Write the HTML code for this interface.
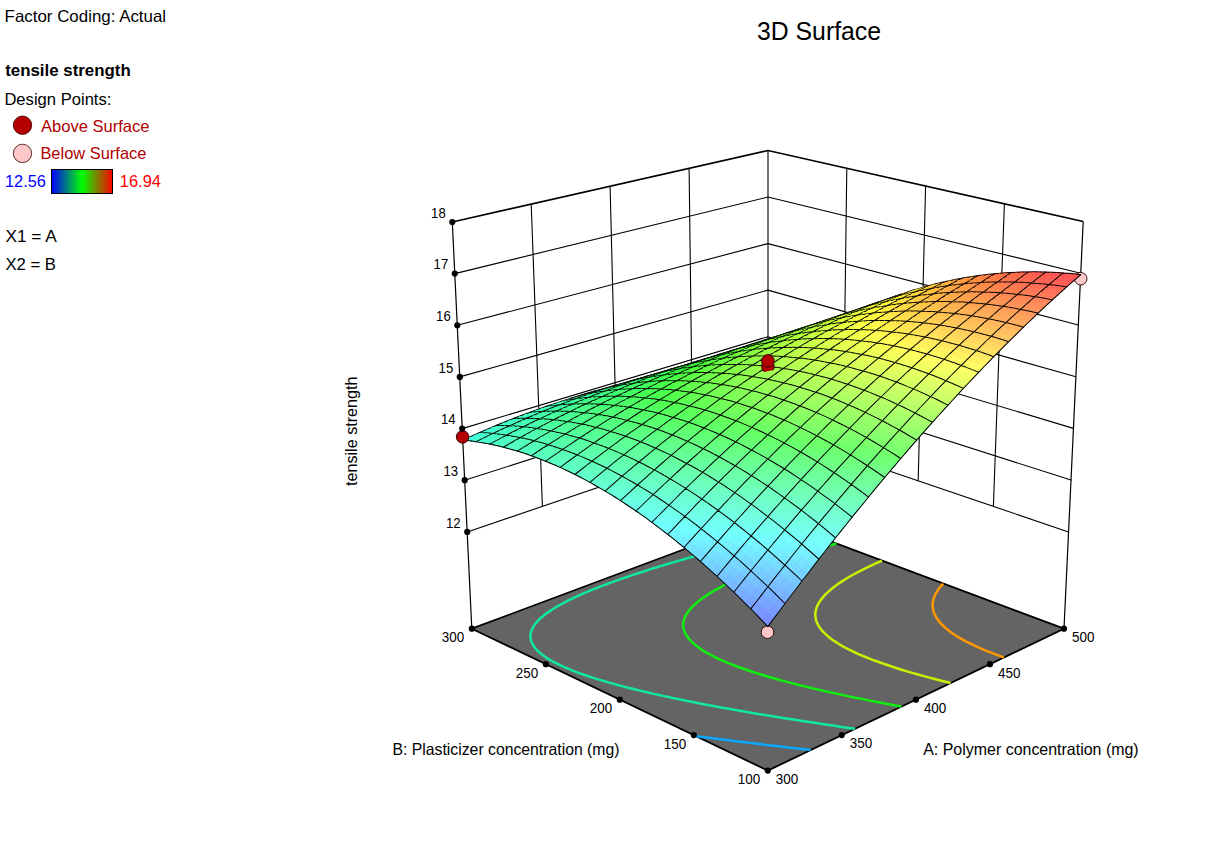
<!DOCTYPE html>
<html><head><meta charset="utf-8"><title>3D Surface</title>
<style>path.m{fill:none;stroke:#000;stroke-width:1.02px}html,body{margin:0;padding:0;background:#fff;overflow:hidden}body{width:1228px;height:864px;position:relative;font-family:"Liberation Sans",sans-serif}</style></head>
<body>
<svg width="1228" height="864" viewBox="0 0 1228 864" style="position:absolute;left:0;top:0">
<g fill="none" stroke="#000" stroke-width="1.1" stroke-linecap="round" stroke-linejoin="round">
<path d="M454.8,273.6 L768,197 L1080.8,273.2 M457.3,325.3 L768,243.6 L1078.3,325 M459.8,376.9 L767.9,290.1 L1075.9,376.7 M462.2,428.6 L767.9,336.7 L1073.4,428.4 M464.7,480.2 L767.9,383.2 L1071,480.1 M467.2,531.9 L767.9,429.8 L1068.5,531.9 M531.2,204.1 L542.4,506.3 M846.8,168.2 L843,455.3 M610.1,186.2 L617.5,480.8 M925.6,186 L918.2,480.8 M689.1,168.4 L692.7,455.3 M1004.4,203.8 L993.4,506.3"/>
</g>
<path d="M452.3,222 L768,150.5 L1083.2,221.5" fill="none" stroke="#000" stroke-width="1.6" stroke-linejoin="miter"/>
<path d="M768,150.5 L768,517.9" fill="none" stroke="#000" stroke-width="1.1"/>
<path d="M471.8,628.7 L767.8,770.6 L1064,628.7 L768,517.9Z" fill="#646464" stroke="#000" stroke-width="1.8" stroke-linejoin="round"/>
<polyline points="696.4,736.3 701.7,736.9 705.9,737.5 711.2,738.1 718.6,739.1 723.1,739.6 727.4,740.1 733.4,740.9 740.4,741.7 744.7,742.2 749.1,742.8 755.4,743.5 762.1,744.3 766.5,744.9 770.9,745.4 777.5,746.1 784.1,746.9 788.5,747.4 792.9,747.9 799.5,748.7 806.2,749.5 810.7,750 810.7,750" fill="none" stroke="#0aa8ff" stroke-width="2.5" stroke-linecap="butt"/>
<polyline points="798.9,529.4 793.5,530.7 788,532 785.3,532.7 779.8,534 775.6,535 771.7,536 766.2,537.4 762.8,538.2 758,539.4 752.6,540.8 749.6,541.6 744.4,542.9 739,544.3 735.7,545.1 730.8,546.4 725.3,547.8 721,549 717.2,550 711.7,551.5 706.3,553 703.6,553.7 698.2,555.2 692.8,556.7 687.9,558.1 684.7,559 679.3,560.6 673.9,562.1 668.5,563.7 665.9,564.5 660.5,566.1 655.2,567.8 649.9,569.4 644.6,571.1 642,572 636.7,573.7 631.5,575.4 626.3,577.2 621.1,578.9 615.9,580.8 610.8,582.6 605.8,584.5 600.7,586.4 595.8,588.3 590.8,590.3 586,592.4 581.2,594.4 576.4,596.6 574.1,597.7 569.5,599.9 565,602.1 560.7,604.5 558.5,605.7 554.3,608.2 551.9,609.7 548.4,612.1 546,613.8 542.9,616.2 541.2,617.7 538.3,620.4 536.6,622.3 535.2,623.9 533.8,625.9 532.4,628.3 531.5,630.6 530.8,632.7 530.5,634.8 530.4,636.7 530.6,638.6 531,640.4 532.1,643.3 533.2,645.3 534.3,646.9 536.7,649.8 538.2,651.3 541.3,654 544.4,656.3 546.7,657.9 550.7,660.3 555,662.7 559.6,664.9 564.3,667.1 569.3,669.2 574.5,671.3 579.9,673.3 582.6,674.3 588.2,676.2 594,678.1 598.1,679.4 602.9,680.8 609,682.6 612.1,683.4 618.4,685.2 623.8,686.6 628,687.7 634.6,689.3 637.9,690.1 644.6,691.7 647.9,692.5 654.8,694.1 658.2,694.8 665.2,696.4 668.7,697.1 675.5,698.6 679.3,699.3 684.9,700.5 690.1,701.5 694.1,702.3 701.1,703.7 704.8,704.4 712.2,705.8 716,706.5 721,707.4 727.3,708.5 731.1,709.2 738.3,710.5 742.5,711.2 746.9,712 754.1,713.2 758,713.9 763.8,714.8 769.8,715.8 773.7,716.4 780.4,717.5 785.7,718.4 789.6,719 796.9,720.1 801.7,720.9 805.7,721.5 813.2,722.6 817.9,723.3 822,723.9 829.3,725 834.3,725.8 838.4,726.4 845.4,727.4 850.9,728.2 855,728.8 855,728.8" fill="none" stroke="#10e89a" stroke-width="2.5" stroke-linecap="butt"/>
<polyline points="836.4,543.4 831.4,545 828.8,545.7 823.9,547.3 818.9,548.8 813.9,550.4 809.2,551.9 806.5,552.8 801.5,554.4 796.6,556.1 791.7,557.7 786.9,559.4 782,561.1 777.2,562.8 774.2,564 770.1,565.5 765.3,567.3 760.6,569.1 756,570.9 751.4,572.8 746.8,574.7 744.5,575.7 740,577.7 735.6,579.7 731.2,581.7 727,583.8 722.7,586 720.7,587.1 716.6,589.3 712.6,591.6 710.5,592.9 706.9,595.2 703.3,597.6 701.5,598.9 698.1,601.5 696.5,602.9 694,605.2 692,607.1 690.7,608.6 688.5,611.2 687.1,613.3 686.1,614.9 685.2,616.6 684.3,618.8 683.7,621 683.3,623.1 683.2,625.2 683.3,627.1 683.7,629 684.3,631.1 685.5,633.8 686.7,635.8 687.8,637.4 690.1,640.2 691.8,641.9 694.4,644.3 696.7,646.1 700.4,648.8 702.3,650.1 706.4,652.6 710.8,655 715.4,657.3 720.2,659.6 725.3,661.8 730.5,663.9 735.8,666 741.3,668 747,670 749.9,671 755.8,672.9 761.8,674.8 767.5,676.5 771,677.5 777.3,679.3 782,680.6 787,681.9 793.6,683.6 796.9,684.5 803.6,686.1 807,687 813.8,688.6 818.4,689.6 824.2,691 829.3,692.1 834.8,693.3 839.8,694.4 845.5,695.6 850,696.6 856.4,697.9 860.1,698.6 867.4,700.1 871.2,700.9 878.6,702.3 882.4,703 888.9,704.3 893.8,705.2 898.2,706 901.4,706.6" fill="none" stroke="#10f010" stroke-width="2.5" stroke-linecap="butt"/>
<polyline points="882,560.6 877.8,562.5 873.6,564.4 869.5,566.3 865.4,568.3 863.4,569.3 859.4,571.3 855.5,573.4 851.6,575.5 849.3,576.8 846.1,578.8 842.5,581.1 840.1,582.6 837.3,584.6 834,587 832.4,588.2 829.4,590.8 827.9,592.1 825.2,594.7 823.9,596.1 822.4,597.9 820.4,600.5 819.4,602 818.4,603.6 817.2,606.1 816.3,608.5 815.8,610.3 815.5,612.1 815.3,614 815.3,616 815.6,618.1 816.1,620.3 816.9,622.6 817.8,624.4 818.7,626.1 820,627.9 822.3,630.9 823.7,632.4 825.8,634.4 828.5,636.8 830.7,638.5 834,640.9 838.1,643.5 840.2,644.8 844.6,647.3 849.2,649.7 854,652 859,654.3 864.2,656.5 869.6,658.7 875.1,660.8 880.8,662.8 886.6,664.8 892.5,666.8 898.5,668.7 901.6,669.7 907.8,671.6 914.1,673.4 917.3,674.3 923.8,676.1 930.4,677.9 933.7,678.8 940.4,680.5 945.6,681.8 950.6,683 950.6,683" fill="none" stroke="#c8f000" stroke-width="2.5" stroke-linecap="butt"/>
<polyline points="943.3,583.6 941.3,585.7 939.7,587.6 938.7,589 936.8,591.8 935.9,593.3 935.1,594.8 934.2,597.1 933.4,599.6 933,601.3 932.7,603.1 932.6,604.9 932.7,606.8 933,608.8 933.4,610.8 934.1,613 935.1,615.2 936.4,617.5 937.5,619.2 938.7,620.8 940.5,623.1 942.9,625.5 944.5,627 947.7,629.7 949.8,631.4 953.3,633.9 955.7,635.5 960,638.1 962.2,639.3 966.8,641.8 971.6,644.2 976.6,646.6 981.8,648.9 985.7,650.6 989.8,652.2 995.4,654.4 998.2,655.4 1003.9,657.5 1003.9,657.5" fill="none" stroke="#ff9800" stroke-width="2.5" stroke-linecap="butt"/>
<path d="M452.3,222 L471.8,628.7 M1083.2,221.5 L1064,628.7" fill="none" stroke="#000" stroke-width="1.2"/>
<circle cx="767.5" cy="632.2" r="6.3" fill="#ffc8c8" stroke="#200" stroke-width="0.9"/>
<circle cx="1080.7" cy="278.7" r="6.3" fill="#ffc8c8" stroke="#200" stroke-width="0.9"/>
<g stroke-linejoin="round" stroke-linecap="round">
<path fill=#41dfff d="M767.9,362.8l4.9,.2l-4.9,4l-5-.3z"/>
<path class=m d="M763.4,366.5l4.5,0M772.4,363.2l-4.5,3.3"/>
<path fill=#40e4ff d="M763.3,362.9l5,.2l-4.9,3.9l-5-.3z"/>
<path class=m d="M758.8,366.6l4.6-.1"/>
<path fill=#40f1ff d="M772.4,359.5l5,.2l-5,3.9l-5-.2z"/>
<path class=m d="M776.9,359.8l-4.5,3.4"/>
<path fill=#40e9ff d="M758.8,363l5,.2l-5,3.8l-5-.2z"/>
<path class=m d="M754.3,366.7l4.5-.1"/>
<path fill=#3ff6ff d="M767.9,359.7l4.9,.1l-4.9,3.9l-5-.2z"/>
<path fill=#3ffffb d="M777,356.3l4.9,.1l-5,3.9l-4.9-.2z"/>
<path class=m d="M781.5,356.6l-4.6,3.2"/>
<path fill=#3feeff d="M754.2,363.2l5,.1l-4.9,3.8l-5-.2z"/>
<path class=m d="M749.7,366.8l4.6-.1M758.8,363.5l-4.5,3.2"/>
<path fill=#3ffbff d="M763.3,359.8l5,.1l-5,3.9l-4.9-.2z"/>
<path fill=#3ffff6 d="M772.4,356.5l5,.1l-5,3.8l-5-.1z"/>
<path fill=#3effe9 d="M781.6,353.1l4.9,.1l-5,3.8l-4.9-.1z"/>
<path class=m d="M777,356.7l4.5-.1M786.1,353.3l-4.6,3.3"/>
<path fill=#3ef3ff d="M749.6,363.4l5,.1l-4.9,3.7l-5-.1z"/>
<path class=m d="M745.1,367l4.6-.2"/>
<path fill=#3efffe d="M758.7,360.1l5,0l-4.9,3.8l-5-.1z"/>
<path class=m d="M763.3,360.3l-4.5,3.2"/>
<path fill=#3efff1 d="M767.9,356.7l5,.1l-5,3.8l-5-.1z"/>
<path fill=#3effe4 d="M777,353.4l5,0l-5,3.8l-5-.1z"/>
<path class=m d="M772.4,356.9l4.6-.2"/>
<path fill=#3ef8ff d="M745,363.6l5,.1l-4.9,3.7l-5-.1z"/>
<path class=m d="M740.5,367.1l4.6-.1"/>
<path fill=#3dffd7 d="M786.2,350l4.9,0l-5,3.8l-5-.1z"/>
<path class=m d="M790.7,350.2l-4.6,3.1"/>
<path fill=#3dfffa d="M754.1,360.3l5.1,.1l-5,3.7l-5-.1z"/>
<path fill=#3dffed d="M763.3,357l5,0l-5,3.7l-5,0z"/>
<path class=m d="M767.9,357.2l-4.6,3.1"/>
<path fill=#3dffe0 d="M772.5,353.7l4.9,0l-5,3.7l-5-.1z"/>
<path class=m d="M767.9,357.2l4.5-.3"/>
<path fill=#3dfcff d="M740.3,363.9l5.1,0l-4.9,3.7l-5.1-.1z"/>
<path class=m d="M735.9,367.4l4.6-.3M745,364.1l-4.5,3"/>
<path fill=#3dffd3 d="M781.6,350.3l5,0l-5,3.7l-5,0z"/>
<path fill=#3dfff5 d="M749.5,360.7l5.1-.1l-5,3.7l-5-.1z"/>
<path fill=#3cffc6 d="M790.8,346.9l5,0l-5.1,3.7l-4.9,0z"/>
<path class=m d="M795.3,347.1l-4.6,3.1"/>
<path fill=#3dffe8 d="M758.7,357.4l5-.1l-5,3.7l-5-.1z"/>
<path fill=#3cffdc d="M767.9,354l5,0l-5,3.6l-5,0z"/>
<path class=m d="M763.3,357.5l4.6-.3M772.5,354.1l-4.6,3.1"/>
<path fill=#3cfffd d="M735.7,364.3l5.1-.1l-4.9,3.6l-5.1,0z"/>
<path class=m d="M731.2,367.7l4.7-.3"/>
<path fill=#3cffcf d="M777.1,350.7l4.9-.1l-5,3.7l-5,0z"/>
<path fill=#3cfff1 d="M744.9,361l5,0l-4.9,3.5l-5.1,0z"/>
<path class=m d="M749.5,361.1l-4.5,3"/>
<path fill=#3cffc2 d="M786.3,347.3l4.9-.1l-5,3.7l-5,0z"/>
<path fill=#3cffe4 d="M754.1,357.7l5-.1l-5,3.6l-5,.1z"/>
<path fill=#3cffb4 d="M795.5,343.9l4.9-.1l-5.1,3.7l-4.9,.1z"/>
<path class=m d="M790.8,347.4l4.5-.3M800,344l-4.7,3.1"/>
<path fill=#3cffd7 d="M763.3,354.4l5-.1l-5,3.6l-5,.1z"/>
<path class=m d="M758.7,357.8l4.6-.3"/>
<path fill=#3cfff9 d="M731,364.6l5.1,0l-4.9,3.5l-5.1,0z"/>
<path class=m d="M726.5,368l4.7-.3"/>
<path fill=#3bffca d="M772.5,351.1l5-.1l-5,3.6l-5.1,0z"/>
<path class=m d="M777.1,351.1l-4.6,3"/>
<path fill=#3bffec d="M740.2,361.4l5.1-.1l-4.9,3.5l-5.1,.1z"/>
<path fill=#3bffbd d="M781.7,347.7l5-.1l-5.1,3.6l-5,.1z"/>
<path fill=#3bffe0 d="M749.4,358.1l5.1-.1l-5,3.6l-5,0z"/>
<path class=m d="M754.1,358.2l-4.6,2.9"/>
<path fill=#3bffb0 d="M790.9,344.4l5-.2l-5.1,3.6l-5,.1z"/>
<path class=m d="M786.3,347.8l4.5-.4"/>
<path fill=#3bffd3 d="M758.6,354.8l5.1-.1l-5,3.6l-5.1,0z"/>
<path class=m d="M754.1,358.2l4.6-.4"/>
<path fill=#3bffa3 d="M800.2,341l4.9-.2l-5.1,3.6l-5,.2z"/>
<path class=m d="M804.7,341l-4.7,3"/>
<path fill=#3bffc6 d="M767.9,351.5l5-.1l-5,3.5l-5.1,.1z"/>
<path fill=#3bfff5 d="M726.3,365l5.2-.1l-4.9,3.5l-5.2,.1z"/>
<path class=m d="M721.9,368.3l4.6-.3M731,365.1l-4.5,2.9"/>
<path fill=#3bffe8 d="M735.5,361.8l5.2-.1l-5,3.5l-5.1,0z"/>
<path fill=#3affb9 d="M777.1,348.2l5-.2l-5,3.6l-5,.1z"/>
<path class=m d="M781.7,348.2l-4.6,2.9"/>
<path fill=#3affdc d="M744.8,358.6l5.1-.2l-5,3.5l-5.1,.1z"/>
<path fill=#3affac d="M786.4,344.9l4.9-.2l-5.1,3.5l-4.9,.1z"/>
<path class=m d="M781.7,348.2l4.6-.4"/>
<path fill=#3affcf d="M754,355.3l5.1-.2l-5,3.5l-5.1,.1z"/>
<path class=m d="M749.4,358.6l4.7-.4M758.6,355.3l-4.5,2.9"/>
<path fill=#3aff9f d="M795.6,341.5l5-.2l-5.2,3.5l-4.9,.2z"/>
<path fill=#3affc2 d="M763.2,352l5.1-.2l-5,3.5l-5.1,.1z"/>
<path fill=#3afff1 d="M721.6,365.5l5.2-.2l-4.9,3.5l-5.2,0z"/>
<path class=m d="M717.2,368.7l4.7-.4"/>
<path fill=#3aff92 d="M804.9,338.1l4.9-.2l-5.1,3.5l-5,.2z"/>
<path class=m d="M809.4,338.1l-4.7,2.9"/>
<path fill=#3affb5 d="M772.5,348.7l5-.2l-5,3.5l-5.1,.1z"/>
<path fill=#3affe4 d="M730.8,362.3l5.2-.2l-4.9,3.4l-5.2,.1z"/>
<path class=m d="M735.6,362.3l-4.6,2.8"/>
<path fill=#3affd8 d="M740.1,359l5.1-.1l-4.9,3.4l-5.2,.1z"/>
<path fill=#39ffa8 d="M781.8,345.4l5-.2l-5.1,3.4l-5,.2z"/>
<path class=m d="M777.1,348.7l4.6-.5M786.3,345.3l-4.6,2.9"/>
<path fill=#39ffcb d="M749.3,355.8l5.1-.2l-4.9,3.4l-5.1,.2z"/>
<path class=m d="M744.8,359l4.6-.4"/>
<path fill=#39ff9b d="M791,342l5-.2l-5.1,3.5l-5,.2z"/>
<path fill=#39ffbe d="M758.6,352.5l5.1-.2l-5,3.4l-5.1,.2z"/>
<path class=m d="M763.2,352.5l-4.6,2.8"/>
<path fill=#39ffed d="M716.9,366l5.2-.2l-4.9,3.3l-5.2,.2z"/>
<path class=m d="M712.4,369.1l4.8-.4"/>
<path fill=#39ff8e d="M800.3,338.7l5-.3l-5.2,3.5l-4.9,.2z"/>
<path fill=#39ffb1 d="M767.9,349.2l5-.2l-5,3.4l-5.1,.2z"/>
<path fill=#39ffe0 d="M726.1,362.8l5.2-.2l-4.9,3.3l-5.2,.2z"/>
<path fill=#39ff81 d="M809.6,335.3l4.9-.3l-5.1,3.5l-5,.2z"/>
<path class=m d="M804.9,338.6l4.5-.5M814.1,335.2l-4.7,2.9"/>
<path fill=#39ffd4 d="M735.4,359.6l5.1-.3l-4.9,3.4l-5.2,.2z"/>
<path class=m d="M740.1,359.5l-4.5,2.8"/>
<path fill=#39ffa4 d="M777.2,345.9l5-.2l-5.1,3.4l-5,.2z"/>
<path class=m d="M772.5,349.1l4.6-.4"/>
<path fill=#39ffc7 d="M744.7,356.3l5.1-.2l-5,3.4l-5.1,.1z"/>
<path class=m d="M740.1,359.5l4.7-.5"/>
<path fill=#38ff97 d="M786.4,342.6l5-.3l-5.1,3.5l-5,.2z"/>
<path class=m d="M791,342.5l-4.7,2.8"/>
<path fill=#38ffba d="M753.9,353.1l5.1-.3l-5,3.4l-5.1,.2z"/>
<path fill=#38ff8a d="M795.7,339.3l5-.3l-5.1,3.4l-5,.2z"/>
<path fill=#39ffe9 d="M712.1,366.5l5.2-.2l-4.8,3.3l-5.2,.1z"/>
<path class=m d="M707.7,369.6l4.7-.5M716.9,366.4l-4.5,2.7"/>
<path fill=#38ffae d="M763.2,349.8l5.1-.3l-5,3.4l-5.1,.2z"/>
<path class=m d="M767.9,349.7l-4.7,2.8"/>
<path fill=#38ffdc d="M721.4,363.3l5.2-.2l-4.9,3.3l-5.2,.2z"/>
<path fill=#38ff7d d="M805.1,335.9l4.9-.3l-5.2,3.4l-4.9,.3z"/>
<path class=m d="M800.3,339.1l4.6-.5"/>
<path fill=#38ffa1 d="M772.5,346.5l5.1-.3l-5.1,3.4l-5.1,.2z"/>
<path class=m d="M767.9,349.7l4.6-.6"/>
<path fill=#38ffd0 d="M730.7,360.1l5.1-.2l-4.9,3.3l-5.2,.2z"/>
<path fill=#38ff70 d="M814.4,332.5l4.9-.3l-5.2,3.4l-4.9,.3z"/>
<path class=m d="M818.9,332.3l-4.8,2.9"/>
<path fill=#38ffc3 d="M740,356.9l5.1-.3l-5,3.3l-5.1,.3z"/>
<path class=m d="M735.4,360l4.7-.5M744.7,356.8l-4.6,2.7"/>
<path fill=#38ff94 d="M781.8,343.2l5.1-.3l-5.2,3.4l-5,.2z"/>
<path fill=#38ffb7 d="M749.2,353.7l5.2-.3l-5,3.3l-5.1,.2z"/>
<path fill=#37ff87 d="M791.1,339.9l5-.3l-5.1,3.3l-5,.3z"/>
<path class=m d="M795.7,339.7l-4.7,2.8"/>
<path fill=#38ffe5 d="M707.3,367.1l5.3-.3l-4.9,3.2l-5.2,.2z"/>
<path class=m d="M702.9,370.1l4.8-.5"/>
<path fill=#37ffaa d="M758.6,350.4l5.1-.3l-5.1,3.3l-5.1,.3z"/>
<path fill=#38ffd9 d="M716.6,363.9l5.3-.3l-4.9,3.3l-5.3,.2z"/>
<path class=m d="M721.4,363.8l-4.5,2.6"/>
<path fill=#37ff79 d="M800.5,336.5l4.9-.3l-5.1,3.4l-5,.3z"/>
<path class=m d="M795.7,339.7l4.6-.6"/>
<path fill=#37ff9d d="M767.9,347.2l5-.4l-5,3.3l-5.1,.3z"/>
<path class=m d="M763.2,350.3l4.7-.6M772.5,347l-4.6,2.7"/>
<path fill=#37ffcc d="M725.9,360.7l5.2-.3l-4.9,3.3l-5.2,.2z"/>
<path fill=#37ff6c d="M809.8,333.2l5-.4l-5.3,3.4l-4.9,.3z"/>
<path fill=#37ff90 d="M777.2,343.9l5-.4l-5.1,3.3l-5,.3z"/>
<path fill=#37ffc0 d="M735.2,357.5l5.2-.3l-5,3.3l-5.1,.2z"/>
<path class=m d="M730.7,360.6l4.7-.6"/>
<path fill=#37ff5f d="M819.2,329.8l4.9-.4l-5.3,3.4l-4.9,.3z"/>
<path class=m d="M823.7,329.6l-4.8,2.7"/>
<path fill=#37ffb3 d="M744.5,354.3l5.2-.3l-5,3.2l-5.1,.3z"/>
<path class=m d="M749.3,354.1l-4.6,2.7"/>
<path fill=#37ff83 d="M786.5,340.6l5-.4l-5.1,3.3l-5,.3z"/>
<path fill=#37ffe1 d="M702.6,367.7l5.2-.3l-4.8,3.1l-5.3,.3z"/>
<path class=m d="M698.1,370.6l4.8-.5"/>
<path fill=#37ffa6 d="M753.9,351.1l5.1-.4l-5,3.3l-5.2,.3z"/>
<path fill=#36ff76 d="M795.9,337.2l5-.4l-5.2,3.4l-5,.3z"/>
<path class=m d="M791.1,340.3l4.6-.6M800.4,337l-4.7,2.7"/>
<path fill=#37ffd5 d="M711.9,364.5l5.2-.3l-4.9,3.2l-5.2,.2z"/>
<path fill=#36ff9a d="M763.2,347.8l5.1-.3l-5.1,3.2l-5.1,.3z"/>
<path class=m d="M758.6,350.9l4.6-.6"/>
<path fill=#37ffc9 d="M721.2,361.4l5.2-.4l-4.9,3.2l-5.2,.3z"/>
<path class=m d="M726,361.2l-4.6,2.6"/>
<path fill=#36ff69 d="M805.2,333.9l5-.4l-5.2,3.3l-5,.3z"/>
<path fill=#36ff8d d="M772.5,344.6l5.1-.4l-5.1,3.2l-5.1,.4z"/>
<path class=m d="M777.2,344.3l-4.7,2.7"/>
<path fill=#36ffbc d="M730.5,358.2l5.2-.4l-5,3.2l-5.2,.3z"/>
<path class=m d="M726,361.2l4.7-.6"/>
<path fill=#36ff5b d="M814.6,330.5l4.9-.4l-5.2,3.3l-5,.4z"/>
<path fill=#36ffb0 d="M739.8,355l5.2-.4l-5,3.2l-5.2,.3z"/>
<path fill=#36ff80 d="M781.9,341.3l5-.4l-5.1,3.2l-5,.4z"/>
<path fill=#36ffde d="M697.7,368.3l5.4-.3l-4.9,3.1l-5.3,.3z"/>
<path class=m d="M693.3,371.2l4.8-.6M702.6,368.1l-4.5,2.5"/>
<path fill=#35ff4e d="M824,327.1l4.9-.4l-5.3,3.3l-4.9,.4z"/>
<path class=m d="M819.1,330.2l4.6-.6M828.5,326.8l-4.8,2.8"/>
<path fill=#36ffa3 d="M749.2,351.8l5.1-.4l-5,3.2l-5.2,.3z"/>
<path class=m d="M753.9,351.5l-4.6,2.6"/>
<path fill=#36ff73 d="M791.3,338l5-.5l-5.2,3.3l-5,.4z"/>
<path class=m d="M786.5,341l4.6-.7"/>
<path fill=#36ffd2 d="M707.1,365.2l5.2-.4l-4.8,3.1l-5.3,.3z"/>
<path fill=#36ff96 d="M758.5,348.6l5.1-.5l-5,3.2l-5.1,.4z"/>
<path class=m d="M753.9,351.5l4.7-.6"/>
<path fill=#35ff65 d="M800.6,334.6l5-.4l-5.2,3.2l-5,.4z"/>
<path class=m d="M805.2,334.3l-4.8,2.7"/>
<path fill=#36ffc5 d="M716.4,362l5.2-.3l-4.9,3.1l-5.2,.3z"/>
<path fill=#35ff89 d="M767.9,345.3l5.1-.4l-5.1,3.2l-5.1,.3z"/>
<path fill=#36ffb9 d="M725.7,358.9l5.3-.4l-5,3.1l-5.2,.4z"/>
<path class=m d="M721.2,361.8l4.8-.6M730.5,358.6l-4.5,2.6"/>
<path fill=#35ff58 d="M810,331.3l5-.5l-5.3,3.3l-4.9,.4z"/>
<path fill=#35ff7c d="M777.2,342l5.1-.4l-5.1,3.2l-5.1,.4z"/>
<path class=m d="M781.9,341.7l-4.7,2.6"/>
<path fill=#35ffac d="M735.1,355.7l5.2-.4l-5,3.1l-5.2,.4z"/>
<path fill=#35ff4b d="M819.4,327.9l4.9-.5l-5.2,3.3l-5,.4z"/>
<path class=m d="M814.5,331l4.6-.8"/>
<path fill=#36ffda d="M692.9,369l5.3-.4l-4.8,3.1l-5.3,.3z"/>
<path class=m d="M688.5,371.8l4.8-.6"/>
<path fill=#35ffa0 d="M744.4,352.5l5.2-.4l-5,3.1l-5.2,.4z"/>
<path fill=#35ff6f d="M786.6,338.7l5.1-.4l-5.2,3.2l-5,.4z"/>
<path class=m d="M781.9,341.7l4.6-.7"/>
<path fill=#35ffce d="M702.3,365.9l5.3-.4l-4.9,3l-5.3,.4z"/>
<path class=m d="M707.1,365.6l-4.5,2.5"/>
<path fill=#34ff3d d="M828.8,324.5l4.9-.5l-5.3,3.3l-4.9,.4z"/>
<path class=m d="M833.3,324.2l-4.8,2.6"/>
<path fill=#35ff93 d="M753.8,349.3l5.1-.4l-5,3.1l-5.1,.4z"/>
<path class=m d="M749.2,352.2l4.7-.7M758.5,349l-4.6,2.5"/>
<path fill=#34ff62 d="M796,335.4l5-.5l-5.2,3.2l-5,.5z"/>
<path fill=#35ffc2 d="M711.6,362.8l5.3-.5l-4.9,3.1l-5.3,.4z"/>
<path fill=#34ff86 d="M763.2,346.1l5.1-.5l-5.1,3.1l-5.1,.4z"/>
<path fill=#35ffb6 d="M721,359.6l5.2-.4l-4.9,3.1l-5.3,.3z"/>
<path class=m d="M716.5,362.5l4.7-.7"/>
<path fill=#34ff55 d="M805.4,332.1l5-.5l-5.2,3.2l-5,.4z"/>
<path class=m d="M810,331.7l-4.8,2.6"/>
<path fill=#34ff79 d="M772.6,342.8l5.1-.5l-5.2,3.2l-5.1,.4z"/>
<path fill=#35ffa9 d="M730.3,356.5l5.2-.5l-4.9,3.1l-5.2,.4z"/>
<path class=m d="M735.1,356.2l-4.6,2.4"/>
<path fill=#34ff48 d="M814.8,328.8l5-.6l-5.3,3.2l-5,.5z"/>
<path class=m d="M810,331.7l4.5-.7"/>
<path fill=#35ffd7 d="M688.1,369.7l5.3-.4l-4.8,3l-5.3,.3z"/>
<path class=m d="M683.7,372.5l4.8-.7"/>
<path fill=#34ff6c d="M782,339.6l5-.6l-5.1,3.2l-5.1,.4z"/>
<path class=m d="M777.2,342.5l4.7-.8M786.6,339.2l-4.7,2.5"/>
<path fill=#34ff9d d="M739.7,353.3l5.2-.5l-5,3.1l-5.2,.4z"/>
<path fill=#34ff3a d="M824.2,325.4l5-.6l-5.4,3.2l-4.9,.5z"/>
<path fill=#35ffcb d="M697.4,366.6l5.4-.4l-4.9,3l-5.3,.4z"/>
<path fill=#34ff90 d="M749.1,350.1l5.1-.5l-5,3.1l-5.2,.4z"/>
<path class=m d="M744.5,353l4.7-.8"/>
<path fill=#34ff5f d="M791.4,336.3l5-.6l-5.2,3.2l-5,.4z"/>
<path fill=#34ffbf d="M706.8,363.5l5.3-.4l-4.9,3l-5.3,.4z"/>
<path class=m d="M711.7,363.2l-4.6,2.4"/>
<path fill=#3aff33 d="M833.7,322l4.9-.6l-5.4,3.2l-4.9,.5z"/>
<path class=m d="M838.1,321.6l-4.8,2.6"/>
<path fill=#34ff83 d="M758.5,346.9l5.1-.5l-5.1,3.1l-5.1,.4z"/>
<path class=m d="M763.2,346.5l-4.7,2.5"/>
<path fill=#33ff52 d="M800.8,333l5-.6l-5.2,3.1l-5,.5z"/>
<path fill=#34ffb2 d="M716.2,360.4l5.2-.5l-4.9,3l-5.3,.5z"/>
<path class=m d="M711.7,363.2l4.8-.7"/>
<path fill=#33ff76 d="M767.9,343.7l5.1-.6l-5.1,3.1l-5.1,.5z"/>
<path fill=#34ffa6 d="M725.5,357.3l5.3-.5l-5,3l-5.2,.4z"/>
<path fill=#33ff45 d="M810.2,329.6l5-.6l-5.3,3.2l-5,.5z"/>
<path class=m d="M805.4,332.6l4.6-.9M814.8,329.2l-4.8,2.5"/>
<path fill=#34ffd4 d="M683.2,370.5l5.4-.5l-4.8,2.9l-5.4,.4z"/>
<path class=m d="M678.8,373.2l4.9-.7M688.2,370.2l-4.5,2.3"/>
<path fill=#33ff69 d="M777.3,340.4l5.1-.5l-5.2,3l-5.1,.5z"/>
<path class=m d="M772.6,343.3l4.6-.8"/>
<path fill=#33ff99 d="M734.9,354.1l5.3-.5l-5,3l-5.3,.5z"/>
<path class=m d="M739.7,353.8l-4.6,2.4"/>
<path fill=#33ff37 d="M819.6,326.3l5-.6l-5.3,3.1l-5,.6z"/>
<path fill=#34ffc8 d="M692.6,367.4l5.3-.5l-4.8,3l-5.4,.4z"/>
<path fill=#33ff8d d="M744.3,350.9l5.2-.5l-5,3l-5.2,.5z"/>
<path class=m d="M739.7,353.8l4.8-.8"/>
<path fill=#33ff5c d="M786.7,337.1l5.1-.5l-5.2,3l-5.1,.6z"/>
<path class=m d="M791.3,336.7l-4.7,2.5"/>
<path fill=#33ffbc d="M701.9,364.3l5.4-.5l-4.9,3l-5.3,.4z"/>
<path fill=#3bff33 d="M829.1,322.9l4.9-.6l-5.3,3.1l-5,.6z"/>
<path fill=#33ff80 d="M753.7,347.8l5.2-.6l-5.1,3l-5.1,.5z"/>
<path fill=#33ff4f d="M796.1,333.8l5.1-.5l-5.3,3l-5,.6z"/>
<path fill=#33ffaf d="M711.3,361.2l5.3-.5l-4.9,3l-5.3,.4z"/>
<path class=m d="M706.9,364l4.8-.8M716.2,360.9l-4.5,2.3"/>
<path fill=#49ff32 d="M838.5,319.5l4.9-.6l-5.4,3.1l-4.8,.6z"/>
<path class=m d="M833.6,322.4l4.5-.8M843,319l-4.9,2.6"/>
<path fill=#33ff73 d="M763.2,344.5l5.1-.5l-5.1,3l-5.1,.5z"/>
<path class=m d="M767.9,344.1l-4.7,2.4"/>
<path fill=#32ff42 d="M805.6,330.5l5-.6l-5.3,3.1l-5,.6z"/>
<path class=m d="M800.7,333.4l4.7-.8"/>
<path fill=#33ffa3 d="M720.7,358.1l5.3-.5l-4.9,2.9l-5.3,.5z"/>
<path fill=#33ffd1 d="M678.3,371.3l5.4-.5l-4.8,2.8l-5.4,.5z"/>
<path class=m d="M673.9,374l4.9-.8"/>
<path fill=#32ff66 d="M772.6,341.3l5.1-.6l-5.1,3l-5.2,.6z"/>
<path class=m d="M767.9,344.1l4.7-.8"/>
<path fill=#33ff97 d="M730.1,355l5.3-.6l-5,3l-5.2,.5z"/>
<path fill=#32ff34 d="M815,327.2l5-.6l-5.3,3l-5,.6z"/>
<path class=m d="M819.6,326.7l-4.8,2.5"/>
<path fill=#33ffc5 d="M687.7,368.2l5.4-.5l-4.8,2.9l-5.4,.5z"/>
<path class=m d="M692.7,367.9l-4.5,2.3"/>
<path fill=#32ff59 d="M782,338.1l5.1-.7l-5.2,3.1l-5.1,.5z"/>
<path fill=#32ff8a d="M739.6,351.8l5.2-.5l-5,2.9l-5.3,.5z"/>
<path class=m d="M735,354.6l4.7-.8M744.4,351.4l-4.7,2.4"/>
<path fill=#3dff32 d="M824.5,323.9l4.9-.7l-5.3,3.1l-4.9,.6z"/>
<path fill=#33ffb9 d="M697.1,365.2l5.4-.6l-4.9,2.9l-5.4,.5z"/>
<path fill=#32ff7d d="M749,348.7l5.2-.6l-5.1,2.9l-5.2,.5z"/>
<path fill=#32ff4c d="M791.5,334.8l5-.7l-5.2,3.1l-5,.5z"/>
<path class=m d="M796.1,334.3l-4.8,2.4"/>
<path fill=#32ffad d="M706.5,362.1l5.3-.6l-4.9,2.9l-5.3,.5z"/>
<path class=m d="M702,364.8l4.9-.8"/>
<path fill=#4aff31 d="M834,320.5l4.9-.7l-5.4,3.1l-4.9,.6z"/>
<path class=m d="M829,323.4l4.6-1"/>
<path fill=#32ff70 d="M758.4,345.5l5.2-.7l-5.1,3l-5.2,.5z"/>
<path fill=#31ff3f d="M800.9,331.5l5.1-.7l-5.3,3.1l-5,.5z"/>
<path class=m d="M796.1,334.3l4.6-.9"/>
<path fill=#32ffa0 d="M715.9,359l5.3-.6l-4.9,2.9l-5.3,.5z"/>
<path class=m d="M720.8,358.6l-4.6,2.3"/>
<path fill=#57ff31 d="M843.4,317.1l4.9-.7l-5.4,3.1l-4.9,.6z"/>
<path class=m d="M847.9,316.6l-4.9,2.4"/>
<path fill=#32ffce d="M673.4,372.1l5.4-.5l-4.7,2.8l-5.5,.5z"/>
<path class=m d="M669,374.7l4.9-.7"/>
<path fill=#32ff64 d="M767.9,342.2l5.1-.6l-5.1,3l-5.2,.5z"/>
<path class=m d="M763.2,345l4.7-.9M772.6,341.8l-4.7,2.3"/>
<path fill=#32ff94 d="M725.3,355.9l5.3-.6l-5,2.9l-5.2,.5z"/>
<path fill=#31ff32 d="M810.4,328.2l5-.7l-5.3,3l-5,.6z"/>
<path fill=#32ffc2 d="M682.8,369.1l5.4-.6l-4.8,2.9l-5.4,.5z"/>
<path fill=#31ff57 d="M777.3,339l5.1-.6l-5.1,2.9l-5.1,.6z"/>
<path fill=#32ff87 d="M734.8,352.8l5.2-.7l-5,2.9l-5.2,.6z"/>
<path class=m d="M730.2,355.4l4.8-.8"/>
<path fill=#3eff31 d="M819.9,324.9l4.9-.7l-5.3,3l-5,.6z"/>
<path class=m d="M824.4,324.3l-4.8,2.4"/>
<path fill=#32ffb6 d="M692.2,366.1l5.4-.6l-4.8,2.8l-5.4,.5z"/>
<path class=m d="M697.2,365.6l-4.5,2.3"/>
<path fill=#31ff4a d="M786.8,335.8l5.1-.7l-5.2,2.9l-5.1,.7z"/>
<path fill=#31ff7b d="M744.2,349.6l5.2-.6l-5,2.8l-5.2,.6z"/>
<path class=m d="M749,349.1l-4.6,2.3"/>
<path fill=#4bff31 d="M829.4,321.5l4.9-.7l-5.4,3l-4.9,.7z"/>
<path class=m d="M824.4,324.3l4.6-.9"/>
<path fill=#32ffaa d="M701.6,363l5.4-.6l-4.9,2.8l-5.3,.6z"/>
<path class=m d="M697.2,365.6l4.8-.8"/>
<path fill=#31ff6e d="M753.7,346.4l5.2-.6l-5.1,2.9l-5.2,.5z"/>
<path fill=#31ff3c d="M796.3,332.5l5-.7l-5.2,2.9l-5.1,.7z"/>
<path class=m d="M791.4,335.2l4.7-.9M800.9,331.9l-4.8,2.4"/>
<path fill=#31ff9d d="M711.1,359.9l5.3-.6l-4.9,2.8l-5.3,.6z"/>
<path fill=#58ff30 d="M838.9,318.1l4.9-.7l-5.4,3l-4.9,.7z"/>
<path fill=#32ffcb d="M668.5,373l5.4-.6l-4.7,2.8l-5.5,.5z"/>
<path class=m d="M664.1,375.6l4.9-.9M673.5,372.6l-4.5,2.1"/>
<path fill=#31ff61 d="M763.1,343.2l5.2-.6l-5.1,2.8l-5.2,.7z"/>
<path class=m d="M758.4,345.9l4.8-.9"/>
<path fill=#32ff30 d="M805.8,329.2l5-.7l-5.3,2.9l-5,.7z"/>
<path fill=#31ff91 d="M720.5,356.8l5.3-.6l-4.9,2.8l-5.3,.6z"/>
<path class=m d="M725.4,356.3l-4.6,2.3"/>
<path fill=#65ff30 d="M848.4,314.7l4.8-.7l-5.4,3l-4.9,.7z"/>
<path class=m d="M852.8,314.1l-4.9,2.5"/>
<path fill=#31ffbf d="M677.9,370l5.4-.6l-4.7,2.8l-5.5,.5z"/>
<path fill=#30ff54 d="M772.6,340l5.1-.7l-5.1,2.9l-5.2,.6z"/>
<path class=m d="M777.3,339.5l-4.7,2.3"/>
<path fill=#31ff85 d="M730,353.7l5.2-.6l-4.9,2.8l-5.3,.6z"/>
<path class=m d="M725.4,356.3l4.8-.9"/>
<path fill=#3fff30 d="M815.3,325.9l4.9-.8l-5.3,3l-5,.7z"/>
<path fill=#31ffb3 d="M687.3,367l5.4-.6l-4.8,2.7l-5.4,.6z"/>
<path fill=#30ff47 d="M782.1,336.8l5.1-.7l-5.2,2.9l-5.1,.6z"/>
<path fill=#30ff78 d="M739.4,350.6l5.3-.7l-5.1,2.8l-5.2,.6z"/>
<path fill=#4bff30 d="M824.8,322.6l4.9-.8l-5.4,2.9l-4.9,.7z"/>
<path class=m d="M819.8,325.3l4.6-1M829.3,321.9l-4.9,2.4"/>
<path fill=#31ffa7 d="M696.7,364l5.5-.7l-4.9,2.8l-5.4,.6z"/>
<path class=m d="M692.3,366.5l4.9-.9M701.7,363.5l-4.5,2.1"/>
<path fill=#30ff6b d="M748.9,347.4l5.2-.7l-5.1,2.9l-5.2,.6z"/>
<path class=m d="M753.7,346.9l-4.7,2.2"/>
<path fill=#30ff3a d="M791.6,333.5l5.1-.7l-5.3,2.9l-5.1,.7z"/>
<path class=m d="M786.8,336.2l4.6-1"/>
<path fill=#30ff9b d="M706.2,360.9l5.4-.7l-4.9,2.8l-5.4,.6z"/>
<path fill=#58ff30 d="M834.3,319.2l4.9-.8l-5.4,3l-4.9,.7z"/>
<path fill=#31ffc9 d="M663.5,374l5.5-.7l-4.7,2.7l-5.5,.6z"/>
<path class=m d="M659.2,376.4l4.9-.8"/>
<path fill=#30ff5e d="M758.4,344.3l5.2-.8l-5.1,2.9l-5.2,.6z"/>
<path class=m d="M753.7,346.9l4.7-1"/>
<path fill=#32ff30 d="M801.1,330.3l5-.8l-5.3,2.9l-5,.7z"/>
<path class=m d="M805.7,329.6l-4.8,2.3"/>
<path fill=#30ff8f d="M715.7,357.8l5.3-.7l-4.9,2.8l-5.4,.6z"/>
<path fill=#66ff2f d="M843.8,315.8l4.9-.8l-5.5,3l-4.9,.7z"/>
<path fill=#30ffbd d="M672.9,371l5.5-.7l-4.7,2.7l-5.5,.6z"/>
<path class=m d="M678,370.5l-4.5,2.1"/>
<path fill=#30ff52 d="M767.9,341.1l5.1-.8l-5.1,2.8l-5.2,.7z"/>
<path fill=#3fff2f d="M810.6,327l5-.8l-5.3,2.9l-5,.7z"/>
<path fill=#30ff82 d="M725.1,354.7l5.4-.7l-5,2.8l-5.3,.6z"/>
<path class=m d="M720.6,357.3l4.8-1M730,354.2l-4.6,2.1"/>
<path fill=#73ff2f d="M853.3,312.5l4.9-.9l-5.5,3l-4.9,.7z"/>
<path class=m d="M848.3,315.2l4.5-1.1M857.8,311.8l-5,2.3"/>
<path fill=#30ffb1 d="M682.4,368l5.5-.7l-4.8,2.7l-5.5,.6z"/>
<path fill=#2fff45 d="M777.4,337.8l5.1-.7l-5.2,2.8l-5.1,.7z"/>
<path class=m d="M782.1,337.2l-4.8,2.3"/>
<path fill=#30ff76 d="M734.6,351.6l5.3-.7l-5,2.7l-5.3,.7z"/>
<path fill=#4cff2f d="M820.1,323.7l5-.8l-5.4,2.8l-4.9,.8z"/>
<path class=m d="M815.2,326.3l4.6-1"/>
<path fill=#30ffa5 d="M691.8,365l5.5-.7l-4.9,2.6l-5.4,.7z"/>
<path class=m d="M687.4,367.4l4.9-.9"/>
<path fill=#2fff37 d="M786.9,334.6l5.1-.8l-5.3,2.9l-5.1,.7z"/>
<path class=m d="M782.1,337.2l4.7-1"/>
<path fill=#2fff69 d="M744.1,348.5l5.3-.8l-5.1,2.8l-5.3,.7z"/>
<path fill=#59ff2f d="M829.7,320.3l4.9-.8l-5.4,2.9l-5,.8z"/>
<path class=m d="M834.2,319.7l-4.9,2.2"/>
<path fill=#30ff98 d="M701.3,361.9l5.4-.7l-4.9,2.7l-5.4,.6z"/>
<path class=m d="M706.3,361.3l-4.6,2.2"/>
<path fill=#30ffc6 d="M658.5,375l5.6-.7l-4.7,2.6l-5.6,.6z"/>
<path class=m d="M654.2,377.4l5-1"/>
<path fill=#2fff5c d="M753.6,345.3l5.2-.7l-5.1,2.7l-5.2,.7z"/>
<path class=m d="M748.9,347.9l4.8-1M758.4,344.7l-4.7,2.2"/>
<path fill=#33ff2f d="M796.4,331.4l5.1-.8l-5.3,2.8l-5.1,.7z"/>
<path fill=#2fff8c d="M710.8,358.9l5.4-.8l-4.9,2.7l-5.4,.7z"/>
<path fill=#66ff2e d="M839.2,317l4.9-.9l-5.4,2.9l-5,.8z"/>
<path fill=#30ffba d="M668,372l5.5-.7l-4.7,2.6l-5.6,.6z"/>
<path fill=#2fff4f d="M763.1,342.1l5.2-.7l-5.1,2.7l-5.2,.7z"/>
<path fill=#40ff2e d="M805.9,328.1l5.1-.8l-5.4,2.8l-5,.8z"/>
<path class=m d="M810.5,327.4l-4.8,2.2"/>
<path fill=#2fff80 d="M720.3,355.8l5.3-.8l-4.9,2.7l-5.4,.7z"/>
<path class=m d="M715.8,358.3l4.8-1"/>
<path fill=#73ff2e d="M848.8,313.6l4.8-.9l-5.5,2.9l-4.8,.8z"/>
<path class=m d="M843.7,316.3l4.6-1.1"/>
<path fill=#2fffae d="M677.4,369l5.6-.7l-4.8,2.6l-5.5,.6z"/>
<path class=m d="M682.5,368.4l-4.5,2.1"/>
<path fill=#2eff42 d="M772.6,339l5.2-.8l-5.2,2.7l-5.2,.8z"/>
<path fill=#4dff2e d="M815.5,324.8l5-.8l-5.4,2.8l-5,.8z"/>
<path class=m d="M810.5,327.4l4.7-1.1"/>
<path fill=#2fff73 d="M729.8,352.7l5.3-.8l-5,2.7l-5.3,.7z"/>
<path class=m d="M734.7,352.1l-4.7,2.1"/>
<path fill=#81ff2e d="M858.3,310.2l4.9-.9l-5.6,2.9l-4.8,.8z"/>
<path class=m d="M862.7,309.5l-4.9,2.3"/>
<path fill=#2fffa2 d="M686.9,366l5.5-.7l-4.8,2.6l-5.5,.6z"/>
<path class=m d="M682.5,368.4l4.9-1"/>
<path fill=#2eff35 d="M782.2,335.7l5.1-.8l-5.3,2.8l-5.1,.7z"/>
<path class=m d="M777.4,338.3l4.7-1.1M786.9,335.1l-4.8,2.1"/>
<path fill=#2eff67 d="M739.3,349.6l5.3-.8l-5.1,2.7l-5.3,.7z"/>
<path fill=#5aff2e d="M825,321.5l5-.9l-5.4,2.8l-5,.9z"/>
<path fill=#2fff96 d="M696.4,363l5.5-.8l-4.9,2.6l-5.4,.7z"/>
<path fill=#2fffc4 d="M653.5,376l5.6-.8l-4.7,2.6l-5.6,.6z"/>
<path class=m d="M649.3,378.3l4.9-.9M658.7,375.4l-4.5,2"/>
<path fill=#34ff2e d="M791.7,332.5l5.1-.8l-5.3,2.7l-5.1,.8z"/>
<path fill=#2eff5a d="M748.8,346.4l5.3-.8l-5.1,2.7l-5.3,.8z"/>
<path class=m d="M744.1,348.9l4.8-1"/>
<path fill=#67ff2e d="M834.6,318.2l4.9-.9l-5.4,2.8l-5,.8z"/>
<path class=m d="M839.1,317.4l-4.9,2.3"/>
<path fill=#2eff8a d="M705.9,359.9l5.4-.7l-4.9,2.6l-5.4,.7z"/>
<path class=m d="M710.9,359.3l-4.6,2"/>
<path fill=#2fffb8 d="M663,373l5.6-.7l-4.7,2.5l-5.6,.7z"/>
<path fill=#2eff4d d="M758.3,343.3l5.2-.8l-5.1,2.7l-5.2,.7z"/>
<path class=m d="M763.1,342.6l-4.7,2.1"/>
<path fill=#40ff2e d="M801.3,329.3l5-.9l-5.3,2.8l-5.1,.8z"/>
<path fill=#2eff7d d="M715.4,356.9l5.4-.8l-4.9,2.6l-5.4,.7z"/>
<path class=m d="M710.9,359.3l4.9-1"/>
<path fill=#74ff2d d="M844.2,314.8l4.8-.9l-5.5,2.8l-4.8,.9z"/>
<path class=m d="M839.1,317.4l4.6-1.1"/>
<path fill=#2effac d="M672.5,370.1l5.5-.8l-4.7,2.5l-5.6,.7z"/>
<path fill=#2eff40 d="M767.9,340.1l5.1-.8l-5.1,2.7l-5.2,.7z"/>
<path fill=#4dff2d d="M810.8,326l5-.9l-5.3,2.8l-5.1,.8z"/>
<path class=m d="M805.9,328.5l4.6-1.1M815.4,325.2l-4.9,2.2"/>
<path fill=#2eff71 d="M724.9,353.8l5.4-.8l-5,2.6l-5.4,.8z"/>
<path fill=#81ff2d d="M853.8,311.5l4.8-1l-5.5,2.8l-4.9,.9z"/>
<path fill=#2effa0 d="M682,367.1l5.5-.8l-4.8,2.5l-5.5,.8z"/>
<path class=m d="M677.6,369.4l4.9-1M687.1,366.4l-4.6,2"/>
<path fill=#2dff33 d="M777.4,336.9l5.2-.9l-5.3,2.7l-5.1,.8z"/>
<path class=m d="M772.6,339.4l4.8-1.1"/>
<path fill=#2eff64 d="M734.4,350.7l5.4-.8l-5.1,2.6l-5.3,.8z"/>
<path class=m d="M739.3,350l-4.6,2.1"/>
<path fill=#5aff2d d="M820.4,322.7l5-.9l-5.5,2.7l-4.9,.9z"/>
<path fill=#2eff94 d="M691.5,364.1l5.5-.8l-4.9,2.5l-5.5,.8z"/>
<path fill=#8eff2d d="M863.3,308.1l4.9-1l-5.6,2.8l-4.9,.9z"/>
<path class=m d="M867.7,307.2l-5,2.3"/>
<path fill=#2effc2 d="M648.5,377.1l5.7-.9l-4.7,2.5l-5.7,.7z"/>
<path class=m d="M644.3,379.3l5-1"/>
<path fill=#34ff2d d="M787,333.7l5.1-.9l-5.3,2.7l-5.1,.8z"/>
<path class=m d="M791.7,333l-4.8,2.1"/>
<path fill=#2dff58 d="M744,347.6l5.3-.9l-5.1,2.7l-5.3,.8z"/>
<path class=m d="M739.3,350l4.8-1.1"/>
<path fill=#67ff2d d="M830,319.4l4.9-1l-5.5,2.8l-4.9,.9z"/>
<path fill=#2eff88 d="M701,361.1l5.5-.9l-4.9,2.6l-5.5,.7z"/>
<path fill=#2effb6 d="M658,374.1l5.6-.8l-4.7,2.5l-5.6,.7z"/>
<path class=m d="M663.2,373.4l-4.5,2"/>
<path fill=#41ff2d d="M796.5,330.5l5.1-.9l-5.3,2.7l-5.1,.8z"/>
<path fill=#2dff4b d="M753.5,344.5l5.3-.9l-5.1,2.6l-5.3,.8z"/>
<path fill=#74ff2c d="M839.6,316.1l4.8-1l-5.5,2.7l-4.9,.9z"/>
<path class=m d="M834.5,318.6l4.6-1.2M844,315.2l-4.9,2.2"/>
<path fill=#2dff7b d="M710.5,358l5.4-.8l-4.9,2.5l-5.4,.8z"/>
<path class=m d="M706,360.4l4.9-1.1M715.5,357.3l-4.6,2"/>
<path fill=#2effaa d="M667.5,371.2l5.6-.9l-4.7,2.5l-5.6,.8z"/>
<path fill=#2dff3e d="M763.1,341.3l5.2-.9l-5.2,2.6l-5.2,.9z"/>
<path class=m d="M767.9,340.6l-4.8,2"/>
<path fill=#4dff2c d="M806.1,327.2l5.1-.9l-5.4,2.7l-5,.8z"/>
<path class=m d="M801.2,329.7l4.7-1.2"/>
<path fill=#2dff6f d="M720,355l5.4-.9l-4.9,2.6l-5.4,.8z"/>
<path fill=#81ff2c d="M849.2,312.7l4.8-1l-5.5,2.8l-4.9,.9z"/>
<path fill=#2dff9e d="M677,368.2l5.6-.8l-4.8,2.4l-5.6,.8z"/>
<path class=m d="M672.7,370.5l4.9-1.1"/>
<path fill=#2cff31 d="M772.7,338.1l5.1-.9l-5.2,2.7l-5.2,.8z"/>
<path class=m d="M767.9,340.6l4.7-1.2"/>
<path fill=#5aff2c d="M815.7,324l5-1l-5.4,2.7l-5,.9z"/>
<path class=m d="M820.3,323.1l-4.9,2.1"/>
<path fill=#2dff62 d="M729.6,351.9l5.4-.9l-5.1,2.6l-5.3,.8z"/>
<path fill=#8eff2c d="M858.8,309.4l4.8-1.1l-5.6,2.8l-4.8,.9z"/>
<path fill=#2dff92 d="M686.5,365.2l5.6-.8l-4.8,2.4l-5.6,.8z"/>
<path class=m d="M691.6,364.5l-4.5,1.9"/>
<path fill=#2dffbf d="M643.5,378.2l5.7-.9l-4.7,2.4l-5.7,.8z"/>
<path class=m d="M639.3,380.3l5-1"/>
<path fill=#34ff2c d="M782.2,334.9l5.2-.9l-5.3,2.6l-5.1,.9z"/>
<path fill=#2cff56 d="M739.1,348.8l5.4-.9l-5.1,2.6l-5.3,.8z"/>
<path class=m d="M734.5,351.1l4.8-1.1M744,348l-4.7,2"/>
<path fill=#67ff2c d="M825.3,320.7l5-1l-5.5,2.7l-4.9,.9z"/>
<path fill=#2dff86 d="M696,362.2l5.6-.8l-4.9,2.4l-5.5,.8z"/>
<path fill=#9cff2b d="M868.4,306l4.8-1.1l-5.7,2.7l-4.8,1z"/>
<path class=m d="M863.2,308.5l4.5-1.3M872.7,305.1l-5,2.1"/>
<path fill=#2dffb4 d="M653,375.3l5.6-.9l-4.6,2.4l-5.7,.8z"/>
<path fill=#41ff2c d="M791.8,331.7l5.1-.9l-5.3,2.6l-5.1,.9z"/>
<path class=m d="M796.5,330.9l-4.8,2.1"/>
<path fill=#2cff49 d="M748.7,345.7l5.3-.9l-5.1,2.5l-5.3,.9z"/>
<path fill=#74ff2b d="M834.9,317.4l4.9-1.1l-5.5,2.7l-4.9,1z"/>
<path class=m d="M829.8,319.8l4.7-1.2"/>
<path fill=#2cff79 d="M705.6,359.2l5.5-.9l-4.9,2.5l-5.5,.8z"/>
<path class=m d="M701.1,361.5l4.9-1.1"/>
<path fill=#2dffa8 d="M662.5,372.4l5.6-1l-4.7,2.4l-5.6,.9z"/>
<path class=m d="M667.7,371.6l-4.5,1.8"/>
<path fill=#2cff3c d="M758.3,342.5l5.2-.9l-5.1,2.6l-5.3,.8z"/>
<path fill=#4dff2c d="M801.4,328.5l5.1-1l-5.4,2.6l-5,1z"/>
<path class=m d="M796.5,330.9l4.7-1.2"/>
<path fill=#2cff6d d="M715.1,356.2l5.5-.9l-4.9,2.4l-5.5,.9z"/>
<path class=m d="M720.2,355.4l-4.7,1.9"/>
<path fill=#81ff2b d="M844.5,314l4.9-1l-5.5,2.7l-4.9,.9z"/>
<path class=m d="M849,313.1l-5,2.1"/>
<path fill=#2cff9c d="M672,369.4l5.6-.9l-4.7,2.4l-5.6,.8z"/>
<path class=m d="M667.7,371.6l5-1.1"/>
<path fill=#2cff2f d="M767.9,339.4l5.2-1l-5.2,2.6l-5.2,.9z"/>
<path class=m d="M763.1,341.7l4.8-1.1M772.6,338.6l-4.7,2"/>
<path fill=#5aff2b d="M811,325.2l5-1l-5.4,2.7l-5,.9z"/>
<path fill=#2cff61 d="M724.7,353.1l5.4-.9l-5,2.5l-5.4,.8z"/>
<path fill=#8eff2b d="M854.2,310.7l4.8-1.1l-5.6,2.7l-4.8,1z"/>
<path fill=#2cff90 d="M681.5,366.4l5.6-.9l-4.7,2.4l-5.6,.9z"/>
<path fill=#2cffbd d="M638.4,379.4l5.8-1l-4.6,2.3l-5.8,.9z"/>
<path class=m d="M634.2,381.4l5.1-1.1M643.7,378.5l-4.4,1.8"/>
<path fill=#34ff2b d="M777.5,336.2l5.1-1l-5.2,2.6l-5.2,.9z"/>
<path fill=#67ff2b d="M820.7,322l4.9-1.1l-5.5,2.7l-4.9,.9z"/>
<path class=m d="M825.2,321.1l-4.9,2"/>
<path fill=#2cff54 d="M734.3,350l5.3-.9l-5,2.5l-5.3,.9z"/>
<path class=m d="M729.7,352.3l4.8-1.2"/>
<path fill=#9cff2b d="M863.8,307.3l4.8-1.1l-5.7,2.7l-4.7,1z"/>
<path class=m d="M858.6,309.8l4.6-1.3"/>
<path fill=#2cff84 d="M691.1,363.5l5.6-1l-4.9,2.4l-5.5,.9z"/>
<path class=m d="M696.2,362.6l-4.6,1.9"/>
<path fill=#2cffb2 d="M647.9,376.5l5.8-1l-4.7,2.3l-5.7,.9z"/>
<path fill=#41ff2b d="M787.1,333l5.1-1l-5.3,2.6l-5.1,.9z"/>
<path fill=#2bff47 d="M743.9,346.9l5.3-.9l-5.1,2.5l-5.3,.9z"/>
<path class=m d="M748.8,346.1l-4.8,1.9"/>
<path fill=#74ff2b d="M830.3,318.7l4.9-1.1l-5.5,2.6l-4.9,1z"/>
<path class=m d="M825.2,321.1l4.6-1.3"/>
<path fill=#2cff78 d="M700.6,360.5l5.6-1l-4.9,2.4l-5.5,.9z"/>
<path class=m d="M696.2,362.6l4.9-1.1"/>
<path fill=#a9ff2a d="M873.5,304l4.7-1.2l-5.7,2.7l-4.7,1z"/>
<path class=m d="M877.8,303l-5.1,2.1"/>
<path fill=#2cffa6 d="M657.4,373.6l5.8-1l-4.7,2.3l-5.7,.9z"/>
<path fill=#4dff2b d="M796.7,329.8l5.1-1l-5.4,2.6l-5.1,.9z"/>
<path class=m d="M791.8,332.2l4.7-1.3M801.3,328.9l-4.8,2"/>
<path fill=#2bff3b d="M753.5,343.8l5.2-1l-5.1,2.5l-5.3,1z"/>
<path fill=#81ff2a d="M839.9,315.4l4.9-1.1l-5.6,2.6l-4.9,1z"/>
<path fill=#2bff6b d="M710.2,357.4l5.5-.9l-4.9,2.4l-5.5,.9z"/>
<path fill=#2cff9a d="M667,370.6l5.7-.9l-4.7,2.2l-5.7,1z"/>
<path class=m d="M662.7,372.7l5-1.1M672.2,369.8l-4.5,1.8"/>
<path fill=#2bff2e d="M763.1,340.7l5.2-1l-5.2,2.5l-5.2,.9z"/>
<path class=m d="M758.3,343l4.8-1.3"/>
<path fill=#5aff2a d="M806.3,326.6l5-1.1l-5.4,2.6l-5,1z"/>
<path fill=#2bff5f d="M719.8,354.4l5.5-1l-5,2.4l-5.4,.9z"/>
<path class=m d="M724.8,353.5l-4.6,1.9"/>
<path fill=#8eff2a d="M849.6,312.1l4.8-1.2l-5.6,2.6l-4.9,1.1z"/>
<path class=m d="M854,311.1l-5,2"/>
<path fill=#2bff8e d="M676.5,367.7l5.7-1l-4.7,2.3l-5.7,.9z"/>
<path fill=#2cffbc d="M633.3,380.6l5.8-1l-4.5,2.1l-5.8,1z"/>
<path class=m d="M629.2,382.5l5-1.1"/>
<path fill=#34ff2a d="M772.7,337.5l5.2-1l-5.3,2.5l-5.2,1z"/>
<path class=m d="M777.4,336.7l-4.8,1.9"/>
<path fill=#67ff2a d="M816,323.3l4.9-1l-5.4,2.5l-5,1z"/>
<path fill=#2bff52 d="M729.4,351.3l5.4-1l-5,2.5l-5.4,.9z"/>
<path class=m d="M724.8,353.5l4.9-1.2"/>
<path fill=#9cff2a d="M859.2,308.7l4.8-1.1l-5.7,2.6l-4.8,1z"/>
<path class=m d="M854,311.1l4.6-1.3"/>
<path fill=#2bff82 d="M686.1,364.7l5.6-1l-4.7,2.3l-5.7,1z"/>
<path fill=#2bffb0 d="M642.8,377.7l5.8-1l-4.6,2.2l-5.7,.9z"/>
<path class=m d="M648.2,376.8l-4.5,1.7"/>
<path fill=#40ff2a d="M782.3,334.4l5.1-1.1l-5.2,2.5l-5.2,1z"/>
<path fill=#2aff46 d="M739,348.2l5.4-1l-5.1,2.5l-5.4,.9z"/>
<path fill=#74ff2a d="M825.6,320.1l4.9-1.1l-5.5,2.5l-4.9,1.1z"/>
<path class=m d="M820.5,322.4l4.7-1.3M830.1,319.1l-4.9,2"/>
<path fill=#2bff76 d="M695.7,361.7l5.6-1l-4.9,2.3l-5.5,1z"/>
<path class=m d="M691.3,363.9l4.9-1.3M700.8,360.9l-4.6,1.7"/>
<path fill=#a9ff29 d="M868.9,305.4l4.7-1.2l-5.7,2.5l-4.7,1.2z"/>
<path fill=#2bffa4 d="M652.4,374.8l5.8-1l-4.7,2.2l-5.7,.9z"/>
<path fill=#4dff2a d="M792,331.2l5-1.1l-5.3,2.5l-5.1,1z"/>
<path class=m d="M787,333.5l4.8-1.3"/>
<path fill=#2aff39 d="M748.6,345.1l5.3-1l-5.1,2.5l-5.3,.9z"/>
<path class=m d="M753.5,344.3l-4.7,1.8"/>
<path fill=#81ff29 d="M835.3,316.8l4.8-1.1l-5.5,2.5l-4.9,1.1z"/>
<path fill=#2aff6a d="M705.2,358.7l5.6-1l-4.8,2.3l-5.6,1z"/>
<path fill=#b7ff29 d="M878.6,302l4.7-1.2l-5.8,2.5l-4.7,1.2z"/>
<path class=m d="M882.8,300.9l-5,2.1"/>
<path fill=#2bff98 d="M661.9,371.9l5.8-1l-4.7,2.2l-5.7,.9z"/>
<path class=m d="M657.7,373.9l5-1.2"/>
<path fill=#5aff29 d="M801.6,328l5-1.1l-5.4,2.5l-5,1z"/>
<path class=m d="M806.2,327l-4.9,1.9"/>
<path fill=#2aff2c d="M758.2,342l5.3-1l-5.2,2.4l-5.2,1z"/>
<path class=m d="M753.5,344.3l4.8-1.3"/>
<path fill=#8eff29 d="M844.9,313.5l4.9-1.2l-5.7,2.5l-4.8,1.1z"/>
<path fill=#2aff5d d="M714.8,355.7l5.6-1l-4.9,2.3l-5.5,1z"/>
<path fill=#2aff8d d="M671.5,369l5.7-1.1l-4.7,2.2l-5.7,1z"/>
<path class=m d="M676.8,368.1l-4.6,1.7"/>
<path fill=#2bffba d="M628.2,381.9l5.9-1.2l-4.6,2.1l-5.8,1z"/>
<path class=m d="M624.1,383.7l5.1-1.2"/>
<path fill=#34ff29 d="M767.9,338.9l5.2-1.1l-5.2,2.5l-5.2,1z"/>
<path fill=#66ff29 d="M811.3,324.7l4.9-1.1l-5.4,2.5l-5,1.1z"/>
<path fill=#2aff51 d="M724.4,352.7l5.5-1.1l-4.9,2.4l-5.5,.9z"/>
<path class=m d="M719.9,354.8l4.9-1.3M729.5,351.8l-4.7,1.7"/>
<path fill=#9bff29 d="M854.6,310.2l4.8-1.2l-5.7,2.5l-4.8,1.1z"/>
<path class=m d="M849.3,312.5l4.7-1.4M859,309.1l-5,2"/>
<path fill=#2aff80 d="M681.1,366.1l5.7-1.1l-4.8,2.2l-5.6,1z"/>
<path fill=#2affae d="M637.7,379l5.9-1.1l-4.6,2.1l-5.8,1z"/>
<path fill=#40ff29 d="M777.5,335.7l5.2-1l-5.3,2.4l-5.2,1z"/>
<path class=m d="M782.3,334.8l-4.9,1.9"/>
<path fill=#73ff29 d="M820.9,321.5l5-1.2l-5.6,2.5l-4.9,1.1z"/>
<path class=m d="M815.8,323.8l4.7-1.4"/>
<path fill=#29ff44 d="M734.1,349.6l5.4-1.1l-5,2.4l-5.4,1z"/>
<path fill=#a9ff29 d="M864.3,306.9l4.7-1.3l-5.7,2.5l-4.7,1.2z"/>
<path fill=#2aff74 d="M690.7,363.1l5.6-1.1l-4.7,2.2l-5.7,1z"/>
<path class=m d="M686.4,365.1l4.9-1.2"/>
<path fill=#2affa3 d="M647.3,376.2l5.8-1.2l-4.5,2.1l-5.9,1z"/>
<path class=m d="M652.7,375.1l-4.5,1.7"/>
<path fill=#4dff29 d="M787.2,332.6l5.1-1.1l-5.4,2.4l-5.1,1z"/>
<path class=m d="M782.3,334.8l4.7-1.3"/>
<path fill=#29ff38 d="M743.7,346.5l5.4-1.1l-5.1,2.4l-5.3,1z"/>
<path fill=#81ff29 d="M830.6,318.3l4.9-1.2l-5.6,2.4l-4.9,1.1z"/>
<path class=m d="M835.1,317.2l-5,1.9"/>
<path fill=#29ff68 d="M700.3,360.1l5.6-1.1l-4.8,2.2l-5.6,1.1z"/>
<path class=m d="M705.5,359.1l-4.7,1.8"/>
<path fill=#b6ff29 d="M874,303.5l4.7-1.3l-5.8,2.5l-4.7,1.2z"/>
<path fill=#2aff97 d="M656.9,373.3l5.8-1.2l-4.6,2.1l-5.8,1.1z"/>
<path class=m d="M652.7,375.1l5-1.2"/>
<path fill=#5aff29 d="M796.9,329.4l5-1.1l-5.4,2.4l-5.1,1.1z"/>
<path fill=#29ff2b d="M753.4,343.4l5.3-1.1l-5.1,2.4l-5.4,1z"/>
<path class=m d="M748.7,345.6l4.8-1.3M758.3,342.5l-4.8,1.8"/>
<path fill=#8eff29 d="M840.3,315l4.8-1.3l-5.6,2.5l-4.9,1.1z"/>
<path fill=#29ff5c d="M709.9,357.1l5.6-1.1l-4.9,2.2l-5.6,1.1z"/>
<path fill=#c4ff2a d="M883.7,300.1l4.7-1.3l-5.9,2.4l-4.7,1.3z"/>
<path class=m d="M878.3,302.3l4.5-1.4M887.9,298.9l-5.1,2"/>
<path fill=#29ff8b d="M666.4,370.4l5.8-1.2l-4.6,2.1l-5.8,1.1z"/>
<path fill=#2affb8 d="M623.1,383.2l5.9-1.2l-4.5,1.9l-5.9,1.1z"/>
<path class=m d="M619,384.9l5.1-1.2M628.6,382.1l-4.5,1.6"/>
<path fill=#34ff29 d="M763,340.3l5.3-1.1l-5.2,2.4l-5.3,1z"/>
<path fill=#67ff29 d="M806.6,326.2l4.9-1.2l-5.5,2.4l-4.9,1.1z"/>
<path class=m d="M811.1,325.2l-4.9,1.8"/>
<path fill=#29ff4f d="M719.5,354.1l5.6-1.2l-4.9,2.3l-5.6,1z"/>
<path class=m d="M715,356.1l4.9-1.3"/>
<path fill=#9bff2a d="M850,311.7l4.8-1.3l-5.7,2.4l-4.8,1.2z"/>
<path class=m d="M844.7,313.9l4.6-1.4"/>
<path fill=#29ff7f d="M676,367.5l5.8-1.2l-4.7,2.1l-5.7,1.1z"/>
<path class=m d="M681.4,366.4l-4.6,1.7"/>
<path fill=#2affad d="M632.6,380.4l5.9-1.3l-4.5,2l-5.9,1.1z"/>
<path fill=#41ff29 d="M772.7,337.2l5.2-1.2l-5.3,2.4l-5.2,1.1z"/>
<path fill=#74ff2a d="M816.3,323l4.9-1.2l-5.6,2.4l-4.9,1.1z"/>
<path class=m d="M811.1,325.2l4.7-1.4"/>
<path fill=#29ff43 d="M729.1,351l5.6-1.1l-5,2.3l-5.5,1z"/>
<path class=m d="M734.2,350l-4.7,1.8"/>
<path fill=#a9ff2a d="M859.7,308.4l4.7-1.3l-5.7,2.3l-4.8,1.3z"/>
<path class=m d="M864,307.2l-5,1.9"/>
<path fill=#29ff73 d="M685.6,364.5l5.8-1.2l-4.7,2.1l-5.7,1.1z"/>
<path class=m d="M681.4,366.4l5-1.3"/>
<path fill=#29ffa1 d="M642.2,377.5l5.9-1.2l-4.5,1.9l-5.9,1.2z"/>
<path fill=#4dff2a d="M782.4,334l5.1-1.1l-5.3,2.3l-5.1,1.1z"/>
<path class=m d="M777.5,336.2l4.8-1.4M787.1,333l-4.8,1.8"/>
<path fill=#81ff2a d="M826,319.8l4.8-1.3l-5.6,2.4l-4.9,1.2z"/>
<path fill=#29ff37 d="M738.8,348l5.5-1.2l-5.1,2.3l-5.4,1.1z"/>
<path fill=#b6ff2a d="M869.4,305.1l4.7-1.4l-5.8,2.4l-4.7,1.2z"/>
<path fill=#29ff67 d="M695.2,361.6l5.8-1.3l-4.8,2.1l-5.7,1.2z"/>
<path fill=#29ff95 d="M651.8,374.7l5.9-1.3l-4.6,2l-5.9,1.1z"/>
<path class=m d="M647.7,376.4l5-1.3M657.2,373.5l-4.5,1.6"/>
<path fill=#5aff2a d="M792.1,330.9l5.1-1.2l-5.5,2.3l-5,1.2z"/>
<path fill=#2aff2b d="M748.4,344.9l5.5-1.2l-5.1,2.3l-5.4,1.1z"/>
<path class=m d="M743.8,347l4.9-1.4"/>
<path fill=#8eff2a d="M835.7,316.5l4.8-1.3l-5.7,2.4l-4.8,1.2z"/>
<path class=m d="M840,315.3l-4.9,1.9"/>
<path fill=#29ff5b d="M704.9,358.6l5.7-1.3l-4.8,2.2l-5.7,1.1z"/>
<path class=m d="M710.1,357.5l-4.6,1.6"/>
<path fill=#c4ff2b d="M879.1,301.7l4.7-1.4l-5.9,2.3l-4.6,1.4z"/>
<path class=m d="M873.7,303.8l4.6-1.5"/>
<path fill=#29ff8a d="M661.4,371.8l5.8-1.3l-4.6,2l-5.8,1.2z"/>
<path fill=#67ff2a d="M801.9,327.7l4.9-1.2l-5.5,2.3l-5,1.2z"/>
<path fill=#29ffb7 d="M617.9,384.6l6-1.3l-4.5,1.8l-5.9,1.2z"/>
<path class=m d="M613.9,386.2l5.1-1.3"/>
<path fill=#35ff2a d="M758.1,341.8l5.4-1.2l-5.2,2.3l-5.3,1.1z"/>
<path class=m d="M763.1,340.7l-4.8,1.8"/>
<path fill=#9cff2b d="M845.4,313.3l4.7-1.4l-5.7,2.3l-4.8,1.3z"/>
<path class=m d="M840,315.3l4.7-1.4"/>
<path fill=#2aff50 d="M714.5,355.6l5.7-1.3l-4.9,2.2l-5.6,1.1z"/>
<path class=m d="M710.1,357.5l4.9-1.4"/>
<path fill=#d1ff2b d="M888.9,298.3l4.6-1.4l-5.9,2.3l-4.7,1.4z"/>
<path class=m d="M893,297l-5.1,1.9"/>
<path fill=#29ff7e d="M671,368.9l5.8-1.3l-4.6,2l-5.8,1.2z"/>
<path fill=#29ffac d="M627.5,381.8l6-1.4l-4.5,1.9l-6,1.2z"/>
<path class=m d="M633,380.6l-4.4,1.5"/>
<path fill=#41ff2a d="M767.9,338.6l5.2-1.1l-5.2,2.3l-5.3,1.1z"/>
<path fill=#74ff2b d="M811.6,324.5l4.9-1.3l-5.6,2.3l-4.9,1.3z"/>
<path class=m d="M806.4,326.6l4.7-1.4M816,323.4l-4.9,1.8"/>
<path fill=#2aff44 d="M724.1,352.5l5.7-1.2l-4.9,2.1l-5.6,1.2z"/>
<path fill=#a9ff2b d="M855.1,310l4.7-1.4l-5.8,2.2l-4.7,1.4z"/>
<path fill=#2aff73 d="M680.6,366l5.8-1.3l-4.6,1.9l-5.8,1.3z"/>
<path class=m d="M676.4,367.7l5-1.3M686,364.8l-4.6,1.6"/>
<path fill=#29ffa0 d="M637.1,379l5.9-1.4l-4.5,1.8l-5.9,1.3z"/>
<path fill=#4eff2b d="M777.6,335.5l5.2-1.2l-5.4,2.3l-5.1,1.2z"/>
<path class=m d="M772.7,337.6l4.8-1.4"/>
<path fill=#81ff2b d="M821.3,321.4l4.8-1.4l-5.6,2.3l-4.9,1.2z"/>
<path fill=#2aff38 d="M733.8,349.5l5.6-1.3l-4.9,2.2l-5.6,1.2z"/>
<path class=m d="M739,348.4l-4.8,1.6"/>
<path fill=#b6ff2b d="M864.8,306.7l4.7-1.5l-5.9,2.3l-4.6,1.3z"/>
<path class=m d="M869.1,305.3l-5.1,1.9"/>
<path fill=#2aff67 d="M690.2,363.1l5.8-1.4l-4.7,2l-5.7,1.2z"/>
<path fill=#2aff95 d="M646.7,376.1l5.9-1.4l-4.5,1.9l-5.9,1.3z"/>
<path class=m d="M642.6,377.7l5.1-1.3"/>
<path fill=#5bff2b d="M787.4,332.4l5-1.2l-5.4,2.2l-5.1,1.2z"/>
<path class=m d="M792,331.3l-4.9,1.7"/>
<path fill=#2bff2c d="M743.5,346.4l5.5-1.2l-5,2.2l-5.5,1.1z"/>
<path class=m d="M739,348.4l4.8-1.4"/>
<path fill=#8fff2b d="M831,318.1l4.8-1.4l-5.7,2.3l-4.8,1.3z"/>
<path fill=#2aff5c d="M699.8,360.1l5.8-1.4l-4.7,2l-5.7,1.3z"/>
<path fill=#c4ff2b d="M874.5,303.4l4.7-1.6l-5.9,2.3l-4.7,1.4z"/>
<path class=m d="M869.1,305.3l4.6-1.5"/>
<path fill=#2aff8a d="M656.3,373.3l5.9-1.4l-4.5,1.8l-5.9,1.3z"/>
<path class=m d="M661.8,372l-4.6,1.5"/>
<path fill=#68ff2b d="M797.2,329.3l4.9-1.3l-5.6,2.2l-5,1.2z"/>
<path fill=#36ff2b d="M753.2,343.3l5.5-1.2l-5.1,2.2l-5.4,1.1z"/>
<path fill=#2affb6 d="M612.8,386l6-1.4l-4.4,1.7l-6.1,1.3z"/>
<path class=m d="M608.8,387.5l5.1-1.3"/>
<path fill=#9cff2b d="M840.8,314.9l4.7-1.5l-5.8,2.2l-4.8,1.4z"/>
<path class=m d="M835.4,316.9l4.6-1.6M845,313.6l-5,1.7"/>
<path fill=#2bff50 d="M709.5,357.2l5.7-1.5l-4.7,2l-5.7,1.3z"/>
<path class=m d="M705.2,358.9l4.9-1.4M714.8,355.9l-4.7,1.6"/>
<path fill=#d1ff2c d="M884.3,300l4.6-1.6l-5.9,2.2l-4.7,1.5z"/>
<path fill=#2aff7e d="M665.9,370.4l5.9-1.4l-4.6,1.8l-5.8,1.3z"/>
<path fill=#2affab d="M622.4,383.2l6-1.4l-4.5,1.7l-6,1.3z"/>
<path fill=#75ff2b d="M806.9,326.2l4.8-1.5l-5.6,2.3l-4.9,1.2z"/>
<path class=m d="M801.6,328.1l4.8-1.5"/>
<path fill=#42ff2b d="M762.9,340.2l5.4-1.2l-5.2,2.2l-5.3,1.1z"/>
<path class=m d="M767.9,339.1l-4.8,1.6"/>
<path fill=#a9ff2c d="M850.5,311.7l4.7-1.6l-5.9,2.2l-4.7,1.4z"/>
<path fill=#2bff44 d="M719.1,354.2l5.8-1.5l-4.8,2l-5.7,1.3z"/>
<path fill=#deff2c d="M894,296.7l4.6-1.7l-6,2.2l-4.6,1.5z"/>
<path class=m d="M898.2,295.2l-5.2,1.8"/>
<path fill=#2bff73 d="M675.5,367.6l5.9-1.5l-4.6,1.8l-5.8,1.3z"/>
<path class=m d="M671.4,369.1l5-1.4"/>
<path fill=#2affa0 d="M632,380.5l6-1.5l-4.5,1.6l-6,1.4z"/>
<path class=m d="M637.5,379.1l-4.5,1.5"/>
<path fill=#4fff2b d="M772.8,337.1l5.2-1.3l-5.4,2.3l-5.2,1.1z"/>
<path class=m d="M767.9,339.1l4.8-1.5"/>
<path fill=#82ff2c d="M816.6,323l4.8-1.5l-5.7,2.2l-4.8,1.3z"/>
<path class=m d="M821,321.7l-5,1.7"/>
<path fill=#2bff39 d="M728.7,351.2l5.8-1.5l-4.8,2l-5.7,1.3z"/>
<path fill=#b6ff2c d="M860.2,308.4l4.7-1.6l-5.9,2.1l-4.7,1.5z"/>
<path fill=#2bff67 d="M685.2,364.7l5.8-1.6l-4.6,1.8l-5.8,1.4z"/>
<path class=m d="M690.6,363.3l-4.6,1.5"/>
<path fill=#2bff95 d="M641.6,377.7l6-1.6l-4.5,1.7l-6,1.4z"/>
<path class=m d="M637.5,379.1l5.1-1.4"/>
<path fill=#5cff2c d="M782.7,334.1l4.9-1.4l-5.5,2.2l-5,1.2z"/>
<path fill=#8fff2c d="M826.4,319.9l4.7-1.6l-5.8,2.1l-4.8,1.4z"/>
<path fill=#2bff2d d="M738.4,348.2l5.7-1.6l-4.8,2.1l-5.7,1.3z"/>
<path class=m d="M734.1,349.8l4.9-1.4M743.7,346.8l-4.7,1.6"/>
<path fill=#c3ff2c d="M869.9,305.1l4.7-1.7l-6,2.1l-4.6,1.6z"/>
<path class=m d="M864.4,306.9l4.7-1.6M874.1,303.6l-5,1.7"/>
<path fill=#2bff5c d="M694.8,361.8l5.9-1.6l-4.7,1.7l-5.8,1.5z"/>
<path fill=#2bff8a d="M651.2,374.9l6-1.6l-4.6,1.6l-5.9,1.5z"/>
<path fill=#68ff2c d="M792.5,331.1l4.8-1.6l-5.6,2.1l-4.9,1.3z"/>
<path class=m d="M796.9,329.6l-4.9,1.7"/>
<path fill=#37ff2c d="M748.1,345.2l5.7-1.6l-4.9,2l-5.6,1.3z"/>
<path fill=#9bff2c d="M836.1,316.7l4.7-1.7l-5.8,2l-4.8,1.6z"/>
<path class=m d="M830.7,318.4l4.7-1.5"/>
<path fill=#2bffb6 d="M607.6,387.5l6.1-1.6l-4.5,1.6l-6,1.4z"/>
<path class=m d="M603.6,388.8l5.2-1.3M613.2,386.1l-4.4,1.4"/>
<path fill=#2bff51 d="M704.5,358.9l5.8-1.7l-4.7,1.8l-5.8,1.4z"/>
<path class=m d="M700.2,360.3l5-1.4"/>
<path fill=#d0ff2d d="M879.7,301.8l4.6-1.8l-6,2.1l-4.6,1.6z"/>
<path fill=#2bff7e d="M660.9,372l5.9-1.6l-4.6,1.6l-5.9,1.5z"/>
<path class=m d="M666.4,370.5l-4.6,1.5"/>
<path fill=#75ff2c d="M802.2,328l4.8-1.7l-5.8,2l-4.8,1.5z"/>
<path class=m d="M796.9,329.6l4.7-1.5"/>
<path fill=#43ff2c d="M757.7,342.2l5.8-1.7l-5,2.1l-5.6,1.2z"/>
<path fill=#2bffab d="M617.2,384.7l6.1-1.5l-4.5,1.5l-6,1.5z"/>
<path fill=#a8ff2d d="M845.8,313.4l4.7-1.7l-5.9,2l-4.7,1.6z"/>
<path class=m d="M850.1,311.8l-5.1,1.8"/>
<path fill=#2cff45 d="M714.1,355.9l5.8-1.7l-4.6,1.7l-5.9,1.6z"/>
<path class=m d="M719.5,354.3l-4.7,1.6"/>
<path fill=#deff2d d="M889.4,298.4l4.6-1.8l-6,2.1l-4.6,1.6z"/>
<path fill=#2bff73 d="M670.5,369.2l5.9-1.7l-4.6,1.6l-5.9,1.6z"/>
<path class=m d="M666.4,370.5l5-1.4"/>
<path fill=#2bffa0 d="M626.9,382l6-1.6l-4.5,1.5l-6,1.5z"/>
<path fill=#4fff2c d="M767.9,339.5l5.2-2.1l-5.2,2.1l-5.3,1.2z"/>
<path class=m d="M763,340.6l4.9-1.5M772.7,337.5l-4.8,1.6"/>
<path fill=#82ff2d d="M811.9,324.9l4.8-1.8l-5.8,1.9l-4.8,1.6z"/>
<path fill=#2cff39 d="M723.8,353l5.8-1.8l-4.7,1.7l-5.8,1.6z"/>
<path fill=#b5ff2d d="M855.6,310.2l4.6-1.8l-5.9,2l-4.7,1.6z"/>
<path fill=#2cff68 d="M680.2,366.3l5.9-1.7l-4.7,1.6l-5.8,1.6z"/>
<path fill=#ebff2d d="M899.2,295l4.6-1.8l-6.1,2.1l-4.5,1.6z"/>
<path class=m d="M893.6,296.8l4.6-1.6M903.3,293.4l-5.1,1.8"/>
<path fill=#2bff95 d="M636.5,379.2l6-1.6l-4.5,1.5l-6,1.5z"/>
<path class=m d="M632.4,380.5l5.1-1.4M642.1,377.7l-4.6,1.4"/>
<path fill=#5cff2d d="M777.9,336.3l4.9-2.1l-5.7,1.9l-4.8,1.5z"/>
<path fill=#8eff2d d="M821.7,321.7l4.7-1.8l-5.9,1.8l-4.7,1.7z"/>
<path class=m d="M825.9,320l-4.9,1.7"/>
<path fill=#2cff2e d="M733.5,350.1l5.8-1.9l-4.8,1.6l-5.8,1.7z"/>
<path class=m d="M729.2,351.3l4.9-1.5"/>
<path fill=#c2ff2d d="M865.3,306.9l4.6-1.8l-5.9,1.9l-4.6,1.7z"/>
<path class=m d="M859.8,308.5l4.6-1.6"/>
<path fill=#2cff5d d="M689.8,363.4l5.9-1.7l-4.6,1.5l-5.9,1.6z"/>
<path class=m d="M695.3,361.8l-4.7,1.5"/>
<path fill=#2cff8a d="M646.2,376.4l5.9-1.7l-4.5,1.5l-6,1.6z"/>
<path fill=#68ff2d d="M787.6,333.1l4.9-2l-5.8,1.7l-4.7,1.7z"/>
<path fill=#9bff2d d="M831.4,318.5l4.7-1.9l-5.9,1.8l-4.7,1.7z"/>
<path class=m d="M825.9,320l4.8-1.6"/>
<path fill=#37ff2d d="M743.3,347.1l5.6-2l-4.7,1.6l-5.8,1.7z"/>
<path class=m d="M748.5,345.2l-4.8,1.6"/>
<path fill=#d0ff2e d="M875.1,303.6l4.6-1.9l-6,1.9l-4.6,1.7z"/>
<path class=m d="M879.2,301.8l-5.1,1.8"/>
<path fill=#2bffb5 d="M602.5,389l6-1.7l-4.4,1.5l-6.1,1.5z"/>
<path class=m d="M598.5,390.2l5.1-1.4"/>
<path fill=#2cff51 d="M699.5,360.6l5.8-1.9l-4.6,1.5l-5.9,1.7z"/>
<path class=m d="M695.3,361.8l4.9-1.5"/>
<path fill=#2cff7f d="M655.8,373.6l6-1.7l-4.6,1.4l-5.9,1.7z"/>
<path fill=#75ff2d d="M797.4,330l4.8-2.1l-5.8,1.6l-4.7,1.9z"/>
<path class=m d="M792.1,331.2l4.8-1.6M801.8,328.1l-4.9,1.5"/>
<path fill=#43ff2d d="M753.1,344.2l5.5-2.2l-4.9,1.4l-5.6,2z"/>
<path fill=#a8ff2e d="M841.1,315.3l4.7-2l-5.9,1.8l-4.7,1.8z"/>
<path fill=#2cffab d="M612.1,386.3l6-1.7l-4.4,1.4l-6.1,1.6z"/>
<path class=m d="M617.7,384.7l-4.5,1.4"/>
<path fill=#2dff46 d="M709.2,357.7l5.8-2l-4.7,1.5l-5.8,1.8z"/>
<path fill=#ddff2e d="M884.8,300.2l4.6-1.9l-6,1.9l-4.6,1.8z"/>
<path fill=#2cff74 d="M665.5,370.8l5.9-1.8l-4.6,1.4l-5.9,1.7z"/>
<path class=m d="M661.3,372l5.1-1.5M671,369.1l-4.6,1.4"/>
<path fill=#82ff2e d="M807.1,326.8l4.8-2.1l-5.8,1.6l-4.7,1.9z"/>
<path fill=#50ff2d d="M762.9,341.2l5.4-2.3l-5.1,1.3l-5.4,2.1z"/>
<path class=m d="M758.2,342.2l4.8-1.6"/>
<path fill=#2cffa0 d="M621.8,383.6l6-1.8l-4.5,1.4l-6,1.6z"/>
<path fill=#b5ff2e d="M850.9,312l4.6-2l-5.9,1.8l-4.6,1.8z"/>
<path class=m d="M855.1,310.2l-5,1.6"/>
<path fill=#2dff3b d="M718.9,354.7l5.8-2l-4.8,1.5l-5.8,1.8z"/>
<path class=m d="M724.2,352.9l-4.7,1.4"/>
<path fill=#eaff2e d="M894.6,296.9l4.6-2l-6.1,1.9l-4.5,1.8z"/>
<path class=m d="M889,298.5l4.6-1.7"/>
<path fill=#2dff69 d="M675.2,368l5.8-1.9l-4.6,1.4l-5.9,1.7z"/>
<path fill=#2cff95 d="M631.4,380.8l6-1.8l-4.5,1.4l-6,1.7z"/>
<path class=m d="M627.3,381.9l5.1-1.4"/>
<path fill=#5cff2e d="M772.8,338.1l5.2-2.3l-5.4,1.3l-5.2,2.1z"/>
<path class=m d="M777.6,336l-4.9,1.5"/>
<path fill=#8eff2e d="M816.8,323.6l4.8-2.1l-5.8,1.6l-4.7,1.9z"/>
<path fill=#2dff2f d="M728.7,351.8l5.7-2.1l-4.9,1.4l-5.7,1.9z"/>
<path class=m d="M724.2,352.9l5-1.6"/>
<path fill=#c2ff2e d="M860.6,308.7l4.7-2l-6,1.8l-4.6,1.8z"/>
<path class=m d="M855.1,310.2l4.7-1.7"/>
<path fill=#2dff5d d="M684.9,365.1l5.8-1.9l-4.7,1.4l-5.8,1.8z"/>
<path fill=#f7ff2f d="M904.4,293.5l4.5-2l-6,1.9l-4.6,1.8z"/>
<path class=m d="M908.5,291.7l-5.2,1.7"/>
<path fill=#2dff8a d="M641.1,378l5.9-1.8l-4.5,1.4l-6,1.7z"/>
<path class=m d="M646.6,376.3l-4.5,1.4"/>
<path fill=#68ff2e d="M782.6,334.9l5.1-2.2l-5.5,1.3l-5.1,2.1z"/>
<path fill=#9bff2e d="M826.6,320.4l4.8-2.1l-5.9,1.6l-4.7,1.9z"/>
<path class=m d="M821.2,321.7l4.7-1.7M830.9,318.4l-5,1.6"/>
<path fill=#38ff2e d="M738.5,348.9l5.5-2.2l-4.9,1.3l-5.6,2z"/>
<path fill=#cfff2f d="M870.4,305.4l4.6-2l-5.9,1.7l-4.7,1.9z"/>
<path fill=#2dff52 d="M694.6,362.2l5.8-1.9l-4.7,1.3l-5.9,1.8z"/>
<path class=m d="M690.3,363.3l5-1.5M699.9,360.4l-4.6,1.4"/>
<path fill=#2cffb5 d="M597.3,390.6l6-1.8l-4.4,1.3l-6.1,1.7z"/>
<path class=m d="M593.3,391.6l5.2-1.4"/>
<path fill=#2dff7f d="M650.8,375.3l5.9-1.9l-4.6,1.3l-5.9,1.8z"/>
<path fill=#75ff2e d="M792.4,331.8l5-2.2l-5.6,1.3l-5,2.1z"/>
<path class=m d="M787.3,332.8l4.8-1.6"/>
<path fill=#a7ff2f d="M836.3,317.1l4.8-2.1l-5.9,1.6l-4.7,2z"/>
<path fill=#44ff2e d="M748.3,345.9l5.4-2.2l-5,1.1l-5.5,2.2z"/>
<path class=m d="M753.3,343.8l-4.8,1.4"/>
<path fill=#2dffab d="M606.9,387.9l6.1-1.8l-4.5,1.2l-6,1.7z"/>
<path fill=#dcff2f d="M880.2,302.1l4.6-2.1l-6,1.8l-4.6,1.9z"/>
<path class=m d="M884.4,300.2l-5.2,1.6"/>
<path fill=#2eff47 d="M704.3,359.4l5.8-2.1l-4.8,1.3l-5.8,1.9z"/>
<path fill=#2dff74 d="M660.5,372.5l5.8-2l-4.6,1.3l-5.9,1.8z"/>
<path class=m d="M656.3,373.5l5-1.5"/>
<path fill=#81ff2f d="M802.2,328.6l4.9-2.2l-5.6,1.3l-4.9,2.1z"/>
<path class=m d="M806.7,326.5l-4.9,1.6"/>
<path fill=#50ff2e d="M758.1,342.8l5.3-2.2l-5.1,1.1l-5.4,2.2z"/>
<path class=m d="M753.3,343.8l4.9-1.6"/>
<path fill=#b4ff2f d="M846.1,313.9l4.8-2.1l-5.9,1.5l-4.7,2z"/>
<path fill=#2dffa0 d="M616.6,385.2l6-1.9l-4.5,1.3l-6,1.7z"/>
<path class=m d="M622.2,383.4l-4.5,1.3"/>
<path fill=#2eff3c d="M714.1,356.5l5.6-2.2l-4.8,1.3l-5.7,2z"/>
<path fill=#e8ff2f d="M890,298.8l4.6-2.1l-6,1.7l-4.7,1.9z"/>
<path class=m d="M884.4,300.2l4.6-1.7"/>
<path fill=#2eff69 d="M670.2,369.6l5.8-1.9l-4.6,1.2l-5.9,1.9z"/>
<path class=m d="M675.6,367.8l-4.6,1.3"/>
<path fill=#2dff95 d="M626.3,382.4l6-1.9l-4.6,1.3l-5.9,1.8z"/>
<path class=m d="M622.2,383.4l5.1-1.5"/>
<path fill=#8eff2f d="M812,325.4l4.9-2.2l-5.7,1.4l-4.9,2.1z"/>
<path fill=#5cff2f d="M767.9,339.8l5.3-2.3l-5.3,1.1l-5.3,2.3z"/>
<path fill=#c1ff2f d="M855.9,310.6l4.7-2.1l-5.9,1.5l-4.7,2z"/>
<path class=m d="M850.4,311.9l4.7-1.7M860.2,308.6l-5.1,1.6"/>
<path fill=#2eff30 d="M723.8,353.5l5.6-2.2l-4.9,1.2l-5.6,2.1z"/>
<path class=m d="M719.3,354.5l4.9-1.6M729,351.5l-4.8,1.4"/>
<path fill=#f5ff2f d="M899.8,295.4l4.6-2.1l-6.1,1.7l-4.6,2z"/>
<path fill=#2eff5e d="M679.9,366.8l5.8-2l-4.7,1.2l-5.8,1.9z"/>
<path fill=#2eff8a d="M636,379.7l5.9-2l-4.5,1.3l-6,1.8z"/>
<path fill=#68ff2f d="M777.7,336.7l5.2-2.3l-5.4,1.1l-5.2,2.3z"/>
<path class=m d="M782.5,334.5l-4.9,1.5"/>
<path fill=#9aff2f d="M821.7,322.2l4.9-2.2l-5.7,1.4l-4.9,2.1z"/>
<path class=m d="M816.5,323.3l4.7-1.6"/>
<path fill=#38ff2f d="M733.6,350.6l5.5-2.3l-4.9,1.2l-5.6,2.1z"/>
<path fill=#ceff30 d="M865.7,307.3l4.7-2.1l-6,1.5l-4.6,2.1z"/>
<path fill=#2eff53 d="M689.6,363.9l5.8-2l-4.8,1.1l-5.8,2z"/>
<path class=m d="M685.3,364.9l5-1.6"/>
<path fill=#2dffb5 d="M592.1,392.2l6-1.9l-4.4,1.2l-6.1,1.7z"/>
<path class=m d="M588.1,393.1l5.2-1.5M597.7,390.4l-4.4,1.2"/>
<path fill=#fffc30 d="M909.6,292l4.6-2.1l-6.1,1.7l-4.6,2z"/>
<path class=m d="M913.7,290l-5.2,1.7"/>
<path fill=#2eff80 d="M645.7,376.9l5.9-2l-4.6,1.2l-5.9,1.9z"/>
<path class=m d="M651.2,375.1l-4.6,1.2"/>
<path fill=#75ff2f d="M787.5,333.6l5.1-2.3l-5.5,1.1l-5.1,2.3z"/>
<path class=m d="M782.5,334.5l4.8-1.7"/>
<path fill=#a7ff30 d="M831.5,319l4.9-2.2l-5.8,1.3l-4.8,2.2z"/>
<path class=m d="M836,316.9l-5.1,1.5"/>
<path fill=#44ff2f d="M743.4,347.6l5.4-2.3l-5,1.1l-5.5,2.2z"/>
<path fill=#daff30 d="M875.5,304l4.7-2.2l-6,1.6l-4.7,2z"/>
<path fill=#2fff48 d="M699.4,361.1l5.7-2.2l-4.8,1.2l-5.8,2z"/>
<path class=m d="M704.6,359.1l-4.7,1.3"/>
<path fill=#2effab d="M601.8,389.5l6-1.9l-4.5,1.1l-6,1.8z"/>
<path fill=#2eff75 d="M655.4,374.1l5.9-2l-4.7,1.2l-5.9,1.9z"/>
<path class=m d="M651.2,375.1l5.1-1.6"/>
<path fill=#81ff30 d="M797.3,330.4l5.1-2.3l-5.6,1.2l-5,2.2z"/>
<path fill=#50ff2f d="M753.2,344.6l5.4-2.3l-5.2,1l-5.4,2.3z"/>
<path class=m d="M748.4,345.4l4.9-1.6M758.1,342.4l-4.8,1.4"/>
<path fill=#b3ff30 d="M841.3,315.8l4.8-2.3l-5.8,1.4l-4.8,2.1z"/>
<path fill=#2effa0 d="M611.5,386.8l6-1.9l-4.6,1.1l-6,1.8z"/>
<path fill=#2fff3d d="M709.1,358.2l5.7-2.2l-4.9,1.1l-5.7,2.1z"/>
<path fill=#e7ff30 d="M885.3,300.7l4.7-2.2l-6,1.5l-4.7,2.1z"/>
<path class=m d="M879.7,302l4.7-1.8M889.5,298.6l-5.1,1.6"/>
<path fill=#2fff6a d="M665.1,371.3l5.9-2l-4.7,1.1l-5.9,2z"/>
<path fill=#8dff30 d="M807.1,327.3l5-2.4l-5.6,1.2l-5,2.3z"/>
<path class=m d="M811.7,325.1l-5,1.4"/>
<path fill=#5cff30 d="M763,341.5l5.3-2.3l-5.3,1.1l-5.3,2.2z"/>
<path fill=#2eff96 d="M621.2,384.1l5.9-2l-4.5,1.1l-6,1.9z"/>
<path class=m d="M617,385l5.2-1.6M626.7,382.2l-4.5,1.2"/>
<path fill=#c0ff30 d="M851.1,312.5l4.8-2.3l-5.8,1.4l-4.8,2.2z"/>
<path class=m d="M845.7,313.7l4.7-1.8"/>
<path fill=#2fff32 d="M718.9,355.2l5.6-2.2l-5,1.1l-5.6,2.1z"/>
<path class=m d="M714.3,356.1l5-1.6"/>
<path fill=#f4ff30 d="M895.1,297.3l4.7-2.2l-6.1,1.5l-4.6,2.2z"/>
<path fill=#2fff5f d="M674.9,368.5l5.8-2.1l-4.8,1.1l-5.8,2z"/>
<path class=m d="M680.2,366.5l-4.6,1.3"/>
<path fill=#2fff8b d="M630.9,381.4l5.9-2.1l-4.6,1.1l-5.9,1.9z"/>
<path fill=#99ff30 d="M816.9,324.1l5-2.4l-5.7,1.3l-4.9,2.2z"/>
<path class=m d="M811.7,325.1l4.8-1.8"/>
<path fill=#68ff30 d="M772.8,338.5l5.2-2.4l-5.3,1.1l-5.3,2.3z"/>
<path fill=#ccff30 d="M860.9,309.2l4.8-2.3l-5.9,1.4l-4.7,2.2z"/>
<path class=m d="M865.3,307.1l-5.1,1.5"/>
<path fill=#38ff30 d="M728.7,352.3l5.5-2.3l-5,1.1l-5.6,2.2z"/>
<path class=m d="M733.8,350.2l-4.8,1.3"/>
<path fill=#fffd31 d="M904.9,293.9l4.7-2.2l-6.1,1.5l-4.6,2.2z"/>
<path fill=#2fff54 d="M684.6,365.7l5.8-2.2l-4.8,1.1l-5.8,2z"/>
<path class=m d="M680.2,366.5l5.1-1.6"/>
<path fill=#2effb5 d="M586.9,393.8l6-2l-4.4,1.1l-6.1,1.9z"/>
<path class=m d="M582.8,394.6l5.3-1.5"/>
<path fill=#2fff80 d="M640.6,378.6l5.9-2.1l-4.6,1.1l-5.9,2z"/>
<path fill=#74ff30 d="M782.6,335.4l5.2-2.4l-5.4,1.1l-5.2,2.3z"/>
<path class=m d="M777.6,336.2l4.9-1.7M787.4,333.1l-4.9,1.4"/>
<path fill=#a6ff30 d="M826.7,320.9l4.9-2.4l-5.7,1.3l-4.9,2.2z"/>
<path fill=#44ff30 d="M738.5,349.3l5.4-2.3l-5.1,1l-5.5,2.3z"/>
<path fill=#d9ff31 d="M870.7,305.9l4.8-2.3l-5.9,1.4l-4.7,2.2z"/>
<path fill=#30ff4a d="M694.4,362.8l5.7-2.2l-4.9,1l-5.7,2.2z"/>
<path fill=#2fffab d="M596.6,391.1l6-1.9l-4.5,1l-6,1.9z"/>
<path class=m d="M602.2,389.3l-4.5,1.1"/>
<path fill=#fff031 d="M914.8,290.5l4.6-2.2l-6.1,1.5l-4.6,2.2z"/>
<path class=m d="M909.1,291.8l4.6-1.8M919,288.4l-5.3,1.6"/>
<path fill=#2fff76 d="M650.3,375.8l5.9-2.1l-4.7,1.1l-5.9,2z"/>
<path class=m d="M646.1,376.7l5.1-1.6M655.8,373.9l-4.6,1.2"/>
<path fill=#80ff30 d="M792.4,332.3l5.1-2.4l-5.4,1.1l-5.2,2.3z"/>
<path fill=#b2ff31 d="M836.5,317.7l4.9-2.4l-5.7,1.3l-4.9,2.2z"/>
<path class=m d="M841,315.5l-5,1.4"/>
<path fill=#50ff30 d="M748.3,346.3l5.4-2.3l-5.2,1l-5.4,2.3z"/>
<path class=m d="M743.5,347.1l4.9-1.7"/>
<path fill=#e6ff31 d="M880.6,302.6l4.7-2.3l-5.9,1.4l-4.7,2.2z"/>
<path class=m d="M875.1,303.8l4.6-1.8"/>
<path fill=#2fffa1 d="M606.3,388.5l6-2.1l-4.6,1.1l-6,1.9z"/>
<path fill=#30ff3f d="M704.1,359.9l5.7-2.2l-4.9,1l-5.7,2.2z"/>
<path class=m d="M709.4,357.8l-4.8,1.3"/>
<path fill=#30ff6b d="M660.1,373.1l5.8-2.2l-4.7,1l-5.9,2.1z"/>
<path fill=#8cff31 d="M802.2,329.1l5.1-2.4l-5.5,1.1l-5.1,2.3z"/>
<path fill=#5cff30 d="M758.1,343.3l5.3-2.4l-5.2,1l-5.4,2.4z"/>
<path class=m d="M763,341.1l-4.9,1.3"/>
<path fill=#bfff31 d="M846.3,314.4l4.9-2.3l-5.8,1.2l-4.8,2.3z"/>
<path class=m d="M841,315.5l4.7-1.8"/>
<path fill=#2fff96 d="M616,385.8l6-2.1l-4.6,1l-6,2z"/>
<path class=m d="M611.9,386.6l5.1-1.6"/>
<path fill=#30ff34 d="M713.9,357l5.6-2.3l-4.9,1l-5.7,2.2z"/>
<path class=m d="M709.4,357.8l4.9-1.7"/>
<path fill=#f2ff31 d="M890.4,299.3l4.7-2.4l-5.9,1.5l-4.7,2.2z"/>
<path class=m d="M894.7,297.1l-5.2,1.5"/>
<path fill=#30ff61 d="M669.8,370.3l5.8-2.2l-4.8,.9l-5.8,2.2z"/>
<path fill=#99ff31 d="M812,326l5.1-2.4l-5.6,1.1l-5,2.3z"/>
<path class=m d="M806.9,326.9l4.8-1.8M816.7,323.7l-5,1.4"/>
<path fill=#68ff31 d="M767.9,340.3l5.3-2.4l-5.3,1l-5.3,2.3z"/>
<path fill=#30ff8c d="M625.8,383.1l5.9-2.1l-4.6,.9l-6,2.1z"/>
<path class=m d="M631.2,381.1l-4.5,1.1"/>
<path fill=#cbff31 d="M856.2,311.2l4.8-2.4l-5.8,1.3l-4.8,2.2z"/>
<path fill=#38ff30 d="M723.7,354.1l5.6-2.4l-5.1,1l-5.5,2.3z"/>
<path fill=#ffff32 d="M900.3,295.9l4.7-2.3l-6,1.4l-4.7,2.2z"/>
<path fill=#30ff56 d="M679.6,367.4l5.7-2.2l-4.8,1l-5.8,2.1z"/>
<path class=m d="M675.2,368.2l5-1.7M684.9,365.3l-4.7,1.2"/>
<path fill=#2fffb6 d="M581.7,395.4l6-2l-4.5,1l-6,1.9z"/>
<path class=m d="M577.6,396.2l5.2-1.6"/>
<path fill=#30ff81 d="M635.5,380.3l5.9-2.1l-4.7,1l-5.9,2z"/>
<path fill=#74ff31 d="M777.7,337.2l5.2-2.4l-5.3,1l-5.3,2.3z"/>
<path class=m d="M772.8,338l4.8-1.8"/>
<path fill=#a5ff31 d="M821.9,322.8l5-2.4l-5.7,1.1l-5,2.3z"/>
<path fill=#44ff31 d="M733.5,351.1l5.5-2.3l-5.1,.9l-5.5,2.3z"/>
<path class=m d="M738.6,348.9l-4.8,1.3"/>
<path fill=#d7ff32 d="M866,307.9l4.8-2.4l-5.8,1.3l-4.8,2.3z"/>
<path class=m d="M870.4,305.6l-5.1,1.5"/>
<path fill=#30ff4b d="M689.4,364.6l5.7-2.3l-4.9,1l-5.7,2.1z"/>
<path fill=#fff232 d="M910.1,292.5l4.7-2.3l-6,1.4l-4.7,2.3z"/>
<path class=m d="M904.5,293.7l4.6-1.9"/>
<path fill=#30ffab d="M591.4,392.8l6-2l-4.5,.9l-6.1,2z"/>
<path fill=#30ff77 d="M645.2,377.6l5.9-2.2l-4.7,.9l-5.9,2.1z"/>
<path class=m d="M640.9,378.3l5.2-1.6"/>
<path fill=#80ff31 d="M787.5,334.1l5.2-2.4l-5.4,1l-5.2,2.4z"/>
<path class=m d="M792.3,331.8l-4.9,1.3"/>
<path fill=#b1ff32 d="M831.7,319.6l5-2.4l-5.7,1.1l-5,2.3z"/>
<path fill=#50ff31 d="M743.3,348.2l5.5-2.4l-5.2,.9l-5.5,2.3z"/>
<path class=m d="M738.6,348.9l4.9-1.8"/>
<path fill=#e4ff32 d="M875.8,304.6l4.8-2.4l-5.8,1.3l-4.8,2.3z"/>
<path class=m d="M870.4,305.6l4.7-1.8"/>
<path fill=#31ff40 d="M699.2,361.7l5.6-2.3l-4.9,.9l-5.7,2.3z"/>
<path fill=#30ffa1 d="M601.1,390.2l6-2.1l-4.6,.9l-6,2z"/>
<path class=m d="M606.7,388.2l-4.5,1.1"/>
<path fill=#ffe632 d="M920,289.2l4.6-2.4l-6,1.4l-4.7,2.3z"/>
<path class=m d="M924.2,286.9l-5.2,1.5"/>
<path fill=#30ff6c d="M655,374.8l5.8-2.2l-4.7,.9l-5.9,2.2z"/>
<path class=m d="M660.4,372.7l-4.6,1.2"/>
<path fill=#8cff32 d="M797.3,331l5.2-2.4l-5.5,1l-5.1,2.4z"/>
<path fill=#bdff32 d="M841.5,316.4l5-2.5l-5.7,1.2l-5,2.3z"/>
<path class=m d="M836.3,317.3l4.7-1.8M846.1,314.1l-5.1,1.4"/>
<path fill=#5bff31 d="M753.1,345.2l5.4-2.5l-5.2,1l-5.4,2.3z"/>
<path fill=#30ff97 d="M610.8,387.5l6-2.1l-4.6,.9l-6,2z"/>
<path class=m d="M606.7,388.2l5.2-1.6"/>
<path fill=#f0ff32 d="M885.7,301.3l4.8-2.4l-5.9,1.2l-4.8,2.4z"/>
<path fill=#31ff35 d="M708.9,358.8l5.6-2.3l-5,.9l-5.6,2.3z"/>
<path class=m d="M704.4,359.5l5-1.7M714.1,356.6l-4.7,1.2"/>
<path fill=#31ff62 d="M664.8,372l5.7-2.2l-4.8,.9l-5.8,2.1z"/>
<path fill=#98ff32 d="M807.2,327.9l5.1-2.5l-5.5,1l-5.2,2.4z"/>
<path class=m d="M802.1,328.7l4.8-1.8"/>
<path fill=#67ff32 d="M763,342.1l5.3-2.4l-5.3,.9l-5.3,2.4z"/>
<path class=m d="M767.9,339.8l-4.9,1.3"/>
<path fill=#caff32 d="M851.4,313.1l4.9-2.4l-5.8,1.1l-4.9,2.4z"/>
<path fill=#30ff8d d="M620.6,384.8l5.9-2.2l-4.6,.9l-6,2.1z"/>
<path fill=#38ff31 d="M718.7,355.9l5.6-2.4l-5.1,.9l-5.5,2.3z"/>
<path fill=#fdff33 d="M895.6,297.9l4.7-2.4l-5.9,1.3l-4.8,2.3z"/>
<path class=m d="M899.9,295.6l-5.2,1.5"/>
<path fill=#31ff57 d="M674.5,369.2l5.8-2.3l-4.9,.9l-5.7,2.2z"/>
<path class=m d="M670.1,369.9l5.1-1.7"/>
<path fill=#30ffb6 d="M576.4,397.2l6.1-2.1l-4.5,.8l-6.1,2z"/>
<path class=m d="M572.3,397.8l5.3-1.6M582,395.2l-4.4,1"/>
<path fill=#a4ff32 d="M817,324.7l5.1-2.5l-5.6,1.1l-5.1,2.4z"/>
<path class=m d="M821.7,322.4l-5,1.3"/>
<path fill=#73ff32 d="M772.8,339.1l5.3-2.5l-5.4,1l-5.3,2.4z"/>
<path class=m d="M767.9,339.8l4.9-1.8"/>
<path fill=#31ff82 d="M630.4,382.1l5.8-2.2l-4.6,.9l-5.9,2.1z"/>
<path class=m d="M635.8,380l-4.6,1.1"/>
<path fill=#d6ff33 d="M861.2,309.9l4.9-2.5l-5.8,1.2l-4.8,2.4z"/>
<path fill=#44ff32 d="M728.6,353l5.5-2.4l-5.1,.8l-5.6,2.4z"/>
<path fill=#fff433 d="M905.4,294.6l4.8-2.5l-6,1.3l-4.7,2.4z"/>
<path class=m d="M899.9,295.6l4.6-1.9"/>
<path fill=#31ff4d d="M684.3,366.4l5.7-2.3l-4.9,.8l-5.7,2.3z"/>
<path class=m d="M689.6,364.2l-4.7,1.1"/>
<path fill=#30ffac d="M586.1,394.5l6.1-2.1l-4.6,.9l-6,2z"/>
<path fill=#31ff78 d="M640.1,379.4l5.9-2.3l-4.8,.9l-5.8,2.1z"/>
<path class=m d="M635.8,380l5.1-1.7"/>
<path fill=#7fff32 d="M782.6,336l5.3-2.5l-5.4,1l-5.3,2.4z"/>
<path fill=#b0ff33 d="M826.9,321.6l5-2.6l-5.6,1.1l-5.1,2.4z"/>
<path fill=#4fff32 d="M738.4,350l5.4-2.4l-5.1,.9l-5.5,2.3z"/>
<path class=m d="M733.6,350.7l5-1.8M743.4,347.7l-4.8,1.2"/>
<path fill=#e2ff33 d="M871.1,306.6l4.9-2.5l-5.9,1.2l-4.8,2.4z"/>
<path class=m d="M865.7,307.6l4.7-2M875.5,304.3l-5.1,1.3"/>
<path fill=#32ff42 d="M694.1,363.5l5.7-2.3l-5,.8l-5.6,2.3z"/>
<path fill=#ffe833 d="M915.3,291.2l4.7-2.5l-6,1.3l-4.7,2.4z"/>
<path fill=#31ffa2 d="M595.9,391.9l6-2.1l-4.6,.8l-6,2.1z"/>
<path fill=#31ff6e d="M649.9,376.6l5.8-2.3l-4.8,.9l-5.8,2.2z"/>
<path fill=#8bff33 d="M792.5,332.9l5.2-2.5l-5.5,1l-5.2,2.4z"/>
<path class=m d="M797.2,330.6l-4.9,1.2"/>
<path fill=#bcff33 d="M836.7,318.4l5-2.6l-5.6,1.1l-5,2.4z"/>
<path class=m d="M831.5,319.2l4.8-1.9"/>
<path fill=#5bff32 d="M748.2,347l5.4-2.4l-5.2,.8l-5.4,2.4z"/>
<path fill=#efff33 d="M881,303.3l4.8-2.5l-5.9,1.2l-4.8,2.4z"/>
<path fill=#32ff37 d="M703.9,360.7l5.6-2.4l-5,.8l-5.6,2.3z"/>
<path class=m d="M699.3,361.3l5.1-1.8"/>
<path fill=#31ff98 d="M605.7,389.3l5.9-2.2l-4.6,.8l-6,2.1z"/>
<path class=m d="M601.4,389.9l5.3-1.7M611.2,387.2l-4.5,1"/>
<path fill=#ffdb34 d="M925.2,287.8l4.7-2.5l-6,1.3l-4.7,2.4z"/>
<path class=m d="M929.5,285.5l-5.3,1.4"/>
<path fill=#32ff63 d="M659.7,373.8l5.8-2.3l-4.9,.8l-5.8,2.3z"/>
<path class=m d="M665,371.7l-4.6,1"/>
<path fill=#96ff33 d="M802.3,329.8l5.2-2.5l-5.5,1l-5.2,2.4z"/>
<path class=m d="M797.2,330.6l4.9-1.9"/>
<path fill=#67ff33 d="M758,344l5.4-2.5l-5.3,.9l-5.3,2.4z"/>
<path fill=#c8ff33 d="M846.6,315.1l5-2.5l-5.8,1.1l-4.9,2.4z"/>
<path class=m d="M851.1,312.8l-5,1.3"/>
<path fill=#31ff8e d="M615.4,386.6l5.9-2.2l-4.6,.8l-6,2.1z"/>
<path fill=#38ff32 d="M713.7,357.8l5.6-2.5l-5,.9l-5.6,2.3z"/>
<path class=m d="M718.9,355.5l-4.8,1.1"/>
<path fill=#fbff34 d="M890.9,300l4.8-2.5l-5.9,1.2l-4.8,2.4z"/>
<path fill=#32ff59 d="M669.5,371.1l5.7-2.4l-4.9,.8l-5.7,2.3z"/>
<path class=m d="M665,371.7l5.1-1.8"/>
<path fill=#31ffb7 d="M571.1,398.9l6.1-2.2l-4.5,.8l-6.1,2.1z"/>
<path class=m d="M567,399.5l5.3-1.7"/>
<path fill=#a2ff33 d="M812.2,326.7l5.1-2.5l-5.5,.9l-5.2,2.5z"/>
<path fill=#72ff33 d="M767.9,341l5.3-2.5l-5.3,.9l-5.4,2.4z"/>
<path class=m d="M763,341.7l4.9-1.9M772.8,338.6l-4.9,1.2"/>
<path fill=#d4ff34 d="M856.5,311.9l4.9-2.5l-5.7,1l-5,2.5z"/>
<path fill=#32ff84 d="M625.2,383.9l5.9-2.3l-4.7,.8l-5.9,2.2z"/>
<path fill=#43ff33 d="M723.6,354.9l5.5-2.5l-5.1,.8l-5.6,2.4z"/>
<path fill=#fff734 d="M900.8,296.7l4.7-2.6l-5.9,1.2l-4.8,2.5z"/>
<path class=m d="M895.3,297.6l4.6-2M905.1,294.3l-5.2,1.3"/>
<path fill=#32ff4e d="M679.3,368.2l5.7-2.3l-4.9,.8l-5.8,2.3z"/>
<path fill=#31ffad d="M580.9,396.3l6-2.2l-4.5,.8l-6.1,2.1z"/>
<path class=m d="M586.5,394.2l-4.5,1"/>
<path fill=#32ff79 d="M635,381.2l5.8-2.3l-4.7,.8l-5.9,2.2z"/>
<path class=m d="M630.6,381.8l5.2-1.8M640.4,379l-4.6,1"/>
<path fill=#aeff34 d="M822,323.5l5.1-2.5l-5.6,.9l-5,2.5z"/>
<path class=m d="M826.7,321.1l-5,1.3"/>
<path fill=#7eff33 d="M777.7,338l5.3-2.6l-5.4,.9l-5.3,2.5z"/>
<path fill=#e0ff34 d="M866.4,308.7l4.9-2.6l-5.8,1.1l-4.9,2.4z"/>
<path class=m d="M861,309.5l4.7-1.9"/>
<path fill=#4fff33 d="M733.4,351.9l5.5-2.5l-5.2,.9l-5.5,2.4z"/>
<path class=m d="M728.7,352.5l4.9-1.8"/>
<path fill=#ffea34 d="M910.7,293.3l4.7-2.5l-6,1.2l-4.7,2.4z"/>
<path fill=#33ff44 d="M689.1,365.4l5.6-2.4l-4.9,.8l-5.7,2.3z"/>
<path class=m d="M694.3,363.1l-4.7,1.1"/>
<path fill=#32ffa3 d="M590.7,393.7l5.9-2.2l-4.6,.7l-6,2.2z"/>
<path fill=#32ff6f d="M644.8,378.5l5.8-2.4l-4.8,.8l-5.8,2.2z"/>
<path fill=#89ff34 d="M787.6,334.9l5.2-2.5l-5.4,.8l-5.2,2.5z"/>
<path fill=#baff34 d="M831.9,320.4l5.1-2.6l-5.7,1l-5,2.5z"/>
<path class=m d="M826.7,321.1l4.8-1.9"/>
<path fill=#5aff33 d="M743.2,349l5.5-2.5l-5.2,.8l-5.5,2.4z"/>
<path class=m d="M748.2,346.6l-4.8,1.1"/>
<path fill=#ecff34 d="M876.2,305.4l4.9-2.6l-5.8,1.1l-4.9,2.5z"/>
<path class=m d="M880.7,303l-5.2,1.3"/>
<path fill=#33ff39 d="M698.9,362.6l5.6-2.5l-5,.8l-5.6,2.4z"/>
<path class=m d="M694.3,363.1l5-1.8"/>
<path fill=#32ff99 d="M600.4,391.1l6-2.3l-4.7,.7l-5.9,2.2z"/>
<path class=m d="M596.2,391.6l5.2-1.7"/>
<path fill=#ffde35 d="M920.6,289.9l4.7-2.5l-6,1.2l-4.7,2.4z"/>
<path fill=#33ff65 d="M654.6,375.7l5.7-2.4l-4.8,.8l-5.8,2.3z"/>
<path fill=#95ff34 d="M797.4,331.8l5.3-2.6l-5.5,.9l-5.2,2.5z"/>
<path class=m d="M792.4,332.5l4.8-1.9M802.2,329.4l-5,1.2"/>
<path fill=#c6ff34 d="M841.8,317.2l5-2.6l-5.7,1l-5,2.5z"/>
<path fill=#66ff34 d="M753.1,346l5.4-2.5l-5.3,.8l-5.4,2.4z"/>
<path fill=#f9ff35 d="M886.1,302.1l4.9-2.6l-5.9,1.1l-4.8,2.5z"/>
<path fill=#38ff33 d="M708.7,359.7l5.6-2.5l-5.1,.8l-5.5,2.4z"/>
<path fill=#32ff8f d="M610.2,388.4l5.9-2.3l-4.6,.7l-6,2.2z"/>
<path class=m d="M615.7,386.2l-4.5,1"/>
<path fill=#ffd135 d="M930.5,286.5l4.7-2.6l-6,1.3l-4.7,2.5z"/>
<path class=m d="M924.9,287.5l4.6-2M934.8,284.1l-5.3,1.4"/>
<path fill=#33ff5b d="M664.4,372.9l5.7-2.4l-4.9,.8l-5.7,2.3z"/>
<path class=m d="M659.9,373.5l5.1-1.8M669.7,370.7l-4.7,1"/>
<path fill=#a1ff34 d="M807.3,328.7l5.2-2.6l-5.5,.9l-5.2,2.5z"/>
<path fill=#32ffb7 d="M565.8,400.7l6.1-2.2l-4.5,.7l-6.1,2.1z"/>
<path class=m d="M561.7,401.2l5.3-1.7"/>
<path fill=#71ff34 d="M762.9,343l5.4-2.6l-5.3,.8l-5.4,2.5z"/>
<path class=m d="M758.1,343.6l4.9-1.9"/>
<path fill=#d2ff35 d="M851.7,314l5-2.6l-5.7,.9l-5,2.6z"/>
<path class=m d="M856.3,311.5l-5.2,1.3"/>
<path fill=#33ff85 d="M620,385.7l5.9-2.3l-4.7,.7l-5.9,2.3z"/>
<path fill=#43ff34 d="M718.6,356.8l5.5-2.5l-5.1,.7l-5.6,2.5z"/>
<path class=m d="M723.7,354.4l-4.8,1.1"/>
<path fill=#fff935 d="M896.1,298.8l4.8-2.6l-5.9,1.1l-4.8,2.5z"/>
<path class=m d="M890.6,299.6l4.7-2"/>
<path fill=#33ff50 d="M674.2,370.2l5.7-2.5l-4.9,.7l-5.7,2.4z"/>
<path fill=#32ffae d="M575.6,398.1l6-2.2l-4.5,.6l-6.1,2.2z"/>
<path fill=#adff35 d="M817.2,325.6l5.1-2.6l-5.5,.9l-5.2,2.5z"/>
<path fill=#7dff34 d="M772.8,340l5.3-2.6l-5.3,.8l-5.4,2.5z"/>
<path class=m d="M777.7,337.5l-4.9,1.1"/>
<path fill=#33ff7b d="M629.8,383.1l5.9-2.4l-4.8,.7l-5.9,2.3z"/>
<path class=m d="M625.5,383.5l5.1-1.7"/>
<path fill=#deff35 d="M861.6,310.7l5-2.6l-5.8,1l-5,2.6z"/>
<path class=m d="M856.3,311.5l4.7-2"/>
<path fill=#4eff34 d="M728.4,353.9l5.5-2.5l-5.2,.7l-5.5,2.5z"/>
<path class=m d="M723.7,354.4l5-1.9"/>
<path fill=#ffed35 d="M906,295.4l4.8-2.6l-6,1.1l-4.8,2.6z"/>
<path class=m d="M910.4,293l-5.3,1.3"/>
<path fill=#34ff46 d="M684,367.3l5.7-2.4l-5,.7l-5.7,2.4z"/>
<path fill=#33ffa4 d="M585.4,395.5l6-2.3l-4.6,.7l-6,2.2z"/>
<path class=m d="M591,393.4l-4.5,.8"/>
<path fill=#33ff71 d="M639.6,380.3l5.8-2.3l-4.8,.6l-5.8,2.3z"/>
<path class=m d="M645,378.1l-4.6,.9"/>
<path fill=#88ff35 d="M782.7,336.9l5.3-2.6l-5.5,.8l-5.2,2.6z"/>
<path fill=#b9ff35 d="M827.1,322.4l5.1-2.6l-5.6,.9l-5.1,2.6z"/>
<path class=m d="M821.9,323.1l4.8-2M831.8,320l-5.1,1.1"/>
<path fill=#5aff34 d="M738.3,350.9l5.4-2.5l-5.2,.7l-5.5,2.5z"/>
<path fill=#eaff35 d="M871.5,307.5l4.9-2.6l-5.8,.9l-4.9,2.6z"/>
<path fill=#34ff3c d="M693.8,364.5l5.7-2.5l-5,.7l-5.7,2.4z"/>
<path class=m d="M689.3,365l5-1.9M699,362.1l-4.7,1"/>
<path fill=#ffe036 d="M915.9,292.1l4.8-2.7l-6,1.1l-4.8,2.6z"/>
<path fill=#33ff9a d="M595.2,392.9l6-2.3l-4.7,.6l-6,2.3z"/>
<path class=m d="M591,393.4l5.2-1.8"/>
<path fill=#34ff67 d="M649.4,377.6l5.8-2.4l-4.8,.7l-5.8,2.3z"/>
<path fill=#94ff35 d="M792.6,333.9l5.2-2.7l-5.5,.8l-5.2,2.6z"/>
<path class=m d="M787.5,334.5l4.9-2"/>
<path fill=#c4ff35 d="M837,319.3l5.1-2.7l-5.7,.9l-5.1,2.6z"/>
<path fill=#65ff35 d="M748.1,348l5.4-2.6l-5.2,.7l-5.4,2.6z"/>
<path class=m d="M753.1,345.5l-4.9,1.1"/>
<path fill=#f6ff36 d="M881.4,304.2l4.9-2.6l-5.8,1l-4.9,2.5z"/>
<path class=m d="M885.9,301.7l-5.2,1.3"/>
<path fill=#37ff34 d="M703.7,361.7l5.6-2.6l-5.1,.7l-5.6,2.5z"/>
<path fill=#33ff90 d="M605,390.3l5.9-2.4l-4.7,.7l-5.9,2.2z"/>
<path fill=#ffd436 d="M925.8,288.7l4.8-2.6l-6,1.1l-4.8,2.5z"/>
<path class=m d="M920.3,289.6l4.6-2.1"/>
<path fill=#34ff5d d="M659.3,374.9l5.7-2.5l-4.9,.7l-5.8,2.3z"/>
<path class=m d="M654.8,375.3l5.1-1.8"/>
<path fill=#9fff35 d="M802.4,330.8l5.3-2.7l-5.5,.8l-5.3,2.6z"/>
<path class=m d="M807.2,328.3l-5,1.1"/>
<path fill=#d0ff36 d="M846.9,316.1l5-2.7l-5.7,.9l-5,2.6z"/>
<path fill=#70ff35 d="M758,345l5.4-2.6l-5.3,.7l-5.4,2.6z"/>
<path class=m d="M753.1,345.5l5-1.9"/>
<path fill=#33ffb8 d="M560.5,402.5l6.1-2.2l-4.6,.5l-6,2.2z"/>
<path class=m d="M556.4,402.9l5.3-1.7M566.2,400.4l-4.5,.8"/>
<path fill=#fffc36 d="M891.3,300.9l4.9-2.6l-5.8,1l-4.9,2.6z"/>
<path class=m d="M885.9,301.7l4.7-2.1"/>
<path fill=#42ff35 d="M713.5,358.8l5.6-2.6l-5.1,.7l-5.6,2.5z"/>
<path fill=#34ff87 d="M614.8,387.6l5.9-2.3l-4.7,.6l-5.9,2.3z"/>
<path class=m d="M620.3,385.4l-4.6,.8"/>
<path fill=#ffc836 d="M935.8,285.3l4.7-2.7l-6,1.2l-4.7,2.5z"/>
<path class=m d="M940.1,282.8l-5.3,1.3"/>
<path fill=#34ff53 d="M669.1,372.1l5.7-2.5l-4.9,.6l-5.8,2.5z"/>
<path class=m d="M674.4,369.7l-4.7,1"/>
<path fill=#33ffaf d="M570.3,400l6.1-2.3l-4.6,.6l-6.1,2.2z"/>
<path fill=#abff36 d="M812.3,327.7l5.2-2.7l-5.5,.8l-5.2,2.6z"/>
<path fill=#7cff35 d="M767.9,342l5.3-2.6l-5.3,.7l-5.4,2.6z"/>
<path fill=#dcff36 d="M856.8,312.9l5-2.7l-5.7,.9l-5,2.6z"/>
<path class=m d="M851.5,313.6l4.8-2.1M861.4,310.3l-5.1,1.2"/>
<path fill=#34ff7d d="M624.6,385l5.9-2.4l-4.8,.6l-5.9,2.3z"/>
<path class=m d="M620.3,385.4l5.2-1.9"/>
<path fill=#4dff35 d="M723.4,355.9l5.5-2.6l-5.1,.7l-5.6,2.5z"/>
<path class=m d="M718.7,356.4l5-2M728.5,353.4l-4.8,1"/>
<path fill=#ffef36 d="M901.3,297.6l4.8-2.7l-5.9,1l-4.8,2.6z"/>
<path fill=#35ff48 d="M678.9,369.3l5.7-2.5l-5,.6l-5.7,2.5z"/>
<path fill=#34ffa5 d="M580.1,397.4l6-2.3l-4.6,.5l-6,2.3z"/>
<path fill=#b7ff36 d="M822.2,324.6l5.2-2.7l-5.6,.8l-5.1,2.6z"/>
<path class=m d="M817.1,325.2l4.8-2.1"/>
<path fill=#87ff36 d="M777.8,339l5.3-2.7l-5.4,.8l-5.3,2.6z"/>
<path class=m d="M782.6,336.5l-4.9,1"/>
<path fill=#34ff73 d="M634.4,382.3l5.9-2.5l-4.9,.6l-5.8,2.4z"/>
<path fill=#e8ff36 d="M866.7,309.7l5-2.7l-5.8,.9l-4.9,2.6z"/>
<path fill=#59ff35 d="M733.3,353l5.5-2.6l-5.3,.6l-5.4,2.6z"/>
<path fill=#ffe336 d="M911.2,294.3l4.9-2.7l-6,1l-4.8,2.6z"/>
<path class=m d="M915.6,291.7l-5.2,1.3"/>
<path fill=#35ff3e d="M688.8,366.5l5.6-2.5l-5,.6l-5.7,2.4z"/>
<path class=m d="M684.2,366.9l5.1-1.9"/>
<path fill=#34ff9c d="M589.9,394.8l6-2.4l-4.7,.6l-5.9,2.3z"/>
<path class=m d="M585.7,395.2l5.3-1.8M595.5,392.6l-4.5,.8"/>
<path fill=#35ff69 d="M644.3,379.6l5.8-2.5l-4.9,.6l-5.8,2.4z"/>
<path class=m d="M649.6,377.2l-4.6,.9"/>
<path fill=#92ff36 d="M787.7,336l5.2-2.7l-5.4,.7l-5.3,2.6z"/>
<path class=m d="M782.6,336.5l4.9-2"/>
<path fill=#c2ff36 d="M832.2,321.4l5.1-2.7l-5.7,.8l-5.1,2.6z"/>
<path class=m d="M836.8,318.8l-5,1.2"/>
<path fill=#64ff36 d="M743.1,350l5.5-2.6l-5.3,.7l-5.4,2.5z"/>
<path fill=#f4ff37 d="M876.7,306.4l4.9-2.7l-5.8,.9l-4.9,2.6z"/>
<path fill=#37ff35 d="M698.6,363.7l5.6-2.6l-5,.6l-5.6,2.5z"/>
<path class=m d="M703.8,361.2l-4.8,.9"/>
<path fill=#ffd737 d="M921.2,290.9l4.8-2.7l-6,1l-4.8,2.7z"/>
<path class=m d="M915.6,291.7l4.7-2.1"/>
<path fill=#34ff92 d="M599.8,392.2l5.9-2.4l-4.7,.5l-6,2.4z"/>
<path fill=#35ff5f d="M654.1,376.8l5.8-2.5l-4.9,.6l-5.8,2.4z"/>
<path class=m d="M649.6,377.2l5.2-1.9"/>
<path fill=#9eff36 d="M797.6,332.9l5.2-2.7l-5.5,.7l-5.2,2.7z"/>
<path fill=#ceff37 d="M842.1,318.2l5.1-2.7l-5.7,.8l-5.1,2.7z"/>
<path fill=#6fff36 d="M753,347.1l5.4-2.7l-5.3,.7l-5.4,2.6z"/>
<path class=m d="M748.2,347.5l4.9-2M758,344.6l-4.9,.9"/>
<path fill=#fffe37 d="M886.6,303.1l4.9-2.7l-5.8,.9l-4.9,2.7z"/>
<path class=m d="M881.2,303.8l4.7-2.1M891.1,300.5l-5.2,1.2"/>
<path fill=#34ffb9 d="M555.2,404.4l6.1-2.3l-4.6,.5l-6.1,2.2z"/>
<path class=m d="M551.1,404.7l5.3-1.8"/>
<path fill=#42ff36 d="M708.5,360.8l5.6-2.6l-5.1,.6l-5.6,2.5z"/>
<path fill=#35ff88 d="M609.6,389.6l5.9-2.5l-4.8,.6l-5.9,2.3z"/>
<path fill=#ffcb37 d="M931.1,287.6l4.8-2.8l-6,1l-4.8,2.7z"/>
<path fill=#35ff55 d="M664,374.1l5.7-2.5l-5,.5l-5.7,2.5z"/>
<path fill=#a9ff37 d="M807.5,329.8l5.2-2.7l-5.5,.7l-5.3,2.7z"/>
<path class=m d="M812.3,327.2l-5.1,1.1"/>
<path fill=#7aff36 d="M762.9,344.1l5.4-2.7l-5.3,.7l-5.4,2.6z"/>
<path fill=#daff37 d="M852,315.1l5.1-2.8l-5.7,.8l-5.1,2.7z"/>
<path class=m d="M846.7,315.7l4.8-2.1"/>
<path fill=#34ffb0 d="M565,401.9l6-2.4l-4.6,.5l-6,2.3z"/>
<path class=m d="M570.6,399.6l-4.4,.8"/>
<path fill=#35ff7e d="M619.4,386.9l5.9-2.4l-4.8,.5l-5.9,2.4z"/>
<path class=m d="M615,387.3l5.3-1.9M624.8,384.6l-4.5,.8"/>
<path fill=#4dff36 d="M718.4,357.9l5.5-2.6l-5.1,.6l-5.6,2.6z"/>
<path class=m d="M713.6,358.3l5.1-1.9"/>
<path fill=#fff237 d="M896.6,299.8l4.9-2.7l-5.9,.9l-4.9,2.7z"/>
<path fill=#36ff4b d="M673.8,371.3l5.7-2.5l-5,.5l-5.7,2.5z"/>
<path class=m d="M679.1,368.9l-4.7,.8"/>
<path fill=#ffbf37 d="M941.1,284.2l4.8-2.8l-6.1,1l-4.7,2.7z"/>
<path class=m d="M945.5,281.6l-5.4,1.2"/>
<path fill=#35ffa7 d="M574.8,399.3l6-2.4l-4.6,.5l-6,2.3z"/>
<path fill=#b5ff37 d="M817.4,326.7l5.2-2.7l-5.6,.7l-5.2,2.7z"/>
<path class=m d="M812.3,327.2l4.8-2"/>
<path fill=#85ff37 d="M772.8,341.1l5.4-2.7l-5.4,.7l-5.4,2.6z"/>
<path fill=#e6ff37 d="M861.9,311.9l5.1-2.8l-5.8,.8l-5,2.7z"/>
<path class=m d="M866.6,309.2l-5.2,1.1"/>
<path fill=#35ff75 d="M629.2,384.3l5.9-2.5l-4.8,.5l-5.9,2.4z"/>
<path fill=#58ff36 d="M728.3,355l5.5-2.6l-5.2,.6l-5.5,2.6z"/>
<path class=m d="M733.3,352.5l-4.8,.9"/>
<path fill=#ffe637 d="M906.5,296.5l4.9-2.7l-5.9,.9l-4.9,2.7z"/>
<path fill=#36ff41 d="M683.7,368.5l5.6-2.6l-5,.6l-5.7,2.5z"/>
<path class=m d="M679.1,368.9l5.1-2"/>
<path fill=#35ff9d d="M584.7,396.8l5.9-2.5l-4.7,.5l-5.9,2.4z"/>
<path class=m d="M580.4,397l5.3-1.8"/>
<path fill=#c0ff37 d="M827.3,323.6l5.2-2.8l-5.6,.8l-5.2,2.7z"/>
<path fill=#91ff37 d="M782.7,338.1l5.3-2.7l-5.4,.6l-5.3,2.7z"/>
<path class=m d="M777.7,338.5l4.9-2M787.6,335.5l-5,1"/>
<path fill=#36ff6b d="M639.1,381.6l5.8-2.6l-4.9,.6l-5.8,2.4z"/>
<path fill=#f1ff37 d="M871.9,308.6l5-2.7l-5.8,.8l-5,2.7z"/>
<path fill=#63ff37 d="M738.1,352.1l5.5-2.6l-5.2,.6l-5.5,2.6z"/>
<path fill=#ffda38 d="M916.5,293.2l4.9-2.8l-6,.9l-4.8,2.7z"/>
<path class=m d="M911,293.9l4.6-2.2M920.9,290.6l-5.3,1.1"/>
<path fill=#36ff37 d="M693.6,365.7l5.6-2.6l-5.1,.5l-5.6,2.6z"/>
<path fill=#35ff94 d="M594.5,394.2l5.9-2.5l-4.7,.5l-5.9,2.4z"/>
<path class=m d="M600,391.8l-4.5,.8"/>
<path fill=#36ff61 d="M649,378.9l5.7-2.6l-4.9,.5l-5.8,2.5z"/>
<path class=m d="M644.5,379.2l5.1-2M654.3,376.4l-4.7,.8"/>
<path fill=#9cff37 d="M792.7,335.1l5.2-2.8l-5.4,.7l-5.3,2.6z"/>
<path fill=#ccff38 d="M837.3,320.4l5.1-2.7l-5.7,.7l-5.1,2.7z"/>
<path class=m d="M842,317.8l-5.2,1"/>
<path fill=#6eff37 d="M748,349.2l5.5-2.7l-5.3,.6l-5.4,2.6z"/>
<path class=m d="M743.2,349.6l5-2.1"/>
<path fill=#fdff38 d="M881.9,305.4l4.9-2.8l-5.8,.8l-5,2.7z"/>
<path class=m d="M876.5,306l4.7-2.2"/>
<path fill=#41ff37 d="M703.4,362.9l5.6-2.7l-5.1,.6l-5.6,2.6z"/>
<path class=m d="M708.6,360.4l-4.8,.8"/>
<path fill=#35ffbb d="M549.8,406.3l6.1-2.4l-4.6,.5l-6,2.3z"/>
<path class=m d="M545.7,406.6l5.4-1.9"/>
<path fill=#36ff8a d="M604.3,391.6l5.9-2.5l-4.7,.4l-5.9,2.4z"/>
<path fill=#ffce38 d="M926.5,289.9l4.8-2.9l-6,1l-4.8,2.7z"/>
<path fill=#36ff57 d="M658.8,376.1l5.8-2.5l-5,.4l-5.7,2.6z"/>
<path fill=#a7ff38 d="M802.6,332l5.2-2.8l-5.5,.7l-5.2,2.7z"/>
<path fill=#d7ff38 d="M847.2,317.3l5.1-2.8l-5.7,.7l-5.1,2.7z"/>
<path class=m d="M842,317.8l4.7-2.1"/>
<path fill=#79ff37 d="M758,346.2l5.4-2.7l-5.4,.6l-5.4,2.7z"/>
<path class=m d="M762.9,343.7l-4.9,.9"/>
<path fill=#35ffb1 d="M559.7,403.8l6-2.4l-4.6,.4l-6.1,2.4z"/>
<path fill=#fff538 d="M891.8,302.1l5-2.8l-5.9,.8l-4.9,2.8z"/>
<path class=m d="M896.4,299.4l-5.3,1.1"/>
<path fill=#4cff37 d="M713.3,360l5.6-2.6l-5.2,.5l-5.5,2.6z"/>
<path class=m d="M708.6,360.4l5-2.1"/>
<path fill=#36ff80 d="M614.2,388.9l5.9-2.5l-4.8,.5l-5.9,2.4z"/>
<path class=m d="M609.8,389.2l5.2-1.9"/>
<path fill=#ffc238 d="M936.5,286.5l4.8-2.8l-6,.9l-4.8,2.7z"/>
<path fill=#37ff4d d="M668.7,373.4l5.7-2.6l-5,.5l-5.7,2.5z"/>
<path fill=#b3ff38 d="M812.5,328.9l5.2-2.8l-5.5,.7l-5.2,2.7z"/>
<path class=m d="M807.4,329.4l4.9-2.2M817.3,326.3l-5,.9"/>
<path fill=#84ff38 d="M767.9,343.3l5.3-2.8l-5.3,.6l-5.4,2.7z"/>
<path fill=#36ffa8 d="M569.5,401.3l6-2.5l-4.6,.5l-6.1,2.3z"/>
<path class=m d="M575.1,399l-4.5,.6"/>
<path fill=#e3ff38 d="M857.2,314.1l5-2.8l-5.7,.7l-5.1,2.8z"/>
<path fill=#36ff77 d="M624,386.3l5.9-2.6l-4.9,.5l-5.8,2.5z"/>
<path class=m d="M629.4,383.9l-4.6,.7"/>
<path fill=#56ff37 d="M723.2,357.2l5.6-2.7l-5.2,.5l-5.6,2.6z"/>
<path fill=#ffe938 d="M901.8,298.8l4.9-2.8l-5.9,.8l-4.9,2.8z"/>
<path fill=#37ff43 d="M678.6,370.6l5.6-2.6l-5,.5l-5.7,2.5z"/>
<path class=m d="M674,370.9l5.1-2M683.8,368.1l-4.7,.8"/>
<path fill=#ffb639 d="M946.5,283.1l4.8-2.9l-6.1,1l-4.8,2.7z"/>
<path class=m d="M940.9,283.8l4.6-2.2M950.8,280.4l-5.3,1.2"/>
<path fill=#36ff9f d="M579.4,398.7l5.9-2.4l-4.7,.4l-6,2.4z"/>
<path class=m d="M575.1,399l5.3-2"/>
<path fill=#beff38 d="M822.5,325.8l5.1-2.8l-5.5,.7l-5.2,2.7z"/>
<path fill=#8fff38 d="M777.8,340.3l5.3-2.8l-5.4,.6l-5.3,2.7z"/>
<path class=m d="M772.8,340.7l4.9-2.2"/>
<path fill=#37ff6d d="M633.9,383.6l5.8-2.6l-4.9,.5l-5.8,2.5z"/>
<path fill=#efff38 d="M867.1,310.9l5.1-2.8l-5.8,.7l-5,2.8z"/>
<path class=m d="M871.7,308.2l-5.1,1"/>
<path fill=#61ff38 d="M733.1,354.3l5.5-2.7l-5.2,.5l-5.5,2.6z"/>
<path class=m d="M738.2,351.7l-4.9,.8"/>
<path fill=#ffdd39 d="M911.8,295.5l4.9-2.8l-5.9,.8l-4.9,2.8z"/>
<path class=m d="M906.3,296.1l4.7-2.2"/>
<path fill=#37ff39 d="M688.5,367.8l5.6-2.6l-5.1,.4l-5.6,2.6z"/>
<path fill=#36ff95 d="M589.2,396.2l6-2.5l-4.8,.4l-5.9,2.4z"/>
<path fill=#37ff63 d="M643.8,380.9l5.8-2.6l-5,.5l-5.8,2.5z"/>
<path class=m d="M639.3,381.2l5.2-2"/>
<path fill=#9aff38 d="M787.7,337.3l5.3-2.8l-5.4,.6l-5.3,2.7z"/>
<path class=m d="M792.6,334.6l-5,.9"/>
<path fill=#c9ff38 d="M832.4,322.7l5.2-2.8l-5.7,.6l-5.1,2.8z"/>
<path fill=#6cff38 d="M743,351.4l5.5-2.8l-5.3,.5l-5.4,2.7z"/>
<path class=m d="M738.2,351.7l5-2.1"/>
<path fill=#faff39 d="M877.1,307.7l5-2.9l-5.8,.8l-5,2.7z"/>
<path class=m d="M871.7,308.2l4.8-2.2"/>
<path fill=#40ff38 d="M698.4,365l5.6-2.7l-5.2,.5l-5.6,2.6z"/>
<path fill=#ffd139 d="M921.8,292.2l4.9-2.9l-6,.9l-4.9,2.8z"/>
<path class=m d="M926.2,289.5l-5.3,1.1"/>
<path fill=#36ffbc d="M544.5,408.3l6-2.4l-4.5,.3l-6.1,2.4z"/>
<path class=m d="M540.3,408.5l5.4-1.9M550.1,406l-4.4,.6"/>
<path fill=#37ff8c d="M599.1,393.6l5.9-2.5l-4.8,.3l-5.9,2.5z"/>
<path class=m d="M604.5,391.2l-4.5,.6"/>
<path fill=#37ff5a d="M653.7,378.2l5.7-2.6l-5,.4l-5.7,2.6z"/>
<path class=m d="M659,375.7l-4.7,.7"/>
<path fill=#a5ff39 d="M797.7,334.2l5.3-2.8l-5.5,.6l-5.3,2.7z"/>
<path fill=#d5ff39 d="M842.4,319.6l5.1-2.9l-5.7,.7l-5.1,2.7z"/>
<path class=m d="M837.1,320l4.9-2.2M847.1,316.9l-5.1,.9"/>
<path fill=#77ff38 d="M753,348.4l5.4-2.7l-5.3,.5l-5.5,2.7z"/>
<path fill=#fff839 d="M887.1,304.4l5-2.8l-5.9,.7l-4.9,2.8z"/>
<path fill=#36ffb3 d="M554.3,405.8l6.1-2.5l-4.7,.4l-6,2.4z"/>
<path fill=#4aff38 d="M708.3,362.2l5.5-2.7l-5.1,.4l-5.6,2.7z"/>
<path class=m d="M703.5,362.5l5.1-2.1M713.4,359.6l-4.8,.8"/>
<path fill=#37ff82 d="M608.9,391l5.9-2.6l-4.8,.4l-5.9,2.5z"/>
<path class=m d="M604.5,391.2l5.3-2"/>
<path fill=#ffc639 d="M931.8,288.8l4.9-2.9l-6,.9l-4.9,2.8z"/>
<path fill=#38ff50 d="M663.5,375.5l5.8-2.7l-5,.4l-5.8,2.6z"/>
<path fill=#b0ff39 d="M807.6,331.2l5.3-2.9l-5.6,.6l-5.2,2.8z"/>
<path class=m d="M802.5,331.5l4.9-2.1"/>
<path fill=#e0ff39 d="M852.3,316.4l5.2-2.9l-5.8,.7l-5,2.8z"/>
<path fill=#82ff39 d="M762.9,345.5l5.4-2.8l-5.4,.5l-5.4,2.7z"/>
<path class=m d="M767.9,342.8l-5,.9"/>
<path fill=#37ffaa d="M564.2,403.3l6-2.5l-4.7,.3l-6,2.5z"/>
<path fill=#ffec39 d="M897.1,301.2l4.9-2.9l-5.8,.7l-5,2.8z"/>
<path class=m d="M901.6,298.4l-5.2,1"/>
<path fill=#55ff38 d="M718.2,359.3l5.5-2.7l-5.2,.5l-5.5,2.6z"/>
<path fill=#37ff79 d="M618.8,388.4l5.9-2.6l-4.9,.3l-5.9,2.5z"/>
<path fill=#ffba3a d="M941.8,285.5l4.9-2.9l-6.1,.8l-4.8,2.8z"/>
<path class=m d="M936.2,286.1l4.7-2.3"/>
<path fill=#38ff46 d="M673.4,372.8l5.7-2.7l-5,.4l-5.7,2.6z"/>
<path class=m d="M668.8,373l5.2-2.1"/>
<path fill=#bcff39 d="M817.6,328.1l5.2-2.9l-5.6,.6l-5.2,2.8z"/>
<path class=m d="M822.4,325.4l-5.1,.9"/>
<path fill=#37ffa0 d="M574,400.8l6-2.6l-4.7,.4l-6,2.4z"/>
<path class=m d="M569.8,400.9l5.3-1.9M579.6,398.4l-4.5,.6"/>
<path fill=#8dff39 d="M772.8,342.5l5.4-2.8l-5.4,.5l-5.4,2.8z"/>
<path class=m d="M767.9,342.8l4.9-2.1"/>
<path fill=#ecff39 d="M862.3,313.2l5.1-2.9l-5.7,.7l-5.1,2.8z"/>
<path fill=#38ff6f d="M628.7,385.7l5.8-2.6l-4.9,.3l-5.8,2.6z"/>
<path class=m d="M634.1,383.2l-4.7,.7"/>
<path fill=#60ff39 d="M728.1,356.5l5.5-2.8l-5.2,.5l-5.5,2.7z"/>
<path fill=#ffe13a d="M907.1,297.9l4.9-2.9l-5.9,.7l-4.9,2.9z"/>
<path class=m d="M901.6,298.4l4.7-2.3"/>
<path fill=#38ff3c d="M683.3,370l5.7-2.7l-5.1,.4l-5.6,2.6z"/>
<path class=m d="M688.6,367.4l-4.8,.7"/>
<path fill=#ffae3a d="M951.8,282.1l4.9-3l-6.1,.9l-4.8,2.8z"/>
<path class=m d="M956.2,279.3l-5.4,1.1"/>
<path fill=#37ff97 d="M583.9,398.2l6-2.5l-4.8,.3l-6,2.5z"/>
<path fill=#c7ff39 d="M827.6,325l5.1-2.9l-5.6,.6l-5.2,2.8z"/>
<path fill=#98ff39 d="M782.8,339.5l5.3-2.8l-5.4,.5l-5.3,2.8z"/>
<path fill=#38ff66 d="M638.6,383l5.8-2.6l-5,.3l-5.8,2.6z"/>
<path class=m d="M634.1,383.2l5.2-2"/>
<path fill=#f7ff3a d="M872.3,310l5.1-2.9l-5.8,.7l-5.1,2.8z"/>
<path class=m d="M867,310.5l4.7-2.3M876.9,307.2l-5.2,1"/>
<path fill=#6bff39 d="M738,353.6l5.5-2.8l-5.3,.4l-5.4,2.8z"/>
<path class=m d="M733.2,353.8l5-2.1M743.1,350.9l-4.9,.8"/>
<path fill=#ffd53a d="M917.1,294.6l4.9-3l-5.9,.8l-4.9,2.9z"/>
<path fill=#3fff39 d="M693.3,367.2l5.6-2.7l-5.1,.4l-5.7,2.6z"/>
<path fill=#37ffbd d="M539.1,410.3l6.1-2.5l-4.6,.3l-6.1,2.4z"/>
<path class=m d="M534.9,410.4l5.4-1.9"/>
<path fill=#38ff8e d="M593.8,395.7l5.9-2.6l-4.8,.3l-5.9,2.5z"/>
<path fill=#38ff5c d="M648.5,380.4l5.7-2.7l-4.9,.3l-5.8,2.6z"/>
<path fill=#a3ff39 d="M792.7,336.5l5.4-2.9l-5.5,.6l-5.3,2.7z"/>
<path class=m d="M797.6,333.8l-5,.8"/>
<path fill=#d2ff3a d="M837.5,321.9l5.2-2.9l-5.6,.6l-5.2,2.8z"/>
<path class=m d="M832.3,322.3l4.8-2.3"/>
<path fill=#75ff39 d="M748,350.7l5.4-2.8l-5.3,.4l-5.4,2.7z"/>
<path fill=#fffb3a d="M882.3,306.8l5-2.9l-5.8,.6l-5,2.9z"/>
<path fill=#49ff39 d="M703.2,364.4l5.6-2.8l-5.2,.4l-5.6,2.7z"/>
<path class=m d="M698.5,364.6l5-2.1"/>
<path fill=#ffc93a d="M927.1,291.2l4.9-2.9l-6,.8l-4.8,2.8z"/>
<path class=m d="M931.6,288.4l-5.4,1.1"/>
<path fill=#37ffb4 d="M548.9,407.8l6.1-2.5l-4.6,.3l-6.1,2.4z"/>
<path class=m d="M554.6,405.4l-4.5,.6"/>
<path fill=#38ff85 d="M603.7,393.1l5.9-2.6l-4.9,.3l-5.9,2.5z"/>
<path class=m d="M599.3,393.2l5.2-2M609.1,390.6l-4.6,.6"/>
<path fill=#39ff53 d="M658.4,377.7l5.7-2.8l-5,.4l-5.7,2.6z"/>
<path class=m d="M663.7,375.1l-4.7,.6"/>
<path fill=#aeff3a d="M802.7,333.5l5.3-2.9l-5.5,.5l-5.3,2.8z"/>
<path class=m d="M797.6,333.8l4.9-2.3"/>
<path fill=#ddff3a d="M847.5,318.7l5.2-2.9l-5.7,.6l-5.2,2.9z"/>
<path class=m d="M852.2,316l-5.1,.9"/>
<path fill=#80ff3a d="M757.9,347.7l5.4-2.8l-5.3,.4l-5.4,2.8z"/>
<path fill=#fff03a d="M892.3,303.5l5-2.9l-5.8,.7l-5,2.8z"/>
<path fill=#38ffab d="M558.8,405.4l6-2.6l-4.6,.3l-6.1,2.4z"/>
<path fill=#54ff39 d="M713.1,361.6l5.6-2.8l-5.2,.4l-5.6,2.7z"/>
<path class=m d="M718.2,358.9l-4.8,.7"/>
<path fill=#38ff7b d="M613.5,390.5l5.9-2.7l-4.8,.3l-5.9,2.6z"/>
<path fill=#ffbd3b d="M937.2,287.9l4.8-3l-6,.8l-4.8,2.9z"/>
<path class=m d="M931.6,288.4l4.6-2.3"/>
<path fill=#39ff49 d="M668.3,374.9l5.7-2.7l-5,.3l-5.8,2.7z"/>
<path class=m d="M663.7,375.1l5.1-2.1"/>
<path fill=#b9ff3a d="M812.7,330.4l5.2-2.9l-5.5,.5l-5.3,2.9z"/>
<path fill=#8bff3a d="M767.9,344.8l5.4-2.9l-5.4,.5l-5.4,2.8z"/>
<path class=m d="M762.9,345l5-2.2M772.8,342.1l-4.9,.7"/>
<path fill=#e9ff3a d="M857.5,315.6l5.1-3l-5.7,.6l-5.1,2.9z"/>
<path fill=#38ffa2 d="M568.7,402.9l6-2.6l-4.7,.2l-6,2.5z"/>
<path class=m d="M564.4,402.9l5.4-2"/>
<path fill=#5eff3a d="M723,358.7l5.6-2.8l-5.3,.4l-5.5,2.7z"/>
<path fill=#ffe43b d="M902.3,300.3l5-3l-5.9,.7l-4.9,2.9z"/>
<path class=m d="M896.9,300.7l4.7-2.3M906.9,297.5l-5.3,.9"/>
<path fill=#39ff72 d="M623.4,387.9l5.9-2.7l-4.9,.3l-5.9,2.6z"/>
<path fill=#39ff3f d="M678.2,372.2l5.7-2.8l-5.1,.4l-5.7,2.6z"/>
<path fill=#ffb23b d="M947.2,284.5l4.8-3l-6,.8l-4.8,2.9z"/>
<path fill=#38ff99 d="M578.6,400.3l5.9-2.6l-4.7,.3l-6,2.5z"/>
<path class=m d="M584.1,397.8l-4.5,.6"/>
<path fill=#c4ff3a d="M822.7,327.3l5.2-2.9l-5.6,.5l-5.2,2.9z"/>
<path class=m d="M827.5,324.6l-5.1,.8"/>
<path fill=#96ff3a d="M777.8,341.8l5.4-2.9l-5.4,.5l-5.4,2.8z"/>
<path fill=#f4ff3b d="M867.5,312.4l5.1-3l-5.7,.6l-5.1,2.9z"/>
<path class=m d="M862.2,312.8l4.8-2.3"/>
<path fill=#39ff68 d="M633.3,385.2l5.9-2.7l-5,.3l-5.8,2.6z"/>
<path class=m d="M628.8,385.3l5.3-2.1M638.7,382.6l-4.6,.6"/>
<path fill=#69ff3a d="M733,355.9l5.5-2.9l-5.3,.4l-5.5,2.8z"/>
<path class=m d="M728.2,356l5-2.2"/>
<path fill=#ffd83b d="M912.4,297l4.9-3l-5.9,.7l-4.9,2.9z"/>
<path fill=#3dff3a d="M688.1,369.4l5.7-2.8l-5.1,.4l-5.7,2.7z"/>
<path class=m d="M693.3,366.8l-4.7,.6"/>
<path fill=#ffa63b d="M957.3,281.1l4.8-3l-6.1,.8l-4.8,2.9z"/>
<path class=m d="M961.7,278.3l-5.5,1"/>
<path fill=#38ffbf d="M533.7,412.4l6.1-2.6l-4.7,.2l-6.1,2.5z"/>
<path class=m d="M529.5,412.4l5.4-2"/>
<path fill=#39ff90 d="M588.5,397.8l5.9-2.6l-4.8,.2l-5.9,2.5z"/>
<path fill=#cfff3b d="M832.7,324.2l5.2-2.9l-5.7,.5l-5.2,2.9z"/>
<path class=m d="M827.5,324.6l4.8-2.3"/>
<path fill=#a1ff3a d="M787.8,338.8l5.3-2.9l-5.4,.5l-5.4,2.8z"/>
<path fill=#39ff5f d="M643.3,382.6l5.7-2.8l-4.9,.3l-5.8,2.6z"/>
<path fill=#fffe3b d="M877.5,309.2l5.1-3l-5.8,.6l-5,2.9z"/>
<path class=m d="M882.2,306.4l-5.3,.8"/>
<path fill=#74ff3a d="M742.9,353l5.5-2.9l-5.3,.4l-5.5,2.8z"/>
<path class=m d="M748,350.2l-4.9,.7"/>
<path fill=#ffcd3b d="M922.4,293.7l4.9-3l-5.9,.7l-4.9,2.9z"/>
<path fill=#48ff3a d="M698.1,366.6l5.6-2.8l-5.2,.3l-5.6,2.8z"/>
<path class=m d="M693.3,366.8l5.2-2.2"/>
<path fill=#38ffb6 d="M543.5,409.9l6.1-2.5l-4.6,.1l-6.1,2.5z"/>
<path fill=#39ff87 d="M598.4,395.2l5.9-2.6l-4.8,.2l-6,2.6z"/>
<path class=m d="M594,395.3l5.3-2.1"/>
<path fill=#3aff56 d="M653.2,379.9l5.7-2.8l-5,.3l-5.7,2.7z"/>
<path fill=#acff3b d="M797.8,335.8l5.3-2.9l-5.5,.4l-5.3,2.9z"/>
<path class=m d="M792.7,336.1l4.9-2.3M802.7,333l-5.1,.8"/>
<path fill=#dbff3b d="M842.7,321.1l5.1-2.9l-5.6,.5l-5.2,2.9z"/>
<path fill=#7eff3b d="M752.9,350.1l5.5-2.9l-5.4,.3l-5.4,2.9z"/>
<path fill=#fff33b d="M887.6,306l5-3l-5.8,.6l-5.1,2.9z"/>
<path fill=#52ff3a d="M708,363.8l5.6-2.8l-5.2,.3l-5.6,2.8z"/>
<path fill=#39ffad d="M553.4,407.5l6.1-2.6l-4.7,.1l-6.1,2.6z"/>
<path class=m d="M559,405l-4.4,.4"/>
<path fill=#ffc13c d="M932.5,290.4l4.9-3.1l-6,.7l-4.9,3z"/>
<path class=m d="M926.9,290.8l4.7-2.4M936.9,287.5l-5.3,.9"/>
<path fill=#39ff7e d="M608.3,392.6l5.9-2.7l-4.9,.3l-5.9,2.6z"/>
<path class=m d="M613.7,390.1l-4.6,.5"/>
<path fill=#3aff4c d="M663.1,377.2l5.7-2.8l-5,.2l-5.7,2.7z"/>
<path class=m d="M658.5,377.2l5.2-2.1M668.4,374.5l-4.7,.6"/>
<path fill=#b7ff3b d="M807.8,332.8l5.3-3l-5.6,.5l-5.3,2.9z"/>
<path fill=#e6ff3b d="M852.7,318l5.1-3l-5.7,.5l-5.1,2.9z"/>
<path class=m d="M857.4,315.1l-5.2,.9"/>
<path fill=#89ff3b d="M762.9,347.1l5.4-2.9l-5.4,.4l-5.4,2.8z"/>
<path class=m d="M757.9,347.3l5-2.3"/>
<path fill=#ffe83c d="M897.6,302.7l5-3l-5.8,.6l-5.1,3z"/>
<path class=m d="M892.2,303.1l4.7-2.4"/>
<path fill=#39ffa4 d="M563.3,405l6-2.6l-4.7,.1l-6,2.6z"/>
<path class=m d="M559,405l5.4-2.1"/>
<path fill=#5dff3b d="M718,361l5.5-2.9l-5.2,.4l-5.6,2.7z"/>
<path class=m d="M723.1,358.3l-4.9,.6"/>
<path fill=#3aff74 d="M618.2,390l5.8-2.7l-4.9,.2l-5.8,2.7z"/>
<path fill=#ffb63c d="M942.5,287l4.9-3l-6,.7l-4.9,2.9z"/>
<path fill=#3aff43 d="M673.1,374.4l5.6-2.8l-5,.3l-5.7,2.7z"/>
<path fill=#c2ff3b d="M817.8,329.7l5.2-2.9l-5.5,.4l-5.3,2.9z"/>
<path fill=#94ff3b d="M772.9,344.2l5.4-3l-5.5,.4l-5.4,2.9z"/>
<path class=m d="M777.8,341.4l-5,.7"/>
<path fill=#f1ff3c d="M862.7,314.8l5.1-3l-5.7,.5l-5.1,3z"/>
<path class=m d="M857.4,315.1l4.8-2.3"/>
<path fill=#39ff9b d="M573.2,402.5l6-2.7l-4.7,.2l-6,2.6z"/>
<path fill=#3aff6b d="M628.1,387.4l5.8-2.7l-4.9,.2l-5.8,2.7z"/>
<path class=m d="M623.6,387.4l5.2-2.1"/>
<path fill=#67ff3b d="M727.9,358.2l5.6-2.9l-5.3,.3l-5.5,2.8z"/>
<path class=m d="M723.1,358.3l5.1-2.3"/>
<path fill=#ffdc3c d="M907.6,299.5l5-3.1l-5.9,.6l-4.9,3z"/>
<path class=m d="M912.2,296.6l-5.3,.9"/>
<path fill=#3cff3b d="M683,371.7l5.7-2.8l-5.2,.2l-5.6,2.8z"/>
<path fill=#ffaa3c d="M952.6,283.6l4.9-3l-6.1,.7l-4.8,3z"/>
<path fill=#3aff92 d="M583.1,400l6-2.7l-4.8,.1l-6,2.6z"/>
<path class=m d="M588.7,397.4l-4.6,.4"/>
<path fill=#39ffc1 d="M528.2,414.5l6.1-2.6l-4.6,.1l-6.1,2.5z"/>
<path class=m d="M524,414.4l5.5-2M533.9,412l-4.4,.4"/>
<path fill=#cdff3c d="M827.8,326.7l5.2-3l-5.6,.4l-5.2,2.9z"/>
<path class=m d="M822.6,326.9l4.9-2.3M832.6,323.8l-5.1,.8"/>
<path fill=#9eff3b d="M782.9,341.2l5.3-2.9l-5.4,.3l-5.4,2.9z"/>
<path fill=#fcff3c d="M872.7,311.7l5.1-3.1l-5.7,.5l-5.1,3z"/>
<path fill=#3aff62 d="M638,384.8l5.8-2.8l-4.9,.2l-5.8,2.7z"/>
<path class=m d="M643.4,382.1l-4.7,.5"/>
<path fill=#72ff3b d="M737.9,355.3l5.5-2.9l-5.3,.3l-5.5,2.8z"/>
<path fill=#ffd13c d="M917.7,296.2l5-3.1l-6,.6l-4.9,3z"/>
<path fill=#46ff3b d="M693,368.9l5.6-2.8l-5.2,.2l-5.6,2.8z"/>
<path class=m d="M688.2,369l5.1-2.2M698.2,366.2l-4.9,.6"/>
<path fill=#39ffb8 d="M538.1,412.1l6.1-2.7l-4.7,.1l-6,2.6z"/>
<path fill=#3aff89 d="M593,397.4l6-2.7l-4.9,.2l-5.9,2.6z"/>
<path class=m d="M588.7,397.4l5.3-2.1"/>
<path fill=#ff9e3d d="M962.7,280.3l4.8-3.1l-6.1,.7l-4.8,3z"/>
<path class=m d="M957,280.7l4.7-2.4M967.1,277.3l-5.4,1"/>
<path fill=#3bff59 d="M648,382.1l5.7-2.8l-5,.2l-5.7,2.7z"/>
<path fill=#d8ff3c d="M837.8,323.6l5.2-3l-5.6,.4l-5.2,2.9z"/>
<path fill=#a9ff3c d="M792.9,338.2l5.3-3l-5.5,.4l-5.3,2.9z"/>
<path class=m d="M787.8,338.4l4.9-2.3"/>
<path fill=#fff73c d="M882.8,308.5l5.1-3.1l-5.9,.5l-5,3z"/>
<path class=m d="M887.4,305.5l-5.2,.9"/>
<path fill=#7cff3c d="M747.9,352.4l5.5-2.9l-5.4,.3l-5.5,2.8z"/>
<path class=m d="M752.9,349.6l-4.9,.6"/>
<path fill=#ffc53d d="M927.8,292.9l4.9-3.1l-6,.6l-4.9,3z"/>
<path class=m d="M922.2,293.3l4.7-2.5"/>
<path fill=#51ff3b d="M702.9,366.2l5.6-2.9l-5.2,.2l-5.6,2.8z"/>
<path fill=#3affaf d="M548,409.6l6.1-2.6l-4.7,.1l-6.1,2.6z"/>
<path fill=#3aff80 d="M603,394.9l5.9-2.8l-4.9,.2l-5.9,2.6z"/>
<path fill=#3bff4f d="M657.9,379.4l5.8-2.8l-5.1,.2l-5.7,2.8z"/>
<path class=m d="M653.3,379.4l5.2-2.2"/>
<path fill=#b4ff3c d="M802.9,335.2l5.3-3l-5.6,.4l-5.3,2.9z"/>
<path class=m d="M807.7,332.3l-5,.7"/>
<path fill=#e3ff3c d="M847.8,320.5l5.2-3.1l-5.7,.5l-5.1,2.9z"/>
<path fill=#87ff3c d="M757.9,349.5l5.4-3l-5.4,.3l-5.4,2.9z"/>
<path class=m d="M752.9,349.6l5-2.3"/>
<path fill=#ffeb3d d="M892.8,305.2l5.1-3l-5.9,.5l-5,3z"/>
<path class=m d="M887.4,305.5l4.8-2.4"/>
<path fill=#5bff3c d="M712.9,363.4l5.6-3l-5.3,.3l-5.5,2.8z"/>
<path fill=#3affa7 d="M557.9,407.2l6.1-2.7l-4.8,.1l-6,2.6z"/>
<path class=m d="M553.6,407.1l5.4-2.1M563.5,404.6l-4.5,.4"/>
<path fill=#3bff77 d="M612.9,392.3l5.9-2.8l-4.9,.1l-5.9,2.7z"/>
<path class=m d="M618.3,389.6l-4.6,.5"/>
<path fill=#ffba3d d="M937.8,289.6l5-3.1l-6,.6l-4.9,3z"/>
<path class=m d="M942.3,286.6l-5.4,.9"/>
<path fill=#3bff46 d="M667.9,376.7l5.7-2.8l-5.1,.2l-5.7,2.7z"/>
<path class=m d="M673.2,374l-4.8,.5"/>
<path fill=#bfff3c d="M812.9,332.2l5.3-3l-5.6,.3l-5.3,3z"/>
<path fill=#eeff3d d="M857.9,317.3l5.1-3l-5.7,.4l-5.1,3z"/>
<path class=m d="M852.6,317.6l4.8-2.5M862.6,314.4l-5.2,.7"/>
<path fill=#91ff3c d="M767.9,346.6l5.4-3l-5.4,.3l-5.4,2.9z"/>
<path fill=#3aff9e d="M567.9,404.7l6-2.7l-4.8,.1l-6,2.6z"/>
<path fill=#ffe03d d="M902.9,302l5-3.1l-5.9,.5l-5,3z"/>
<path fill=#65ff3c d="M722.9,360.5l5.5-2.9l-5.3,.2l-5.5,2.9z"/>
<path class=m d="M718,360.6l5.1-2.3M728,357.7l-4.9,.6"/>
<path fill=#3bff6e d="M622.8,389.7l5.9-2.8l-4.9,.1l-5.9,2.7z"/>
<path class=m d="M618.3,389.6l5.3-2.2"/>
<path fill=#ffae3d d="M947.9,286.2l4.9-3.1l-6,.6l-4.9,3.1z"/>
<path fill=#3cff3c d="M677.8,374l5.7-2.9l-5.1,.2l-5.7,2.8z"/>
<path fill=#caff3d d="M822.9,329.1l5.3-3l-5.6,.3l-5.3,3z"/>
<path class=m d="M817.7,329.3l4.9-2.4"/>
<path fill=#9cff3c d="M777.9,343.6l5.4-3l-5.5,.3l-5.4,3z"/>
<path class=m d="M782.8,340.8l-5,.6"/>
<path fill=#3bff95 d="M577.8,402.2l5.9-2.8l-4.7,.1l-6,2.7z"/>
<path fill=#f9ff3d d="M867.9,314.2l5.2-3.1l-5.8,.4l-5.1,3z"/>
<path fill=#3affc3 d="M522.8,416.6l6.1-2.6l-4.6,0l-6.2,2.6z"/>
<path class=m d="M518.6,416.5l5.4-2.1"/>
<path fill=#3bff65 d="M632.8,387.1l5.8-2.9l-5,.2l-5.8,2.7z"/>
<path fill=#70ff3c d="M732.8,357.7l5.6-3l-5.3,.3l-5.6,2.8z"/>
<path fill=#ffd53d d="M913,298.7l5-3.1l-5.9,.6l-5,3z"/>
<path class=m d="M917.5,295.8l-5.3,.8"/>
<path fill=#45ff3c d="M687.8,371.3l5.7-2.9l-5.2,.1l-5.6,2.9z"/>
<path class=m d="M683.1,371.3l5.1-2.3"/>
<path fill=#ffa33e d="M958,282.8l4.9-3.1l-6.1,.6l-4.8,3.1z"/>
<path class=m d="M952.4,283.2l4.6-2.5"/>
<path fill=#3bff8c d="M587.7,399.7l6-2.8l-4.9,.1l-5.9,2.7z"/>
<path class=m d="M583.3,399.6l5.4-2.2M593.2,397l-4.5,.4"/>
<path fill=#3affba d="M532.7,414.2l6.1-2.6l-4.7,0l-6.1,2.6z"/>
<path class=m d="M538.3,411.7l-4.4,.3"/>
<path fill=#d4ff3d d="M832.9,326.1l5.3-3.1l-5.7,.4l-5.2,2.9z"/>
<path class=m d="M837.7,323.1l-5.1,.7"/>
<path fill=#a6ff3d d="M787.9,340.7l5.4-3.1l-5.5,.3l-5.4,3z"/>
<path class=m d="M782.8,340.8l5-2.4"/>
<path fill=#3cff5c d="M642.7,384.4l5.8-2.8l-5,.1l-5.8,2.8z"/>
<path class=m d="M648.1,381.7l-4.7,.4"/>
<path fill=#fffa3d d="M878,311l5.1-3.1l-5.8,.4l-5.1,3.1z"/>
<path fill=#7aff3d d="M742.8,354.8l5.5-3l-5.3,.3l-5.5,2.9z"/>
<path fill=#ffc93e d="M923,295.5l5-3.2l-5.9,.6l-5,3z"/>
<path class=m d="M917.5,295.8l4.7-2.5"/>
<path fill=#4fff3c d="M697.8,368.5l5.6-2.9l-5.2,.2l-5.6,2.8z"/>
<path class=m d="M703,365.7l-4.8,.5"/>
<path fill=#3bffb1 d="M542.6,411.8l6.1-2.7l-4.7,0l-6.1,2.7z"/>
<path fill=#3bff83 d="M597.7,397.1l5.9-2.8l-4.9,.1l-5.9,2.7z"/>
<path fill=#ff973e d="M968.1,279.5l4.9-3.2l-6.1,.6l-4.8,3.1z"/>
<path class=m d="M972.6,276.5l-5.5,.8"/>
<path fill=#3cff53 d="M652.7,381.8l5.8-2.9l-5.1,.1l-5.7,2.8z"/>
<path class=m d="M648.1,381.7l5.2-2.3"/>
<path fill=#b1ff3d d="M797.9,337.7l5.4-3.1l-5.6,.3l-5.3,3z"/>
<path fill=#dfff3d d="M843,323l5.2-3.1l-5.7,.3l-5.2,3.1z"/>
<path fill=#84ff3d d="M752.8,351.9l5.5-3l-5.4,.3l-5.4,2.9z"/>
<path class=m d="M747.9,352l5-2.4M757.9,349.1l-5,.5"/>
<path fill=#ffef3e d="M888.1,307.8l5-3.1l-5.8,.4l-5.1,3.1z"/>
<path class=m d="M882.7,308l4.7-2.5M892.7,304.8l-5.3,.7"/>
<path fill=#59ff3d d="M707.8,365.7l5.6-2.9l-5.3,.1l-5.6,2.9z"/>
<path fill=#ffbe3e d="M933.1,292.2l5-3.2l-6,.5l-4.9,3.1z"/>
<path fill=#3bffa9 d="M552.5,409.4l6.1-2.7l-4.8,0l-6,2.6z"/>
<path class=m d="M548.2,409.2l5.4-2.1"/>
<path fill=#3cff7a d="M607.6,394.6l5.9-2.9l-4.9,.1l-5.9,2.8z"/>
<path fill=#3cff49 d="M662.7,379.1l5.7-2.9l-5.1,.1l-5.7,2.8z"/>
<path fill=#bcff3d d="M807.9,334.7l5.4-3.1l-5.6,.3l-5.3,3z"/>
<path class=m d="M812.8,331.7l-5.1,.6"/>
<path fill=#eaff3e d="M853,319.9l5.2-3.2l-5.7,.4l-5.2,3z"/>
<path class=m d="M847.8,320l4.8-2.4"/>
<path fill=#8fff3d d="M762.9,349l5.4-3l-5.4,.2l-5.4,3z"/>
<path fill=#ffe43e d="M898.1,304.6l5.1-3.2l-5.9,.5l-5,3z"/>
<path fill=#63ff3d d="M717.8,362.9l5.5-2.9l-5.2,.1l-5.6,2.9z"/>
<path class=m d="M712.9,362.9l5.1-2.3"/>
<path fill=#3bffa0 d="M562.5,406.9l6-2.7l-4.8,0l-6,2.7z"/>
<path class=m d="M568,404.3l-4.5,.3"/>
<path fill=#3cff71 d="M617.6,392l5.8-2.9l-4.9,.1l-5.9,2.8z"/>
<path class=m d="M613.1,391.9l5.2-2.3M623,389.3l-4.7,.3"/>
<path fill=#ffb23e d="M943.2,288.8l5-3.1l-6,.5l-5,3.1z"/>
<path class=m d="M947.7,285.8l-5.4,.8"/>
<path fill=#3dff40 d="M672.7,376.4l5.7-2.9l-5.2,.1l-5.7,2.8z"/>
<path class=m d="M677.9,373.6l-4.7,.4"/>
<path fill=#c6ff3e d="M818,331.6l5.3-3l-5.6,.2l-5.3,3.1z"/>
<path class=m d="M812.8,331.7l4.9-2.4"/>
<path fill=#f5ff3e d="M863.1,316.7l5.2-3.1l-5.8,.4l-5.1,3z"/>
<path class=m d="M867.8,313.7l-5.2,.7"/>
<path fill=#99ff3d d="M772.9,346.1l5.4-3l-5.4,.2l-5.5,3z"/>
<path fill=#3cff97 d="M572.4,404.5l6-2.8l-4.8,0l-6,2.7z"/>
<path fill=#3bffc5 d="M517.3,418.8l6.1-2.7l-4.6,0l-6.2,2.6z"/>
<path class=m d="M513.1,418.6l5.5-2.1"/>
<path fill=#ffd93e d="M908.2,301.3l5-3.1l-5.8,.4l-5.1,3.1z"/>
<path fill=#6dff3d d="M727.8,360.1l5.5-3l-5.3,.2l-5.5,2.9z"/>
<path class=m d="M732.9,357.2l-4.9,.5"/>
<path fill=#3cff68 d="M627.5,389.4l5.9-2.9l-5,.1l-5.8,2.8z"/>
<path fill=#ffa73f d="M953.4,285.5l4.9-3.2l-6.1,.5l-4.9,3.1z"/>
<path class=m d="M947.7,285.8l4.7-2.6"/>
<path fill=#43ff3d d="M682.6,373.7l5.7-3l-5.1,.1l-5.7,2.9z"/>
<path class=m d="M677.9,373.6l5.2-2.3"/>
<path fill=#d1ff3e d="M828,328.6l5.3-3.1l-5.6,.3l-5.3,3z"/>
<path fill=#3cff8f d="M582.4,402l5.9-2.9l-4.8,0l-6,2.8z"/>
<path class=m d="M578,401.8l5.3-2.2"/>
<path fill=#a4ff3e d="M782.9,343.2l5.4-3.1l-5.5,.2l-5.4,3z"/>
<path class=m d="M777.9,343.2l4.9-2.4M787.9,340.2l-5.1,.6"/>
<path fill=#3bffbc d="M527.2,416.5l6.1-2.8l-4.6,0l-6.2,2.7z"/>
<path fill=#fffe3e d="M873.2,313.6l5.1-3.2l-5.8,.4l-5.1,3.1z"/>
<path fill=#3dff5f d="M637.5,386.8l5.8-2.9l-5,0l-5.8,2.9z"/>
<path fill=#78ff3d d="M737.8,357.3l5.5-3.1l-5.3,.2l-5.5,3z"/>
<path fill=#ffcd3f d="M918.3,298.1l5-3.2l-5.9,.4l-5,3.2z"/>
<path class=m d="M912.8,298.3l4.7-2.5M922.9,295l-5.4,.8"/>
<path fill=#4dff3d d="M692.6,370.9l5.7-2.9l-5.2,0l-5.6,3z"/>
<path fill=#ff9c3f d="M963.5,282.1l4.9-3.2l-6.1,.5l-4.9,3.2z"/>
<path fill=#3cff86 d="M592.3,399.4l5.9-2.8l-4.8,0l-6,2.8z"/>
<path class=m d="M597.8,396.7l-4.6,.3"/>
<path fill=#3cffb4 d="M537.1,414.1l6.1-2.8l-4.7,0l-6.1,2.7z"/>
<path class=m d="M542.8,411.4l-4.5,.3"/>
<path fill=#dcff3e d="M838.1,325.5l5.2-3.1l-5.6,.3l-5.3,3z"/>
<path class=m d="M842.9,322.5l-5.2,.6"/>
<path fill=#aeff3e d="M793,340.2l5.3-3.1l-5.5,.2l-5.4,3z"/>
<path fill=#3dff56 d="M647.5,384.1l5.8-2.9l-5.1,.1l-5.8,2.8z"/>
<path class=m d="M642.9,384l5.2-2.3M652.8,381.3l-4.7,.4"/>
<path fill=#fff33f d="M883.3,310.4l5.1-3.2l-5.9,.4l-5.1,3.1z"/>
<path class=m d="M877.9,310.6l4.8-2.6"/>
<path fill=#82ff3e d="M747.8,354.4l5.5-3l-5.4,.1l-5.5,3z"/>
<path class=m d="M742.9,354.4l5-2.4"/>
<path fill=#ffc23f d="M928.4,294.8l5-3.2l-6,.4l-4.9,3.2z"/>
<path fill=#57ff3e d="M702.6,368.2l5.7-3l-5.3,.1l-5.6,2.9z"/>
<path class=m d="M707.8,365.3l-4.8,.4"/>
<path fill=#3cffab d="M547.1,411.7l6.1-2.8l-4.8-.1l-6,2.7z"/>
<path class=m d="M542.8,411.4l5.4-2.2"/>
<path fill=#3dff7d d="M602.3,396.9l5.9-2.9l-4.9,0l-5.9,2.8z"/>
<path fill=#ff903f d="M973.6,278.7l4.9-3.2l-6.1,.5l-4.9,3.2z"/>
<path class=m d="M978.1,275.6l-5.5,.9"/>
<path fill=#3dff4d d="M657.5,381.5l5.7-3l-5.1,.1l-5.7,2.9z"/>
<path fill=#b9ff3e d="M803,337.2l5.3-3.1l-5.5,.2l-5.3,3.1z"/>
<path fill=#e7ff3f d="M848.2,322.4l5.2-3.1l-5.7,.3l-5.2,3.1z"/>
<path class=m d="M842.9,322.5l4.9-2.5"/>
<path fill=#8cff3e d="M757.8,351.5l5.5-3l-5.4,.1l-5.5,3z"/>
<path class=m d="M762.9,348.6l-5,.5"/>
<path fill=#ffe83f d="M893.3,307.2l5.1-3.2l-5.8,.4l-5.1,3.1z"/>
<path class=m d="M898,304.1l-5.3,.7"/>
<path fill=#61ff3e d="M712.7,365.4l5.5-3l-5.2,.1l-5.6,2.9z"/>
<path class=m d="M707.8,365.3l5.1-2.4"/>
<path fill=#3cffa3 d="M557.1,409.2l6-2.8l-4.8-.1l-6,2.8z"/>
<path fill=#ffb73f d="M938.5,291.5l5-3.2l-6,.4l-4.9,3.2z"/>
<path fill=#3dff74 d="M612.3,394.4l5.8-2.9l-4.9-.1l-5.9,2.9z"/>
<path class=m d="M607.8,394.1l5.3-2.2"/>
<path fill=#3eff44 d="M667.5,378.8l5.7-3l-5.1,.1l-5.8,2.9z"/>
<path fill=#c3ff3f d="M813.1,334.2l5.3-3.1l-5.6,.2l-5.3,3.1z"/>
<path class=m d="M807.9,334.2l4.9-2.5M817.9,331.2l-5.1,.5"/>
<path fill=#f2ff3f d="M858.2,319.3l5.2-3.2l-5.7,.3l-5.2,3.1z"/>
<path fill=#96ff3e d="M767.9,348.6l5.4-3.1l-5.4,.2l-5.5,3z"/>
<path fill=#ffdd3f d="M903.4,304l5.1-3.2l-5.9,.3l-5,3.2z"/>
<path fill=#3dff9a d="M567,406.8l6-2.9l-4.8,0l-6,2.7z"/>
<path class=m d="M572.6,404l-4.6,.3"/>
<path fill=#6bff3e d="M722.7,362.6l5.5-3.1l-5.3,.1l-5.5,3z"/>
<path fill=#3dff6b d="M622.2,391.8l5.9-2.9l-5-.1l-5.8,2.9z"/>
<path class=m d="M627.7,389l-4.7,.3"/>
<path fill=#3cffc7 d="M511.8,421.1l6.1-2.8l-4.6-.1l-6.2,2.7z"/>
<path class=m d="M507.6,420.8l5.5-2.2M517.5,418.5l-4.4,.1"/>
<path fill=#ffac40 d="M948.7,288.2l4.9-3.3l-6,.5l-5,3.2z"/>
<path class=m d="M943.1,288.4l4.6-2.6M953.2,285.1l-5.5,.7"/>
<path fill=#41ff3e d="M677.5,376.1l5.7-3l-5.2,0l-5.7,3z"/>
<path class=m d="M672.7,376l5.2-2.4M682.7,373.2l-4.8,.4"/>
<path fill=#ceff3f d="M823.1,331.2l5.3-3.2l-5.6,.2l-5.3,3.1z"/>
<path fill=#a1ff3f d="M777.9,345.7l5.4-3.1l-5.4,.1l-5.5,3.1z"/>
<path class=m d="M772.9,345.7l5-2.5"/>
<path fill=#fcff3f d="M868.3,316.2l5.2-3.2l-5.8,.3l-5.1,3.1z"/>
<path class=m d="M873.1,313.1l-5.3,.6"/>
<path fill=#3dff91 d="M577,404.3l6-2.9l-4.9,0l-6,2.7z"/>
<path class=m d="M572.6,404l5.4-2.2"/>
<path fill=#3cffbf d="M521.7,418.7l6.1-2.7l-4.6-.1l-6.2,2.7z"/>
<path fill=#75ff3e d="M732.7,359.8l5.5-3.1l-5.3,.1l-5.5,3z"/>
<path class=m d="M737.8,356.8l-4.9,.4"/>
<path fill=#3eff62 d="M632.2,389.2l5.9-3l-5.1,0l-5.8,2.9z"/>
<path fill=#ffd240 d="M913.6,300.8l5-3.3l-5.9,.4l-5,3.1z"/>
<path class=m d="M908.1,300.9l4.7-2.6"/>
<path fill=#4bff3e d="M687.5,373.4l5.6-3l-5.1,0l-5.7,3z"/>
<path fill=#ffa040 d="M958.8,284.8l4.9-3.2l-6,.4l-4.9,3.2z"/>
<path fill=#3dff89 d="M587,401.8l5.9-2.9l-4.9-.1l-5.9,2.8z"/>
<path fill=#d8ff3f d="M833.2,328.1l5.3-3.1l-5.7,.2l-5.2,3.1z"/>
<path fill=#3dffb6 d="M531.7,416.4l6.1-2.8l-4.7-.2l-6.1,2.8z"/>
<path fill=#abff3f d="M788,342.8l5.4-3.2l-5.5,.2l-5.4,3z"/>
<path class=m d="M792.9,339.8l-5,.4"/>
<path fill=#fff740 d="M878.4,313l5.2-3.2l-5.8,.3l-5.2,3.2z"/>
<path class=m d="M873.1,313.1l4.8-2.5"/>
<path fill=#3eff59 d="M642.2,386.6l5.8-3l-5,0l-5.8,2.9z"/>
<path class=m d="M637.6,386.3l5.3-2.3"/>
<path fill=#7fff3f d="M742.7,357l5.6-3.2l-5.4,.1l-5.5,3.1z"/>
<path class=m d="M737.8,356.8l5.1-2.4"/>
<path fill=#ffc740 d="M923.7,297.5l5-3.3l-5.9,.4l-5.1,3.2z"/>
<path class=m d="M928.3,294.4l-5.4,.6"/>
<path fill=#55ff3f d="M697.5,370.7l5.6-3.1l-5.2,0l-5.6,3z"/>
<path fill=#ff9540 d="M969,281.5l4.9-3.3l-6.1,.4l-4.9,3.3z"/>
<path fill=#3eff80 d="M596.9,399.3l6-2.9l-4.9-.1l-6,2.8z"/>
<path class=m d="M602.4,396.5l-4.6,.2"/>
<path fill=#3dffae d="M541.6,414l6.1-2.9l-4.7-.1l-6.1,2.8z"/>
<path class=m d="M537.3,413.7l5.5-2.3M547.3,411.3l-4.5,.1"/>
<path fill=#e3ff40 d="M843.3,325.1l5.2-3.2l-5.7,.2l-5.2,3.1z"/>
<path class=m d="M838,325.1l4.9-2.6M848.1,322l-5.2,.5"/>
<path fill=#b6ff3f d="M798,339.8l5.4-3.2l-5.5,.2l-5.4,3.1z"/>
<path fill=#3eff51 d="M652.2,383.9l5.8-3l-5.1,0l-5.7,2.9z"/>
<path class=m d="M657.6,381.1l-4.8,.2"/>
<path fill=#ffec40 d="M888.5,309.9l5.2-3.3l-5.9,.3l-5.1,3.2z"/>
<path fill=#89ff3f d="M752.8,354.1l5.5-3.1l-5.4,0l-5.5,3.1z"/>
<path fill=#ffbc40 d="M933.8,294.2l5-3.3l-6,.4l-5,3.2z"/>
<path fill=#5fff3f d="M707.5,367.9l5.6-3.1l-5.2,0l-5.6,3.1z"/>
<path class=m d="M702.7,367.7l5.1-2.4M712.7,365l-4.9,.3"/>
<path fill=#3dffa5 d="M551.6,411.6l6.1-2.9l-4.8-.1l-6.1,2.8z"/>
<path fill=#3eff77 d="M606.9,396.8l5.9-3l-4.9-.1l-5.9,2.9z"/>
<path class=m d="M602.4,396.5l5.4-2.4"/>
<path fill=#ff8a40 d="M979.1,278.1l4.9-3.3l-6.1,.4l-4.9,3.3z"/>
<path class=m d="M973.4,278.3l4.7-2.7M983.6,274.9l-5.5,.7"/>
<path fill=#3fff48 d="M662.2,381.3l5.8-3l-5.1-.1l-5.8,3z"/>
<path fill=#c0ff40 d="M808.1,336.8l5.3-3.2l-5.5,.2l-5.4,3.1z"/>
<path class=m d="M803,336.8l4.9-2.6"/>
<path fill=#eeff40 d="M853.4,322l5.2-3.2l-5.7,.2l-5.2,3.1z"/>
<path fill=#94ff3f d="M762.8,351.2l5.5-3.1l-5.4,0l-5.5,3.1z"/>
<path class=m d="M767.9,348.2l-5,.4"/>
<path fill=#ffe140 d="M898.7,306.7l5.1-3.3l-5.9,.3l-5.1,3.2z"/>
<path class=m d="M903.3,303.6l-5.3,.5"/>
<path fill=#69ff3f d="M717.6,365.1l5.5-3.1l-5.2,0l-5.6,3.1z"/>
<path fill=#3eff9d d="M561.6,409.1l6-2.9l-4.8-.1l-6,2.8z"/>
<path fill=#3eff6f d="M616.9,394.2l5.9-3l-5-.1l-5.8,2.9z"/>
<path fill=#ffb041 d="M944,290.9l4.9-3.3l-6,.4l-4.9,3.2z"/>
<path class=m d="M938.4,291.1l4.7-2.7"/>
<path fill=#3dffc9 d="M506.2,423.4l6.2-2.8l-4.6-.2l-6.2,2.7z"/>
<path class=m d="M502,423l5.6-2.2"/>
<path fill=#3fff3f d="M672.3,378.6l5.7-3l-5.2-.1l-5.7,3z"/>
<path class=m d="M667.6,378.4l5.1-2.4"/>
<path fill=#caff40 d="M818.2,333.8l5.3-3.2l-5.6,.2l-5.3,3.1z"/>
<path class=m d="M823.1,330.7l-5.2,.5"/>
<path fill=#f8ff40 d="M863.5,318.9l5.2-3.3l-5.8,.2l-5.2,3.2z"/>
<path fill=#9eff40 d="M772.9,348.3l5.4-3.2l-5.4,.1l-5.5,3.1z"/>
<path class=m d="M767.9,348.2l5-2.5"/>
<path fill=#ffd641 d="M908.8,303.5l5.1-3.3l-5.9,.3l-5.1,3.2z"/>
<path class=m d="M903.3,303.6l4.8-2.7"/>
<path fill=#3eff94 d="M571.6,406.7l6-2.9l-4.9-.2l-6,2.9z"/>
<path class=m d="M567.2,406.4l5.4-2.4M577.1,403.9l-4.5,.1"/>
<path fill=#73ff3f d="M727.6,362.3l5.6-3.1l-5.4,0l-5.5,3.1z"/>
<path fill=#3fff66 d="M626.9,391.6l5.9-3l-5-.1l-5.9,3z"/>
<path class=m d="M632.3,388.8l-4.6,.2"/>
<path fill=#3dffc1 d="M516.2,421.1l6.2-2.9l-4.7-.2l-6.2,2.8z"/>
<path class=m d="M521.9,418.3l-4.4,.2"/>
<path fill=#ffa541 d="M954.1,287.6l5-3.3l-6.1,.4l-4.9,3.2z"/>
<path class=m d="M958.6,284.4l-5.4,.7"/>
<path fill=#49ff3f d="M682.3,375.9l5.7-3.1l-5.2,0l-5.7,3z"/>
<path class=m d="M687.5,373l-4.8,.2"/>
<path fill=#d5ff40 d="M828.3,330.8l5.3-3.2l-5.7,.1l-5.3,3.2z"/>
<path fill=#a8ff40 d="M783,345.4l5.4-3.2l-5.5,.1l-5.4,3.1z"/>
<path fill=#fffb41 d="M873.6,315.8l5.2-3.3l-5.8,.2l-5.2,3.2z"/>
<path class=m d="M868.2,315.8l4.9-2.7M878.3,312.6l-5.2,.5"/>
<path fill=#3eff8c d="M581.6,404.2l5.9-2.9l-4.8-.2l-6,2.9z"/>
<path fill=#3effb9 d="M526.2,418.7l6.1-2.8l-4.7-.2l-6.1,2.7z"/>
<path fill=#3fff5d d="M637,389.1l5.8-3.1l-5.1-.1l-5.8,3z"/>
<path class=m d="M632.3,388.8l5.3-2.5"/>
<path fill=#7dff40 d="M737.7,359.5l5.5-3.1l-5.4,0l-5.5,3.1z"/>
<path class=m d="M732.7,359.3l5.1-2.5M742.8,356.5l-5,.3"/>
<path fill=#ffcb41 d="M918.9,300.2l5.1-3.3l-6,.3l-5,3.3z"/>
<path fill=#53ff40 d="M692.3,373.2l5.7-3.1l-5.2-.1l-5.7,3.1z"/>
<path fill=#ff9a41 d="M964.3,284.3l4.9-3.4l-6.1,.4l-4.9,3.3z"/>
<path fill=#3fff83 d="M591.6,401.7l5.9-2.9l-4.9-.2l-5.9,2.9z"/>
<path fill=#3effb0 d="M536.2,416.4l6.1-2.9l-4.8-.2l-6.1,2.8z"/>
<path class=m d="M531.9,416l5.4-2.3"/>
<path fill=#dfff41 d="M838.4,327.8l5.3-3.3l-5.7,.1l-5.3,3.2z"/>
<path class=m d="M833.1,327.7l4.9-2.6"/>
<path fill=#b2ff40 d="M793.1,342.5l5.3-3.3l-5.5,.1l-5.4,3.2z"/>
<path class=m d="M798,339.4l-5.1,.4"/>
<path fill=#3fff54 d="M647,386.4l5.8-3l-5.1-.1l-5.8,3z"/>
<path fill=#fff041 d="M883.7,312.6l5.2-3.3l-5.9,.2l-5.1,3.2z"/>
<path fill=#87ff40 d="M747.7,356.7l5.5-3.2l-5.4,0l-5.5,3.1z"/>
<path fill=#ffc041 d="M929.1,297l5-3.4l-6,.3l-5,3.3z"/>
<path class=m d="M933.7,293.8l-5.4,.6"/>
<path fill=#5cff40 d="M702.4,370.5l5.6-3.2l-5.2,0l-5.7,3z"/>
<path class=m d="M697.6,370.2l5.1-2.5"/>
<path fill=#3effa8 d="M546.2,414l6-3l-4.7-.2l-6.1,2.9z"/>
<path class=m d="M551.8,411.2l-4.5,.1"/>
<path fill=#3fff7b d="M601.6,399.2l5.9-3l-4.9-.1l-5.9,2.9z"/>
<path class=m d="M597.1,398.9l5.3-2.4M607.1,396.3l-4.7,.2"/>
<path fill=#ff8f41 d="M974.5,280.9l4.9-3.4l-6.1,.4l-4.9,3.3z"/>
<path class=m d="M968.8,281.1l4.6-2.8"/>
<path fill=#40ff4b d="M657,383.8l5.8-3.1l-5.1-.1l-5.8,3z"/>
<path class=m d="M662.3,380.8l-4.7,.3"/>
<path fill=#bdff41 d="M803.1,339.5l5.4-3.2l-5.6,0l-5.3,3.2z"/>
<path class=m d="M798,339.4l5-2.6"/>
<path fill=#eaff41 d="M848.5,324.7l5.2-3.3l-5.7,.2l-5.2,3.2z"/>
<path class=m d="M853.3,321.5l-5.2,.5"/>
<path fill=#91ff40 d="M757.8,353.8l5.5-3.2l-5.4,0l-5.5,3.2z"/>
<path fill=#ffe541 d="M893.9,309.4l5.1-3.3l-5.9,.2l-5.1,3.3z"/>
<path fill=#66ff40 d="M712.4,367.7l5.6-3.1l-5.2-.1l-5.7,3.1z"/>
<path class=m d="M717.6,364.7l-4.9,.3"/>
<path fill=#ffb542 d="M939.2,293.7l5-3.3l-6,.2l-5,3.3z"/>
<path class=m d="M933.7,293.8l4.7-2.7"/>
<path fill=#3fffa0 d="M556.2,411.6l6-3l-4.8-.2l-6,2.9z"/>
<path fill=#3fff72 d="M611.6,396.7l5.9-3l-5-.2l-5.9,2.9z"/>
<path fill=#3effcb d="M500.7,425.8l6.2-2.9l-4.7-.3l-6.1,2.8z"/>
<path class=m d="M496.5,425.3l5.5-2.3"/>
<path fill=#40ff43 d="M667,381.2l5.8-3.1l-5.2-.2l-5.7,3.1z"/>
<path class=m d="M662.3,380.8l5.3-2.4"/>
<path fill=#ff8442 d="M984.6,277.5l4.9-3.4l-6.1,.4l-4.9,3.3z"/>
<path class=m d="M989.1,274.3l-5.5,.6"/>
<path fill=#c7ff41 d="M813.2,336.5l5.4-3.2l-5.6,0l-5.4,3.2z"/>
<path fill=#f4ff41 d="M858.6,321.6l5.2-3.3l-5.7,.1l-5.2,3.3z"/>
<path fill=#9bff41 d="M767.9,351l5.4-3.3l-5.4,0l-5.5,3.2z"/>
<path class=m d="M762.8,350.8l5.1-2.6M772.9,347.9l-5,.3"/>
<path fill=#ffdb42 d="M904,306.2l5.1-3.3l-5.9,.2l-5.1,3.3z"/>
<path class=m d="M898.6,306.2l4.7-2.6M908.7,303l-5.4,.6"/>
<path fill=#70ff40 d="M722.5,365l5.6-3.2l-5.3-.1l-5.6,3.1z"/>
<path fill=#3fff98 d="M566.2,409.1l6-2.9l-4.9-.3l-6,2.9z"/>
<path class=m d="M561.8,408.7l5.4-2.3"/>
<path fill=#40ff6a d="M621.6,394.1l5.9-3l-5-.2l-5.9,3z"/>
<path fill=#3effc3 d="M510.7,423.5l6.2-2.9l-4.7-.3l-6.2,2.8z"/>
<path fill=#ffaa42 d="M949.4,290.4l5-3.4l-6,.3l-5,3.3z"/>
<path fill=#47ff40 d="M677.1,378.5l5.7-3.1l-5.2-.2l-5.7,3.1z"/>
<path fill=#d1ff41 d="M823.4,333.5l5.3-3.3l-5.7,.1l-5.3,3.2z"/>
<path class=m d="M828.2,330.4l-5.1,.3"/>
<path fill=#ffff42 d="M868.8,318.5l5.1-3.3l-5.7,.1l-5.2,3.3z"/>
<path class=m d="M863.4,318.4l4.8-2.6"/>
<path fill=#a5ff41 d="M778,348.1l5.4-3.3l-5.5,0l-5.4,3.2z"/>
<path fill=#3fff8f d="M576.2,406.7l6-3l-4.9-.2l-6,2.9z"/>
<path class=m d="M581.7,403.8l-4.6,.1"/>
<path fill=#ffd042 d="M914.2,303l5-3.3l-5.9,.2l-5.1,3.3z"/>
<path fill=#7aff41 d="M732.6,362.2l5.5-3.2l-5.3-.1l-5.6,3.1z"/>
<path class=m d="M727.6,361.9l5.1-2.6"/>
<path fill=#3fffbb d="M520.7,421.1l6.1-2.9l-4.7-.3l-6.1,2.9z"/>
<path class=m d="M526.4,418.3l-4.5,0"/>
<path fill=#40ff61 d="M631.7,391.6l5.8-3.1l-5-.2l-5.9,3z"/>
<path class=m d="M627.1,391.2l5.2-2.4M637.1,388.6l-4.8,.2"/>
<path fill=#ff9f42 d="M959.6,287.1l5-3.4l-6.1,.3l-5,3.3z"/>
<path class=m d="M964.1,283.8l-5.5,.6"/>
<path fill=#50ff41 d="M687.1,375.8l5.7-3.2l-5.2-.1l-5.7,3.1z"/>
<path class=m d="M692.4,372.8l-4.9,.2"/>
<path fill=#dcff42 d="M833.5,330.5l5.3-3.3l-5.7,0l-5.3,3.3z"/>
<path class=m d="M828.2,330.4l4.9-2.7"/>
<path fill=#afff41 d="M788.1,345.2l5.4-3.3l-5.6,0l-5.4,3.2z"/>
<path fill=#40ff87 d="M586.2,404.2l6-3l-4.9-.2l-6,2.9z"/>
<path fill=#fff442 d="M878.9,315.4l5.2-3.4l-5.8,.2l-5.2,3.2z"/>
<path class=m d="M883.6,312.2l-5.3,.4"/>
<path fill=#3fffb3 d="M530.7,418.8l6.1-3l-4.7-.2l-6.2,2.8z"/>
<path class=m d="M526.4,418.3l5.5-2.3"/>
<path fill=#40ff58 d="M641.7,389l5.8-3.1l-5.1-.2l-5.8,3z"/>
<path fill=#84ff41 d="M742.6,359.4l5.6-3.3l-5.4,0l-5.5,3.1z"/>
<path class=m d="M747.7,356.2l-4.9,.3"/>
<path fill=#ffc542 d="M924.3,299.8l5.1-3.4l-6,.2l-5,3.3z"/>
<path fill=#5aff41 d="M697.2,373.1l5.7-3.2l-5.3-.1l-5.6,3.1z"/>
<path class=m d="M692.4,372.8l5.2-2.6"/>
<path fill=#ff9442 d="M969.8,283.8l4.9-3.5l-6.1,.3l-4.9,3.4z"/>
<path class=m d="M964.1,283.8l4.7-2.7"/>
<path fill=#40ff7e d="M596.2,401.7l6-3l-5-.3l-5.9,3z"/>
<path class=m d="M591.7,401.3l5.4-2.4"/>
<path fill=#3fffab d="M540.7,416.4l6.1-3l-4.8-.2l-6.1,2.8z"/>
<path fill=#e6ff42 d="M843.6,327.5l5.3-3.4l-5.7,.1l-5.3,3.2z"/>
<path fill=#b9ff42 d="M798.2,342.2l5.3-3.3l-5.5,0l-5.4,3.2z"/>
<path class=m d="M793,342l5-2.6M803.1,339l-5.1,.4"/>
<path fill=#41ff4f d="M651.8,386.4l5.7-3.1l-5.1-.2l-5.8,3z"/>
<path fill=#ffea42 d="M889,312.2l5.2-3.3l-5.9,.1l-5.1,3.3z"/>
<path fill=#8eff41 d="M752.7,356.5l5.5-3.2l-5.4-.1l-5.5,3.2z"/>
<path fill=#ffba43 d="M934.5,296.5l5-3.4l-6,.3l-5,3.3z"/>
<path class=m d="M929,296.6l4.7-2.8M939.1,293.3l-5.4,.5"/>
<path fill=#64ff41 d="M707.3,370.4l5.6-3.2l-5.3-.2l-5.6,3.2z"/>
<path fill=#40ffa3 d="M550.7,414l6.1-3l-4.8-.3l-6.1,3z"/>
<path class=m d="M556.3,411.1l-4.5,.1"/>
<path fill=#40ff76 d="M606.3,399.2l5.9-3.1l-5-.2l-5.9,3z"/>
<path class=m d="M611.7,396.3l-4.6,0"/>
<path fill=#ff8943 d="M980,280.4l4.9-3.4l-6.1,.3l-4.9,3.3z"/>
<path fill=#3fffce d="M495.1,428.2l6.2-2.9l-4.6-.4l-6.2,2.8z"/>
<path class=m d="M490.9,427.6l5.6-2.3M500.9,425.4l-4.4-.1"/>
<path fill=#41ff47 d="M661.8,383.8l5.8-3.2l-5.2-.2l-5.7,3.1z"/>
<path class=m d="M657.1,383.4l5.2-2.6M667.1,380.7l-4.8,.1"/>
<path fill=#c3ff42 d="M808.3,339.3l5.3-3.4l-5.6,0l-5.3,3.3z"/>
<path fill=#f0ff42 d="M853.7,324.4l5.3-3.4l-5.8,.1l-5.2,3.3z"/>
<path class=m d="M858.5,321.2l-5.2,.3"/>
<path fill=#98ff42 d="M762.8,353.7l5.5-3.3l-5.5-.1l-5.4,3.2z"/>
<path class=m d="M757.8,353.4l5-2.6"/>
<path fill=#ffdf43 d="M899.2,309.1l5.1-3.4l-5.8,.1l-5.2,3.3z"/>
<path class=m d="M893.8,309l4.8-2.8"/>
<path fill=#6dff41 d="M717.4,367.6l5.6-3.2l-5.4-.2l-5.6,3.2z"/>
<path class=m d="M722.5,364.5l-4.9,.2"/>
<path fill=#ffaf43 d="M944.7,293.3l5-3.5l-6,.3l-5,3.3z"/>
<path fill=#40ff9b d="M560.7,411.6l6.1-3l-4.9-.3l-6,2.9z"/>
<path class=m d="M556.3,411.1l5.5-2.4"/>
<path fill=#41ff6d d="M616.3,396.7l5.9-3.1l-5-.3l-5.9,3.1z"/>
<path fill=#3fffc6 d="M505.2,425.9l6.1-3l-4.7-.3l-6.1,2.9z"/>
<path fill=#44ff41 d="M671.9,381.1l5.7-3.2l-5.2-.2l-5.7,3.1z"/>
<path fill=#ff7e43 d="M990.2,277l4.9-3.5l-6.2,.4l-4.9,3.3z"/>
<path class=m d="M994.7,273.7l-5.6,.6"/>
<path fill=#cdff42 d="M818.4,336.3l5.3-3.4l-5.6,0l-5.3,3.3z"/>
<path fill=#fbff43 d="M863.9,321.3l5.2-3.4l-5.8,.1l-5.2,3.3z"/>
<path class=m d="M858.5,321.2l4.9-2.8"/>
<path fill=#a2ff42 d="M772.9,350.8l5.5-3.3l-5.5-.1l-5.5,3.2z"/>
<path class=m d="M778,347.6l-5.1,.3"/>
<path fill=#ffd543 d="M909.4,305.9l5.1-3.4l-5.9,.1l-5.1,3.3z"/>
<path class=m d="M914,302.6l-5.3,.4"/>
<path fill=#77ff42 d="M727.4,364.8l5.6-3.2l-5.3-.2l-5.6,3.2z"/>
<path class=m d="M722.5,364.5l5.1-2.6"/>
<path fill=#40ff92 d="M570.8,409.2l6-3.1l-4.9-.3l-6,3z"/>
<path fill=#41ff65 d="M626.4,394.2l5.8-3.2l-5-.2l-5.9,3z"/>
<path class=m d="M621.7,393.7l5.4-2.5"/>
<path fill=#40ffbe d="M515.2,423.6l6.1-3l-4.7-.3l-6.2,2.8z"/>
<path fill=#ffa443 d="M954.9,290l5-3.5l-6.1,.2l-5,3.4z"/>
<path fill=#4eff42 d="M681.9,378.4l5.7-3.2l-5.2-.2l-5.7,3.2z"/>
<path fill=#d8ff43 d="M828.5,333.3l5.4-3.4l-5.7,0l-5.3,3.3z"/>
<path class=m d="M823.3,333.1l4.9-2.7M833.4,330.1l-5.2,.3"/>
<path fill=#abff42 d="M783,347.9l5.5-3.3l-5.5-.1l-5.5,3.2z"/>
<path fill=#fff943 d="M874,318.2l5.2-3.4l-5.8,.1l-5.2,3.3z"/>
<path fill=#41ff8a d="M580.8,406.8l6-3.1l-4.9-.3l-6,3z"/>
<path class=m d="M586.3,403.8l-4.6,0"/>
<path fill=#81ff42 d="M737.5,362.1l5.6-3.3l-5.4-.2l-5.5,3.2z"/>
<path fill=#40ffb6 d="M525.2,421.2l6.1-2.9l-4.7-.4l-6.2,2.9z"/>
<path class=m d="M520.9,420.7l5.5-2.4M530.9,418.4l-4.5-.1"/>
<path fill=#ffca43 d="M919.6,302.7l5-3.5l-5.9,.2l-5.1,3.3z"/>
<path fill=#41ff5c d="M636.4,391.6l5.8-3.2l-5-.2l-5.9,3.1z"/>
<path class=m d="M641.8,388.6l-4.7,0"/>
<path fill=#57ff42 d="M692,375.8l5.7-3.3l-5.3-.2l-5.6,3.2z"/>
<path class=m d="M687.2,375.4l5.2-2.6M697.3,372.6l-4.9,.2"/>
<path fill=#ff9943 d="M965.1,286.7l5-3.5l-6.1,.2l-5,3.4z"/>
<path class=m d="M959.4,286.7l4.7-2.9M969.6,283.3l-5.5,.5"/>
<path fill=#e2ff43 d="M838.7,330.3l5.3-3.4l-5.7,0l-5.3,3.3z"/>
<path fill=#41ff82 d="M590.9,404.3l5.9-3.1l-4.9-.3l-6,3z"/>
<path class=m d="M586.3,403.8l5.4-2.5"/>
<path fill=#b5ff43 d="M793.2,345l5.4-3.4l-5.6,0l-5.4,3.2z"/>
<path class=m d="M788,344.7l5-2.7"/>
<path fill=#40ffae d="M535.2,418.9l6.1-3l-4.8-.4l-6.1,3z"/>
<path fill=#ffee43 d="M884.2,315.1l5.2-3.4l-5.9,0l-5.1,3.4z"/>
<path class=m d="M888.9,311.8l-5.3,.4"/>
<path fill=#42ff54 d="M646.5,389l5.8-3.2l-5.1-.2l-5.8,3.1z"/>
<path fill=#8bff42 d="M747.6,359.2l5.6-3.3l-5.4-.1l-5.6,3.2z"/>
<path class=m d="M752.7,356.1l-5,.1"/>
<path fill=#ffbf44 d="M929.7,299.4l5.1-3.4l-6,.1l-5,3.4z"/>
<path class=m d="M924.2,299.4l4.8-2.8"/>
<path fill=#61ff42 d="M702.1,373.1l5.7-3.3l-5.3-.2l-5.7,3.2z"/>
<path fill=#ff8e44 d="M975.3,283.3l5-3.5l-6.2,.3l-4.9,3.4z"/>
<path fill=#41ff7a d="M600.9,401.8l5.9-3.1l-5-.3l-5.9,3z"/>
<path fill=#41ffa6 d="M545.2,416.5l6.1-3l-4.8-.4l-6.1,3z"/>
<path fill=#ecff43 d="M848.8,327.2l5.3-3.4l-5.7,0l-5.3,3.3z"/>
<path fill=#c0ff43 d="M803.3,342.1l5.4-3.4l-5.6-.1l-5.4,3.3z"/>
<path class=m d="M808.2,338.8l-5.1,.2"/>
<path fill=#42ff4b d="M656.5,386.4l5.8-3.2l-5.1-.3l-5.8,3.2z"/>
<path class=m d="M651.8,385.9l5.3-2.5"/>
<path fill=#40ffd1 d="M489.6,430.6l6.2-2.9l-4.7-.5l-6.2,2.9z"/>
<path class=m d="M485.3,430l5.6-2.4"/>
<path fill=#ffe444 d="M894.4,311.9l5.1-3.4l-5.8,.1l-5.2,3.3z"/>
<path class=m d="M888.9,311.8l4.9-2.8"/>
<path fill=#94ff43 d="M757.8,356.4l5.5-3.3l-5.5-.2l-5.5,3.3z"/>
<path class=m d="M752.7,356.1l5.1-2.7"/>
<path fill=#ffb444 d="M939.9,296.2l5.1-3.5l-6,.1l-5.1,3.5z"/>
<path class=m d="M944.6,292.8l-5.5,.5"/>
<path fill=#6aff42 d="M712.2,370.3l5.6-3.3l-5.3-.2l-5.6,3.2z"/>
<path fill=#41ff9e d="M555.3,414.2l6-3.1l-4.8-.4l-6.1,3z"/>
<path class=m d="M550.9,413.6l5.4-2.5M560.9,411.2l-4.6-.1"/>
<path fill=#42ff71 d="M611,399.3l5.9-3.1l-5.1-.4l-5.8,3.1z"/>
<path class=m d="M616.4,396.3l-4.7,0"/>
<path fill=#ff8444 d="M985.5,280l5-3.5l-6.2,.2l-4.9,3.4z"/>
<path fill=#40ffc9 d="M499.6,428.4l6.2-3l-4.7-.5l-6.2,3z"/>
<path class=m d="M505.3,425.5l-4.4-.1"/>
<path fill=#42ff42 d="M666.6,383.8l5.8-3.2l-5.2-.3l-5.7,3.1z"/>
<path class=m d="M671.9,380.7l-4.8,0"/>
<path fill=#caff43 d="M813.4,339.1l5.4-3.4l-5.6-.1l-5.4,3.3z"/>
<path fill=#f6ff44 d="M859,324.2l5.2-3.5l-5.7,0l-5.3,3.4z"/>
<path class=m d="M853.7,324l4.8-2.8M863.8,320.9l-5.3,.3"/>
<path fill=#9eff43 d="M767.9,353.6l5.5-3.4l-5.5-.1l-5.5,3.2z"/>
<path fill=#ffd944 d="M904.6,308.8l5.1-3.5l-5.9,.1l-5.1,3.4z"/>
<path fill=#74ff43 d="M722.3,367.6l5.6-3.3l-5.3-.2l-5.6,3.2z"/>
<path class=m d="M717.4,367.2l5.1-2.7M727.5,364.4l-5,.1"/>
<path fill=#41ff96 d="M565.3,411.8l6-3.1l-4.8-.4l-6,3z"/>
<path fill=#ffaa44 d="M950.2,292.9l5-3.5l-6.1,.2l-5,3.4z"/>
<path fill=#42ff69 d="M621,396.8l5.9-3.2l-5-.3l-5.9,3.1z"/>
<path class=m d="M616.4,396.3l5.3-2.6"/>
<path fill=#41ffc1 d="M509.6,426.1l6.2-3l-4.7-.5l-6.2,3z"/>
<path fill=#4bff43 d="M676.7,381.1l5.7-3.2l-5.2-.3l-5.7,3.2z"/>
<path fill=#d4ff44 d="M823.6,336.1l5.3-3.4l-5.6-.1l-5.4,3.4z"/>
<path class=m d="M818.4,335.8l4.9-2.7"/>
<path fill=#ff7944 d="M995.8,276.6l4.9-3.6l-6.2,.3l-4.9,3.4z"/>
<path class=m d="M990,276.6l4.7-2.9M1000.3,273.2l-5.6,.5"/>
<path fill=#fffd44 d="M869.2,321.1l5.2-3.5l-5.8,0l-5.2,3.4z"/>
<path fill=#a8ff43 d="M778,350.7l5.5-3.4l-5.6-.1l-5.4,3.3z"/>
<path class=m d="M783,347.5l-5,.1"/>
<path fill=#ffcf44 d="M914.8,305.6l5.1-3.5l-6,.1l-5.1,3.4z"/>
<path class=m d="M919.4,302.2l-5.4,.4"/>
<path fill=#42ff8e d="M575.4,409.3l6-3.1l-4.9-.4l-6,3.1z"/>
<path fill=#7eff43 d="M732.4,364.8l5.6-3.3l-5.4-.2l-5.6,3.2z"/>
<path fill=#42ff60 d="M631.1,394.2l5.8-3.2l-5-.3l-5.9,3.1z"/>
<path fill=#41ffb9 d="M519.7,423.8l6.1-3.1l-4.8-.4l-6.1,3z"/>
<path class=m d="M515.3,423.2l5.6-2.5"/>
<path fill=#ff9f44 d="M960.4,289.6l5-3.5l-6.1,.1l-5,3.5z"/>
<path class=m d="M954.7,289.6l4.7-2.9"/>
<path fill=#55ff43 d="M686.8,378.5l5.7-3.3l-5.2-.3l-5.7,3.2z"/>
<path class=m d="M682,378l5.2-2.6"/>
<path fill=#deff44 d="M833.7,333.1l5.4-3.4l-5.7-.1l-5.3,3.4z"/>
<path class=m d="M838.6,329.8l-5.2,.3"/>
<path fill=#b2ff44 d="M788.1,347.8l5.5-3.4l-5.6-.1l-5.4,3.3z"/>
<path class=m d="M783,347.5l5-2.8"/>
<path fill=#fff344 d="M879.3,318l5.2-3.5l-5.8,0l-5.2,3.4z"/>
<path fill=#42ff86 d="M585.5,406.9l5.9-3.2l-4.9-.3l-6,3z"/>
<path class=m d="M580.9,406.3l5.4-2.5M591,403.9l-4.7-.1"/>
<path fill=#41ffb1 d="M529.7,421.4l6.1-3l-4.8-.5l-6.1,3z"/>
<path class=m d="M535.4,418.5l-4.5-.1"/>
<path fill=#87ff43 d="M742.5,362l5.6-3.3l-5.4-.2l-5.6,3.2z"/>
<path fill=#43ff58 d="M641.2,391.7l5.8-3.2l-5.1-.4l-5.8,3.2z"/>
<path class=m d="M646.6,388.6l-4.8,0"/>
<path fill=#ffc444 d="M925,302.4l5.1-3.5l-6,0l-5.1,3.5z"/>
<path class=m d="M919.4,302.2l4.8-2.8"/>
<path fill=#5eff43 d="M696.9,375.8l5.7-3.3l-5.3-.3l-5.7,3.2z"/>
<path class=m d="M702.2,372.6l-4.9,0"/>
<path fill=#ff9445 d="M970.6,286.3l5-3.5l-6.1,.1l-5,3.5z"/>
<path class=m d="M975.2,282.9l-5.6,.4"/>
<path fill=#42ff7d d="M595.5,404.4l6-3.1l-5-.4l-6,3.1z"/>
<path fill=#e8ff44 d="M843.9,330.1l5.3-3.4l-5.7-.1l-5.3,3.3z"/>
<path fill=#bcff44 d="M798.3,344.9l5.4-3.4l-5.6-.2l-5.4,3.4z"/>
<path fill=#42ffa9 d="M539.8,419.1l6-3.1l-4.8-.4l-6.1,3z"/>
<path fill=#ffe945 d="M889.5,314.9l5.2-3.5l-5.8,0l-5.2,3.4z"/>
<path class=m d="M884.1,314.6l4.8-2.8M894.3,311.5l-5.4,.3"/>
<path fill=#43ff4f d="M651.3,389.1l5.8-3.3l-5.2-.3l-5.8,3.2z"/>
<path class=m d="M646.6,388.6l5.2-2.7"/>
<path fill=#91ff44 d="M752.7,359.2l5.5-3.4l-5.5-.2l-5.5,3.3z"/>
<path class=m d="M747.7,358.8l5-2.7M757.8,356l-5.1,.1"/>
<path fill=#41ffd3 d="M484,433.1l6.2-3l-4.7-.5l-6.2,2.9z"/>
<path class=m d="M479.7,432.4l5.6-2.4"/>
<path fill=#ffba45 d="M935.2,299.2l5-3.6l-5.9,.1l-5.1,3.4z"/>
<path fill=#68ff43 d="M707,373.1l5.7-3.3l-5.3-.3l-5.7,3.2z"/>
<path fill=#43ff75 d="M605.6,402l5.9-3.2l-5-.4l-5.9,3.1z"/>
<path fill=#ff8945 d="M980.9,283l4.9-3.6l-6.1,.1l-5,3.5z"/>
<path fill=#42ffa1 d="M549.8,416.8l6.1-3.2l-4.9-.4l-6,3z"/>
<path class=m d="M545.4,416.1l5.5-2.5"/>
<path fill=#c6ff44 d="M808.4,342l5.4-3.5l-5.6-.1l-5.4,3.3z"/>
<path class=m d="M813.4,338.7l-5.2,.1"/>
<path fill=#f2ff45 d="M854.1,327.1l5.3-3.5l-5.8-.1l-5.3,3.4z"/>
<path class=m d="M848.8,326.8l4.9-2.8"/>
<path fill=#43ff47 d="M661.4,386.5l5.7-3.3l-5.1-.3l-5.8,3.2z"/>
<path fill=#41ffcc d="M494,430.9l6.2-3.1l-4.7-.5l-6.2,3z"/>
<path fill=#9bff44 d="M762.8,356.4l5.5-3.4l-5.5-.2l-5.5,3.3z"/>
<path fill=#ffde45 d="M899.7,311.7l5.2-3.5l-5.9,0l-5.1,3.4z"/>
<path fill=#71ff44 d="M717.1,370.4l5.7-3.4l-5.4-.3l-5.6,3.3z"/>
<path class=m d="M712.2,369.9l5.2-2.7"/>
<path fill=#ffaf45 d="M945.4,295.9l5.1-3.6l-6.1,.1l-5,3.5z"/>
<path class=m d="M950,292.5l-5.4,.3"/>
<path fill=#42ff99 d="M559.9,414.4l6-3.2l-4.9-.4l-6,3z"/>
<path class=m d="M565.5,411.3l-4.6-.1"/>
<path fill=#43ff6d d="M615.7,399.5l5.9-3.3l-5.1-.4l-5.9,3.2z"/>
<path class=m d="M611.1,398.9l5.3-2.6M621.1,396.3l-4.7,0"/>
<path fill=#42ffc4 d="M504.1,428.6l6.1-3l-4.7-.6l-6.2,3z"/>
<path class=m d="M509.8,425.7l-4.5-.2"/>
<path fill=#49ff44 d="M671.5,383.9l5.7-3.3l-5.2-.4l-5.7,3.2z"/>
<path class=m d="M676.8,380.7l-4.9,0"/>
<path fill=#ff7e45 d="M991.1,279.6l4.9-3.6l-6.1,.2l-4.9,3.5z"/>
<path class=m d="M985.4,279.5l4.6-2.9"/>
<path fill=#d0ff45 d="M818.6,339l5.4-3.5l-5.7-.1l-5.3,3.4z"/>
<path class=m d="M813.4,338.7l5-2.9"/>
<path fill=#fcff45 d="M864.3,324l5.2-3.5l-5.8-.1l-5.2,3.5z"/>
<path class=m d="M869.1,320.6l-5.3,.3"/>
<path fill=#a4ff44 d="M772.9,353.5l5.5-3.4l-5.5-.2l-5.5,3.3z"/>
<path fill=#ffd445 d="M910,308.6l5.1-3.6l-5.9,0l-5.2,3.5z"/>
<path fill=#7aff44 d="M727.3,367.6l5.6-3.4l-5.4-.3l-5.6,3.3z"/>
<path class=m d="M732.4,364.4l-4.9,0"/>
<path fill=#43ff91 d="M570,412l6-3.2l-5-.5l-6,3.1z"/>
<path fill=#43ff65 d="M625.8,396.9l5.8-3.2l-5-.4l-5.9,3.2z"/>
<path fill=#ffa445 d="M955.6,292.6l5.1-3.5l-6.1,0l-5,3.5z"/>
<path class=m d="M950,292.5l4.7-2.9"/>
<path fill=#42ffbc d="M514.1,426.3l6.2-3.1l-4.8-.5l-6.1,3.1z"/>
<path class=m d="M509.8,425.7l5.5-2.5"/>
<path fill=#52ff44 d="M681.6,381.2l5.7-3.3l-5.2-.3l-5.8,3.2z"/>
<path class=m d="M676.8,380.7l5.2-2.7"/>
<path fill=#d9ff45 d="M828.8,336l5.3-3.4l-5.7-.2l-5.3,3.4z"/>
<path fill=#fff845 d="M874.5,320.9l5.2-3.5l-5.8-.1l-5.2,3.5z"/>
<path fill=#ff7446 d="M1001.4,276.2l4.9-3.6l-6.2,.2l-4.9,3.5z"/>
<path class=m d="M1005.9,272.8l-5.6,.4"/>
<path fill=#aeff45 d="M783.1,350.7l5.5-3.5l-5.6-.2l-5.4,3.4z"/>
<path class=m d="M778,350.2l5-2.7M788.1,347.4l-5.1,.1"/>
<path fill=#ffc945 d="M920.2,305.4l5.1-3.6l-6,0l-5.1,3.5z"/>
<path class=m d="M914.7,305.2l4.7-3M924.9,301.9l-5.5,.3"/>
<path fill=#43ff89 d="M580,409.6l6-3.2l-4.9-.5l-6,3.1z"/>
<path class=m d="M575.5,408.9l5.4-2.6"/>
<path fill=#84ff44 d="M737.4,364.9l5.6-3.4l-5.4-.3l-5.6,3.3z"/>
<path fill=#44ff5c d="M635.9,394.4l5.8-3.3l-5.1-.4l-5.8,3.2z"/>
<path fill=#42ffb4 d="M524.2,424l6.1-3.1l-4.8-.5l-6.1,3z"/>
<path fill=#ff9a46 d="M965.9,289.3l5-3.6l-6.1,.1l-5,3.5z"/>
<path fill=#5bff44 d="M691.7,378.6l5.7-3.4l-5.3-.3l-5.7,3.2z"/>
<path fill=#e3ff45 d="M839,333.1l5.3-3.6l-5.7-.1l-5.3,3.4z"/>
<path class=m d="M843.9,329.7l-5.3,.1"/>
<path fill=#b8ff45 d="M793.3,347.8l5.4-3.5l-5.6-.2l-5.4,3.4z"/>
<path fill=#ffed46 d="M884.7,317.8l5.2-3.5l-5.9-.1l-5.2,3.5z"/>
<path class=m d="M879.3,317.5l4.8-2.9"/>
<path fill=#43ff81 d="M590.1,407.1l6-3.2l-5-.5l-6,3.2z"/>
<path class=m d="M595.6,404l-4.6-.1"/>
<path fill=#43ffad d="M534.2,421.7l6.1-3.1l-4.8-.5l-6.1,3z"/>
<path class=m d="M539.9,418.7l-4.5-.2"/>
<path fill=#44ff54 d="M646,391.8l5.8-3.3l-5.2-.4l-5.8,3.2z"/>
<path class=m d="M641.3,391.2l5.3-2.6M651.4,388.7l-4.8-.1"/>
<path fill=#8dff45 d="M747.6,362.1l5.5-3.5l-5.4-.3l-5.6,3.4z"/>
<path class=m d="M742.6,361.6l5.1-2.8"/>
<path fill=#ffbf46 d="M930.4,302.2l5.1-3.6l-6,0l-5.1,3.5z"/>
<path fill=#42ffd6 d="M478.3,435.7l6.3-3.1l-4.7-.6l-6.2,3z"/>
<path class=m d="M474.1,434.9l5.6-2.5M484.1,432.7l-4.4-.3"/>
<path fill=#65ff44 d="M701.8,375.9l5.7-3.4l-5.3-.3l-5.7,3.3z"/>
<path class=m d="M707.1,372.6l-4.9,0"/>
<path fill=#ff8f46 d="M976.2,286l4.9-3.6l-6.1,.1l-5,3.5z"/>
<path class=m d="M980.7,282.6l-5.5,.3"/>
<path fill=#44ff79 d="M600.2,404.7l5.9-3.3l-5-.5l-5.9,3.2z"/>
<path fill=#43ffa5 d="M544.3,419.4l6.1-3.2l-4.9-.5l-6,3.1z"/>
<path class=m d="M539.9,418.7l5.5-2.6"/>
<path fill=#edff46 d="M849.2,330l5.3-3.5l-5.8-.2l-5.3,3.5z"/>
<path class=m d="M843.9,329.7l4.9-2.9"/>
<path fill=#c2ff45 d="M803.4,344.9l5.4-3.5l-5.6-.2l-5.4,3.4z"/>
<path fill=#44ff4b d="M656.1,389.3l5.8-3.4l-5.2-.4l-5.8,3.3z"/>
<path fill=#ffe346 d="M894.9,314.7l5.2-3.5l-5.9-.1l-5.2,3.5z"/>
<path class=m d="M899.6,311.3l-5.3,.2"/>
<path fill=#97ff45 d="M757.7,359.3l5.5-3.5l-5.4-.3l-5.6,3.4z"/>
<path class=m d="M762.8,355.9l-5,.1"/>
<path fill=#42ffcf d="M488.4,433.4l6.2-3l-4.7-.6l-6.2,3z"/>
<path fill=#ffb446 d="M940.6,299l5.1-3.7l-6,0l-5.1,3.6z"/>
<path fill=#6eff45 d="M712,373.2l5.6-3.4l-5.3-.4l-5.7,3.4z"/>
<path class=m d="M707.1,372.6l5.1-2.7"/>
<path fill=#44ff71 d="M610.3,402.2l5.9-3.3l-5-.5l-5.9,3.2z"/>
<path class=m d="M605.7,401.5l5.4-2.6"/>
<path fill=#43ff9d d="M554.4,417l6.1-3.2l-4.9-.5l-6.1,3.1z"/>
<path fill=#ff8446 d="M986.4,282.7l5-3.6l-6.2,0l-4.9,3.6z"/>
<path class=m d="M980.7,282.6l4.7-3.1"/>
<path fill=#46ff45 d="M666.2,386.7l5.8-3.4l-5.2-.4l-5.8,3.3z"/>
<path fill=#cbff46 d="M813.6,342l5.4-3.6l-5.6-.2l-5.4,3.4z"/>
<path class=m d="M808.4,341.5l5-2.8M818.6,338.6l-5.2,.1"/>
<path fill=#f8ff46 d="M859.4,327l5.2-3.6l-5.7-.1l-5.3,3.5z"/>
<path fill=#43ffc7 d="M498.5,431.2l6.2-3.1l-4.8-.6l-6.2,3.1z"/>
<path fill=#a1ff45 d="M767.9,356.5l5.5-3.5l-5.5-.3l-5.5,3.4z"/>
<path fill=#ffd946 d="M905.1,311.6l5.2-3.6l-5.9-.1l-5.2,3.5z"/>
<path fill=#77ff45 d="M722.1,370.5l5.6-3.4l-5.3-.4l-5.7,3.3z"/>
<path fill=#ffaa46 d="M950.9,295.7l5.1-3.6l-6.1,0l-5,3.5z"/>
<path class=m d="M945.3,295.5l4.7-3M955.5,292.2l-5.5,.3"/>
<path fill=#44ff95 d="M564.5,414.7l6-3.3l-4.9-.5l-6,3.1z"/>
<path class=m d="M570.1,411.5l-4.6-.2"/>
<path fill=#44ff69 d="M620.4,399.7l5.9-3.3l-5.1-.5l-5.9,3.2z"/>
<path class=m d="M625.9,396.5l-4.8-.2"/>
<path fill=#43ffbf d="M508.5,429l6.2-3.2l-4.7-.6l-6.2,3.1z"/>
<path class=m d="M504.2,428.2l5.6-2.5M514.3,425.9l-4.5-.2"/>
<path fill=#4fff45 d="M676.3,384.1l5.8-3.4l-5.3-.5l-5.7,3.3z"/>
<path class=m d="M671.5,383.4l5.3-2.7M681.6,380.8l-4.8-.1"/>
<path fill=#ff7a47 d="M996.7,279.3l4.9-3.6l-6.1,0l-5,3.6z"/>
<path fill=#d5ff46 d="M823.8,339l5.4-3.5l-5.7-.3l-5.4,3.5z"/>
<path fill=#fffc46 d="M869.6,324l5.2-3.6l-5.8-.2l-5.2,3.5z"/>
<path class=m d="M874.4,320.5l-5.3,.1"/>
<path fill=#aaff46 d="M778,353.6l5.5-3.5l-5.5-.3l-5.5,3.4z"/>
<path class=m d="M772.9,353.1l5.1-2.9"/>
<path fill=#ffcf46 d="M915.4,308.4l5.1-3.6l-5.9-.1l-5.2,3.6z"/>
<path class=m d="M909.9,308.1l4.8-2.9"/>
<path fill=#80ff45 d="M732.3,367.7l5.6-3.4l-5.4-.4l-5.6,3.4z"/>
<path class=m d="M737.4,364.4l-5,0"/>
<path fill=#44ff8d d="M574.6,412.3l6-3.3l-5-.5l-6,3.1z"/>
<path class=m d="M570.1,411.5l5.4-2.6"/>
<path fill=#45ff61 d="M630.5,397.2l5.9-3.3l-5.1-.5l-5.9,3.2z"/>
<path fill=#43ffb8 d="M518.6,426.7l6.2-3.2l-4.8-.6l-6.2,3.1z"/>
<path fill=#ff9f47 d="M961.2,292.4l5-3.6l-6.1,0l-5,3.5z"/>
<path fill=#58ff45 d="M686.5,381.4l5.7-3.4l-5.3-.4l-5.7,3.3z"/>
<path fill=#dfff46 d="M834,336l5.4-3.5l-5.7-.3l-5.4,3.5z"/>
<path fill=#b4ff46 d="M788.2,350.7l5.5-3.5l-5.6-.3l-5.4,3.5z"/>
<path class=m d="M793.2,347.3l-5.1,.1"/>
<path fill=#fff247 d="M879.8,320.9l5.2-3.6l-5.8-.2l-5.2,3.5z"/>
<path class=m d="M874.4,320.5l4.9-3"/>
<path fill=#ff6f47 d="M1007,276l4.9-3.7l-6.2,0l-4.9,3.7z"/>
<path class=m d="M1011.5,272.4l-5.6,.4"/>
<path fill=#44ff85 d="M584.7,409.9l6-3.3l-5-.6l-6,3.2z"/>
<path fill=#8aff46 d="M742.4,365l5.6-3.5l-5.4-.4l-5.6,3.4z"/>
<path class=m d="M737.4,364.4l5.2-2.8"/>
<path fill=#ffc447 d="M925.6,305.2l5.1-3.6l-5.9-.1l-5.2,3.6z"/>
<path class=m d="M930.3,301.7l-5.4,.2"/>
<path fill=#45ff58 d="M640.7,394.6l5.8-3.3l-5.2-.5l-5.8,3.3z"/>
<path class=m d="M636,394l5.3-2.8"/>
<path fill=#44ffb0 d="M528.7,424.4l6.1-3.2l-4.8-.6l-6.1,3.1z"/>
<path fill=#61ff45 d="M696.6,378.8l5.7-3.5l-5.3-.4l-5.7,3.3z"/>
<path fill=#ff9547 d="M971.4,289.1l5-3.6l-6.1,0l-5,3.6z"/>
<path fill=#43ffd9 d="M472.7,438.3l6.3-3.1l-4.7-.7l-6.3,3z"/>
<path class=m d="M468.5,437.5l5.6-2.6"/>
<path fill=#e9ff47 d="M844.2,333.1l5.3-3.6l-5.7-.3l-5.3,3.5z"/>
<path class=m d="M838.9,332.6l5-2.9M849.1,329.6l-5.2,.1"/>
<path fill=#bdff46 d="M798.4,347.9l5.4-3.6l-5.6-.3l-5.4,3.5z"/>
<path fill=#45ff7d d="M594.8,407.4l6-3.3l-5.1-.5l-5.9,3.2z"/>
<path class=m d="M600.3,404.2l-4.7-.2"/>
<path fill=#ffe847 d="M890,317.8l5.2-3.6l-5.8-.2l-5.2,3.5z"/>
<path fill=#44ffa8 d="M538.8,422.1l6.1-3.2l-4.9-.6l-6,3.1z"/>
<path class=m d="M534.4,421.3l5.5-2.6M544.5,419l-4.6-.3"/>
<path fill=#45ff50 d="M650.8,392.1l5.8-3.4l-5.2-.5l-5.8,3.3z"/>
<path class=m d="M656.2,388.8l-4.8-.1"/>
<path fill=#93ff46 d="M752.6,362.2l5.5-3.5l-5.4-.4l-5.6,3.4z"/>
<path fill=#ffba47 d="M935.9,302l5.1-3.6l-6-.1l-5.1,3.6z"/>
<path fill=#43ffd2 d="M482.8,436.1l6.2-3.2l-4.7-.6l-6.2,3z"/>
<path class=m d="M488.6,433l-4.5-.3"/>
<path fill=#6bff46 d="M706.8,376.1l5.6-3.5l-5.3-.4l-5.7,3.4z"/>
<path class=m d="M701.9,375.5l5.2-2.9M712,372.8l-4.9-.2"/>
<path fill=#ff8a47 d="M981.7,285.8l5-3.7l-6.1,0l-5,3.6z"/>
<path class=m d="M976,285.6l4.7-3M986.3,282.3l-5.6,.3"/>
<path fill=#45ff75 d="M604.9,405l5.9-3.4l-5-.5l-5.9,3.2z"/>
<path class=m d="M600.3,404.2l5.4-2.7"/>
<path fill=#44ffa1 d="M548.9,419.8l6.1-3.3l-4.9-.6l-6.1,3.2z"/>
<path fill=#f3ff47 d="M854.4,330l5.3-3.6l-5.7-.2l-5.3,3.5z"/>
<path fill=#c7ff47 d="M808.6,345l5.4-3.6l-5.6-.3l-5.4,3.5z"/>
<path class=m d="M803.4,344.4l5-2.9"/>
<path fill=#46ff48 d="M660.9,389.5l5.8-3.4l-5.2-.5l-5.8,3.3z"/>
<path fill=#ffde47 d="M900.3,314.7l5.2-3.7l-5.9-.2l-5.2,3.6z"/>
<path class=m d="M905,311.1l-5.4,.2"/>
<path fill=#9dff46 d="M762.8,359.4l5.5-3.5l-5.5-.4l-5.5,3.4z"/>
<path class=m d="M767.9,356l-5.1-.1"/>
<path fill=#44ffca d="M492.9,433.9l6.2-3.2l-4.8-.7l-6.2,3.1z"/>
<path fill=#ffb047 d="M946.1,298.8l5.1-3.7l-6-.1l-5.1,3.7z"/>
<path class=m d="M940.5,298.5l4.8-3"/>
<path fill=#74ff46 d="M716.9,373.4l5.7-3.5l-5.4-.4l-5.6,3.4z"/>
<path fill=#45ff6d d="M615.1,402.5l5.8-3.4l-5-.5l-5.9,3.3z"/>
<path fill=#45ff99 d="M559,417.4l6.1-3.3l-5-.6l-6,3.2z"/>
<path fill=#ff8048 d="M992,282.5l5-3.7l-6.2,0l-4.9,3.6z"/>
<path fill=#4cff46 d="M671.1,386.9l5.7-3.4l-5.2-.5l-5.8,3.3z"/>
<path class=m d="M666.3,386.2l5.2-2.8"/>
<path fill=#44ffc3 d="M503,431.6l6.1-3.2l-4.7-.6l-6.2,3.1z"/>
<path class=m d="M498.6,430.8l5.6-2.6"/>
<path fill=#d1ff47 d="M818.8,342l5.4-3.6l-5.7-.3l-5.3,3.5z"/>
<path class=m d="M823.8,338.6l-5.2,0"/>
<path fill=#fdff47 d="M864.7,327l5.2-3.6l-5.8-.3l-5.2,3.6z"/>
<path fill=#a6ff47 d="M773,356.6l5.5-3.6l-5.6-.4l-5.5,3.5z"/>
<path class=m d="M767.9,356l5-2.9"/>
<path fill=#ffd447 d="M910.5,311.5l5.2-3.6l-5.9-.2l-5.2,3.6z"/>
<path class=m d="M905,311.1l4.9-3"/>
<path fill=#7dff46 d="M727.1,370.7l5.6-3.5l-5.4-.5l-5.6,3.4z"/>
<path fill=#ffa548 d="M956.4,295.6l5.1-3.7l-6.1-.1l-5,3.6z"/>
<path class=m d="M961,292l-5.5,.2"/>
<path fill=#45ff91 d="M569.1,415l6-3.3l-4.9-.6l-6,3.2z"/>
<path class=m d="M564.6,414.2l5.5-2.7M574.7,411.8l-4.6-.3"/>
<path fill=#46ff65 d="M625.2,400l5.9-3.4l-5.1-.5l-5.9,3.3z"/>
<path class=m d="M630.6,396.7l-4.7-.2"/>
<path fill=#44ffbb d="M513.1,429.4l6.1-3.2l-4.8-.7l-6.1,3.1z"/>
<path class=m d="M518.8,426.3l-4.5-.4"/>
<path fill=#55ff46 d="M681.2,384.3l5.8-3.4l-5.3-.6l-5.7,3.4z"/>
<path class=m d="M686.5,381l-4.9-.2"/>
<path fill=#daff47 d="M829,339.1l5.4-3.6l-5.7-.4l-5.4,3.6z"/>
<path fill=#ff7548 d="M1002.3,279.2l5-3.8l-6.2,0l-5,3.7z"/>
<path fill=#fff748 d="M874.9,324l5.3-3.7l-5.9-.2l-5.2,3.5z"/>
<path class=m d="M869.5,323.5l4.9-3M879.7,320.4l-5.3,.1"/>
<path fill=#b0ff47 d="M783.2,353.7l5.4-3.5l-5.5-.4l-5.5,3.5z"/>
<path fill=#ffca48 d="M920.8,308.4l5.1-3.7l-5.9-.2l-5.2,3.6z"/>
<path fill=#86ff47 d="M737.3,367.9l5.6-3.5l-5.5-.4l-5.5,3.4z"/>
<path class=m d="M732.3,367.3l5.1-2.9M742.4,364.5l-5-.1"/>
<path fill=#45ff89 d="M579.3,412.6l5.9-3.3l-4.9-.6l-6,3.2z"/>
<path fill=#46ff5d d="M635.3,397.5l5.9-3.4l-5.2-.6l-5.8,3.3z"/>
<path class=m d="M630.6,396.7l5.4-2.7"/>
<path fill=#45ffb4 d="M523.2,427.1l6.1-3.2l-4.8-.7l-6.2,3.2z"/>
<path fill=#ff9b48 d="M966.7,292.3l5-3.7l-6.1-.1l-5,3.6z"/>
<path fill=#5eff46 d="M691.4,381.7l5.7-3.5l-5.3-.5l-5.7,3.4z"/>
<path fill=#44ffdc d="M467,440.9l6.3-3.1l-4.7-.8l-6.2,3.1z"/>
<path class=m d="M467.2,440.5l-4.4-.5M462.8,440l5.7-2.5"/>
<path fill=#e4ff48 d="M839.3,336.1l5.3-3.6l-5.7-.3l-5.4,3.5z"/>
<path class=m d="M834,335.6l4.9-3"/>
<path fill=#b9ff47 d="M793.4,350.9l5.4-3.6l-5.6-.4l-5.4,3.5z"/>
<path class=m d="M798.4,347.4l-5.2-.1"/>
<path fill=#ffed48 d="M885.2,320.9l5.2-3.7l-5.9-.2l-5.2,3.6z"/>
<path fill=#ff6a48 d="M1012.6,275.8l5-3.8l-6.3,0l-4.9,3.7z"/>
<path class=m d="M1006.8,275.5l4.7-3.1M1017.1,272.2l-5.6,.2"/>
<path fill=#46ff82 d="M589.4,410.2l5.9-3.3l-5-.7l-5.9,3.3z"/>
<path fill=#8fff47 d="M747.5,365.2l5.5-3.6l-5.4-.4l-5.6,3.5z"/>
<path fill=#46ff55 d="M645.5,395l5.8-3.5l-5.2-.5l-5.8,3.3z"/>
<path fill=#45ffac d="M533.3,424.8l6.1-3.2l-4.9-.7l-6.1,3.2z"/>
<path class=m d="M528.9,424l5.5-2.7"/>
<path fill=#ffc048 d="M931.1,305.2l5.1-3.7l-6-.2l-5.1,3.6z"/>
<path class=m d="M935.8,301.6l-5.5,.1"/>
<path fill=#67ff47 d="M701.6,379l5.6-3.5l-5.3-.5l-5.7,3.4z"/>
<path class=m d="M696.7,378.3l5.2-2.8"/>
<path fill=#44ffd5 d="M477.1,438.8l6.3-3.2l-4.7-.8l-6.3,3.1z"/>
<path fill=#ff9048 d="M977,289l5-3.7l-6.1-.1l-5,3.7z"/>
<path class=m d="M971.3,288.7l4.7-3.1"/>
<path fill=#eeff48 d="M849.5,333.1l5.3-3.6l-5.7-.4l-5.4,3.6z"/>
<path class=m d="M854.4,329.6l-5.3,0"/>
<path fill=#c3ff48 d="M803.6,348l5.4-3.6l-5.6-.4l-5.4,3.5z"/>
<path class=m d="M798.4,347.4l5-3"/>
<path fill=#46ff7a d="M599.5,407.8l6-3.4l-5.1-.6l-5.9,3.3z"/>
<path class=m d="M594.9,407l5.4-2.8M605,404.5l-4.7-.3"/>
<path fill=#45ffa5 d="M543.4,422.5l6.1-3.3l-4.9-.7l-6.1,3.3z"/>
<path class=m d="M549,419.3l-4.5-.3"/>
<path fill=#ffe348 d="M895.4,317.8l5.2-3.7l-5.9-.3l-5.2,3.7z"/>
<path fill=#47ff4d d="M655.6,392.4l5.8-3.4l-5.2-.6l-5.8,3.4z"/>
<path class=m d="M661,389.1l-4.8-.3"/>
<path fill=#99ff47 d="M757.7,362.4l5.5-3.6l-5.5-.4l-5.5,3.5z"/>
<path fill=#ffb548 d="M941.4,302l5.1-3.7l-6.1-.2l-5.1,3.6z"/>
<path class=m d="M935.8,301.6l4.7-3.1"/>
<path fill=#45ffce d="M487.2,436.6l6.3-3.3l-4.8-.7l-6.2,3.2z"/>
<path class=m d="M493,433.4l-4.4-.4"/>
<path fill=#70ff47 d="M711.7,376.4l5.7-3.6l-5.4-.5l-5.6,3.5z"/>
<path class=m d="M717,372.9l-5-.1"/>
<path fill=#ff8649 d="M987.3,285.7l5-3.8l-6.1-.1l-5,3.7z"/>
<path class=m d="M991.9,282.1l-5.6,.2"/>
<path fill=#46ff72 d="M609.7,405.4l5.9-3.4l-5.1-.7l-5.9,3.3z"/>
<path fill=#46ff9d d="M553.5,420.2l6.1-3.3l-4.9-.7l-6.1,3.2z"/>
<path fill=#ccff48 d="M813.8,345.1l5.4-3.6l-5.6-.4l-5.4,3.5z"/>
<path fill=#f8ff48 d="M859.7,330.1l5.3-3.7l-5.7-.3l-5.3,3.6z"/>
<path fill=#49ff47 d="M665.8,389.9l5.8-3.5l-5.3-.6l-5.7,3.4z"/>
<path class=m d="M661,389.1l5.3-2.9"/>
<path fill=#a2ff48 d="M767.9,359.6l5.5-3.6l-5.5-.4l-5.6,3.5z"/>
<path class=m d="M762.8,359l5.1-3M773,356.1l-5.1-.1"/>
<path fill=#ffd948 d="M905.7,314.7l5.2-3.7l-5.9-.3l-5.2,3.7z"/>
<path class=m d="M900.2,314.2l4.8-3.1M910.4,311.1l-5.4,0"/>
<path fill=#45ffc6 d="M497.3,434.4l6.2-3.3l-4.7-.7l-6.2,3.1z"/>
<path class=m d="M493,433.4l5.6-2.6"/>
<path fill=#79ff47 d="M721.9,373.7l5.7-3.6l-5.4-.5l-5.7,3.5z"/>
<path fill=#ffab49 d="M951.6,298.8l5.1-3.8l-6-.2l-5.1,3.7z"/>
<path fill=#46ff95 d="M563.7,417.8l6-3.3l-5-.7l-6,3.3z"/>
<path class=m d="M559.1,417l5.5-2.8"/>
<path fill=#47ff6a d="M619.8,402.9l5.9-3.4l-5.1-.7l-5.9,3.4z"/>
<path fill=#45ffbf d="M507.5,432.1l6.1-3.2l-4.8-.8l-6.1,3.2z"/>
<path fill=#52ff47 d="M676,387.3l5.7-3.5l-5.2-.6l-5.8,3.4z"/>
<path fill=#ff7b49 d="M997.6,282.4l5-3.8l-6.2-.1l-4.9,3.7z"/>
<path fill=#d6ff48 d="M824,342.2l5.4-3.7l-5.7-.4l-5.3,3.6z"/>
<path class=m d="M829,338.6l-5.2,0"/>
<path fill=#fffc48 d="M870,327.1l5.3-3.7l-5.8-.3l-5.3,3.6z"/>
<path class=m d="M864.6,326.6l4.9-3.1"/>
<path fill=#abff48 d="M778.1,356.8l5.5-3.6l-5.6-.5l-5.5,3.6z"/>
<path fill=#ffcf49 d="M916,311.6l5.1-3.8l-5.9-.3l-5.2,3.7z"/>
<path fill=#82ff48 d="M732.1,371l5.6-3.6l-5.4-.6l-5.6,3.5z"/>
<path class=m d="M727.1,370.2l5.2-2.9"/>
<path fill=#46ff8e d="M573.8,415.5l6-3.4l-5-.7l-6,3.3z"/>
<path class=m d="M579.4,412.2l-4.7-.4"/>
<path fill=#47ff62 d="M630,400.4l5.8-3.5l-5.1-.6l-5.9,3.4z"/>
<path class=m d="M625.3,399.6l5.3-2.9M635.4,397.1l-4.8-.4"/>
<path fill=#ffa149 d="M962,295.5l5-3.8l-6.1-.1l-5,3.7z"/>
<path class=m d="M966.6,291.9l-5.6,.1"/>
<path fill=#46ffb7 d="M517.6,429.9l6.1-3.3l-4.8-.8l-6.1,3.3z"/>
<path class=m d="M523.3,426.7l-4.5-.4"/>
<path fill=#5bff47 d="M686.1,384.7l5.8-3.6l-5.3-.6l-5.8,3.5z"/>
<path class=m d="M691.4,381.2l-4.9-.2"/>
<path fill=#dfff49 d="M834.3,339.2l5.3-3.7l-5.7-.4l-5.3,3.7z"/>
<path class=m d="M829,338.6l5-3"/>
<path fill=#fff349 d="M880.3,324l5.2-3.7l-5.8-.3l-5.3,3.6z"/>
<path class=m d="M885.1,320.4l-5.4,0"/>
<path fill=#ff7149 d="M1008,279l4.9-3.8l-6.2-.1l-4.9,3.8z"/>
<path class=m d="M1002.2,278.7l4.6-3.2"/>
<path fill=#b5ff48 d="M788.3,354l5.5-3.7l-5.6-.5l-5.5,3.6z"/>
<path fill=#ffc549 d="M926.3,308.4l5.1-3.8l-6-.2l-5.1,3.7z"/>
<path fill=#8cff48 d="M742.3,368.2l5.6-3.6l-5.4-.5l-5.6,3.5z"/>
<path class=m d="M747.5,364.7l-5.1-.2"/>
<path fill=#47ff86 d="M583.9,413.1l6-3.4l-5-.7l-6,3.3z"/>
<path fill=#47ff5a d="M640.1,397.9l5.9-3.5l-5.2-.6l-5.8,3.4z"/>
<path fill=#46ffb0 d="M527.7,427.6l6.1-3.3l-4.8-.8l-6.1,3.3z"/>
<path class=m d="M523.3,426.7l5.6-2.7"/>
<path fill=#ff9749 d="M972.3,292.3l5-3.8l-6.1-.2l-5,3.7z"/>
<path class=m d="M966.6,291.9l4.7-3.2"/>
<path fill=#64ff48 d="M696.3,382l5.7-3.5l-5.3-.6l-5.7,3.4z"/>
<path class=m d="M691.4,381.2l5.3-2.9"/>
<path fill=#45ffd8 d="M471.5,441.5l6.2-3.3l-4.7-.8l-6.2,3.2z"/>
<path class=m d="M471.6,441.1l-4.4-.6"/>
<path fill=#e9ff49 d="M844.5,336.3l5.4-3.7l-5.8-.4l-5.3,3.6z"/>
<path fill=#beff49 d="M798.5,351.1l5.5-3.7l-5.6-.4l-5.5,3.6z"/>
<path class=m d="M793.4,350.4l5-3M803.6,347.6l-5.2-.2"/>
<path fill=#ffe949 d="M890.5,321l5.3-3.8l-5.9-.3l-5.2,3.7z"/>
<path fill=#47ff7e d="M594.1,410.7l6-3.4l-5.1-.8l-6,3.4z"/>
<path class=m d="M589.5,409.8l5.4-2.8"/>
<path fill=#ff6649 d="M1018.3,275.7l5-3.9l-6.3-.1l-4.9,3.8z"/>
<path class=m d="M1022.8,272l-5.7,.2"/>
<path fill=#95ff48 d="M752.5,365.5l5.6-3.7l-5.5-.5l-5.6,3.6z"/>
<path fill=#46ffa9 d="M537.9,425.3l6.1-3.3l-4.9-.8l-6.1,3.3z"/>
<path fill=#48ff52 d="M650.3,395.4l5.8-3.5l-5.2-.7l-5.8,3.4z"/>
<path fill=#ffbb49 d="M936.6,305.2l5.1-3.8l-6-.2l-5.2,3.7z"/>
<path class=m d="M931,304.8l4.8-3.2M941.3,301.6l-5.5,0"/>
<path fill=#46ffd1 d="M481.6,439.3l6.2-3.3l-4.7-.8l-6.2,3.2z"/>
<path fill=#6dff48 d="M706.5,379.4l5.7-3.6l-5.4-.6l-5.6,3.5z"/>
<path fill=#ff8c4a d="M982.6,289l5-3.9l-6.1-.1l-5,3.7z"/>
<path fill=#47ff76 d="M604.3,408.3l5.9-3.5l-5.1-.7l-5.9,3.4z"/>
<path class=m d="M609.8,404.9l-4.8-.4"/>
<path fill=#f3ff49 d="M854.8,333.3l5.3-3.7l-5.8-.5l-5.3,3.7z"/>
<path class=m d="M859.7,329.7l-5.3-.1"/>
<path fill=#c8ff49 d="M808.8,348.2l5.4-3.7l-5.6-.4l-5.5,3.6z"/>
<path fill=#47ffa1 d="M548,423l6.1-3.3l-4.9-.8l-6.1,3.3z"/>
<path class=m d="M553.6,419.8l-4.6-.5"/>
<path fill=#ffdf49 d="M900.8,317.9l5.2-3.8l-5.9-.3l-5.2,3.7z"/>
<path class=m d="M895.3,317.4l4.9-3.2"/>
<path fill=#48ff4a d="M660.5,392.8l5.8-3.5l-5.2-.7l-5.8,3.5z"/>
<path class=m d="M655.7,392l5.3-2.9M665.9,389.4l-4.9-.3"/>
<path fill=#9eff49 d="M762.8,362.7l5.5-3.7l-5.5-.5l-5.6,3.6z"/>
<path class=m d="M757.7,362l5.1-3"/>
<path fill=#46ffca d="M491.7,437.1l6.2-3.3l-4.7-.8l-6.2,3.2z"/>
<path class=m d="M487.4,436.1l5.6-2.7M497.5,433.9l-4.5-.5"/>
<path fill=#ffb14a d="M946.9,302l5.1-3.8l-6.1-.3l-5.1,3.8z"/>
<path fill=#76ff48 d="M716.7,376.7l5.7-3.6l-5.4-.6l-5.7,3.5z"/>
<path class=m d="M722,373.2l-5-.3"/>
<path fill=#48ff6f d="M614.4,405.8l5.9-3.5l-5.1-.7l-5.9,3.4z"/>
<path fill=#47ff99 d="M558.2,420.7l6-3.4l-4.9-.8l-6.1,3.4z"/>
<path class=m d="M553.6,419.8l5.5-2.8"/>
<path fill=#ff824a d="M992.9,285.7l5-3.9l-6.1-.2l-5,3.8z"/>
<path class=m d="M997.5,282l-5.6,.1"/>
<path fill=#d1ff49 d="M819,345.3l5.4-3.7l-5.6-.5l-5.5,3.7z"/>
<path fill=#fcff49 d="M865.1,330.3l5.3-3.8l-5.8-.4l-5.3,3.7z"/>
<path class=m d="M859.7,329.7l4.9-3.1"/>
<path fill=#4fff48 d="M670.7,390.3l5.8-3.6l-5.3-.7l-5.8,3.5z"/>
<path fill=#46ffc3 d="M501.9,434.9l6.1-3.3l-4.7-.8l-6.2,3.2z"/>
<path fill=#a7ff49 d="M773,359.9l5.5-3.7l-5.5-.5l-5.6,3.6z"/>
<path class=m d="M778.1,356.3l-5.1-.2"/>
<path fill=#ffd54a d="M911.1,314.8l5.2-3.8l-5.9-.4l-5.2,3.8z"/>
<path class=m d="M915.9,311.1l-5.5,0"/>
<path fill=#7fff49 d="M726.9,374l5.7-3.6l-5.4-.6l-5.7,3.5z"/>
<path class=m d="M722,373.2l5.1-3"/>
<path fill=#ffa74a d="M957.2,298.8l5.1-3.8l-6.1-.3l-5.1,3.8z"/>
<path fill=#47ff92 d="M568.3,418.4l6-3.5l-4.9-.7l-6.1,3.3z"/>
<path fill=#48ff67 d="M624.6,403.4l5.9-3.5l-5.2-.8l-5.8,3.5z"/>
<path class=m d="M619.9,402.4l5.4-2.8"/>
<path fill=#47ffbb d="M512,432.7l6.2-3.3l-4.9-.9l-6.1,3.3z"/>
<path fill=#57ff48 d="M680.9,387.7l5.7-3.6l-5.3-.7l-5.7,3.5z"/>
<path fill=#ff774a d="M1003.3,282.4l5-3.9l-6.2-.2l-5,3.8z"/>
<path class=m d="M997.5,282l4.7-3.3"/>
<path fill=#dbff4a d="M829.3,342.4l5.4-3.7l-5.7-.5l-5.4,3.7z"/>
<path class=m d="M824,341.7l5-3.1M834.2,338.8l-5.2-.2"/>
<path fill=#fff84a d="M875.3,327.3l5.3-3.8l-5.8-.4l-5.3,3.7z"/>
<path fill=#b0ff49 d="M783.2,357.1l5.5-3.7l-5.6-.6l-5.5,3.7z"/>
<path fill=#ffcb4a d="M921.4,311.6l5.2-3.8l-6-.3l-5.2,3.7z"/>
<path fill=#88ff49 d="M737.2,371.3l5.6-3.6l-5.5-.7l-5.6,3.6z"/>
<path fill=#48ff8a d="M578.5,416l6-3.4l-5-.8l-6,3.3z"/>
<path class=m d="M584,412.7l-4.6-.5"/>
<path fill=#48ff5f d="M634.8,400.9l5.8-3.6l-5.1-.7l-5.9,3.5z"/>
<path class=m d="M640.2,397.5l-4.8-.4"/>
<path fill=#ff9d4a d="M967.5,295.6l5.1-3.9l-6.1-.3l-5.1,3.8z"/>
<path class=m d="M961.8,295.1l4.8-3.2M972.2,291.8l-5.6,.1"/>
<path fill=#47ffb4 d="M522.1,430.5l6.2-3.4l-4.9-.8l-6.1,3.3z"/>
<path class=m d="M517.7,429.5l5.6-2.8M527.9,427.2l-4.6-.5"/>
<path fill=#60ff49 d="M691.1,385.1l5.7-3.6l-5.3-.7l-5.7,3.5z"/>
<path class=m d="M686.2,384.2l5.2-3M696.4,381.6l-5-.4"/>
<path fill=#e4ff4a d="M839.6,339.5l5.3-3.8l-5.7-.5l-5.4,3.7z"/>
<path fill=#ffee4a d="M885.6,324.2l5.3-3.8l-5.9-.4l-5.2,3.7z"/>
<path class=m d="M890.5,320.5l-5.4-.1"/>
<path fill=#baff4a d="M793.5,354.3l5.5-3.8l-5.7-.5l-5.4,3.6z"/>
<path class=m d="M788.3,353.5l5.1-3.1"/>
<path fill=#ff6d4a d="M1013.6,279l5-3.9l-6.2-.2l-5,3.9z"/>
<path fill=#48ff83 d="M588.6,413.6l6-3.5l-5-.7l-6,3.4z"/>
<path class=m d="M584,412.7l5.5-2.9"/>
<path fill=#ffc14a d="M931.7,308.5l5.2-3.9l-6-.3l-5.2,3.8z"/>
<path class=m d="M926.2,308l4.8-3.2"/>
<path fill=#91ff49 d="M747.4,368.6l5.6-3.7l-5.5-.6l-5.6,3.6z"/>
<path class=m d="M752.5,365l-5-.3"/>
<path fill=#49ff57 d="M645,398.4l5.8-3.6l-5.2-.7l-5.8,3.5z"/>
<path fill=#47ffad d="M532.3,428.2l6.1-3.4l-4.9-.8l-6.1,3.3z"/>
<path fill=#ff934b d="M977.9,292.3l5-3.9l-6.1-.2l-5.1,3.8z"/>
<path fill=#69ff49 d="M701.3,382.4l5.7-3.6l-5.4-.7l-5.7,3.6z"/>
<path fill=#47ffd5 d="M475.9,442.1l6.3-3.3l-4.8-.9l-6.2,3.3z"/>
<path class=m d="M476.1,441.7l-4.5-.6"/>
<path fill=#eeff4a d="M849.8,336.5l5.4-3.8l-5.8-.5l-5.3,3.8z"/>
<path fill=#c3ff4a d="M803.7,351.4l5.5-3.7l-5.7-.6l-5.4,3.7z"/>
<path class=m d="M808.8,347.8l-5.2-.2"/>
<path fill=#ffe44a d="M895.9,321.2l5.3-3.9l-5.9-.4l-5.3,3.8z"/>
<path class=m d="M890.5,320.5l4.8-3.1"/>
<path fill=#48ff7b d="M598.8,411.2l6-3.5l-5.1-.8l-5.9,3.5z"/>
<path fill=#48ffa5 d="M542.5,425.9l6.1-3.4l-5-.8l-6.1,3.3z"/>
<path fill=#ff634b d="M1024,275.6l5-3.9l-6.3-.2l-5,3.9z"/>
<path class=m d="M1028.5,271.9l-5.7,.1"/>
<path fill=#9aff4a d="M757.6,365.8l5.6-3.7l-5.5-.6l-5.6,3.6z"/>
<path class=m d="M752.5,365l5.2-3"/>
<path fill=#49ff4f d="M655.2,395.9l5.8-3.6l-5.2-.8l-5.9,3.5z"/>
<path class=m d="M650.4,394.9l5.3-2.9"/>
<path fill=#ffb74b d="M942.1,305.3l5.1-3.9l-6-.3l-5.2,3.8z"/>
<path class=m d="M946.8,301.6l-5.5,0"/>
<path fill=#47ffcd d="M486.1,440l6.2-3.4l-4.8-.9l-6.2,3.3z"/>
<path class=m d="M481.7,438.9l5.7-2.8"/>
<path fill=#72ff49 d="M711.5,379.8l5.7-3.7l-5.4-.6l-5.7,3.5z"/>
<path fill=#ff884b d="M988.2,289l5-3.9l-6.1-.2l-5.1,3.8z"/>
<path fill=#49ff73 d="M609,408.8l5.9-3.5l-5.1-.8l-5.9,3.4z"/>
<path class=m d="M614.5,405.4l-4.7-.5"/>
<path fill=#f7ff4a d="M860.1,333.5l5.3-3.8l-5.8-.5l-5.3,3.8z"/>
<path class=m d="M854.7,332.8l5-3.1M865,329.8l-5.3-.1"/>
<path fill=#48ff9e d="M552.6,423.6l6.1-3.4l-4.9-.9l-6.1,3.4z"/>
<path class=m d="M548.1,422.6l5.5-2.8M558.3,420.3l-4.7-.5"/>
<path fill=#ccff4a d="M814,348.5l5.4-3.7l-5.6-.6l-5.5,3.7z"/>
<path fill=#4bff49 d="M665.4,393.3l5.8-3.6l-5.3-.7l-5.8,3.5z"/>
<path class=m d="M670.7,389.8l-4.8-.4"/>
<path fill=#ffdb4b d="M906.2,318.1l5.3-3.9l-6-.4l-5.2,3.8z"/>
<path fill=#a3ff4a d="M767.9,363.1l5.5-3.8l-5.5-.6l-5.6,3.7z"/>
<path fill=#47ffc6 d="M496.2,437.8l6.2-3.4l-4.8-.9l-6.2,3.3z"/>
<path class=m d="M502,434.5l-4.5-.6"/>
<path fill=#ffad4b d="M952.4,302.1l5.1-3.9l-6.1-.3l-5.1,3.8z"/>
<path fill=#7bff4a d="M721.7,377.1l5.7-3.6l-5.4-.7l-5.7,3.6z"/>
<path class=m d="M716.8,376.3l5.2-3.1M727,373.6l-5-.4"/>
<path fill=#49ff6c d="M619.2,406.4l5.9-3.6l-5.1-.8l-5.9,3.5z"/>
<path class=m d="M614.5,405.4l5.4-3"/>
<path fill=#48ff96 d="M562.8,421.3l6.1-3.5l-5-.8l-6.1,3.4z"/>
<path fill=#ff7e4b d="M998.6,285.7l5-3.9l-6.2-.3l-5,3.9z"/>
<path class=m d="M992.8,285.2l4.7-3.2M1003.2,281.9l-5.7,.1"/>
<path fill=#54ff49 d="M675.6,390.7l5.8-3.6l-5.3-.7l-5.8,3.5z"/>
<path fill=#d6ff4b d="M824.3,345.6l5.4-3.8l-5.7-.5l-5.4,3.7z"/>
<path class=m d="M819,344.9l5-3.2"/>
<path fill=#fffd4b d="M870.4,330.5l5.3-3.8l-5.8-.5l-5.3,3.8z"/>
<path fill=#48ffbf d="M506.4,435.6l6.2-3.4l-4.9-.9l-6.1,3.3z"/>
<path fill=#acff4a d="M778.1,360.3l5.6-3.8l-5.6-.6l-5.5,3.7z"/>
<path class=m d="M783.2,356.6l-5.1-.3"/>
<path fill=#ffd14b d="M916.6,315l5.2-3.9l-6-.4l-5.2,3.8z"/>
<path class=m d="M921.3,311.2l-5.4-.1"/>
<path fill=#84ff4a d="M732,374.4l5.6-3.7l-5.4-.6l-5.7,3.6z"/>
<path fill=#ffa34b d="M962.7,298.9l5.1-3.9l-6.1-.3l-5.1,3.8z"/>
<path class=m d="M957.1,298.4l4.7-3.3"/>
<path fill=#49ff8f d="M573,419l6-3.5l-5-.9l-6,3.4z"/>
<path fill=#49ff64 d="M629.4,403.9l5.9-3.6l-5.2-.8l-5.9,3.5z"/>
<path fill=#48ffb8 d="M516.6,433.4l6.1-3.5l-4.8-.9l-6.2,3.4z"/>
<path class=m d="M512.1,432.3l5.6-2.8"/>
<path fill=#5dff4a d="M685.8,388.2l5.8-3.7l-5.4-.7l-5.7,3.5z"/>
<path class=m d="M680.9,387.2l5.3-3"/>
<path fill=#dfff4b d="M834.6,342.7l5.3-3.8l-5.7-.6l-5.4,3.8z"/>
<path class=m d="M839.5,339l-5.3-.2"/>
<path fill=#ff744b d="M1008.9,282.4l5-4l-6.2-.2l-5,3.9z"/>
<path fill=#fff44b d="M880.7,327.5l5.3-3.9l-5.9-.4l-5.2,3.7z"/>
<path fill=#b5ff4b d="M788.4,357.5l5.5-3.8l-5.6-.6l-5.5,3.7z"/>
<path class=m d="M783.2,356.6l5.1-3.1"/>
<path fill=#ffc74b d="M926.9,311.8l5.2-3.9l-6-.4l-5.2,3.8z"/>
<path class=m d="M921.3,311.2l4.9-3.2"/>
<path fill=#8cff4a d="M742.2,371.7l5.6-3.7l-5.4-.7l-5.7,3.7z"/>
<path fill=#49ff87 d="M583.2,416.6l6-3.5l-5.1-.9l-6,3.5z"/>
<path class=m d="M578.6,415.6l5.4-2.9M588.7,413.2l-4.7-.5"/>
<path fill=#4aff5c d="M639.6,401.4l5.9-3.6l-5.2-.8l-5.9,3.5z"/>
<path class=m d="M645,397.9l-4.8-.4"/>
<path fill=#48ffb1 d="M526.7,431.1l6.2-3.4l-4.9-.9l-6.2,3.3z"/>
<path class=m d="M532.4,427.8l-4.5-.6"/>
<path fill=#ff994c d="M973.1,295.7l5.1-4l-6.2-.3l-5,3.9z"/>
<path class=m d="M977.7,291.9l-5.5-.1"/>
<path fill=#65ff4a d="M696,385.6l5.8-3.7l-5.4-.8l-5.7,3.6z"/>
<path class=m d="M701.3,382l-4.9-.4"/>
<path fill=#e8ff4b d="M844.8,339.8l5.4-3.9l-5.8-.5l-5.3,3.7z"/>
<path fill=#beff4b d="M798.7,354.6l5.4-3.8l-5.6-.6l-5.5,3.7z"/>
<path fill=#ffea4b d="M891,324.5l5.3-3.9l-5.9-.5l-5.3,3.8z"/>
<path class=m d="M885.6,323.8l4.9-3.3M895.9,320.7l-5.4-.2"/>
<path fill=#ff6a4c d="M1019.3,279l5-3.9l-6.3-.3l-4.9,3.9z"/>
<path fill=#49ff80 d="M593.4,414.2l6-3.5l-5.1-.9l-6,3.5z"/>
<path fill=#95ff4b d="M752.5,369l5.6-3.7l-5.5-.7l-5.6,3.6z"/>
<path class=m d="M747.4,368.1l5.1-3.1M757.6,365.4l-5.1-.4"/>
<path fill=#ffbd4c d="M937.2,308.7l5.2-4l-6-.4l-5.2,3.9z"/>
<path fill=#4aff54 d="M649.8,398.9l5.9-3.6l-5.3-.8l-5.8,3.5z"/>
<path class=m d="M645,397.9l5.4-3"/>
<path fill=#49ffa9 d="M536.9,428.9l6.1-3.5l-4.9-.9l-6.1,3.4z"/>
<path fill=#6eff4a d="M706.3,382.9l5.7-3.7l-5.4-.7l-5.7,3.6z"/>
<path fill=#ff8f4c d="M983.5,292.4l5-3.9l-6.1-.4l-5.1,3.9z"/>
<path fill=#48ffd1 d="M480.4,442.8l6.3-3.4l-4.8-.9l-6.3,3.3z"/>
<path class=m d="M480.5,442.4l-4.4-.7M476.1,441.7l5.6-2.8"/>
<path fill=#f2ff4b d="M855.1,336.8l5.4-3.8l-5.8-.6l-5.3,3.8z"/>
<path class=m d="M849.8,336.1l4.9-3.3"/>
<path fill=#c7ff4b d="M808.9,351.8l5.5-3.8l-5.7-.7l-5.4,3.8z"/>
<path class=m d="M814,348.1l-5.2-.3"/>
<path fill=#4aff78 d="M603.6,411.8l5.9-3.5l-5.1-.9l-5.9,3.5z"/>
<path fill=#ffe04c d="M901.4,321.4l5.2-3.9l-5.9-.5l-5.3,3.8z"/>
<path fill=#49ffa2 d="M547.1,426.6l6.1-3.5l-5-.9l-6.1,3.4z"/>
<path class=m d="M542.6,425.5l5.5-2.9"/>
<path fill=#4aff4c d="M660,396.4l5.9-3.6l-5.3-.9l-5.8,3.6z"/>
<path fill=#9eff4b d="M762.7,366.3l5.6-3.8l-5.5-.7l-5.6,3.7z"/>
<path fill=#ff5f4c d="M1029.7,275.7l5-4l-6.3-.3l-5,3.9z"/>
<path class=m d="M1023.9,275.2l4.6-3.3M1034.3,271.8l-5.8,.1"/>
<path fill=#ffb34c d="M947.6,305.5l5.1-3.9l-6-.5l-5.2,3.9z"/>
<path class=m d="M952.3,301.7l-5.5-.1"/>
<path fill=#48ffca d="M490.6,440.7l6.2-3.4l-4.8-1l-6.2,3.3z"/>
<path fill=#77ff4b d="M716.5,380.3l5.7-3.7l-5.4-.8l-5.7,3.7z"/>
<path class=m d="M711.5,379.4l5.3-3.1"/>
<path fill=#ff854c d="M993.8,289.1l5.1-4l-6.2-.3l-5,3.9z"/>
<path class=m d="M988.1,288.6l4.7-3.4"/>
<path fill=#4aff71 d="M613.8,409.4l5.9-3.6l-5.1-.9l-5.9,3.6z"/>
<path class=m d="M609.1,408.4l5.4-3M619.3,405.9l-4.8-.5"/>
<path fill=#49ff9b d="M557.3,424.3l6.1-3.5l-5-1l-6.1,3.5z"/>
<path class=m d="M562.9,420.9l-4.6-.6"/>
<path fill=#fbff4c d="M865.5,333.8l5.3-3.8l-5.8-.6l-5.4,3.8z"/>
<path class=m d="M870.4,330.1l-5.4-.3"/>
<path fill=#d1ff4b d="M819.2,348.9l5.5-3.8l-5.7-.7l-5.5,3.8z"/>
<path class=m d="M814,348.1l5-3.2"/>
<path fill=#50ff4a d="M670.3,393.9l5.8-3.7l-5.3-.8l-5.8,3.6z"/>
<path class=m d="M675.6,390.3l-4.9-.5"/>
<path fill=#ffd74c d="M911.7,318.3l5.2-3.9l-5.9-.5l-5.3,3.8z"/>
<path fill=#a7ff4b d="M773,363.5l5.6-3.8l-5.6-.7l-5.6,3.7z"/>
<path fill=#49ffc3 d="M500.8,438.5l6.2-3.4l-4.9-1l-6.2,3.3z"/>
<path class=m d="M506.5,435.2l-4.5-.7"/>
<path fill=#ffa94c d="M957.9,302.3l5.2-4l-6.1-.4l-5.1,3.9z"/>
<path class=m d="M952.3,301.7l4.8-3.3"/>
<path fill=#7fff4b d="M726.8,377.6l5.6-3.7l-5.4-.8l-5.7,3.7z"/>
<path class=m d="M732,374l-5-.4"/>
<path fill=#4aff69 d="M624,407l5.9-3.6l-5.2-.9l-5.9,3.5z"/>
<path fill=#4aff93 d="M567.5,422l6-3.6l-5-.9l-6,3.5z"/>
<path fill=#ff7b4c d="M1004.2,285.8l5-4l-6.2-.3l-5,3.9z"/>
<path class=m d="M1008.8,282l-5.6-.1"/>
<path fill=#59ff4b d="M680.5,391.3l5.8-3.7l-5.3-.8l-5.8,3.6z"/>
<path class=m d="M675.6,390.3l5.3-3.1"/>
<path fill=#daff4c d="M829.5,346l5.4-3.9l-5.7-.6l-5.4,3.8z"/>
<path fill=#49ffbc d="M510.9,436.3l6.2-3.5l-4.8-1l-6.2,3.4z"/>
<path class=m d="M506.5,435.2l5.6-2.9"/>
<path fill=#fff94c d="M875.8,330.9l5.3-4l-5.9-.5l-5.3,3.8z"/>
<path fill=#b0ff4c d="M783.3,360.7l5.5-3.8l-5.6-.7l-5.5,3.7z"/>
<path class=m d="M778.1,359.8l5.1-3.2M788.4,357l-5.2-.4"/>
<path fill=#ffcd4c d="M922,315.2l5.2-3.9l-5.9-.5l-5.2,3.8z"/>
<path class=m d="M916.5,314.5l4.8-3.3M926.8,311.4l-5.5-.2"/>
<path fill=#88ff4b d="M737,375l5.7-3.8l-5.5-.8l-5.6,3.7z"/>
<path fill=#ff9f4c d="M968.3,299.1l5.1-4l-6.1-.4l-5.1,3.9z"/>
<path fill=#4aff8c d="M577.7,419.7l6-3.6l-5-1l-6,3.5z"/>
<path class=m d="M573.1,418.5l5.5-2.9"/>
<path fill=#4bff61 d="M634.2,404.5l5.9-3.6l-5.2-.9l-5.9,3.6z"/>
<path fill=#49ffb5 d="M521.1,434.1l6.2-3.5l-4.9-1l-6.2,3.4z"/>
<path fill=#61ff4b d="M690.8,388.7l5.7-3.7l-5.3-.8l-5.8,3.6z"/>
<path fill=#e3ff4c d="M839.8,343.1l5.4-3.9l-5.7-.6l-5.4,3.8z"/>
<path class=m d="M844.8,339.3l-5.3-.3"/>
<path fill=#fff04c d="M886.1,327.8l5.3-3.9l-5.9-.6l-5.3,3.9z"/>
<path class=m d="M880.7,327.1l4.9-3.3"/>
<path fill=#ff714d d="M1014.6,282.5l5-4l-6.2-.4l-5,4z"/>
<path fill=#b9ff4c d="M793.6,357.9l5.5-3.8l-5.7-.7l-5.5,3.7z"/>
<path fill=#ffc34d d="M932.4,312.1l5.2-4l-6-.5l-5.2,3.9z"/>
<path fill=#91ff4c d="M747.3,372.3l5.6-3.8l-5.5-.8l-5.6,3.7z"/>
<path class=m d="M742.2,371.3l5.2-3.2"/>
<path fill=#4aff85 d="M587.9,417.3l6-3.6l-5.1-1l-6,3.6z"/>
<path class=m d="M593.5,413.8l-4.8-.6"/>
<path fill=#4bff5a d="M644.5,402.1l5.8-3.7l-5.2-.9l-5.9,3.6z"/>
<path class=m d="M639.7,401l5.3-3.1M649.9,398.5l-4.9-.6"/>
<path fill=#4affae d="M531.3,431.9l6.2-3.6l-5-1l-6.1,3.5z"/>
<path class=m d="M537,428.4l-4.6-.6"/>
<path fill=#ff954d d="M978.7,295.9l5.1-4.1l-6.2-.4l-5,4z"/>
<path class=m d="M983.4,292l-5.7-.1"/>
<path fill=#6aff4b d="M701,386.1l5.7-3.7l-5.3-.9l-5.8,3.7z"/>
<path class=m d="M706.3,382.5l-5-.5"/>
<path fill=#ecff4c d="M850.2,340.2l5.3-3.9l-5.8-.7l-5.3,3.9z"/>
<path class=m d="M844.8,339.3l5-3.2"/>
<path fill=#c2ff4c d="M803.9,355.1l5.5-3.9l-5.7-.7l-5.5,3.8z"/>
<path fill=#ffe64d d="M896.5,324.8l5.2-4l-5.9-.5l-5.3,3.8z"/>
<path class=m d="M901.3,321l-5.4-.3"/>
<path fill=#ff664d d="M1025,279.2l5-4.1l-6.3-.3l-4.9,4z"/>
<path class=m d="M1019.2,278.6l4.7-3.4"/>
<path fill=#4bff7d d="M598.1,414.9l6-3.6l-5.1-1l-6,3.6z"/>
<path fill=#9aff4c d="M757.6,369.5l5.6-3.8l-5.6-.8l-5.6,3.8z"/>
<path class=m d="M762.7,365.8l-5.1-.4"/>
<path fill=#4bff52 d="M654.7,399.6l5.8-3.7l-5.2-.9l-5.9,3.6z"/>
<path fill=#4affa7 d="M541.5,429.6l6.1-3.5l-4.9-1l-6.1,3.4z"/>
<path class=m d="M537,428.4l5.6-2.9"/>
<path fill=#ffba4d d="M942.8,308.9l5.1-4l-6-.5l-5.2,4z"/>
<path fill=#73ff4c d="M711.3,383.5l5.7-3.8l-5.4-.8l-5.7,3.7z"/>
<path class=m d="M706.3,382.5l5.2-3.1"/>
<path fill=#49ffce d="M484.9,443.6l6.3-3.4l-4.8-1.1l-6.3,3.4z"/>
<path class=m d="M485,443.2l-4.5-.8"/>
<path fill=#ff8c4d d="M989.1,292.6l5.1-4l-6.2-.4l-5.1,3.9z"/>
<path class=m d="M983.4,292l4.7-3.4"/>
<path fill=#f6ff4d d="M860.5,337.2l5.3-3.9l-5.8-.7l-5.3,3.9z"/>
<path fill=#ccff4c d="M814.2,352.2l5.4-3.9l-5.7-.7l-5.4,3.9z"/>
<path class=m d="M808.9,351.3l5.1-3.2M819.2,348.5l-5.2-.4"/>
<path fill=#4bff76 d="M608.4,412.5l5.9-3.6l-5.1-1l-6,3.6z"/>
<path class=m d="M603.7,411.4l5.4-3"/>
<path fill=#4aff9f d="M551.7,427.3l6.1-3.5l-4.9-1l-6.1,3.5z"/>
<path fill=#ffdd4d d="M906.8,321.7l5.3-4l-6-.5l-5.2,3.9z"/>
<path fill=#4dff4b d="M665,397.1l5.8-3.8l-5.3-.9l-5.8,3.7z"/>
<path fill=#a3ff4c d="M767.9,366.8l5.5-3.9l-5.5-.7l-5.6,3.7z"/>
<path fill=#ff5c4d d="M1035.5,275.8l4.9-4.1l-6.3-.3l-4.9,4z"/>
<path class=m d="M1040,271.9l-5.7-.1"/>
<path fill=#ffb04d d="M953.1,305.8l5.2-4.1l-6.1-.5l-5.1,4z"/>
<path class=m d="M947.5,305.1l4.8-3.4M957.9,301.9l-5.6-.2"/>
<path fill=#4affc7 d="M495.1,441.5l6.2-3.5l-4.8-1.1l-6.2,3.4z"/>
<path fill=#7bff4c d="M721.6,380.9l5.6-3.8l-5.4-.9l-5.7,3.8z"/>
<path fill=#4bff6e d="M618.6,410.1l5.9-3.7l-5.1-.9l-6,3.6z"/>
<path class=m d="M624.1,406.5l-4.8-.6"/>
<path fill=#ff824d d="M999.5,289.3l5-4l-6.2-.4l-5,3.9z"/>
<path fill=#4bff98 d="M562,425.1l6-3.6l-5-1.1l-6,3.6z"/>
<path class=m d="M567.6,421.6l-4.7-.7"/>
<path fill=#d5ff4d d="M824.5,349.4l5.4-4l-5.7-.7l-5.4,3.9z"/>
<path fill=#ffff4d d="M870.8,334.2l5.4-3.9l-5.9-.7l-5.3,3.9z"/>
<path class=m d="M875.7,330.4l-5.3-.3"/>
<path fill=#55ff4c d="M675.2,394.5l5.8-3.7l-5.3-.9l-5.8,3.6z"/>
<path class=m d="M670.3,393.4l5.3-3.1M680.6,390.9l-5-.6"/>
<path fill=#acff4d d="M778.2,364l5.5-3.8l-5.6-.8l-5.5,3.8z"/>
<path class=m d="M773,363.1l5.1-3.3"/>
<path fill=#ffd34d d="M917.2,318.7l5.2-4.1l-6-.5l-5.2,3.9z"/>
<path class=m d="M911.6,317.9l4.9-3.4"/>
<path fill=#4affc0 d="M505.3,439.3l6.2-3.5l-4.9-1.1l-6.2,3.5z"/>
<path class=m d="M500.9,438.1l5.6-2.9M511.1,435.9l-4.6-.7"/>
<path fill=#84ff4c d="M731.8,378.2l5.7-3.8l-5.5-.9l-5.6,3.8z"/>
<path class=m d="M737.1,374.5l-5.1-.5"/>
<path fill=#ffa64d d="M963.5,302.6l5.2-4.1l-6.2-.5l-5.1,4z"/>
<path fill=#4bff67 d="M628.8,407.7l5.9-3.7l-5.2-1l-5.9,3.7z"/>
<path fill=#4bff91 d="M572.2,422.8l6-3.7l-5-1l-6.1,3.6z"/>
<path class=m d="M567.6,421.6l5.5-3.1"/>
<path fill=#5eff4c d="M685.5,392l5.7-3.8l-5.3-.9l-5.8,3.7z"/>
<path fill=#4affb9 d="M515.5,437.1l6.2-3.5l-4.9-1.1l-6.2,3.5z"/>
<path fill=#ff784e d="M1009.9,286l5-4.1l-6.2-.4l-5,4z"/>
<path class=m d="M1014.5,282.1l-5.7-.1"/>
<path fill=#deff4d d="M834.8,346.5l5.4-4l-5.7-.7l-5.4,3.9z"/>
<path fill=#fff64d d="M881.2,331.3l5.3-4l-5.9-.7l-5.3,3.9z"/>
<path class=m d="M875.7,330.4l5-3.3"/>
<path fill=#b5ff4d d="M788.5,361.3l5.5-4l-5.6-.7l-5.6,3.8z"/>
<path class=m d="M793.6,357.5l-5.2-.5"/>
<path fill=#ffc94e d="M927.5,315.6l5.2-4.1l-6-.6l-5.2,4z"/>
<path class=m d="M932.3,311.6l-5.5-.2"/>
<path fill=#8dff4d d="M742.1,375.6l5.7-3.9l-5.6-.9l-5.6,3.8z"/>
<path class=m d="M737.1,374.5l5.1-3.2"/>
<path fill=#4bff8a d="M582.4,420.4l6-3.6l-5-1.1l-6,3.6z"/>
<path fill=#4cff5f d="M639.1,405.2l5.9-3.7l-5.3-1l-5.8,3.7z"/>
<path class=m d="M634.3,404.1l5.4-3.1"/>
<path fill=#ff9c4e d="M973.9,299.4l5.1-4.1l-6.1-.5l-5.1,4z"/>
<path fill=#4bffb2 d="M525.7,434.9l6.2-3.6l-4.9-1l-6.2,3.5z"/>
<path fill=#66ff4c d="M695.7,389.4l5.8-3.8l-5.4-.9l-5.7,3.7z"/>
<path fill=#e7ff4d d="M845.2,343.6l5.4-4l-5.8-.7l-5.4,3.9z"/>
<path class=m d="M839.8,342.7l5-3.4M850.1,339.7l-5.3-.4"/>
<path fill=#ffec4e d="M891.5,328.2l5.3-4l-5.9-.6l-5.3,3.9z"/>
<path fill=#bdff4d d="M798.8,358.4l5.5-3.9l-5.7-.8l-5.5,3.9z"/>
<path fill=#ff6d4e d="M1020.3,282.7l5-4.1l-6.2-.4l-5,4z"/>
<path class=m d="M1014.5,282.1l4.7-3.5"/>
<path fill=#ffc04e d="M937.9,312.4l5.2-4l-6-.6l-5.2,4z"/>
<path fill=#95ff4d d="M752.4,372.9l5.6-3.9l-5.5-.9l-5.6,3.8z"/>
<path fill=#4cff82 d="M592.7,418.1l6-3.7l-5.2-1l-5.9,3.6z"/>
<path class=m d="M598.2,414.5l-4.7-.7"/>
<path fill=#4cff58 d="M649.3,402.8l5.9-3.8l-5.3-1l-5.8,3.7z"/>
<path class=m d="M654.8,399.1l-4.9-.6"/>
<path fill=#4bffab d="M536,432.7l6.1-3.6l-5-1.1l-6.1,3.5z"/>
<path class=m d="M531.4,431.4l5.6-3M541.6,429.2l-4.6-.8"/>
<path fill=#ff924e d="M984.3,296.1l5.1-4.1l-6.2-.5l-5,4.1z"/>
<path class=m d="M978.6,295.4l4.8-3.4M989,292.2l-5.6-.2"/>
<path fill=#6eff4d d="M706,386.8l5.7-3.8l-5.4-1l-5.7,3.8z"/>
<path class=m d="M701.1,385.7l5.2-3.2M711.3,383.1l-5-.6"/>
<path fill=#f0ff4e d="M855.5,340.6l5.4-4l-5.8-.7l-5.4,3.9z"/>
<path fill=#c6ff4d d="M809.1,355.6l5.5-3.9l-5.7-.8l-5.5,3.9z"/>
<path class=m d="M803.9,354.6l5-3.3"/>
<path fill=#ffe34e d="M901.9,325.2l5.3-4l-6-.7l-5.2,4z"/>
<path class=m d="M906.7,321.3l-5.4-.3"/>
<path fill=#4cff7b d="M602.9,415.7l6-3.7l-5.2-1l-5.9,3.6z"/>
<path class=m d="M598.2,414.5l5.5-3.1"/>
<path fill=#ff634e d="M1030.8,279.4l5-4.2l-6.3-.4l-5,4.1z"/>
<path fill=#9eff4d d="M762.7,370.1l5.6-3.9l-5.6-.8l-5.5,3.8z"/>
<path class=m d="M767.9,366.3l-5.2-.5"/>
<path fill=#4cff50 d="M659.6,400.3l5.8-3.8l-5.2-1l-5.9,3.7z"/>
<path fill=#4bffa4 d="M546.2,430.4l6.1-3.6l-5-1.1l-6.1,3.6z"/>
<path fill=#ffb64e d="M948.3,309.3l5.2-4.1l-6.1-.6l-5.2,4z"/>
<path class=m d="M942.7,308.5l4.8-3.4"/>
<path fill=#77ff4d d="M716.3,384.2l5.7-3.9l-5.4-.9l-5.7,3.8z"/>
<path fill=#4bffcb d="M489.4,444.5l6.3-3.5l-4.9-1.2l-6.2,3.5z"/>
<path class=m d="M489.6,444.1l-4.6-.9"/>
<path fill=#ff884e d="M994.8,292.9l5-4.1l-6.2-.5l-5,4z"/>
<path fill=#4cff74 d="M613.2,413.3l5.9-3.7l-5.2-1.1l-5.9,3.7z"/>
<path fill=#f9ff4e d="M865.9,337.7l5.3-4l-5.8-.7l-5.4,3.9z"/>
<path fill=#cfff4e d="M819.4,352.8l5.5-4l-5.7-.8l-5.5,3.9z"/>
<path class=m d="M824.5,348.9l-5.3-.4"/>
<path fill=#4cff9d d="M556.4,428.2l6.1-3.7l-5-1.1l-6.1,3.6z"/>
<path fill=#51ff4d d="M669.9,397.8l5.8-3.8l-5.3-1l-5.8,3.7z"/>
<path class=m d="M665,396.6l5.3-3.2"/>
<path fill=#ffd94e d="M912.3,322.1l5.2-4l-5.9-.7l-5.3,4z"/>
<path class=m d="M906.7,321.3l4.9-3.4"/>
<path fill=#a7ff4d d="M773,367.4l5.6-3.9l-5.6-.9l-5.6,3.9z"/>
<path class=m d="M767.9,366.3l5.1-3.2"/>
<path fill=#ff594f d="M1041.2,276l5-4.1l-6.3-.5l-5,4.1z"/>
<path class=m d="M1045.8,272l-5.8-.1"/>
<path fill=#4bffc4 d="M499.7,442.4l6.2-3.6l-4.9-1.2l-6.2,3.5z"/>
<path class=m d="M495.2,441.1l5.7-3"/>
<path fill=#ffad4e d="M958.7,306.1l5.2-4.1l-6.1-.6l-5.2,4.1z"/>
<path class=m d="M963.4,302.1l-5.5-.2"/>
<path fill=#7fff4d d="M726.6,381.6l5.7-3.9l-5.5-1l-5.7,3.9z"/>
<path fill=#4cff6c d="M623.4,410.9l5.9-3.8l-5.2-1l-5.9,3.7z"/>
<path class=m d="M628.9,407.3l-4.8-.8"/>
<path fill=#4cff96 d="M566.7,425.9l6-3.7l-5-1.1l-6.1,3.6z"/>
<path class=m d="M562.1,424.6l5.5-3M572.3,422.3l-4.7-.7"/>
<path fill=#ff7f4f d="M1005.2,289.6l5-4.1l-6.2-.5l-5,4z"/>
<path fill=#d8ff4e d="M829.8,349.9l5.4-4l-5.7-.8l-5.5,3.9z"/>
<path fill=#5aff4d d="M680.2,395.3l5.7-3.9l-5.3-1l-5.8,3.8z"/>
<path class=m d="M685.5,391.5l-4.9-.6"/>
<path fill=#fffb4e d="M876.2,334.7l5.4-4l-5.9-.7l-5.4,3.9z"/>
<path class=m d="M870.8,333.8l4.9-3.4M881.1,330.8l-5.4-.4"/>
<path fill=#b0ff4e d="M783.4,364.6l5.5-3.9l-5.6-.9l-5.6,3.9z"/>
<path fill=#4bffbe d="M509.9,440.2l6.2-3.6l-4.9-1.2l-6.2,3.6z"/>
<path class=m d="M515.6,436.7l-4.5-.8"/>
<path fill=#ffd04e d="M922.7,319.1l5.2-4.1l-6-.7l-5.2,4z"/>
<path fill=#88ff4e d="M736.9,378.9l5.7-3.9l-5.5-.9l-5.7,3.8z"/>
<path class=m d="M731.8,377.8l5.3-3.3M742.1,375.1l-5-.6"/>
<path fill=#ffa34f d="M969.1,302.9l5.2-4.1l-6.2-.6l-5.1,4.1z"/>
<path fill=#4dff65 d="M633.7,408.5l5.9-3.8l-5.2-1.1l-5.9,3.8z"/>
<path class=m d="M628.9,407.3l5.4-3.2"/>
<path fill=#4cff8f d="M576.9,423.6l6-3.7l-5-1.1l-6.1,3.6z"/>
<path fill=#62ff4d d="M690.5,392.7l5.7-3.9l-5.4-1l-5.7,3.8z"/>
<path fill=#4cffb7 d="M520.1,438l6.2-3.6l-4.9-1.2l-6.2,3.6z"/>
<path fill=#e1ff4e d="M840.1,347l5.5-4l-5.8-.8l-5.4,4z"/>
<path class=m d="M834.8,346l5-3.3"/>
<path fill=#ff754f d="M1015.6,286.3l5.1-4.2l-6.3-.5l-5,4.1z"/>
<path class=m d="M1009.8,285.6l4.7-3.5M1020.2,282.3l-5.7-.2"/>
<path fill=#fff24f d="M886.6,331.7l5.3-4l-5.9-.8l-5.3,4z"/>
<path fill=#b8ff4e d="M793.7,361.9l5.5-4l-5.6-.9l-5.6,3.9z"/>
<path class=m d="M798.8,358l-5.2-.5"/>
<path fill=#ffc64f d="M933.1,316l5.2-4.1l-6.1-.7l-5.2,4z"/>
<path class=m d="M937.8,312l-5.5-.4"/>
<path fill=#91ff4e d="M747.2,376.2l5.7-3.9l-5.6-.9l-5.6,3.8z"/>
<path fill=#4dff87 d="M587.2,421.3l6-3.8l-5.1-1.1l-6,3.7z"/>
<path fill=#4dff5d d="M644,406l5.8-3.8l-5.2-1l-5.9,3.7z"/>
<path fill=#ff994f d="M979.6,299.7l5.1-4.1l-6.2-.6l-5.1,4.1z"/>
<path class=m d="M973.8,298.9l4.8-3.5"/>
<path fill=#4cffb0 d="M530.4,435.8l6.1-3.6l-4.9-1.2l-6.2,3.6z"/>
<path class=m d="M525.8,434.5l5.6-3.1"/>
<path fill=#6aff4e d="M700.7,390.1l5.8-3.9l-5.4-1l-5.8,3.9z"/>
<path class=m d="M695.8,388.9l5.3-3.2"/>
<path fill=#ebff4f d="M850.5,344.1l5.4-4l-5.8-.8l-5.4,4z"/>
<path class=m d="M855.5,340.2l-5.4-.5"/>
<path fill=#c1ff4e d="M804,359.1l5.5-4l-5.7-.9l-5.5,3.9z"/>
<path class=m d="M798.8,358l5.1-3.4"/>
<path fill=#ffe94f d="M897,328.7l5.3-4.1l-6-.7l-5.3,4z"/>
<path fill=#ff6b4f d="M1026.1,283l5-4.2l-6.3-.5l-5,4.1z"/>
<path fill=#99ff4e d="M757.5,373.5l5.7-3.9l-5.6-1l-5.6,3.9z"/>
<path fill=#4dff80 d="M597.4,418.9l6-3.7l-5.1-1.2l-6,3.7z"/>
<path class=m d="M592.7,417.6l5.5-3.1M603,415.3l-4.8-.8"/>
<path fill=#ffbd4f d="M943.5,312.8l5.2-4.1l-6.1-.6l-5.2,4z"/>
<path class=m d="M937.8,312l4.9-3.5"/>
<path fill=#4dff56 d="M654.2,403.6l5.9-3.9l-5.3-1l-5.8,3.7z"/>
<path class=m d="M659.7,399.8l-4.9-.7"/>
<path fill=#4cffa9 d="M540.6,433.6l6.1-3.7l-5-1.2l-6.1,3.7z"/>
<path class=m d="M546.3,430l-4.7-.8"/>
<path fill=#73ff4e d="M711.1,387.5l5.7-3.9l-5.5-1l-5.7,3.9z"/>
<path class=m d="M716.3,383.7l-5-.6"/>
<path fill=#ff8f4f d="M990,296.5l5.1-4.2l-6.2-.6l-5.1,4.1z"/>
<path class=m d="M994.6,292.5l-5.6-.3"/>
<path fill=#f4ff4f d="M860.9,341.2l5.3-4.1l-5.8-.8l-5.4,4z"/>
<path fill=#caff4f d="M814.4,356.2l5.5-4l-5.8-.9l-5.4,4z"/>
<path fill=#ffdf4f d="M907.4,325.7l5.2-4.1l-5.9-.8l-5.3,4.1z"/>
<path class=m d="M901.8,324.8l4.9-3.5M912.2,321.7l-5.5-.4"/>
<path fill=#4dff79 d="M607.7,416.6l6-3.8l-5.2-1.1l-6,3.7z"/>
<path fill=#a2ff4e d="M767.9,370.8l5.6-4l-5.6-.9l-5.6,3.9z"/>
<path class=m d="M762.7,369.7l5.2-3.4M773,367l-5.1-.7"/>
<path fill=#4eff4e d="M664.5,401.1l5.9-3.9l-5.3-1l-5.9,3.7z"/>
<path class=m d="M659.7,399.8l5.3-3.2"/>
<path fill=#4dffa2 d="M550.9,431.4l6.1-3.8l-5-1.1l-6.1,3.6z"/>
<path fill=#ff614f d="M1036.5,279.7l5-4.3l-6.3-.5l-5,4.2z"/>
<path fill=#ffb34f d="M953.9,309.7l5.2-4.2l-6.1-.6l-5.2,4.1z"/>
<path fill=#7bff4e d="M721.4,384.9l5.7-3.9l-5.5-1l-5.7,3.9z"/>
<path fill=#4cffc9 d="M494,445.5l6.2-3.7l-4.8-1.2l-6.3,3.6z"/>
<path class=m d="M494.1,445l-4.5-.9M489.6,444.1l5.6-3"/>
<path fill=#ff8650 d="M1000.4,293.2l5.1-4.2l-6.2-.5l-5.1,4.1z"/>
<path fill=#4dff72 d="M618,414.2l5.9-3.8l-5.2-1.2l-5.9,3.8z"/>
<path fill=#fdff4f d="M871.2,338.3l5.4-4.1l-5.9-.8l-5.3,4z"/>
<path class=m d="M865.8,337.3l5-3.5"/>
<path fill=#d3ff4f d="M824.7,353.4l5.5-4.1l-5.8-.8l-5.4,4z"/>
<path class=m d="M829.8,349.5l-5.3-.6"/>
<path fill=#4dff9b d="M561.1,429.1l6.1-3.7l-5-1.2l-6.1,3.6z"/>
<path class=m d="M556.5,427.7l5.6-3.1"/>
<path fill=#55ff4e d="M674.8,398.6l5.8-3.9l-5.3-1.1l-5.8,3.8z"/>
<path fill=#ffd64f d="M917.8,322.6l5.2-4.1l-6-.7l-5.2,4z"/>
<path fill=#abff4f d="M778.2,368.1l5.6-4l-5.6-1l-5.6,4z"/>
<path fill=#4cffc2 d="M504.2,443.3l6.2-3.6l-4.8-1.2l-6.3,3.5z"/>
<path fill=#ff5750 d="M1047,276.3l5-4.2l-6.4-.5l-4.9,4.1z"/>
<path class=m d="M1041.1,275.6l4.7-3.6M1051.6,272.2l-5.8-.2"/>
<path fill=#ffaa50 d="M964.3,306.5l5.2-4.1l-6.2-.7l-5.1,4.1z"/>
<path class=m d="M969,302.5l-5.6-.4"/>
<path fill=#83ff4f d="M731.7,382.3l5.7-4l-5.5-1l-5.7,3.9z"/>
<path class=m d="M726.6,381.1l5.2-3.3"/>
<path fill=#4eff6a d="M628.3,411.8l5.9-3.9l-5.2-1.1l-6,3.8z"/>
<path class=m d="M623.5,410.5l5.4-3.2M633.7,408l-4.8-.7"/>
<path fill=#4dff94 d="M571.4,426.8l6-3.7l-5-1.2l-6.1,3.7z"/>
<path class=m d="M577,423.2l-4.7-.9"/>
<path fill=#ff7c50 d="M1010.9,290l5-4.3l-6.2-.5l-5.1,4.1z"/>
<path class=m d="M1005.1,289.2l4.7-3.6"/>
<path fill=#5eff4e d="M685.1,396.1l5.8-4l-5.4-1l-5.7,3.8z"/>
<path class=m d="M690.5,392.3l-5-.8"/>
<path fill=#dcff4f d="M835.1,350.5l5.4-4l-5.7-.9l-5.5,4z"/>
<path class=m d="M829.8,349.5l5-3.5"/>
<path fill=#fff84f d="M881.6,335.3l5.4-4.1l-5.9-.8l-5.4,4z"/>
<path class=m d="M886.5,331.3l-5.4-.5"/>
<path fill=#4dffbb d="M514.5,441.2l6.2-3.7l-4.9-1.2l-6.2,3.6z"/>
<path class=m d="M520.2,437.6l-4.6-.9"/>
<path fill=#b3ff4f d="M788.6,365.3l5.5-4l-5.6-.9l-5.6,3.9z"/>
<path fill=#ffcd50 d="M928.2,319.6l5.2-4.2l-6-.7l-5.2,4.1z"/>
<path fill=#8cff4f d="M742,379.7l5.7-4l-5.6-1l-5.6,3.9z"/>
<path class=m d="M747.2,375.8l-5.1-.7"/>
<path fill=#ffa050 d="M974.8,303.4l5.1-4.2l-6.2-.7l-5.1,4.1z"/>
<path class=m d="M969,302.5l4.8-3.6"/>
<path fill=#4eff8d d="M581.7,424.5l6-3.8l-5.1-1.2l-6,3.8z"/>
<path fill=#4eff63 d="M638.6,409.4l5.9-3.9l-5.3-1.1l-5.9,3.7z"/>
<path fill=#4dffb4 d="M524.7,439l6.2-3.7l-4.9-1.3l-6.2,3.7z"/>
<path class=m d="M520.2,437.6l5.6-3.1"/>
<path fill=#66ff4f d="M695.5,393.5l5.7-3.9l-5.4-1.1l-5.8,3.9z"/>
<path class=m d="M690.5,392.3l5.3-3.4"/>
<path fill=#e5ff50 d="M845.5,347.7l5.4-4.1l-5.8-.9l-5.4,4z"/>
<path fill=#ffef50 d="M892,332.3l5.3-4.1l-5.9-.9l-5.3,4.1z"/>
<path fill=#ff7250 d="M1021.4,286.7l5-4.3l-6.3-.5l-5,4.1z"/>
<path class=m d="M1026,282.6l-5.8-.3"/>
<path fill=#bcff4f d="M798.9,362.6l5.5-4.1l-5.6-.9l-5.6,3.9z"/>
<path class=m d="M793.7,361.4l5.1-3.4M804,358.6l-5.2-.6"/>
<path fill=#ffc350 d="M938.6,316.5l5.2-4.2l-6-.8l-5.2,4.2z"/>
<path class=m d="M933,315.5l4.8-3.5M943.4,312.4l-5.6-.4"/>
<path fill=#94ff4f d="M752.3,377l5.7-4l-5.6-1l-5.6,3.9z"/>
<path fill=#4eff86 d="M591.9,422.2l6.1-3.8l-5.2-1.2l-6,3.7z"/>
<path class=m d="M587.3,420.8l5.4-3.2"/>
<path fill=#4eff5c d="M648.9,406.9l5.8-3.9l-5.2-1.1l-5.9,3.8z"/>
<path fill=#4dffae d="M535,436.8l6.1-3.7l-4.9-1.3l-6.2,3.7z"/>
<path fill=#ff9650 d="M985.2,300.2l5.1-4.3l-6.2-.6l-5.1,4.1z"/>
<path fill=#6eff4f d="M705.8,391l5.7-4l-5.4-1.1l-5.8,3.9z"/>
<path fill=#eeff50 d="M855.9,344.8l5.4-4.2l-5.9-.8l-5.4,4z"/>
<path class=m d="M860.8,340.8l-5.3-.6"/>
<path fill=#c5ff50 d="M809.3,359.8l5.5-4.1l-5.7-1l-5.5,4z"/>
<path fill=#ffe650 d="M902.4,329.3l5.3-4.2l-5.9-.8l-5.3,4.1z"/>
<path class=m d="M896.9,328.3l4.9-3.5"/>
<path fill=#ff6850 d="M1031.8,283.4l5.1-4.3l-6.4-.6l-5,4.2z"/>
<path fill=#4eff7e d="M602.2,419.9l6-3.9l-5.1-1.2l-6,3.8z"/>
<path class=m d="M607.8,416.1l-4.8-.8"/>
<path fill=#9dff4f d="M762.7,374.3l5.6-4l-5.6-1.1l-5.6,4z"/>
<path class=m d="M757.5,373.1l5.2-3.4"/>
<path fill=#4fff54 d="M659.2,404.5l5.8-4l-5.3-1.1l-5.8,3.8z"/>
<path class=m d="M654.3,403.1l5.4-3.3M664.6,400.6l-4.9-.8"/>
<path fill=#ffba50 d="M949,313.4l5.2-4.3l-6.1-.7l-5.1,4.1z"/>
<path fill=#4effa7 d="M545.3,434.6l6.1-3.8l-5-1.2l-6.1,3.7z"/>
<path class=m d="M551,430.9l-4.7-.9"/>
<path fill=#76ff4f d="M716.1,388.4l5.7-4l-5.4-1.1l-5.8,3.9z"/>
<path class=m d="M721.4,384.5l-5.1-.8"/>
<path fill=#ff8d50 d="M995.7,296.9l5.1-4.2l-6.3-.7l-5,4.2z"/>
<path class=m d="M1000.3,292.8l-5.7-.3"/>
<path fill=#f7ff50 d="M866.2,341.8l5.4-4.1l-5.8-.9l-5.4,4.1z"/>
<path class=m d="M860.8,340.8l5-3.5"/>
<path fill=#cdff50 d="M819.6,356.9l5.5-4.1l-5.7-.9l-5.5,4z"/>
<path fill=#4eff77 d="M612.5,417.5l6-3.9l-5.2-1.2l-6,3.8z"/>
<path fill=#ffdd50 d="M912.9,326.3l5.2-4.2l-6-.8l-5.2,4.1z"/>
<path class=m d="M917.7,322.2l-5.5-.5"/>
<path fill=#4effa0 d="M555.6,432.4l6.1-3.8l-5.1-1.3l-6.1,3.7z"/>
<path class=m d="M551,430.9l5.5-3.2"/>
<path fill=#51ff4f d="M669.5,402l5.8-4l-5.3-1.1l-5.9,3.8z"/>
<path fill=#a5ff50 d="M773,371.6l5.6-4.1l-5.6-1l-5.6,4z"/>
<path class=m d="M778.2,367.6l-5.2-.6"/>
<path fill=#ff5e51 d="M1042.3,280l5-4.3l-6.3-.5l-5,4.2z"/>
<path class=m d="M1036.4,279.2l4.7-3.6"/>
<path fill=#ffb151 d="M959.5,310.2l5.2-4.2l-6.2-.8l-5.1,4.2z"/>
<path fill=#4dffc7 d="M498.6,446.5l6.2-3.7l-4.9-1.3l-6.2,3.6z"/>
<path class=m d="M498.7,446.1l-4.6-1.1"/>
<path fill=#7fff4f d="M726.4,385.8l5.7-4.1l-5.5-1l-5.7,3.9z"/>
<path class=m d="M721.4,384.5l5.2-3.4"/>
<path fill=#ff8351 d="M1006.1,293.7l5.1-4.3l-6.2-.7l-5.1,4.2z"/>
<path class=m d="M1000.3,292.8l4.8-3.6"/>
<path fill=#4fff70 d="M622.8,415.1l6-3.9l-5.2-1.2l-6,3.8z"/>
<path class=m d="M618.1,413.7l5.4-3.2"/>
<path fill=#4eff99 d="M565.8,430.1l6.1-3.8l-5.1-1.3l-6,3.8z"/>
<path fill=#d6ff50 d="M830,354.1l5.5-4.1l-5.8-1l-5.4,4.1z"/>
<path class=m d="M824.7,353l5.1-3.5M835.1,350.1l-5.3-.6"/>
<path fill=#fffe50 d="M876.7,338.9l5.3-4.2l-5.9-.9l-5.3,4.1z"/>
<path fill=#59ff4f d="M679.8,399.5l5.8-4l-5.4-1.1l-5.8,3.8z"/>
<path fill=#aeff50 d="M783.4,368.9l5.6-4.1l-5.7-1.1l-5.5,4.1z"/>
<path fill=#ffd351 d="M923.3,323.2l5.2-4.2l-6-.8l-5.2,4.1z"/>
<path fill=#4effc0 d="M508.8,444.4l6.2-3.7l-4.9-1.4l-6.2,3.7z"/>
<path fill=#87ff50 d="M736.8,383.1l5.7-4l-5.6-1.1l-5.6,4z"/>
<path fill=#ff5551 d="M1052.8,276.7l5-4.3l-6.4-.6l-4.9,4.2z"/>
<path class=m d="M1057.4,272.5l-5.8-.3"/>
<path fill=#ffa751 d="M969.9,307.1l5.2-4.3l-6.2-.7l-5.1,4.1z"/>
<path class=m d="M964.2,306.1l4.8-3.6M974.7,302.9l-5.7-.4"/>
<path fill=#4fff69 d="M633.1,412.7l6-3.9l-5.3-1.2l-5.9,3.8z"/>
<path class=m d="M638.6,408.9l-4.9-.9"/>
<path fill=#4eff92 d="M576.1,427.8l6.1-3.8l-5.1-1.3l-6.1,3.8z"/>
<path class=m d="M581.7,424.1l-4.7-.9"/>
<path fill=#61ff50 d="M690.1,397l5.8-4l-5.4-1.2l-5.8,3.9z"/>
<path class=m d="M685.2,395.6l5.3-3.3M695.5,393.1l-5-.8"/>
<path fill=#dfff51 d="M840.4,351.3l5.5-4.2l-5.8-1l-5.5,4.1z"/>
<path fill=#ff7a51 d="M1016.6,290.4l5.1-4.3l-6.3-.7l-5,4.3z"/>
<path fill=#fff551 d="M887.1,335.9l5.3-4.2l-5.9-.9l-5.4,4.2z"/>
<path class=m d="M892,331.9l-5.5-.6"/>
<path fill=#4effb9 d="M519.1,442.2l6.2-3.7l-5-1.3l-6.1,3.6z"/>
<path class=m d="M514.6,440.7l5.6-3.1M524.8,438.6l-4.6-1"/>
<path fill=#b7ff50 d="M793.8,366.1l5.5-4.1l-5.6-1l-5.6,4z"/>
<path class=m d="M788.5,364.9l5.2-3.5"/>
<path fill=#ffca51 d="M933.7,320.1l5.3-4.2l-6.1-.8l-5.2,4.1z"/>
<path class=m d="M928.1,319.1l4.9-3.6"/>
<path fill=#8fff50 d="M747.1,380.5l5.7-4.1l-5.6-1.1l-5.6,4z"/>
<path class=m d="M752.4,376.5l-5.2-.7"/>
<path fill=#4fff8b d="M586.4,425.5l6.1-3.8l-5.2-1.3l-6,3.8z"/>
<path class=m d="M581.7,424.1l5.6-3.3"/>
<path fill=#4fff61 d="M643.5,410.3l5.9-3.9l-5.3-1.3l-5.9,3.9z"/>
<path fill=#ff9e51 d="M980.4,303.9l5.1-4.3l-6.1-.8l-5.2,4.3z"/>
<path fill=#4effb3 d="M529.4,440.1l6.1-3.8l-4.9-1.4l-6.2,3.8z"/>
<path fill=#6aff50 d="M700.5,394.4l5.7-4l-5.4-1.2l-5.8,4z"/>
<path fill=#e8ff51 d="M850.8,348.4l5.4-4.2l-5.8-1l-5.4,4.1z"/>
<path fill=#ffec51 d="M897.5,333l5.3-4.3l-5.9-.9l-5.4,4.2z"/>
<path class=m d="M892,331.9l4.9-3.6"/>
<path fill=#bfff51 d="M804.2,363.3l5.5-4.1l-5.7-1l-5.5,4z"/>
<path class=m d="M809.3,359.3l-5.3-.7"/>
<path fill=#ff7051 d="M1027.1,287.1l5.1-4.3l-6.3-.7l-5.1,4.3z"/>
<path class=m d="M1031.7,282.9l-5.7-.3"/>
<path fill=#ffc151 d="M944.2,317.1l5.2-4.3l-6.1-.8l-5.2,4.2z"/>
<path class=m d="M949,312.9l-5.6-.5"/>
<path fill=#98ff50 d="M757.5,377.8l5.6-4.1l-5.5-1.1l-5.7,4z"/>
<path class=m d="M752.4,376.5l5.1-3.4"/>
<path fill=#4fff84 d="M596.7,423.2l6-3.9l-5.1-1.3l-6,3.9z"/>
<path fill=#50ff5a d="M653.8,407.9l5.9-4l-5.4-1.2l-5.8,3.9z"/>
<path class=m d="M648.9,406.5l5.4-3.4"/>
<path fill=#4fffac d="M539.7,437.9l6.1-3.8l-5-1.4l-6.1,3.8z"/>
<path fill=#ff9451 d="M990.9,300.7l5.1-4.3l-6.2-.8l-5.1,4.3z"/>
<path fill=#72ff50 d="M710.8,391.9l5.8-4.1l-5.5-1.2l-5.7,4z"/>
<path fill=#f1ff51 d="M861.2,345.5l5.4-4.2l-5.8-1l-5.4,4.1z"/>
<path class=m d="M855.8,344.3l5-3.5M866.2,341.4l-5.4-.6"/>
<path fill=#c8ff51 d="M814.6,360.5l5.5-4.1l-5.8-1.1l-5.5,4.1z"/>
<path fill=#ffe351 d="M907.9,329.9l5.3-4.2l-6-.9l-5.3,4.2z"/>
<path fill=#4fff7d d="M607.1,420.9l5.9-3.9l-5.2-1.3l-5.9,3.8z"/>
<path class=m d="M612.6,417.1l-4.8-1"/>
<path fill=#ff6652 d="M1037.6,283.8l5-4.3l-6.3-.7l-5,4.3z"/>
<path class=m d="M1031.7,282.9l4.7-3.7"/>
<path fill=#a0ff51 d="M767.9,375.1l5.6-4.1l-5.6-1.1l-5.6,4.1z"/>
<path fill=#50ff53 d="M664.1,405.4l5.9-4l-5.4-1.2l-5.8,3.9z"/>
<path class=m d="M669.5,401.5l-4.9-.9"/>
<path fill=#4fffa5 d="M550,435.7l6.1-3.9l-5-1.3l-6.2,3.7z"/>
<path class=m d="M545.4,434.1l5.6-3.2M555.7,431.9l-4.7-1"/>
<path fill=#ffb751 d="M954.6,313.9l5.2-4.3l-6.1-.8l-5.2,4.2z"/>
<path fill=#7aff50 d="M721.2,389.3l5.7-4.1l-5.5-1.2l-5.7,4z"/>
<path class=m d="M716.1,387.9l5.3-3.4M726.5,385.3l-5.1-.8"/>
<path fill=#ff8b52 d="M1001.4,297.5l5.1-4.4l-6.3-.7l-5.1,4.2z"/>
<path class=m d="M995.6,296.5l4.7-3.7M1006,293.2l-5.7-.4"/>
<path fill=#faff51 d="M871.7,342.6l5.3-4.3l-5.8-.9l-5.4,4.1z"/>
<path fill=#d0ff51 d="M825,357.7l5.4-4.2l-5.7-1l-5.5,4.1z"/>
<path class=m d="M819.6,356.5l5.1-3.5"/>
<path fill=#50ff76 d="M617.4,418.5l5.9-3.9l-5.2-1.3l-5.9,3.9z"/>
<path class=m d="M612.6,417.1l5.5-3.4"/>
<path fill=#4fff9e d="M560.3,433.4l6.1-3.8l-5.1-1.4l-6.1,3.8z"/>
<path fill=#ffda52 d="M918.4,326.9l5.2-4.3l-6-.9l-5.2,4.2z"/>
<path class=m d="M923.2,322.8l-5.5-.6"/>
<path fill=#55ff50 d="M674.5,402.9l5.8-4l-5.4-1.2l-5.8,3.9z"/>
<path fill=#a9ff51 d="M778.3,372.4l5.5-4.1l-5.6-1.1l-5.6,4.1z"/>
<path class=m d="M783.4,368.4l-5.2-.8"/>
<path fill=#ff5c52 d="M1048.1,280.5l5-4.4l-6.3-.7l-5,4.3z"/>
<path fill=#ffae52 d="M965.1,310.8l5.2-4.3l-6.2-.8l-5.1,4.2z"/>
<path class=m d="M959.4,309.8l4.8-3.7"/>
<path fill=#4fffc5 d="M503.2,447.7l6.2-3.8l-4.9-1.4l-6.3,3.7z"/>
<path class=m d="M503.3,447.2l-4.6-1.1"/>
<path fill=#82ff51 d="M731.5,386.7l5.7-4.1l-5.5-1.2l-5.7,4z"/>
<path fill=#50ff6f d="M627.7,416.2l5.9-4l-5.2-1.3l-5.9,3.9z"/>
<path fill=#ff8152 d="M1011.9,294.2l5-4.4l-6.2-.7l-5.1,4.3z"/>
<path fill=#4fff97 d="M570.6,431.2l6.1-3.9l-5.1-1.4l-6.1,3.9z"/>
<path fill=#d9ff51 d="M835.4,354.9l5.4-4.2l-5.8-1.1l-5.4,4.2z"/>
<path class=m d="M840.4,350.8l-5.3-.7"/>
<path fill=#fffb52 d="M882.1,339.6l5.3-4.2l-5.9-1l-5.3,4.2z"/>
<path fill=#5dff51 d="M684.8,400.4l5.8-4l-5.4-1.2l-5.8,3.9z"/>
<path class=m d="M679.8,399l5.4-3.4"/>
<path fill=#b1ff51 d="M788.6,369.7l5.6-4.2l-5.7-1.1l-5.5,4.1z"/>
<path class=m d="M783.4,368.4l5.1-3.5"/>
<path fill=#ffd152 d="M928.8,323.9l5.3-4.3l-6.1-.9l-5.2,4.2z"/>
<path class=m d="M923.2,322.8l4.9-3.7"/>
<path fill=#4fffbe d="M513.4,445.5l6.3-3.8l-5-1.4l-6.2,3.7z"/>
<path class=m d="M508.9,444l5.7-3.3"/>
<path fill=#8aff51 d="M741.9,384.1l5.7-4.2l-5.6-1.1l-5.6,4z"/>
<path fill=#ffa552 d="M975.6,307.6l5.1-4.3l-6.1-.8l-5.2,4.2z"/>
<path class=m d="M980.3,303.4l-5.6-.5"/>
<path fill=#ff5352 d="M1058.7,277.1l5-4.4l-6.4-.6l-5,4.3z"/>
<path class=m d="M1063.2,272.9l-5.8-.4"/>
<path fill=#50ff67 d="M638,413.8l6-4l-5.3-1.3l-5.9,3.9z"/>
<path class=m d="M643.5,409.9l-4.9-1"/>
<path fill=#50ff90 d="M580.9,428.9l6.1-3.9l-5.2-1.4l-6,3.9z"/>
<path class=m d="M576.2,427.4l5.5-3.3M586.5,425.1l-4.8-1"/>
<path fill=#65ff51 d="M695.2,397.9l5.7-4l-5.4-1.3l-5.8,4z"/>
<path class=m d="M700.5,394l-5-.9"/>
<path fill=#e2ff52 d="M845.8,352.1l5.4-4.3l-5.8-1l-5.4,4.1z"/>
<path fill=#4fffb8 d="M523.8,443.4l6.1-3.9l-4.9-1.4l-6.2,3.8z"/>
<path class=m d="M529.5,439.6l-4.7-1"/>
<path fill=#ff7752 d="M1022.4,290.9l5-4.3l-6.3-.8l-5,4.3z"/>
<path fill=#fff352 d="M892.5,336.7l5.4-4.3l-6-1l-5.3,4.2z"/>
<path class=m d="M887,335.5l5-3.6M897.4,332.5l-5.4-.6"/>
<path fill=#baff52 d="M799,367l5.6-4.2l-5.7-1.1l-5.6,4.1z"/>
<path fill=#ffc852 d="M939.3,320.8l5.2-4.3l-6-.9l-5.3,4.2z"/>
<path fill=#93ff51 d="M752.3,381.4l5.6-4.1l-5.5-1.2l-5.7,4.1z"/>
<path class=m d="M747.1,380l5.3-3.5M757.5,377.4l-5.1-.9"/>
<path fill=#50ff8a d="M591.2,426.6l6.1-3.9l-5.2-1.4l-6,3.9z"/>
<path fill=#51ff60 d="M648.4,411.4l5.9-4.1l-5.3-1.3l-5.9,4z"/>
<path class=m d="M643.5,409.9l5.4-3.4"/>
<path fill=#ff9b52 d="M986.1,304.5l5.1-4.4l-6.2-.8l-5.1,4.3z"/>
<path fill=#4fffb1 d="M534.1,441.2l6.1-3.9l-5-1.4l-6.1,3.8z"/>
<path fill=#6dff51 d="M705.5,395.4l5.8-4.1l-5.5-1.2l-5.7,4z"/>
<path fill=#ebff52 d="M856.2,349.2l5.4-4.3l-5.8-1l-5.4,4.2z"/>
<path class=m d="M850.8,347.9l5-3.6"/>
<path fill=#c2ff52 d="M809.4,364.2l5.6-4.2l-5.8-1.1l-5.5,4.1z"/>
<path class=m d="M814.5,360.1l-5.2-.8"/>
<path fill=#ffea52 d="M903,333.7l5.3-4.3l-6-1l-5.3,4.2z"/>
<path fill=#ff6e53 d="M1032.9,287.7l5-4.5l-6.3-.7l-5,4.3z"/>
<path class=m d="M1027,286.7l4.7-3.8M1037.5,283.4l-5.8-.5"/>
<path fill=#9bff52 d="M762.7,378.8l5.6-4.2l-5.6-1.2l-5.6,4.1z"/>
<path fill=#ffbe52 d="M949.8,317.7l5.2-4.3l-6.1-.9l-5.2,4.2z"/>
<path class=m d="M954.6,313.5l-5.6-.6"/>
<path fill=#50ff83 d="M601.6,424.3l6-4l-5.2-1.3l-6,3.9z"/>
<path fill=#51ff59 d="M658.7,408.9l5.9-4l-5.3-1.3l-5.9,3.9z"/>
<path fill=#50ffaa d="M544.4,439l6.1-3.9l-5-1.4l-6.2,3.8z"/>
<path class=m d="M539.8,437.4l5.6-3.3"/>
<path fill=#75ff51 d="M715.9,392.8l5.7-4.1l-5.5-1.2l-5.7,4z"/>
<path class=m d="M710.8,391.4l5.3-3.5"/>
<path fill=#ff9253 d="M996.6,301.3l5.1-4.4l-6.2-.8l-5.1,4.3z"/>
<path class=m d="M990.8,300.2l4.8-3.7"/>
<path fill=#f3ff52 d="M866.6,346.3l5.4-4.3l-5.8-1.1l-5.4,4.3z"/>
<path class=m d="M871.6,342.1l-5.4-.7"/>
<path fill=#cbff52 d="M819.9,361.4l5.5-4.2l-5.8-1.1l-5.5,4.1z"/>
<path class=m d="M814.5,360.1l5.1-3.6"/>
<path fill=#ffe153 d="M913.4,330.7l5.3-4.3l-6-1l-5.3,4.2z"/>
<path fill=#51ff7c d="M611.9,422l6-4l-5.2-1.4l-6,3.9z"/>
<path class=m d="M607.1,420.4l5.5-3.3M617.4,418.1l-4.8-1"/>
<path fill=#a3ff52 d="M773.1,376.1l5.6-4.2l-5.7-1.2l-5.6,4.1z"/>
<path fill=#51ff52 d="M669.1,406.5l5.8-4.1l-5.3-1.3l-5.9,4z"/>
<path class=m d="M674.5,402.5l-5-1"/>
<path fill=#ff6453 d="M1043.4,284.3l5.1-4.4l-6.4-.7l-5,4.3z"/>
<path fill=#50ffa4 d="M554.7,436.8l6.1-3.9l-5.1-1.4l-6.1,3.8z"/>
<path class=m d="M560.4,433l-4.7-1.1"/>
<path fill=#ffb553 d="M960.2,314.6l5.3-4.4l-6.2-.9l-5.2,4.3z"/>
<path class=m d="M954.6,313.5l4.8-3.7"/>
<path fill=#7dff52 d="M726.3,390.3l5.7-4.2l-5.5-1.2l-5.7,4z"/>
<path class=m d="M731.6,386.2l-5.1-.9"/>
<path fill=#ff8953 d="M1007.1,298.1l5.1-4.5l-6.3-.8l-5.1,4.3z"/>
<path class=m d="M1011.8,293.8l-5.8-.6"/>
<path fill=#51ff75 d="M622.2,419.6l6-4l-5.2-1.4l-6,4z"/>
<path fill=#fcff53 d="M877.1,343.4l5.4-4.3l-5.9-1.1l-5.4,4.2z"/>
<path fill=#d3ff52 d="M830.3,358.6l5.5-4.3l-5.8-1.1l-5.5,4.2z"/>
<path fill=#50ff9d d="M565,434.6l6.1-4l-5.1-1.4l-6.1,3.9z"/>
<path fill=#58ff51 d="M679.5,404l5.8-4.1l-5.4-1.3l-5.8,4z"/>
<path class=m d="M674.5,402.5l5.3-3.5"/>
<path fill=#ffd853 d="M923.9,327.7l5.3-4.4l-6-1l-5.3,4.3z"/>
<path class=m d="M918.3,326.5l4.9-3.7M928.8,323.4l-5.6-.6"/>
<path fill=#acff52 d="M783.5,373.4l5.6-4.3l-5.7-1.1l-5.6,4.1z"/>
<path class=m d="M778.2,372l5.2-3.6M788.6,369.3l-5.2-.9"/>
<path fill=#50ffc3 d="M507.8,448.9l6.2-3.9l-5-1.5l-6.2,3.8z"/>
<path class=m d="M507.9,448.4l-4.6-1.2M503.3,447.2l5.6-3.2"/>
<path fill=#ff5b53 d="M1054,281l5-4.4l-6.4-.8l-5,4.4z"/>
<path fill=#ffac53 d="M970.7,311.5l5.2-4.4l-6.1-.9l-5.2,4.3z"/>
<path fill=#85ff52 d="M736.7,387.7l5.7-4.2l-5.6-1.3l-5.7,4.1z"/>
<path fill=#51ff6e d="M632.6,417.3l5.9-4.1l-5.2-1.4l-6,4z"/>
<path fill=#51ff96 d="M575.4,432.3l6-3.9l-5.1-1.5l-6.1,3.9z"/>
<path class=m d="M570.7,430.7l5.5-3.3"/>
<path fill=#ff7f53 d="M1017.6,294.8l5.1-4.4l-6.3-.9l-5.1,4.4z"/>
<path fill=#dcff53 d="M840.7,355.8l5.5-4.3l-5.8-1.1l-5.5,4.2z"/>
<path class=m d="M845.7,351.6l-5.3-.8"/>
<path fill=#60ff52 d="M689.8,401.5l5.8-4.1l-5.4-1.3l-5.8,4z"/>
<path fill=#fff953 d="M887.5,340.4l5.4-4.3l-5.9-1.1l-5.4,4.3z"/>
<path class=m d="M882,339.2l5-3.7"/>
<path fill=#b4ff52 d="M793.9,370.6l5.6-4.2l-5.7-1.2l-5.6,4.2z"/>
<path fill=#50ffbd d="M518.1,446.7l6.2-3.9l-5-1.4l-6.2,3.8z"/>
<path fill=#ffce53 d="M934.4,324.6l5.3-4.4l-6.1-.9l-5.3,4.3z"/>
<path fill=#8dff52 d="M747.1,385.1l5.6-4.2l-5.5-1.3l-5.7,4.1z"/>
<path class=m d="M741.9,383.6l5.2-3.6"/>
<path fill=#ffa353 d="M981.3,308.3l5.1-4.4l-6.2-.9l-5.1,4.3z"/>
<path class=m d="M986,304l-5.7-.6"/>
<path fill=#ff5353 d="M1064.5,277.7l5-4.5l-6.4-.8l-5,4.4z"/>
<path class=m d="M1058.5,276.7l4.7-3.8M1069.1,273.3l-5.9-.4"/>
<path fill=#52ff66 d="M643,414.9l5.9-4.1l-5.3-1.4l-5.9,4z"/>
<path class=m d="M638.1,413.3l5.4-3.4M648.4,410.9l-4.9-1"/>
<path fill=#51ff8f d="M585.7,430.1l6-4l-5.1-1.5l-6.1,4z"/>
<path class=m d="M591.3,426.2l-4.8-1.1"/>
<path fill=#68ff52 d="M700.2,399l5.8-4.2l-5.5-1.3l-5.7,4.1z"/>
<path class=m d="M705.5,394.9l-5-.9"/>
<path fill=#50ffb6 d="M528.4,444.6l6.2-3.9l-5-1.5l-6.2,3.8z"/>
<path class=m d="M534.2,440.8l-4.7-1.2"/>
<path fill=#e4ff53 d="M851.2,352.9l5.4-4.3l-5.8-1.1l-5.5,4.2z"/>
<path class=m d="M845.7,351.6l5.1-3.7"/>
<path fill=#fff053 d="M898,337.5l5.4-4.4l-6-1l-5.4,4.2z"/>
<path class=m d="M902.9,333.2l-5.5-.7"/>
<path fill=#ff7653 d="M1028.1,291.6l5.1-4.5l-6.3-.8l-5.1,4.3z"/>
<path class=m d="M1022.3,290.5l4.7-3.8"/>
<path fill=#bcff53 d="M804.3,367.9l5.6-4.3l-5.8-1.2l-5.5,4.2z"/>
<path fill=#ffc553 d="M944.9,321.6l5.2-4.5l-6.1-.9l-5.2,4.3z"/>
<path fill=#96ff53 d="M757.5,382.4l5.6-4.2l-5.6-1.3l-5.6,4.2z"/>
<path class=m d="M762.7,378.3l-5.2-.9"/>
<path fill=#51ff88 d="M596.1,427.8l6-4l-5.2-1.5l-6,4z"/>
<path fill=#52ff5f d="M653.3,412.5l5.9-4.1l-5.3-1.4l-5.9,4z"/>
<path fill=#ff9954 d="M991.8,305.2l5.1-4.5l-6.2-.9l-5.1,4.4z"/>
<path class=m d="M986,304l4.8-3.8"/>
<path fill=#51ffb0 d="M538.8,442.4l6.1-3.9l-5-1.5l-6.2,3.9z"/>
<path class=m d="M534.2,440.8l5.6-3.4"/>
<path fill=#70ff52 d="M710.6,396.5l5.8-4.2l-5.5-1.3l-5.8,4.1z"/>
<path class=m d="M705.5,394.9l5.3-3.5"/>
<path fill=#edff53 d="M861.6,350.1l5.4-4.4l-5.8-1.1l-5.5,4.2z"/>
<path fill=#c5ff53 d="M814.7,365.1l5.6-4.3l-5.8-1.2l-5.5,4.3z"/>
<path class=m d="M809.4,363.7l5.1-3.6M819.8,361l-5.3-.9"/>
<path fill=#ffe753 d="M908.5,334.5l5.3-4.4l-6-1l-5.3,4.3z"/>
<path fill=#ff6c54 d="M1038.7,288.3l5-4.5l-6.3-.9l-5,4.5z"/>
<path class=m d="M1043.3,283.9l-5.8-.5"/>
<path fill=#9eff53 d="M767.9,379.8l5.6-4.3l-5.6-1.3l-5.7,4.2z"/>
<path fill=#52ff81 d="M606.4,425.5l6-4.1l-5.2-1.4l-6,4z"/>
<path class=m d="M601.6,423.9l5.5-3.5"/>
<path fill=#ffbc54 d="M955.4,318.5l5.2-4.5l-6.1-.9l-5.2,4.3z"/>
<path class=m d="M949.7,317.3l4.9-3.8M960.2,314.2l-5.6-.7"/>
<path fill=#52ff58 d="M663.7,410l5.9-4.1l-5.4-1.4l-5.9,4.1z"/>
<path fill=#51ffa9 d="M549.1,440.3l6.1-4l-5-1.5l-6.2,3.9z"/>
<path fill=#78ff53 d="M721,393.9l5.7-4.2l-5.5-1.3l-5.7,4.1z"/>
<path fill=#ff9054 d="M1002.3,302l5.1-4.5l-6.2-.9l-5.1,4.4z"/>
<path fill=#f6ff54 d="M872.1,347.2l5.4-4.4l-5.9-1.1l-5.4,4.3z"/>
<path class=m d="M877,342.9l-5.4-.8"/>
<path fill=#cdff53 d="M825.2,362.4l5.5-4.4l-5.8-1.2l-5.5,4.3z"/>
<path fill=#ffde54 d="M919,331.5l5.3-4.4l-6.1-1.1l-5.3,4.4z"/>
<path class=m d="M913.4,330.2l4.9-3.7"/>
<path fill=#52ff7b d="M616.8,423.2l5.9-4.1l-5.2-1.5l-6,4z"/>
<path class=m d="M622.3,419.2l-4.9-1.1"/>
<path fill=#a6ff53 d="M778.3,377.1l5.6-4.3l-5.7-1.3l-5.6,4.2z"/>
<path class=m d="M773.1,375.6l5.1-3.6"/>
<path fill=#54ff52 d="M674.1,407.6l5.8-4.2l-5.4-1.4l-5.8,4.1z"/>
<path class=m d="M669.1,406l5.4-3.5M679.5,403.5l-5-1"/>
<path fill=#51ffa2 d="M559.4,438.1l6.1-4l-5.1-1.6l-6.1,4z"/>
<path class=m d="M565.1,434.1l-4.7-1.1"/>
<path fill=#ff6354 d="M1049.3,285l5-4.6l-6.4-.8l-5,4.4z"/>
<path fill=#ffb354 d="M965.9,315.4l5.2-4.5l-6.2-1l-5.2,4.4z"/>
<path fill=#80ff53 d="M731.4,391.3l5.7-4.2l-5.5-1.3l-5.7,4.1z"/>
<path class=m d="M736.7,387.2l-5.1-1"/>
<path fill=#ff8754 d="M1012.8,298.7l5.1-4.5l-6.2-.9l-5.1,4.4z"/>
<path class=m d="M1017.5,294.4l-5.7-.6"/>
<path fill=#52ff74 d="M627.1,420.8l6-4.1l-5.3-1.4l-5.9,4z"/>
<path fill=#d6ff54 d="M835.6,359.6l5.5-4.4l-5.8-1.2l-5.5,4.3z"/>
<path fill=#ffff54 d="M882.5,344.3l5.4-4.4l-5.9-1.2l-5.4,4.3z"/>
<path class=m d="M877,342.9l5-3.7"/>
<path fill=#52ff9c d="M569.8,435.8l6.1-4l-5.1-1.5l-6.1,3.9z"/>
<path class=m d="M565.1,434.1l5.6-3.4"/>
<path fill=#5cff53 d="M684.5,405.1l5.8-4.2l-5.4-1.3l-5.9,4.1z"/>
<path fill=#aeff53 d="M788.7,374.4l5.6-4.3l-5.7-1.3l-5.6,4.2z"/>
<path class=m d="M793.9,370.2l-5.3-.9"/>
<path fill=#ffd554 d="M929.5,328.5l5.3-4.5l-6.1-1l-5.3,4.3z"/>
<path class=m d="M934.3,324.2l-5.5-.8"/>
<path fill=#51ffc2 d="M512.4,450.2l6.2-4l-4.9-1.6l-6.3,3.9z"/>
<path class=m d="M512.5,449.7l-4.6-1.3"/>
<path fill=#88ff53 d="M741.8,388.7l5.7-4.2l-5.6-1.3l-5.7,4.1z"/>
<path class=m d="M736.7,387.2l5.2-3.6"/>
<path fill=#ff5954 d="M1059.8,281.6l5-4.5l-6.4-.8l-5,4.4z"/>
<path class=m d="M1053.9,280.6l4.6-3.9"/>
<path fill=#ffaa54 d="M976.4,312.2l5.2-4.4l-6.2-1l-5.2,4.4z"/>
<path fill=#52ff6d d="M637.5,418.5l5.9-4.2l-5.3-1.4l-5.9,4z"/>
<path class=m d="M632.7,416.8l5.4-3.5"/>
<path fill=#52ff95 d="M580.2,433.6l6-4.1l-5.1-1.5l-6.1,4z"/>
<path fill=#63ff53 d="M694.9,402.6l5.8-4.2l-5.5-1.4l-5.8,4.2z"/>
<path fill=#deff54 d="M846.1,356.7l5.5-4.3l-5.9-1.2l-5.4,4.2z"/>
<path class=m d="M840.7,355.3l5-3.7M851.1,352.5l-5.4-.9"/>
<path fill=#ff7d54 d="M1023.4,295.5l5.1-4.5l-6.3-.9l-5.1,4.4z"/>
<path class=m d="M1017.5,294.4l4.8-3.9"/>
<path fill=#fff754 d="M893,341.3l5.4-4.4l-6-1.1l-5.3,4.3z"/>
<path fill=#b7ff54 d="M799.2,371.7l5.5-4.4l-5.7-1.2l-5.6,4.2z"/>
<path fill=#51ffbb d="M522.8,448l6.2-3.9l-5.1-1.6l-6.1,3.9z"/>
<path fill=#ffcc54 d="M940,325.4l5.2-4.4l-6-1.1l-5.3,4.4z"/>
<path fill=#90ff53 d="M752.2,386.1l5.7-4.2l-5.6-1.4l-5.7,4.2z"/>
<path fill=#ffa154 d="M986.9,309.1l5.2-4.5l-6.2-1l-5.2,4.4z"/>
<path class=m d="M981.2,307.9l4.8-3.9M991.7,304.7l-5.7-.7"/>
<path fill=#53ff66 d="M647.9,416.1l5.9-4.2l-5.3-1.4l-5.9,4z"/>
<path class=m d="M653.4,412l-5-1.1"/>
<path fill=#52ff8e d="M590.5,431.3l6.1-4l-5.2-1.6l-6.1,4z"/>
<path class=m d="M596.1,427.4l-4.8-1.2"/>
<path fill=#ff5555 d="M1070.4,278.3l5-4.6l-6.4-.8l-5,4.5z"/>
<path class=m d="M1075,273.9l-5.9-.6"/>
<path fill=#6bff53 d="M705.3,400.1l5.8-4.2l-5.5-1.4l-5.8,4.1z"/>
<path class=m d="M700.2,398.5l5.3-3.6M710.6,396l-5.1-1.1"/>
<path fill=#52ffb5 d="M533.1,445.9l6.2-4l-5.1-1.6l-6.1,4z"/>
<path class=m d="M528.5,444.2l5.7-3.4M538.8,442l-4.6-1.2"/>
<path fill=#e7ff54 d="M856.6,353.9l5.4-4.4l-5.9-1.2l-5.4,4.3z"/>
<path fill=#ffee54 d="M903.5,338.4l5.4-4.5l-6-1.1l-5.4,4.4z"/>
<path class=m d="M908.4,334.1l-5.5-.9"/>
<path fill=#bfff54 d="M809.6,368.9l5.6-4.3l-5.8-1.3l-5.5,4.3z"/>
<path class=m d="M804.3,367.5l5.1-3.8"/>
<path fill=#ff7455 d="M1033.9,292.2l5.1-4.5l-6.3-.9l-5.1,4.4z"/>
<path fill=#ffc455 d="M950.5,322.4l5.2-4.5l-6.1-1.1l-5.2,4.4z"/>
<path class=m d="M944.8,321.1l4.9-3.8"/>
<path fill=#98ff54 d="M762.7,383.5l5.6-4.3l-5.6-1.3l-5.7,4.2z"/>
<path class=m d="M767.9,379.3l-5.2-1"/>
<path fill=#53ff87 d="M600.9,429.1l6-4.2l-5.2-1.5l-6,4z"/>
<path class=m d="M596.1,427.4l5.5-3.5"/>
<path fill=#53ff5f d="M658.3,413.7l5.9-4.2l-5.4-1.5l-5.9,4.1z"/>
<path fill=#52ffae d="M543.5,443.8l6.1-4.1l-5-1.6l-6.2,4z"/>
<path fill=#ff9855 d="M997.5,305.9l5.1-4.5l-6.2-1l-5.1,4.4z"/>
<path fill=#73ff54 d="M715.7,397.6l5.7-4.2l-5.5-1.5l-5.7,4.2z"/>
<path fill=#efff54 d="M867,351l5.5-4.4l-5.9-1.2l-5.5,4.3z"/>
<path fill=#c7ff54 d="M820.1,366.2l5.5-4.4l-5.8-1.3l-5.5,4.3z"/>
<path class=m d="M825.2,361.9l-5.4-.9"/>
<path fill=#ffe555 d="M914,335.4l5.3-4.5l-6-1.1l-5.3,4.4z"/>
<path class=m d="M908.4,334.1l5-3.9"/>
<path fill=#ff6b55 d="M1044.5,289l5.1-4.6l-6.4-.9l-5,4.5z"/>
<path class=m d="M1049.1,284.5l-5.8-.6"/>
<path fill=#53ff81 d="M611.3,426.8l6-4.2l-5.3-1.5l-6,4z"/>
<path fill=#a0ff54 d="M773.1,380.9l5.6-4.4l-5.6-1.3l-5.7,4.2z"/>
<path class=m d="M767.9,379.3l5.2-3.7"/>
<path fill=#53ff58 d="M668.7,411.3l5.9-4.3l-5.4-1.4l-5.9,4.1z"/>
<path class=m d="M663.7,409.6l5.4-3.6"/>
<path fill=#ffbb55 d="M961,319.3l5.2-4.5l-6.1-1.1l-5.2,4.5z"/>
<path class=m d="M965.8,314.9l-5.6-.7"/>
<path fill=#52ffa8 d="M553.8,441.6l6.2-4.1l-5.1-1.6l-6.2,4z"/>
<path fill=#7bff54 d="M726.1,395.1l5.7-4.3l-5.5-1.4l-5.7,4.2z"/>
<path fill=#ff8f55 d="M1008,302.7l5.2-4.5l-6.3-1l-5.1,4.4z"/>
<path fill=#f8ff55 d="M877.5,348.1l5.4-4.4l-5.9-1.2l-5.4,4.3z"/>
<path class=m d="M872,346.7l5-3.8M882.5,343.8l-5.5-.9"/>
<path fill=#d0ff55 d="M830.5,363.4l5.5-4.4l-5.8-1.3l-5.5,4.3z"/>
<path fill=#53ff7a d="M621.7,424.4l5.9-4.1l-5.2-1.6l-6,4.1z"/>
<path class=m d="M627.2,420.4l-4.9-1.2"/>
<path fill=#ffdc55 d="M924.5,332.4l5.3-4.5l-6-1.1l-5.3,4.4z"/>
<path fill=#57ff54 d="M679.1,408.8l5.8-4.2l-5.4-1.5l-5.8,4.2z"/>
<path class=m d="M684.5,404.7l-5-1.2"/>
<path fill=#a9ff54 d="M783.5,378.2l5.6-4.4l-5.6-1.3l-5.6,4.2z"/>
<path fill=#53ffa1 d="M564.2,439.4l6.1-4.1l-5.1-1.6l-6.1,4z"/>
<path class=m d="M559.5,437.6l5.6-3.5M569.9,435.4l-4.8-1.3"/>
<path fill=#ff6155 d="M1055.1,285.7l5-4.6l-6.4-1l-5,4.6z"/>
<path class=m d="M1049.1,284.5l4.8-3.9"/>
<path fill=#ffb155 d="M971.6,316.2l5.2-4.5l-6.2-1.1l-5.2,4.4z"/>
<path fill=#83ff54 d="M736.5,392.5l5.8-4.3l-5.6-1.4l-5.7,4.2z"/>
<path class=m d="M731.4,390.9l5.3-3.7M741.8,388.3l-5.1-1.1"/>
<path fill=#53ff73 d="M632.1,422.1l5.9-4.2l-5.3-1.5l-5.9,4.1z"/>
<path class=m d="M627.2,420.4l5.5-3.6"/>
<path fill=#ff8555 d="M1018.6,299.5l5.1-4.6l-6.3-1l-5.1,4.5z"/>
<path class=m d="M1012.7,298.3l4.8-3.9M1023.3,295.1l-5.8-.7"/>
<path fill=#53ff9b d="M574.6,437.2l6.1-4.1l-5.2-1.6l-6.1,4z"/>
<path fill=#d8ff55 d="M841,360.6l5.5-4.4l-5.8-1.3l-5.5,4.3z"/>
<path class=m d="M835.6,359.1l5.1-3.8"/>
<path fill=#fffd55 d="M888,345.2l5.4-4.4l-5.9-1.3l-5.4,4.4z"/>
<path fill=#5eff54 d="M689.5,406.4l5.8-4.3l-5.4-1.5l-5.8,4.2z"/>
<path fill=#b1ff55 d="M794,375.5l5.6-4.4l-5.7-1.4l-5.6,4.3z"/>
<path class=m d="M799.1,371.2l-5.2-1"/>
<path fill=#ffd455 d="M935,329.4l5.3-4.5l-6-1.2l-5.3,4.5z"/>
<path class=m d="M939.9,325l-5.6-.8"/>
<path fill=#52ffc1 d="M517.1,451.5l6.2-4l-5-1.6l-6.2,3.9z"/>
<path class=m d="M517.2,451.1l-4.7-1.4"/>
<path fill=#8bff54 d="M747,389.9l5.7-4.3l-5.6-1.4l-5.7,4.2z"/>
<path fill=#ffa855 d="M982.1,313.1l5.2-4.6l-6.2-1.1l-5.2,4.5z"/>
<path class=m d="M976.3,311.8l4.9-3.9"/>
<path fill=#ff5855 d="M1065.7,282.3l5-4.6l-6.4-.9l-5,4.5z"/>
<path fill=#54ff6c d="M642.5,419.7l5.9-4.2l-5.3-1.5l-6,4.1z"/>
<path fill=#53ff94 d="M585,434.9l6-4.1l-5.2-1.6l-6,4z"/>
<path fill=#66ff54 d="M699.9,403.9l5.8-4.3l-5.4-1.5l-5.8,4.2z"/>
<path class=m d="M694.9,402.2l5.3-3.7"/>
<path fill=#e0ff55 d="M851.5,357.8l5.5-4.5l-5.9-1.3l-5.5,4.4z"/>
<path class=m d="M856.5,353.4l-5.4-.9"/>
<path fill=#fff555 d="M898.5,342.3l5.4-4.5l-6-1.2l-5.4,4.4z"/>
<path fill=#ff7c56 d="M1029.2,296.3l5.1-4.6l-6.4-1l-5,4.5z"/>
<path fill=#53ffba d="M527.5,449.4l6.1-4l-5-1.7l-6.2,4z"/>
<path class=m d="M522.9,447.6l5.6-3.4"/>
<path fill=#b9ff55 d="M804.5,372.8l5.5-4.4l-5.7-1.4l-5.6,4.3z"/>
<path class=m d="M799.1,371.2l5.2-3.7"/>
<path fill=#ffcb55 d="M945.6,326.4l5.2-4.6l-6.1-1.1l-5.2,4.4z"/>
<path class=m d="M939.9,325l4.9-3.9"/>
<path fill=#93ff55 d="M757.4,387.3l5.7-4.4l-5.6-1.4l-5.7,4.3z"/>
<path fill=#54ff65 d="M652.9,417.4l5.9-4.3l-5.4-1.5l-5.9,4.1z"/>
<path class=m d="M658.3,413.2l-4.9-1.2"/>
<path fill=#53ff8d d="M595.4,432.7l6-4.2l-5.2-1.6l-6.1,4.1z"/>
<path class=m d="M590.6,430.9l5.5-3.5M601,428.6l-4.9-1.2"/>
<path fill=#ff9f56 d="M992.7,309.9l5.1-4.6l-6.2-1l-5.2,4.5z"/>
<path class=m d="M997.4,305.5l-5.7-.8"/>
<path fill=#ff5656 d="M1076.3,279l5-4.7l-6.4-.9l-5,4.6z"/>
<path class=m d="M1076.2,278.6l4.7-4.1M1080.9,274.5l-5.9-.6"/>
<path fill=#6eff54 d="M710.4,401.4l5.7-4.3l-5.5-1.5l-5.7,4.2z"/>
<path class=m d="M715.7,397.2l-5.1-1.2"/>
<path fill=#53ffb4 d="M537.8,447.3l6.2-4.1l-5.1-1.6l-6.1,4z"/>
<path class=m d="M543.6,443.3l-4.8-1.3"/>
<path fill=#e9ff55 d="M862,354.9l5.4-4.4l-5.9-1.3l-5.4,4.4z"/>
<path fill=#c1ff55 d="M814.9,370l5.6-4.4l-5.8-1.4l-5.5,4.4z"/>
<path fill=#ffec56 d="M909,339.4l5.4-4.6l-6-1.2l-5.4,4.4z"/>
<path class=m d="M903.5,337.9l4.9-3.8M914,335l-5.6-.9"/>
<path fill=#ff7356 d="M1039.8,293l5-4.6l-6.3-1l-5.1,4.5z"/>
<path fill=#9bff55 d="M767.9,384.7l5.6-4.4l-5.6-1.4l-5.7,4.3z"/>
<path class=m d="M762.7,383.1l5.2-3.8M773.1,380.4l-5.2-1.1"/>
<path fill=#ffc256 d="M956.1,323.3l5.3-4.6l-6.2-1.1l-5.2,4.5z"/>
<path fill=#54ff87 d="M605.8,430.4l6-4.2l-5.3-1.6l-6,4.1z"/>
<path fill=#54ff5e d="M663.3,415l5.9-4.3l-5.4-1.6l-5.9,4.2z"/>
<path class=m d="M658.3,413.2l5.4-3.6"/>
<path fill=#53ffae d="M548.2,445.2l6.2-4.2l-5.1-1.6l-6.2,4z"/>
<path fill=#76ff55 d="M720.8,398.8l5.8-4.3l-5.6-1.5l-5.7,4.3z"/>
<path fill=#ff9656 d="M1003.2,306.8l5.2-4.6l-6.3-1.1l-5.1,4.5z"/>
<path fill=#f1ff56 d="M872.5,352.1l5.4-4.5l-5.9-1.3l-5.4,4.4z"/>
<path class=m d="M867,350.6l5-3.9"/>
<path fill=#c9ff55 d="M825.4,367.3l5.5-4.5l-5.8-1.3l-5.5,4.3z"/>
<path class=m d="M830.5,362.9l-5.3-1"/>
<path fill=#ffe356 d="M919.6,336.4l5.3-4.6l-6-1.2l-5.4,4.5z"/>
<path fill=#54ff80 d="M616.2,428.1l6-4.2l-5.3-1.6l-6,4.1z"/>
<path fill=#a3ff55 d="M778.3,382l5.7-4.4l-5.7-1.4l-5.6,4.3z"/>
<path fill=#55ff57 d="M673.7,412.6l5.9-4.3l-5.4-1.6l-5.9,4.2z"/>
<path fill=#ff6956 d="M1050.4,289.7l5-4.6l-6.4-1l-5,4.6z"/>
<path class=m d="M1044.4,288.5l4.7-4M1055,285.2l-5.9-.7"/>
<path fill=#54ffa7 d="M558.6,443l6.1-4.2l-5.1-1.6l-6.1,4z"/>
<path class=m d="M553.9,441.1l5.6-3.5"/>
<path fill=#ffb956 d="M966.7,320.2l5.2-4.6l-6.2-1.1l-5.2,4.5z"/>
<path class=m d="M971.5,315.8l-5.7-.9"/>
<path fill=#7dff55 d="M731.2,396.3l5.8-4.4l-5.6-1.5l-5.7,4.3z"/>
<path class=m d="M726.1,394.6l5.3-3.7"/>
<path fill=#ff8d56 d="M1013.8,303.6l5.1-4.7l-6.2-1l-5.2,4.5z"/>
<path class=m d="M1008,302.3l4.7-4"/>
<path fill=#faff56 d="M883,349.2l5.4-4.5l-5.9-1.3l-5.5,4.4z"/>
<path class=m d="M888,344.8l-5.5-1"/>
<path fill=#d2ff56 d="M835.9,364.5l5.5-4.5l-5.8-1.3l-5.5,4.4z"/>
<path class=m d="M830.5,362.9l5.1-3.8"/>
<path fill=#54ff79 d="M626.6,425.8l5.9-4.2l-5.3-1.7l-5.9,4.2z"/>
<path class=m d="M621.7,424l5.5-3.6M632.1,421.7l-4.9-1.3"/>
<path fill=#ffdb56 d="M930.1,333.4l5.3-4.6l-6.1-1.2l-5.3,4.5z"/>
<path fill=#54ffa1 d="M569,440.8l6.1-4.2l-5.2-1.7l-6.1,4.1z"/>
<path class=m d="M574.7,436.7l-4.8-1.3"/>
<path fill=#59ff55 d="M684.1,410.1l5.9-4.3l-5.5-1.6l-5.8,4.3z"/>
<path class=m d="M689.5,405.9l-5-1.2"/>
<path fill=#abff56 d="M788.8,379.4l5.6-4.5l-5.7-1.4l-5.6,4.3z"/>
<path fill=#ff6056 d="M1061,286.4l5-4.6l-6.4-1l-5,4.6z"/>
<path fill=#ffb056 d="M977.2,317.1l5.3-4.6l-6.2-1.2l-5.3,4.6z"/>
<path class=m d="M971.5,315.8l4.8-4"/>
<path fill=#85ff55 d="M741.7,393.7l5.7-4.3l-5.6-1.6l-5.7,4.4z"/>
<path class=m d="M747,389.5l-5.2-1.2"/>
<path fill=#55ff73 d="M637,423.5l5.9-4.3l-5.3-1.6l-5.9,4.2z"/>
<path fill=#54ff9a d="M579.4,438.6l6.1-4.2l-5.2-1.7l-6.1,4.1z"/>
<path fill=#ff8456 d="M1024.4,300.4l5.1-4.7l-6.3-1.1l-5.1,4.6z"/>
<path class=m d="M1029.1,295.8l-5.8-.7"/>
<path fill=#daff56 d="M846.4,361.7l5.5-4.5l-5.9-1.4l-5.5,4.5z"/>
<path fill=#fffc56 d="M893.5,346.3l5.4-4.6l-6-1.3l-5.4,4.5z"/>
<path fill=#61ff55 d="M694.6,407.7l5.8-4.4l-5.5-1.6l-5.8,4.3z"/>
<path class=m d="M689.5,405.9l5.4-3.7"/>
<path fill=#b3ff56 d="M799.3,376.7l5.6-4.5l-5.8-1.4l-5.6,4.4z"/>
<path class=m d="M794,375l5.1-3.8M804.4,372.3l-5.3-1.1"/>
<path fill=#ffd256 d="M940.7,330.4l5.2-4.6l-6.1-1.2l-5.2,4.5z"/>
<path class=m d="M935,328.9l4.9-3.9M945.5,325.9l-5.6-.9"/>
<path fill=#54ffc0 d="M521.8,453l6.2-4.1l-5.1-1.7l-6.2,4z"/>
<path class=m d="M521.9,452.6l-4.7-1.5M517.2,451.1l5.7-3.5"/>
<path fill=#8dff56 d="M752.2,391.2l5.7-4.5l-5.7-1.5l-5.7,4.4z"/>
<path fill=#ffa757 d="M987.8,314l5.2-4.6l-6.2-1.2l-5.2,4.6z"/>
<path fill=#ff5757 d="M1071.6,283.1l5-4.7l-6.4-1l-5,4.6z"/>
<path class=m d="M1071.5,282.7l4.7-4.1"/>
<path fill=#55ff6c d="M647.4,421.1l5.9-4.3l-5.3-1.6l-5.9,4.2z"/>
<path fill=#54ff94 d="M589.8,436.4l6.1-4.3l-5.2-1.7l-6.1,4.2z"/>
<path class=m d="M585,434.5l5.6-3.6"/>
<path fill=#69ff55 d="M705,405.2l5.8-4.4l-5.5-1.6l-5.8,4.3z"/>
<path fill=#e2ff56 d="M856.9,358.9l5.5-4.5l-5.9-1.4l-5.5,4.4z"/>
<path class=m d="M861.9,354.5l-5.4-1.1"/>
<path fill=#54ffba d="M532.2,450.9l6.2-4.1l-5.1-1.8l-6.2,4.1z"/>
<path fill=#fff356 d="M904.1,343.4l5.3-4.6l-6-1.3l-5.4,4.5z"/>
<path class=m d="M898.5,341.9l5-4"/>
<path fill=#ff7b57 d="M1035,297.1l5.1-4.7l-6.3-1l-5.1,4.6z"/>
<path fill=#bbff56 d="M809.8,374l5.5-4.5l-5.7-1.5l-5.6,4.4z"/>
<path fill=#ffc957 d="M951.2,327.4l5.3-4.7l-6.1-1.2l-5.3,4.5z"/>
<path fill=#95ff56 d="M762.6,388.6l5.7-4.5l-5.6-1.5l-5.7,4.4z"/>
<path class=m d="M757.4,386.9l5.3-3.8"/>
<path fill=#55ff8d d="M600.2,434.1l6.1-4.2l-5.3-1.7l-6,4.1z"/>
<path class=m d="M605.8,430l-4.8-1.4"/>
<path fill=#55ff65 d="M657.9,418.7l5.9-4.3l-5.4-1.6l-5.9,4.2z"/>
<path class=m d="M652.9,416.9l5.4-3.7M663.3,414.5l-5-1.3"/>
<path fill=#ff9e57 d="M998.4,310.9l5.2-4.7l-6.3-1.2l-5.2,4.6z"/>
<path class=m d="M1003.1,306.3l-5.7-.8"/>
<path fill=#54ffb3 d="M542.6,448.8l6.1-4.2l-5.1-1.7l-6.1,4.1z"/>
<path class=m d="M548.3,444.7l-4.7-1.4"/>
<path fill=#70ff56 d="M715.5,402.7l5.8-4.4l-5.6-1.6l-5.8,4.3z"/>
<path class=m d="M720.8,398.4l-5.1-1.2"/>
<path fill=#ebff57 d="M867.4,356.1l5.5-4.6l-5.9-1.4l-5.5,4.5z"/>
<path class=m d="M861.9,354.5l5.1-3.9"/>
<path fill=#c3ff56 d="M820.3,371.2l5.5-4.5l-5.8-1.4l-5.5,4.4z"/>
<path fill=#ffeb57 d="M914.6,340.4l5.3-4.6l-6-1.3l-5.3,4.5z"/>
<path class=m d="M919.5,335.9l-5.5-.9"/>
<path fill=#ff7257 d="M1045.6,293.9l5.1-4.7l-6.4-1.1l-5.1,4.6z"/>
<path class=m d="M1039.7,292.6l4.7-4.1"/>
<path fill=#9dff56 d="M773.1,385.9l5.7-4.4l-5.7-1.5l-5.7,4.3z"/>
<path class=m d="M778.3,381.6l-5.2-1.2"/>
<path fill=#ffc057 d="M961.8,324.3l5.2-4.7l-6.1-1.2l-5.3,4.6z"/>
<path fill=#55ff86 d="M610.6,431.8l6.1-4.2l-5.3-1.7l-6,4.2z"/>
<path fill=#55ff5e d="M668.3,416.3l5.9-4.3l-5.4-1.6l-5.9,4.2z"/>
<path fill=#54ffad d="M553,446.6l6.1-4.2l-5.1-1.7l-6.1,4.1z"/>
<path class=m d="M548.3,444.7l5.6-3.6"/>
<path fill=#78ff56 d="M725.9,400.2l5.8-4.5l-5.6-1.5l-5.7,4.3z"/>
<path class=m d="M720.8,398.4l5.3-3.8"/>
<path fill=#ff9557 d="M1009,307.7l5.1-4.7l-6.2-1.2l-5.2,4.6z"/>
<path class=m d="M1003.1,306.3l4.9-4"/>
<path fill=#f3ff57 d="M878,353.2l5.4-4.6l-6-1.4l-5.4,4.5z"/>
<path fill=#cbff57 d="M830.8,368.5l5.5-4.6l-5.8-1.4l-5.5,4.5z"/>
<path class=m d="M825.4,366.8l5.1-3.9M835.9,364.1l-5.4-1.2"/>
<path fill=#ffe257 d="M925.1,337.5l5.4-4.7l-6.1-1.3l-5.3,4.6z"/>
<path fill=#55ff80 d="M621.1,429.5l6-4.3l-5.3-1.7l-6,4.3z"/>
<path class=m d="M616.2,427.7l5.5-3.7"/>
<path fill=#a5ff56 d="M783.6,383.3l5.6-4.5l-5.7-1.5l-5.6,4.4z"/>
<path fill=#56ff57 d="M678.7,413.9l5.9-4.3l-5.4-1.7l-5.9,4.3z"/>
<path fill=#55ffa7 d="M563.4,444.5l6.1-4.2l-5.1-1.8l-6.2,4.1z"/>
<path fill=#ff6857 d="M1056.2,290.6l5.1-4.7l-6.4-1.1l-5.1,4.6z"/>
<path class=m d="M1060.9,286l-5.9-.8"/>
<path fill=#ffb857 d="M972.4,321.2l5.2-4.6l-6.2-1.3l-5.2,4.6z"/>
<path class=m d="M966.6,319.8l4.9-4M977.2,316.7l-5.7-.9"/>
<path fill=#80ff56 d="M736.4,397.6l5.7-4.4l-5.5-1.6l-5.8,4.4z"/>
<path fill=#ff8c57 d="M1019.6,304.5l5.1-4.7l-6.3-1.2l-5.1,4.7z"/>
<path fill=#56ff79 d="M631.5,427.2l6-4.3l-5.3-1.7l-6,4.2z"/>
<path class=m d="M637,423l-4.9-1.3"/>
<path fill=#fbff57 d="M888.5,350.3l5.4-4.6l-6-1.4l-5.4,4.6z"/>
<path class=m d="M893.5,345.8l-5.5-1"/>
<path fill=#d3ff57 d="M841.3,365.7l5.5-4.5l-5.8-1.5l-5.6,4.5z"/>
<path fill=#55ffa0 d="M573.8,442.3l6.1-4.3l-5.2-1.7l-6.1,4.1z"/>
<path class=m d="M579.5,438.1l-4.8-1.4"/>
<path fill=#5cff56 d="M689.2,411.5l5.8-4.4l-5.4-1.6l-5.9,4.3z"/>
<path class=m d="M684.2,409.7l5.3-3.8M694.6,407.2l-5.1-1.3"/>
<path fill=#ffd957 d="M935.7,334.5l5.3-4.7l-6.1-1.3l-5.3,4.6z"/>
<path class=m d="M930,333l5-4.1"/>
<path fill=#adff57 d="M794.1,380.6l5.6-4.5l-5.7-1.5l-5.6,4.4z"/>
<path class=m d="M788.8,378.9l5.2-3.9"/>
<path fill=#ffaf57 d="M982.9,318.1l5.3-4.7l-6.3-1.2l-5.2,4.6z"/>
<path fill=#87ff57 d="M746.9,395.1l5.7-4.5l-5.6-1.6l-5.7,4.4z"/>
<path class=m d="M752.2,390.7l-5.2-1.2"/>
<path fill=#ff5f57 d="M1066.9,287.3l5-4.8l-6.4-1l-5.1,4.6z"/>
<path class=m d="M1066.8,286.9l4.7-4.2"/>
<path fill=#56ff72 d="M642,424.9l5.9-4.3l-5.4-1.8l-5.9,4.3z"/>
<path fill=#55ff9a d="M584.2,440.1l6.1-4.3l-5.2-1.8l-6.1,4.2z"/>
<path class=m d="M579.5,438.1l5.5-3.6"/>
<path fill=#dcff57 d="M851.8,362.9l5.5-4.6l-5.9-1.4l-5.5,4.5z"/>
<path fill=#ff8358 d="M1030.2,301.3l5.1-4.7l-6.3-1.2l-5.1,4.7z"/>
<path class=m d="M1034.9,296.7l-5.8-.9"/>
<path fill=#63ff56 d="M699.7,409.1l5.8-4.5l-5.5-1.6l-5.8,4.3z"/>
<path fill=#fffa57 d="M899,347.4l5.4-4.6l-6-1.4l-5.4,4.6z"/>
<path class=m d="M893.5,345.8l5-3.9"/>
<path fill=#b5ff57 d="M804.6,377.9l5.6-4.5l-5.8-1.5l-5.6,4.4z"/>
<path class=m d="M809.8,373.5l-5.4-1.2"/>
<path fill=#55ffbf d="M526.5,454.6l6.2-4.2l-5.1-1.8l-6.2,4.1z"/>
<path class=m d="M526.6,454.1l-4.7-1.5"/>
<path fill=#ffd158 d="M946.3,331.5l5.3-4.7l-6.1-1.3l-5.3,4.6z"/>
<path class=m d="M951.1,326.9l-5.6-1"/>
<path fill=#8fff57 d="M757.4,392.5l5.7-4.5l-5.7-1.6l-5.7,4.4z"/>
<path class=m d="M752.2,390.7l5.2-3.8"/>
<path fill=#ffa658 d="M993.5,315l5.2-4.7l-6.2-1.3l-5.2,4.7z"/>
<path fill=#56ff6c d="M652.4,422.6l5.9-4.4l-5.4-1.7l-5.9,4.3z"/>
<path class=m d="M647.5,420.7l5.4-3.8"/>
<path fill=#56ff93 d="M594.7,437.9l6-4.3l-5.2-1.8l-6.1,4.2z"/>
<path fill=#6bff57 d="M710.1,406.6l5.8-4.5l-5.5-1.6l-5.8,4.3z"/>
<path fill=#55ffb9 d="M536.9,452.5l6.2-4.3l-5.1-1.8l-6.2,4.2z"/>
<path fill=#e4ff57 d="M862.4,360.1l5.4-4.6l-5.9-1.5l-5.5,4.6z"/>
<path class=m d="M856.9,358.5l5-4M867.4,355.6l-5.5-1.1"/>
<path fill=#fff258 d="M909.6,344.5l5.4-4.6l-6.1-1.4l-5.3,4.5z"/>
<path fill=#bdff57 d="M815.1,375.2l5.6-4.5l-5.8-1.6l-5.6,4.5z"/>
<path fill=#ff7a58 d="M1040.8,298.1l5.1-4.8l-6.3-1.2l-5.1,4.7z"/>
<path class=m d="M1034.9,296.7l4.8-4.1"/>
<path fill=#ffc858 d="M956.9,328.4l5.2-4.7l-6.1-1.3l-5.3,4.6z"/>
<path fill=#97ff57 d="M767.9,389.9l5.6-4.5l-5.6-1.6l-5.7,4.4z"/>
<path fill=#56ff8d d="M605.1,435.6l6-4.3l-5.2-1.8l-6.1,4.3z"/>
<path class=m d="M610.7,431.4l-4.9-1.4"/>
<path fill=#56ff65 d="M662.9,420.2l5.9-4.4l-5.4-1.7l-5.9,4.3z"/>
<path class=m d="M668.3,415.9l-5-1.4"/>
<path fill=#ff9d58 d="M1004.2,311.9l5.1-4.8l-6.2-1.2l-5.2,4.6z"/>
<path class=m d="M998.3,310.4l4.8-4.1M1008.9,307.3l-5.8-1"/>
<path fill=#55ffb3 d="M547.3,450.3l6.2-4.2l-5.1-1.8l-6.2,4.1z"/>
<path class=m d="M542.6,448.3l5.7-3.6M553.1,446.2l-4.8-1.5"/>
<path fill=#72ff57 d="M720.6,404.1l5.8-4.5l-5.6-1.7l-5.7,4.4z"/>
<path class=m d="M715.5,402.2l5.3-3.8M726,399.7l-5.2-1.3"/>
<path fill=#ecff58 d="M872.9,357.3l5.5-4.7l-6-1.4l-5.4,4.5z"/>
<path fill=#c5ff58 d="M825.6,372.5l5.6-4.6l-5.8-1.5l-5.6,4.5z"/>
<path class=m d="M820.3,370.8l5.1-4"/>
<path fill=#ffe958 d="M920.2,341.6l5.3-4.7l-6-1.4l-5.4,4.6z"/>
<path class=m d="M925.1,337l-5.6-1.1"/>
<path fill=#ff7158 d="M1051.5,294.8l5.1-4.8l-6.4-1.1l-5.1,4.7z"/>
<path fill=#9fff57 d="M778.4,387.3l5.6-4.6l-5.7-1.6l-5.6,4.5z"/>
<path class=m d="M783.6,382.8l-5.3-1.2"/>
<path fill=#56ff86 d="M615.6,433.4l6-4.4l-5.3-1.8l-6,4.3z"/>
<path class=m d="M610.7,431.4l5.5-3.7"/>
<path fill=#ffbf58 d="M967.5,325.4l5.2-4.7l-6.2-1.4l-5.2,4.7z"/>
<path class=m d="M961.7,323.9l4.9-4.1"/>
<path fill=#57ff5e d="M673.3,417.8l5.9-4.4l-5.4-1.7l-5.9,4.3z"/>
<path fill=#56ffad d="M557.8,448.2l6.1-4.3l-5.2-1.8l-6.1,4.2z"/>
<path fill=#7aff57 d="M731.1,401.6l5.8-4.5l-5.6-1.7l-5.8,4.4z"/>
<path fill=#ff9458 d="M1014.8,308.7l5.1-4.8l-6.3-1.2l-5.1,4.7z"/>
<path fill=#f4ff58 d="M883.5,354.4l5.4-4.6l-6-1.5l-5.4,4.6z"/>
<path fill=#cdff58 d="M836.2,369.8l5.5-4.6l-5.8-1.6l-5.6,4.6z"/>
<path class=m d="M841.3,365.3l-5.4-1.2"/>
<path fill=#56ff80 d="M626,431.1l6-4.4l-5.3-1.8l-6,4.3z"/>
<path fill=#ffe158 d="M930.7,338.6l5.4-4.7l-6.1-1.4l-5.3,4.6z"/>
<path class=m d="M925.1,337l4.9-4"/>
<path fill=#a7ff58 d="M788.9,384.6l5.6-4.5l-5.7-1.6l-5.6,4.5z"/>
<path class=m d="M783.6,382.8l5.2-3.9"/>
<path fill=#57ff57 d="M683.8,415.4l5.9-4.5l-5.5-1.7l-5.9,4.4z"/>
<path class=m d="M678.8,413.5l5.4-3.8"/>
<path fill=#56ffa6 d="M568.2,446l6.1-4.3l-5.2-1.8l-6.1,4.2z"/>
<path fill=#ff6858 d="M1062.1,291.6l5.1-4.9l-6.4-1.1l-5.1,4.7z"/>
<path class=m d="M1062,291.1l4.8-4.2M1066.8,286.9l-5.9-.9"/>
<path fill=#ffb758 d="M978.1,322.3l5.2-4.7l-6.2-1.4l-5.2,4.7z"/>
<path class=m d="M982.9,317.7l-5.7-1"/>
<path fill=#82ff57 d="M741.6,399l5.7-4.5l-5.6-1.7l-5.7,4.5z"/>
<path fill=#ff8b58 d="M1025.4,305.5l5.2-4.8l-6.4-1.2l-5.1,4.7z"/>
<path fill=#57ff79 d="M636.5,428.8l5.9-4.4l-5.3-1.8l-6,4.3z"/>
<path class=m d="M642,424.5l-5-1.5"/>
<path fill=#d5ff58 d="M846.7,367l5.5-4.6l-5.9-1.6l-5.5,4.6z"/>
<path fill=#fdff58 d="M894,351.6l5.4-4.7l-6-1.5l-5.4,4.6z"/>
<path class=m d="M888.5,349.9l5-4.1M899,347l-5.5-1.2"/>
<path fill=#56ffa0 d="M578.6,443.9l6.1-4.4l-5.2-1.8l-6.1,4.2z"/>
<path class=m d="M573.9,441.8l5.6-3.7M584.3,439.6l-4.8-1.5"/>
<path fill=#5eff57 d="M694.3,413l5.8-4.5l-5.5-1.7l-5.8,4.4z"/>
<path class=m d="M699.7,408.6l-5.1-1.4"/>
<path fill=#afff58 d="M799.4,382l5.6-4.6l-5.7-1.6l-5.6,4.5z"/>
<path fill=#ffd858 d="M941.3,335.6l5.4-4.7l-6.2-1.4l-5.3,4.6z"/>
<path fill=#89ff58 d="M752.1,396.5l5.7-4.6l-5.6-1.6l-5.7,4.4z"/>
<path class=m d="M746.9,394.6l5.3-3.9M757.4,392l-5.2-1.3"/>
<path fill=#ffae59 d="M988.7,319.2l5.2-4.8l-6.2-1.3l-5.3,4.7z"/>
<path fill=#57ff72 d="M646.9,426.4l6-4.4l-5.4-1.8l-5.9,4.4z"/>
<path class=m d="M642,424.5l5.5-3.8"/>
<path fill=#57ff9a d="M589.1,441.7l6.1-4.4l-5.3-1.8l-6,4.2z"/>
<path fill=#65ff57 d="M704.8,410.5l5.8-4.5l-5.5-1.7l-5.9,4.4z"/>
<path fill=#ddff58 d="M857.3,364.2l5.5-4.6l-6-1.6l-5.4,4.6z"/>
<path class=m d="M851.8,362.5l5.1-4"/>
<path fill=#fff958 d="M904.6,348.7l5.4-4.8l-6-1.4l-5.4,4.6z"/>
<path fill=#ff8259 d="M1036,302.3l5.2-4.8l-6.4-1.2l-5.1,4.7z"/>
<path class=m d="M1030.1,300.9l4.8-4.2M1040.7,297.6l-5.8-.9"/>
<path fill=#b6ff58 d="M809.9,379.3l5.6-4.6l-5.8-1.6l-5.5,4.5z"/>
<path class=m d="M815.1,374.8l-5.3-1.3"/>
<path fill=#56ffbf d="M531.2,456.2l6.2-4.3l-5.1-1.9l-6.2,4.2z"/>
<path class=m d="M531.3,455.8l-4.7-1.7"/>
<path fill=#ffd059 d="M951.9,332.6l5.3-4.7l-6.1-1.4l-5.3,4.6z"/>
<path class=m d="M956.8,328l-5.7-1.1"/>
<path fill=#91ff58 d="M762.6,393.9l5.7-4.6l-5.7-1.6l-5.7,4.5z"/>
<path fill=#ffa559 d="M999.3,316.1l5.2-4.8l-6.3-1.3l-5.2,4.7z"/>
<path class=m d="M993.5,314.6l4.8-4.2"/>
<path fill=#57ff6c d="M657.4,424.1l5.9-4.5l-5.4-1.8l-5.9,4.4z"/>
<path fill=#57ff93 d="M599.6,439.5l6-4.4l-5.3-1.9l-6,4.3z"/>
<path fill=#6dff58 d="M715.3,408.1l5.8-4.6l-5.6-1.7l-5.8,4.4z"/>
<path class=m d="M710.2,406.1l5.3-3.9"/>
<path fill=#56ffb9 d="M541.7,454.1l6.1-4.3l-5.1-1.9l-6.2,4.2z"/>
<path class=m d="M537,452l5.6-3.7"/>
<path fill=#e5ff59 d="M867.8,361.4l5.5-4.7l-5.9-1.5l-5.5,4.6z"/>
<path class=m d="M872.9,356.8l-5.5-1.2"/>
<path fill=#fff159 d="M915.2,345.7l5.3-4.7l-6-1.5l-5.4,4.7z"/>
<path fill=#beff58 d="M820.5,376.6l5.6-4.6l-5.9-1.7l-5.5,4.6z"/>
<path class=m d="M815.1,374.8l5.2-4"/>
<path fill=#ff7959 d="M1046.7,299.1l5.1-4.8l-6.4-1.3l-5.1,4.8z"/>
<path fill=#ffc759 d="M962.5,329.6l5.3-4.8l-6.2-1.4l-5.2,4.7z"/>
<path class=m d="M956.8,328l4.9-4.1"/>
<path fill=#99ff58 d="M773.1,391.3l5.7-4.6l-5.7-1.7l-5.7,4.6z"/>
<path fill=#57ff8d d="M610,437.2l6-4.4l-5.2-1.9l-6.1,4.4z"/>
<path class=m d="M605.2,435.2l5.5-3.8M615.6,432.9l-4.9-1.5"/>
<path fill=#58ff65 d="M667.9,421.7l5.9-4.4l-5.4-1.9l-5.9,4.4z"/>
<path class=m d="M673.4,417.4l-5.1-1.5"/>
<path fill=#57ffb3 d="M552.1,452l6.2-4.3l-5.2-2l-6.1,4.3z"/>
<path class=m d="M557.8,447.8l-4.7-1.6"/>
<path fill=#ff9c59 d="M1009.9,313l5.2-4.9l-6.3-1.3l-5.2,4.8z"/>
<path class=m d="M1014.7,308.3l-5.8-1"/>
<path fill=#74ff58 d="M725.8,405.6l5.7-4.6l-5.5-1.7l-5.8,4.4z"/>
<path class=m d="M731.1,401.1l-5.1-1.4"/>
<path fill=#edff59 d="M878.4,358.6l5.4-4.7l-5.9-1.6l-5.5,4.7z"/>
<path fill=#c6ff59 d="M831,373.9l5.6-4.7l-5.9-1.6l-5.5,4.6z"/>
<path fill=#ffe859 d="M925.8,342.8l5.3-4.8l-6.1-1.4l-5.3,4.6z"/>
<path class=m d="M920.1,341.1l5-4.1M930.7,338.2l-5.6-1.2"/>
<path fill=#a0ff58 d="M783.7,388.7l5.6-4.6l-5.7-1.7l-5.7,4.5z"/>
<path class=m d="M778.4,386.8l5.2-4M788.9,384.2l-5.3-1.4"/>
<path fill=#57ff86 d="M620.5,435l6-4.5l-5.3-1.8l-6,4.3z"/>
<path fill=#ff7059 d="M1057.4,295.9l5.1-4.9l-6.5-1.3l-5,4.8z"/>
<path class=m d="M1057.3,295.4l4.7-4.3"/>
<path fill=#58ff5e d="M678.4,419.4l5.9-4.5l-5.5-1.9l-5.9,4.5z"/>
<path class=m d="M673.4,417.4l5.4-3.9"/>
<path fill=#ffbe59 d="M973.2,326.6l5.2-4.9l-6.2-1.4l-5.2,4.8z"/>
<path fill=#57ffac d="M562.6,449.9l6.1-4.4l-5.2-1.9l-6.1,4.3z"/>
<path fill=#7cff58 d="M736.3,403.1l5.7-4.6l-5.6-1.8l-5.7,4.5z"/>
<path fill=#ff9459 d="M1020.6,309.8l5.1-4.8l-6.3-1.4l-5.1,4.8z"/>
<path fill=#f6ff59 d="M889,355.7l5.4-4.7l-6-1.6l-5.4,4.7z"/>
<path class=m d="M883.4,354l5.1-4.1"/>
<path fill=#ceff59 d="M841.6,371.1l5.5-4.7l-5.9-1.6l-5.5,4.6z"/>
<path class=m d="M846.7,366.6l-5.4-1.3"/>
<path fill=#58ff80 d="M631,432.7l6-4.5l-5.4-1.9l-6,4.4z"/>
<path fill=#ffe059 d="M936.4,339.9l5.3-4.8l-6.1-1.5l-5.3,4.7z"/>
<path fill=#a8ff59 d="M794.2,386.1l5.6-4.7l-5.7-1.7l-5.7,4.6z"/>
<path fill=#59ff58 d="M688.9,417l5.8-4.6l-5.4-1.8l-5.9,4.5z"/>
<path fill=#57ffa6 d="M573,447.7l6.1-4.4l-5.2-1.9l-6.1,4.3z"/>
<path class=m d="M568.3,445.6l5.6-3.8"/>
<path fill=#ffb659 d="M983.8,323.5l5.2-4.8l-6.2-1.5l-5.2,4.8z"/>
<path class=m d="M988.6,318.8l-5.7-1.1"/>
<path fill=#83ff59 d="M746.8,400.5l5.7-4.6l-5.6-1.7l-5.7,4.5z"/>
<path class=m d="M741.6,398.6l5.3-4"/>
<path fill=#58ff79 d="M641.5,430.4l5.9-4.5l-5.4-1.9l-5.9,4.4z"/>
<path class=m d="M636.5,428.3l5.5-3.8M647,426l-5-1.5"/>
<path fill=#ff8b5a d="M1031.2,306.6l5.2-4.8l-6.4-1.4l-5.1,4.8z"/>
<path class=m d="M1025.3,305.1l4.8-4.2"/>
<path fill=#d6ff59 d="M852.2,368.4l5.5-4.7l-5.9-1.7l-5.6,4.7z"/>
<path class=m d="M846.7,366.6l5.1-4.1"/>
<path fill=#feff59 d="M899.6,352.9l5.4-4.8l-6-1.6l-5.5,4.7z"/>
<path class=m d="M904.5,348.2l-5.5-1.2"/>
<path fill=#57ffa0 d="M583.5,445.5l6.1-4.4l-5.2-1.9l-6.1,4.3z"/>
<path class=m d="M589.2,441.2l-4.9-1.6"/>
<path fill=#60ff58 d="M699.4,414.5l5.8-4.5l-5.5-1.8l-5.8,4.4z"/>
<path class=m d="M704.8,410.1l-5.1-1.5"/>
<path fill=#b0ff59 d="M804.7,383.4l5.7-4.7l-5.8-1.7l-5.6,4.6z"/>
<path fill=#ffd75a d="M947,336.9l5.3-4.8l-6.1-1.5l-5.4,4.7z"/>
<path fill=#8bff59 d="M757.3,398l5.8-4.6l-5.7-1.8l-5.7,4.5z"/>
<path class=m d="M762.6,393.5l-5.2-1.5"/>
<path fill=#ffad5a d="M994.4,320.4l5.3-4.9l-6.3-1.4l-5.2,4.8z"/>
<path class=m d="M988.6,318.8l4.9-4.2"/>
<path fill=#58ff73 d="M651.9,428.1l6-4.5l-5.4-1.9l-6,4.4z"/>
<path fill=#58ff9a d="M594,443.3l6-4.4l-5.2-1.9l-6.1,4.3z"/>
<path fill=#67ff59 d="M709.9,412.1l5.8-4.6l-5.5-1.8l-5.8,4.5z"/>
<path class=m d="M704.8,410.1l5.4-4"/>
<path fill=#deff59 d="M862.7,365.6l5.5-4.7l-5.9-1.7l-5.5,4.7z"/>
<path fill=#fff85a d="M910.2,350l5.4-4.8l-6.1-1.6l-5.4,4.7z"/>
<path fill=#ff825a d="M1041.9,303.4l5.1-4.9l-6.3-1.3l-5.2,4.8z"/>
<path class=m d="M1046.6,298.7l-5.9-1.1"/>
<path fill=#b8ff59 d="M815.3,380.8l5.6-4.8l-5.8-1.7l-5.6,4.7z"/>
<path class=m d="M809.9,378.9l5.2-4.1M820.5,376.2l-5.4-1.4"/>
<path fill=#57ffbf d="M536,457.9l6.2-4.3l-5.1-2l-6.2,4.3z"/>
<path class=m d="M536.1,457.5l-4.8-1.7M531.3,455.8l5.7-3.8"/>
<path fill=#ffcf5a d="M957.6,333.9l5.3-4.9l-6.2-1.5l-5.3,4.8z"/>
<path class=m d="M951.9,332.2l4.9-4.2M962.5,329.2l-5.7-1.2"/>
<path fill=#93ff59 d="M767.9,395.4l5.7-4.6l-5.7-1.8l-5.7,4.6z"/>
<path fill=#58ff6c d="M662.4,425.7l6-4.5l-5.5-1.9l-5.9,4.5z"/>
<path fill=#58ff93 d="M604.5,441.1l6-4.4l-5.3-2l-6,4.4z"/>
<path class=m d="M599.6,439l5.6-3.8"/>
<path fill=#ffa55a d="M1005.1,317.3l5.2-4.9l-6.3-1.4l-5.2,4.8z"/>
<path fill=#6fff59 d="M720.4,409.6l5.8-4.6l-5.6-1.8l-5.8,4.5z"/>
<path fill=#58ffb9 d="M546.5,455.8l6.1-4.3l-5.1-2l-6.2,4.3z"/>
<path fill=#e6ff5a d="M873.3,362.8l5.5-4.8l-6-1.6l-5.4,4.7z"/>
<path class=m d="M878.4,358.1l-5.5-1.3"/>
<path fill=#c0ff5a d="M825.9,378.1l5.5-4.8l-5.8-1.7l-5.6,4.7z"/>
<path fill=#fff05a d="M920.8,347.1l5.3-4.9l-6-1.5l-5.4,4.7z"/>
<path class=m d="M915.1,345.3l5-4.2"/>
<path fill=#ff795a d="M1052.6,300.2l5.1-4.9l-6.4-1.4l-5.1,4.9z"/>
<path class=m d="M1052.5,299.8l4.8-4.4"/>
<path fill=#9aff59 d="M778.4,392.8l5.7-4.6l-5.7-1.8l-5.7,4.6z"/>
<path class=m d="M773.1,390.9l5.3-4.1"/>
<path fill=#ffc65a d="M968.2,330.9l5.3-4.9l-6.2-1.5l-5.3,4.8z"/>
<path fill=#58ff8d d="M615,438.9l6-4.5l-5.3-1.9l-6.1,4.4z"/>
<path class=m d="M620.5,434.5l-4.9-1.6"/>
<path fill=#59ff66 d="M673,423.4l5.9-4.6l-5.5-1.9l-5.9,4.5z"/>
<path class=m d="M667.9,421.3l5.5-3.9M678.4,418.9l-5-1.5"/>
<path fill=#58ffb3 d="M556.9,453.7l6.2-4.4l-5.2-2l-6.2,4.3z"/>
<path class=m d="M562.6,449.4l-4.8-1.6"/>
<path fill=#76ff59 d="M731,407.2l5.7-4.7l-5.6-1.8l-5.8,4.5z"/>
<path class=m d="M736.3,402.6l-5.2-1.5"/>
<path fill=#ff9c5a d="M1015.7,314.2l5.2-5l-6.3-1.4l-5.2,4.9z"/>
<path class=m d="M1020.5,309.4l-5.8-1.1"/>
<path fill=#eeff5a d="M883.9,360l5.5-4.8l-6-1.7l-5.5,4.8z"/>
<path class=m d="M878.4,358.1l5-4.1"/>
<path fill=#c8ff5a d="M836.4,375.3l5.6-4.7l-5.9-1.7l-5.5,4.6z"/>
<path fill=#ffe75a d="M931.4,344.1l5.3-4.8l-6.1-1.6l-5.3,4.8z"/>
<path class=m d="M936.3,339.4l-5.6-1.2"/>
<path fill=#59ff87 d="M625.4,436.6l6.1-4.5l-5.4-1.9l-6,4.4z"/>
<path fill=#a2ff5a d="M789,390.2l5.6-4.7l-5.7-1.8l-5.7,4.7z"/>
<path class=m d="M794.2,385.6l-5.3-1.4"/>
<path fill=#59ff5f d="M683.5,421l5.8-4.6l-5.4-1.9l-5.9,4.5z"/>
<path fill=#58ffac d="M567.4,451.6l6.1-4.4l-5.2-2l-6.1,4.3z"/>
<path class=m d="M562.6,449.4l5.7-3.8"/>
<path fill=#ffbe5a d="M978.9,327.8l5.2-4.9l-6.2-1.5l-5.2,4.8z"/>
<path fill=#7dff59 d="M741.5,404.6l5.7-4.6l-5.6-1.9l-5.7,4.6z"/>
<path class=m d="M736.3,402.6l5.3-4"/>
<path fill=#ff935a d="M1026.4,311l5.2-4.9l-6.4-1.5l-5.1,4.9z"/>
<path class=m d="M1020.5,309.4l4.8-4.3"/>
<path fill=#f7ff5a d="M894.5,357.1l5.5-4.8l-6.1-1.6l-5.4,4.7z"/>
<path fill=#cfff5a d="M847,372.6l5.6-4.8l-5.9-1.7l-5.6,4.7z"/>
<path class=m d="M841.6,370.7l5.1-4.1M852.1,367.9l-5.4-1.3"/>
<path fill=#59ff80 d="M635.9,434.4l6-4.6l-5.3-1.9l-6,4.4z"/>
<path class=m d="M631,432.2l5.5-3.9"/>
<path fill=#5aff59 d="M694,418.6l5.9-4.6l-5.6-1.9l-5.8,4.5z"/>
<path fill=#ffdf5a d="M942,341.2l5.4-4.9l-6.2-1.6l-5.3,4.8z"/>
<path fill=#aaff5a d="M799.5,387.6l5.7-4.7l-5.8-1.8l-5.6,4.6z"/>
<path fill=#58ffa6 d="M577.9,449.5l6.1-4.5l-5.2-2l-6.1,4.4z"/>
<path fill=#ffb55b d="M989.5,324.8l5.3-5l-6.3-1.5l-5.2,4.9z"/>
<path class=m d="M983.7,323l4.9-4.2M994.4,320l-5.8-1.2"/>
<path fill=#85ff5a d="M752,402.1l5.8-4.7l-5.7-1.8l-5.7,4.6z"/>
<path fill=#59ff7a d="M646.5,432.1l5.9-4.6l-5.4-2l-5.9,4.5z"/>
<path class=m d="M652,427.6l-5-1.6"/>
<path fill=#59ffa0 d="M588.4,447.3l6.1-4.5l-5.3-2l-6.1,4.4z"/>
<path class=m d="M594,442.9l-4.8-1.7"/>
<path fill=#d7ff5a d="M857.6,369.9l5.5-4.9l-5.9-1.7l-5.5,4.8z"/>
<path fill=#ff8a5b d="M1037.1,307.8l5.2-4.9l-6.4-1.5l-5.2,4.9z"/>
<path fill=#ffff5b d="M905.1,354.3l5.4-4.9l-6-1.6l-5.4,4.7z"/>
<path class=m d="M910.1,349.5l-5.6-1.3"/>
<path fill=#62ff5a d="M704.5,416.2l5.9-4.7l-5.6-1.9l-5.8,4.6z"/>
<path class=m d="M699.4,414.1l5.4-4M709.9,411.6l-5.1-1.5"/>
<path fill=#b1ff5a d="M810.1,385l5.6-4.8l-5.8-1.8l-5.6,4.7z"/>
<path class=m d="M804.7,383l5.2-4.1"/>
<path fill=#ffd75b d="M952.7,338.2l5.3-4.9l-6.2-1.6l-5.3,4.9z"/>
<path class=m d="M946.9,336.4l5-4.2"/>
<path fill=#8cff5a d="M762.6,399.6l5.7-4.7l-5.7-1.9l-5.7,4.6z"/>
<path class=m d="M767.9,395l-5.3-1.5"/>
<path fill=#ffad5b d="M1000.2,321.7l5.2-5l-6.3-1.5l-5.2,4.9z"/>
<path fill=#59ff73 d="M657,429.8l5.9-4.6l-5.4-2l-6,4.5z"/>
<path fill=#59ff9a d="M598.9,445.1l6.1-4.5l-5.3-2l-6.1,4.4z"/>
<path class=m d="M594,442.9l5.6-3.9"/>
<path fill=#69ff5a d="M715.1,413.7l5.8-4.6l-5.6-1.9l-5.8,4.5z"/>
<path fill=#dfff5b d="M868.2,367.1l5.5-4.9l-5.9-1.7l-5.5,4.8z"/>
<path fill=#fff75b d="M915.7,351.4l5.5-4.9l-6.1-1.6l-5.4,4.8z"/>
<path class=m d="M910.1,349.5l5-4.2"/>
<path fill=#58ffbf d="M540.8,459.7l6.2-4.4l-5.2-2.1l-6.2,4.4z"/>
<path class=m d="M540.8,459.3l-4.7-1.8"/>
<path fill=#b9ff5a d="M820.7,382.3l5.6-4.8l-5.9-1.8l-5.6,4.7z"/>
<path class=m d="M825.8,377.6l-5.3-1.4"/>
<path fill=#ff825b d="M1047.8,304.6l5.1-5l-6.4-1.4l-5.1,4.9z"/>
<path class=m d="M1047.7,304.2l4.8-4.4M1052.5,299.8l-5.9-1.1"/>
<path fill=#ffce5b d="M963.3,335.2l5.3-4.9l-6.2-1.6l-5.3,4.9z"/>
<path class=m d="M968.2,330.4l-5.7-1.2"/>
<path fill=#94ff5a d="M773.2,397l5.7-4.7l-5.8-1.9l-5.7,4.7z"/>
<path class=m d="M767.9,395l5.2-4.1"/>
<path fill=#5aff6d d="M667.5,427.4l5.9-4.6l-5.4-2l-6,4.6z"/>
<path class=m d="M662.5,425.3l5.4-4"/>
<path fill=#59ff94 d="M609.4,442.9l6-4.5l-5.3-2.1l-6,4.5z"/>
<path fill=#ffa45b d="M1010.9,318.6l5.2-5l-6.3-1.5l-5.2,4.9z"/>
<path fill=#70ff5a d="M725.6,411.3l5.8-4.7l-5.6-1.9l-5.8,4.6z"/>
<path fill=#59ffb9 d="M551.3,457.7l6.1-4.5l-5.1-2.1l-6.2,4.4z"/>
<path fill=#e7ff5b d="M878.8,364.3l5.5-4.9l-6-1.7l-5.5,4.8z"/>
<path class=m d="M873.3,362.4l5.1-4.3M883.9,359.5l-5.5-1.4"/>
<path fill=#c1ff5b d="M831.3,379.6l5.6-4.8l-5.9-1.8l-5.6,4.7z"/>
<path fill=#ffef5b d="M926.4,348.5l5.4-4.9l-6.1-1.7l-5.4,4.8z"/>
<path fill=#9bff5b d="M783.7,394.4l5.7-4.7l-5.7-1.9l-5.7,4.7z"/>
<path fill=#ffc65b d="M974,332.2l5.2-5l-6.2-1.5l-5.3,4.8z"/>
<path fill=#59ff8d d="M619.9,440.7l6-4.6l-5.3-2l-6,4.4z"/>
<path class=m d="M625.5,436.2l-5-1.7"/>
<path fill=#5aff66 d="M678,425.1l5.9-4.7l-5.5-1.9l-5.9,4.5z"/>
<path class=m d="M683.5,420.5l-5.1-1.6"/>
<path fill=#59ffb3 d="M561.8,455.6l6.1-4.5l-5.2-2.1l-6.1,4.4z"/>
<path class=m d="M557,453.3l5.6-3.9M567.5,451.2l-4.9-1.8"/>
<path fill=#77ff5a d="M736.2,408.8l5.7-4.7l-5.6-1.9l-5.8,4.6z"/>
<path class=m d="M731,406.7l5.3-4.1M741.5,404.2l-5.2-1.6"/>
<path fill=#ff9b5b d="M1021.6,315.4l5.2-5l-6.4-1.5l-5.2,4.9z"/>
<path class=m d="M1015.7,313.7l4.8-4.3M1026.3,310.6l-5.8-1.2"/>
<path fill=#efff5b d="M889.4,361.5l5.5-4.9l-6-1.8l-5.5,4.8z"/>
<path fill=#c8ff5b d="M841.9,376.9l5.5-4.9l-5.9-1.8l-5.5,4.8z"/>
<path class=m d="M836.4,374.9l5.2-4.2"/>
<path fill=#ffe75b d="M937,345.6l5.4-5l-6.1-1.6l-5.4,4.8z"/>
<path class=m d="M942,340.7l-5.7-1.3"/>
<path fill=#5aff87 d="M630.4,438.4l6-4.6l-5.3-2l-6,4.5z"/>
<path class=m d="M625.5,436.2l5.5-4"/>
<path fill=#a3ff5b d="M794.3,391.8l5.7-4.8l-5.8-1.8l-5.7,4.7z"/>
<path class=m d="M799.5,387.2l-5.3-1.6"/>
<path fill=#5aff60 d="M688.6,422.7l5.9-4.7l-5.6-1.9l-5.8,4.5z"/>
<path fill=#59ffad d="M572.3,453.4l6.1-4.5l-5.2-2.1l-6.2,4.5z"/>
<path fill=#ffbd5b d="M984.6,329.2l5.3-5l-6.2-1.6l-5.3,4.9z"/>
<path class=m d="M978.8,327.4l4.9-4.4"/>
<path fill=#7fff5b d="M746.7,406.3l5.8-4.7l-5.7-2l-5.7,4.7z"/>
<path fill=#ff935c d="M1032.3,312.3l5.1-5l-6.3-1.5l-5.2,4.9z"/>
<path fill=#d0ff5b d="M852.5,374.2l5.5-4.9l-5.9-1.8l-5.5,4.8z"/>
<path class=m d="M857.6,369.4l-5.5-1.5"/>
<path fill=#5aff81 d="M641,436.2l5.9-4.7l-5.4-2l-5.9,4.5z"/>
<path fill=#f7ff5b d="M900.1,358.6l5.4-4.9l-6-1.7l-5.5,4.8z"/>
<path fill=#5cff5a d="M699.1,420.3l5.9-4.7l-5.6-2l-5.8,4.6z"/>
<path class=m d="M694,418.1l5.4-4"/>
<path fill=#59ffa7 d="M582.8,451.3l6.1-4.5l-5.3-2.2l-6.1,4.5z"/>
<path fill=#abff5b d="M804.9,389.2l5.6-4.8l-5.8-1.9l-5.6,4.8z"/>
<path class=m d="M799.5,387.2l5.2-4.2"/>
<path fill=#ffde5c d="M947.7,342.6l5.3-5l-6.1-1.6l-5.4,4.9z"/>
<path class=m d="M942,340.7l4.9-4.3"/>
<path fill=#86ff5b d="M757.3,403.8l5.7-4.8l-5.7-1.9l-5.7,4.7z"/>
<path fill=#ffb55c d="M995.3,326.1l5.3-5l-6.3-1.6l-5.3,4.9z"/>
<path class=m d="M1000.1,321.2l-5.7-1.2"/>
<path fill=#5aff7a d="M651.5,433.9l6-4.7l-5.5-2l-5.9,4.5z"/>
<path class=m d="M657,429.3l-5-1.7"/>
<path fill=#5affa1 d="M593.3,449.1l6.1-4.5l-5.3-2.2l-6.1,4.5z"/>
<path class=m d="M588.4,446.8l5.6-3.9M598.9,444.7l-4.9-1.8"/>
<path fill=#d8ff5b d="M863.1,371.4l5.5-4.9l-5.9-1.8l-5.6,4.8z"/>
<path fill=#63ff5b d="M709.7,417.9l5.8-4.7l-5.6-2l-5.8,4.6z"/>
<path class=m d="M715.1,413.3l-5.2-1.7"/>
<path fill=#ffff5c d="M910.7,355.8l5.4-5l-6-1.7l-5.5,4.8z"/>
<path class=m d="M905.1,353.8l5-4.3M915.7,350.9l-5.6-1.4"/>
<path fill=#ff8a5c d="M1043,309.1l5.1-5l-6.4-1.5l-5.1,4.9z"/>
<path class=m d="M1042.9,308.7l4.8-4.5"/>
<path fill=#b2ff5b d="M815.5,386.6l5.6-4.9l-5.8-1.8l-5.6,4.7z"/>
<path fill=#ffd65c d="M958.3,339.6l5.4-5l-6.2-1.6l-5.3,4.9z"/>
<path fill=#8eff5b d="M767.9,401.3l5.7-4.8l-5.7-2l-5.7,4.7z"/>
<path class=m d="M762.6,399.1l5.3-4.1M773.2,396.6l-5.3-1.6"/>
<path fill=#ffac5c d="M1006,323l5.2-5l-6.3-1.6l-5.2,4.9z"/>
<path fill=#5aff74 d="M662,431.6l6-4.7l-5.5-2.1l-5.9,4.6z"/>
<path class=m d="M657,429.3l5.5-4"/>
<path fill=#5aff9b d="M603.8,447l6.1-4.6l-5.3-2.2l-6.1,4.5z"/>
<path fill=#6aff5b d="M720.2,415.5l5.9-4.8l-5.6-2l-5.9,4.7z"/>
<path fill=#e0ff5c d="M873.7,368.6l5.5-4.9l-6-1.8l-5.5,4.8z"/>
<path class=m d="M868.2,366.6l5.1-4.2"/>
<path fill=#5affbf d="M545.6,461.7l6.2-4.6l-5.2-2.1l-6.2,4.4z"/>
<path class=m d="M545.6,461.2l-4.8-1.9"/>
<path fill=#fff75c d="M921.4,352.9l5.4-5l-6.1-1.7l-5.4,4.9z"/>
<path fill=#baff5c d="M826.1,383.9l5.6-4.9l-5.9-1.8l-5.6,4.7z"/>
<path class=m d="M831.3,379.1l-5.5-1.5"/>
<path fill=#ffce5c d="M969,336.6l5.3-5l-6.2-1.6l-5.3,4.9z"/>
<path class=m d="M973.9,331.8l-5.7-1.4"/>
<path fill=#95ff5b d="M778.5,398.7l5.7-4.8l-5.8-2l-5.7,4.8z"/>
<path fill=#5bff6e d="M672.6,429.2l5.9-4.7l-5.5-2l-5.9,4.6z"/>
<path fill=#5aff94 d="M614.3,444.8l6.1-4.7l-5.4-2.1l-6,4.5z"/>
<path fill=#ffa45c d="M1016.7,319.9l5.2-5l-6.3-1.6l-5.2,4.9z"/>
<path class=m d="M1010.8,318.1l4.9-4.4"/>
<path fill=#71ff5b d="M730.8,413l5.8-4.7l-5.6-2l-5.8,4.6z"/>
<path class=m d="M725.6,410.8l5.4-4.1"/>
<path fill=#5affb9 d="M556.1,459.6l6.2-4.6l-5.2-2.2l-6.2,4.5z"/>
<path class=m d="M551.3,457.2l5.7-3.9"/>
<path fill=#e8ff5c d="M884.4,365.8l5.4-4.9l-6-1.8l-5.4,4.8z"/>
<path class=m d="M889.4,361l-5.5-1.5"/>
<path fill=#c2ff5c d="M836.7,381.2l5.6-4.9l-5.9-1.9l-5.6,4.9z"/>
<path class=m d="M831.3,379.1l5.1-4.2"/>
<path fill=#ffee5c d="M932,350l5.4-5l-6.1-1.8l-5.4,4.9z"/>
<path fill=#9cff5c d="M789.1,396.1l5.6-4.8l-5.7-2l-5.7,4.8z"/>
<path fill=#5bff8e d="M624.9,442.5l6-4.6l-5.4-2.2l-6,4.6z"/>
<path class=m d="M620,440.2l5.5-4M630.5,438l-5-1.8"/>
<path fill=#5bff67 d="M683.1,426.9l5.9-4.7l-5.5-2.1l-5.9,4.6z"/>
<path class=m d="M688.6,422.3l-5.1-1.8"/>
<path fill=#ffc65c d="M979.7,333.6l5.3-5l-6.2-1.7l-5.3,5z"/>
<path class=m d="M973.9,331.8l4.9-4.4"/>
<path fill=#5affb3 d="M566.6,457.5l6.2-4.6l-5.3-2.2l-6.1,4.5z"/>
<path class=m d="M572.3,453l-4.8-1.8"/>
<path fill=#79ff5b d="M741.4,410.6l5.8-4.8l-5.7-2.1l-5.8,4.8z"/>
<path class=m d="M746.7,405.9l-5.2-1.7"/>
<path fill=#ff9b5c d="M1027.4,316.8l5.2-5.1l-6.3-1.6l-5.2,5z"/>
<path class=m d="M1032.2,311.8l-5.9-1.2"/>
<path fill=#f0ff5c d="M895,363l5.5-4.9l-6.1-1.9l-5.4,4.9z"/>
<path fill=#c9ff5c d="M847.3,378.5l5.6-4.9l-5.9-1.9l-5.6,4.8z"/>
<path fill=#5bff88 d="M635.4,440.3l6-4.7l-5.4-2.1l-6,4.6z"/>
<path fill=#ffe65c d="M942.7,347.1l5.4-5.1l-6.2-1.7l-5.4,4.9z"/>
<path class=m d="M937,345.1l5-4.4M947.6,342.2l-5.6-1.5"/>
<path fill=#a4ff5c d="M799.7,393.5l5.6-4.8l-5.8-2l-5.6,4.8z"/>
<path class=m d="M794.3,391.4l5.2-4.2M804.9,388.8l-5.4-1.6"/>
<path fill=#5bff61 d="M693.7,424.5l5.9-4.7l-5.6-2.1l-5.8,4.7z"/>
<path class=m d="M688.6,422.3l5.4-4.2"/>
<path fill=#5affad d="M577.1,455.4l6.2-4.6l-5.3-2.2l-6.1,4.5z"/>
<path fill=#ffbd5d d="M990.4,330.6l5.3-5.1l-6.3-1.6l-5.3,4.9z"/>
<path fill=#80ff5c d="M752,408.1l5.7-4.9l-5.7-2l-5.7,4.8z"/>
<path fill=#5bff82 d="M646,438l6-4.7l-5.5-2.1l-5.9,4.6z"/>
<path fill=#ff935d d="M1038.1,313.7l5.2-5.2l-6.4-1.5l-5.1,5z"/>
<path class=m d="M1038.1,313.2l4.8-4.5"/>
<path fill=#d1ff5c d="M858,375.8l5.5-5l-5.9-1.8l-5.6,4.8z"/>
<path class=m d="M863.1,371l-5.5-1.6"/>
<path fill=#f8ff5c d="M905.7,360.2l5.4-5l-6.1-1.8l-5.4,4.9z"/>
<path class=m d="M900,358.2l5.1-4.4"/>
<path fill=#5bffa7 d="M587.7,453.2l6.1-4.6l-5.3-2.2l-6.1,4.5z"/>
<path class=m d="M582.8,450.8l5.6-4"/>
<path fill=#5dff5c d="M704.3,422.1l5.8-4.7l-5.5-2.1l-5.9,4.7z"/>
<path fill=#abff5c d="M810.3,390.9l5.6-4.9l-5.8-1.9l-5.7,4.8z"/>
<path fill=#ffde5d d="M953.4,344.1l5.3-5l-6.2-1.8l-5.3,5z"/>
<path fill=#87ff5c d="M762.6,405.6l5.7-4.9l-5.7-2l-5.7,4.8z"/>
<path class=m d="M757.3,403.4l5.3-4.3"/>
<path fill=#ffb55d d="M1001.1,327.5l5.3-5l-6.3-1.7l-5.3,5z"/>
<path class=m d="M1005.9,322.6l-5.8-1.4"/>
<path fill=#5bff7b d="M656.5,435.8l6-4.8l-5.5-2.1l-5.9,4.6z"/>
<path class=m d="M651.5,433.4l5.5-4.1M662.1,431.1l-5.1-1.8"/>
<path fill=#5bffa1 d="M598.2,451.1l6.1-4.7l-5.3-2.2l-6.1,4.6z"/>
<path class=m d="M603.9,446.5l-5-1.8"/>
<path fill=#64ff5c d="M714.9,419.7l5.8-4.8l-5.6-2.1l-5.8,4.8z"/>
<path class=m d="M720.3,415l-5.2-1.7"/>
<path fill=#d9ff5d d="M868.6,373l5.5-4.9l-5.9-1.9l-5.6,4.9z"/>
<path class=m d="M863.1,371l5.1-4.4"/>
<path fill=#fffe5d d="M916.3,357.3l5.4-5l-6-1.8l-5.5,4.9z"/>
<path class=m d="M921.3,352.4l-5.6-1.5"/>
<path fill=#b3ff5c d="M820.9,388.3l5.6-5l-5.8-1.9l-5.7,4.8z"/>
<path fill=#ffd65d d="M964.1,341.1l5.3-5l-6.2-1.8l-5.3,5z"/>
<path fill=#8eff5c d="M773.2,403l5.7-4.9l-5.7-2l-5.8,4.8z"/>
<path class=m d="M778.5,398.3l-5.3-1.7"/>
<path fill=#5cff75 d="M667.1,433.5l5.9-4.8l-5.4-2.2l-6,4.7z"/>
<path fill=#ffac5d d="M1011.8,324.5l5.3-5.1l-6.4-1.7l-5.2,5z"/>
<path class=m d="M1005.9,322.6l4.9-4.5"/>
<path fill=#5bff9b d="M608.8,448.9l6-4.7l-5.3-2.2l-6.1,4.6z"/>
<path fill=#6bff5c d="M725.4,417.3l5.9-4.8l-5.7-2.1l-5.8,4.7z"/>
<path class=m d="M720.3,415l5.3-4.2"/>
<path fill=#5bffc0 d="M550.4,463.6l6.2-4.6l-5.2-2.2l-6.2,4.5z"/>
<path class=m d="M550.5,463.2l-4.9-2M545.6,461.2l5.7-4"/>
<path fill=#e0ff5d d="M879.3,370.3l5.5-5l-6-1.9l-5.5,4.9z"/>
<path fill=#baff5d d="M831.5,385.6l5.6-4.9l-5.9-2l-5.6,4.9z"/>
<path class=m d="M826.1,383.5l5.2-4.4M836.7,380.8l-5.4-1.7"/>
<path fill=#fff65d d="M927,354.5l5.4-5.1l-6.1-1.8l-5.4,4.9z"/>
<path fill=#96ff5c d="M783.8,400.5l5.7-4.9l-5.8-2.1l-5.7,4.9z"/>
<path fill=#ffce5d d="M974.8,338.2l5.3-5.1l-6.3-1.8l-5.3,5z"/>
<path class=m d="M969,336.2l4.9-4.4M979.6,333.2l-5.7-1.4"/>
<path fill=#5bff95 d="M619.3,446.7l6.1-4.7l-5.4-2.2l-6,4.6z"/>
<path class=m d="M614.4,444.3l5.6-4.1"/>
<path fill=#5cff6f d="M677.7,431.1l5.9-4.8l-5.5-2.1l-5.9,4.7z"/>
<path fill=#5bffba d="M560.9,461.6l6.2-4.7l-5.2-2.2l-6.2,4.5z"/>
<path fill=#72ff5c d="M736,414.9l5.8-4.9l-5.6-2.1l-5.8,4.8z"/>
<path fill=#ffa45d d="M1022.5,321.4l5.3-5.2l-6.4-1.6l-5.2,5z"/>
<path fill=#e8ff5d d="M889.9,367.5l5.5-5l-6-1.9l-5.5,4.9z"/>
<path class=m d="M895,362.6l-5.6-1.6"/>
<path fill=#c2ff5d d="M842.2,382.9l5.5-4.9l-5.9-2l-5.6,4.9z"/>
<path fill=#ffee5d d="M937.7,351.6l5.4-5.1l-6.2-1.8l-5.4,4.9z"/>
<path class=m d="M932,349.5l5-4.4"/>
<path fill=#9dff5d d="M794.4,397.9l5.7-4.9l-5.8-2.1l-5.7,4.9z"/>
<path class=m d="M789,395.7l5.3-4.3"/>
<path fill=#5cff8f d="M629.9,444.5l6-4.8l-5.4-2.2l-6,4.7z"/>
<path class=m d="M635.5,439.8l-5-1.8"/>
<path fill=#5cff68 d="M688.3,428.8l5.9-4.8l-5.6-2.2l-5.9,4.7z"/>
<path class=m d="M683.2,426.4l5.4-4.1M693.7,424.1l-5.1-1.8"/>
<path fill=#ffc65d d="M985.5,335.1l5.3-5.1l-6.3-1.7l-5.3,5z"/>
<path fill=#5bffb4 d="M571.5,459.5l6.1-4.7l-5.2-2.3l-6.2,4.6z"/>
<path class=m d="M577.2,454.9l-4.9-1.9"/>
<path fill=#79ff5d d="M746.6,412.4l5.8-4.9l-5.7-2.1l-5.7,4.8z"/>
<path class=m d="M752,407.6l-5.3-1.7"/>
<path fill=#ff9c5d d="M1033.3,318.2l5.2-5.1l-6.4-1.7l-5.2,5.1z"/>
<path class=m d="M1033.2,317.8l4.9-4.6M1038.1,313.2l-5.9-1.4"/>
<path fill=#f0ff5d d="M900.6,364.7l5.5-5.1l-6.1-1.9l-5.5,5z"/>
<path class=m d="M895,362.6l5-4.4"/>
<path fill=#caff5d d="M852.8,380.2l5.6-5l-6-1.9l-5.5,4.9z"/>
<path fill=#5cff89 d="M640.5,442.2l6-4.7l-5.5-2.2l-6,4.6z"/>
<path fill=#ffe65d d="M948.4,348.6l5.3-5.1l-6.1-1.8l-5.4,5z"/>
<path class=m d="M953.3,343.7l-5.7-1.5"/>
<path fill=#a5ff5d d="M805,395.3l5.7-4.9l-5.8-2.1l-5.7,4.9z"/>
<path class=m d="M810.3,390.5l-5.4-1.7"/>
<path fill=#5cff62 d="M698.9,426.4l5.8-4.8l-5.5-2.2l-5.9,4.8z"/>
<path fill=#5cffae d="M582,457.4l6.2-4.7l-5.3-2.3l-6.1,4.6z"/>
<path class=m d="M577.2,454.9l5.6-4.1"/>
<path fill=#ffbd5e d="M996.2,332.1l5.3-5.1l-6.3-1.8l-5.3,5.1z"/>
<path fill=#81ff5d d="M757.3,409.9l5.7-4.9l-5.7-2.1l-5.8,4.8z"/>
<path class=m d="M752,407.6l5.3-4.2"/>
<path fill=#5cff83 d="M651,440l6-4.8l-5.4-2.2l-6,4.7z"/>
<path class=m d="M646,437.6l5.5-4.2"/>
<path fill=#d1ff5d d="M863.5,377.5l5.5-5l-6-2l-5.5,5z"/>
<path class=m d="M857.9,375.3l5.2-4.3M868.6,372.6l-5.5-1.6"/>
<path fill=#f8ff5e d="M911.3,361.8l5.4-5l-6.1-1.9l-5.4,5z"/>
<path fill=#5cffa8 d="M592.6,455.2l6.1-4.7l-5.3-2.3l-6.1,4.7z"/>
<path fill=#5eff5d d="M709.4,424.1l5.9-4.9l-5.6-2.2l-5.8,4.8z"/>
<path fill=#acff5d d="M815.7,392.7l5.6-5l-5.8-2l-5.7,4.9z"/>
<path fill=#ffde5e d="M959.1,345.7l5.3-5.1l-6.2-1.9l-5.3,5.1z"/>
<path fill=#88ff5d d="M767.9,407.4l5.7-4.9l-5.7-2.1l-5.8,4.8z"/>
<path fill=#ffb55e d="M1006.9,329.1l5.3-5.2l-6.3-1.8l-5.3,5.1z"/>
<path class=m d="M1001,327.1l4.9-4.5M1011.7,324l-5.8-1.4"/>
<path fill=#5cff7c d="M661.6,437.7l6-4.8l-5.5-2.2l-6,4.7z"/>
<path class=m d="M667.1,433l-5-1.9"/>
<path fill=#5cffa2 d="M603.2,453.1l6.1-4.7l-5.4-2.3l-6.1,4.6z"/>
<path class=m d="M608.8,448.4l-4.9-1.9"/>
<path fill=#65ff5d d="M720.1,421.7l5.8-4.9l-5.6-2.2l-5.9,4.8z"/>
<path class=m d="M714.9,419.3l5.4-4.3M725.5,416.9l-5.2-1.9"/>
<path fill=#d9ff5e d="M874.1,374.8l5.6-5.1l-6-2l-5.6,5z"/>
<path fill=#fffe5e d="M922,359l5.4-5.1l-6.1-1.9l-5.5,5z"/>
<path class=m d="M927,354l-5.7-1.6"/>
<path fill=#b3ff5d d="M826.3,390.1l5.6-5l-5.8-2.1l-5.7,4.9z"/>
<path class=m d="M820.9,387.8l5.2-4.3"/>
<path fill=#ffd65e d="M969.8,342.7l5.3-5.1l-6.2-1.8l-5.3,5z"/>
<path class=m d="M964,340.7l5-4.5"/>
<path fill=#8fff5d d="M778.5,404.9l5.7-5l-5.7-2.1l-5.8,4.9z"/>
<path class=m d="M783.8,400l-5.3-1.7"/>
<path fill=#5dff76 d="M672.2,435.4l5.9-4.8l-5.5-2.3l-5.9,4.8z"/>
<path fill=#5cff9c d="M613.7,450.9l6.1-4.7l-5.4-2.3l-6,4.6z"/>
<path class=m d="M608.8,448.4l5.6-4.1"/>
<path fill=#ffad5e d="M1017.7,326l5.2-5.2l-6.3-1.8l-5.3,5.1z"/>
<path fill=#6cff5d d="M730.7,419.2l5.8-4.9l-5.7-2.2l-5.8,4.9z"/>
<path fill=#5cffc1 d="M555.3,465.7l6.1-4.7l-5.2-2.3l-6.2,4.6z"/>
<path class=m d="M555.3,465.3l-4.8-2.1"/>
<path fill=#e1ff5e d="M884.8,372l5.5-5.1l-6-2l-5.5,5z"/>
<path fill=#bbff5e d="M837,387.4l5.6-5l-5.9-2.1l-5.6,5z"/>
<path class=m d="M842.1,382.5l-5.4-1.7"/>
<path fill=#fff65e d="M932.7,356.1l5.4-5.1l-6.2-1.9l-5.4,5z"/>
<path class=m d="M927,354l5-4.5"/>
<path fill=#96ff5e d="M789.1,402.3l5.7-5l-5.8-2.1l-5.7,4.9z"/>
<path class=m d="M783.8,400l5.2-4.3"/>
<path fill=#ffce5e d="M980.5,339.8l5.3-5.2l-6.2-1.9l-5.3,5.1z"/>
<path class=m d="M985.4,334.7l-5.8-1.5"/>
<path fill=#5dff96 d="M624.3,448.7l6.1-4.8l-5.4-2.3l-6.1,4.7z"/>
<path fill=#5dff70 d="M682.8,433.1l5.9-4.9l-5.5-2.2l-5.9,4.8z"/>
<path class=m d="M677.7,430.7l5.5-4.3"/>
<path fill=#5cffbb d="M565.8,463.7l6.2-4.8l-5.3-2.3l-6.1,4.6z"/>
<path fill=#73ff5d d="M741.3,416.8l5.8-4.9l-5.7-2.2l-5.8,4.8z"/>
<path fill=#ffa45e d="M1028.4,322.9l5.2-5.2l-6.3-1.8l-5.3,5.1z"/>
<path class=m d="M1028.3,322.5l4.9-4.7"/>
<path fill=#e8ff5e d="M895.5,369.2l5.5-5.1l-6.1-2l-5.5,5.1z"/>
<path class=m d="M889.9,367l5.1-4.4M900.5,364.2l-5.5-1.6"/>
<path fill=#c2ff5e d="M847.6,384.7l5.6-5l-5.9-2.1l-5.6,5z"/>
<path fill=#ffee5e d="M943.4,353.2l5.4-5.1l-6.2-1.9l-5.4,5z"/>
<path fill=#9eff5e d="M799.8,399.8l5.7-5l-5.9-2.2l-5.6,5z"/>
<path fill=#5dff90 d="M634.9,446.5l6-4.8l-5.4-2.3l-6,4.7z"/>
<path class=m d="M640.5,441.8l-5-2"/>
<path fill=#5dff6a d="M693.4,430.8l5.9-4.9l-5.6-2.3l-5.9,4.8z"/>
<path class=m d="M698.9,426l-5.2-1.9"/>
<path fill=#5cffb5 d="M576.4,461.6l6.1-4.8l-5.2-2.3l-6.2,4.6z"/>
<path class=m d="M571.5,459l5.7-4.1M582.1,456.9l-4.9-2"/>
<path fill=#ffc65e d="M991.3,336.8l5.3-5.3l-6.3-1.8l-5.3,5.1z"/>
<path fill=#7aff5e d="M751.9,414.3l5.8-4.9l-5.7-2.2l-5.8,4.9z"/>
<path class=m d="M746.6,412l5.4-4.4M757.3,409.5l-5.3-1.9"/>
<path fill=#caff5e d="M858.3,382l5.6-5l-6-2.1l-5.6,5z"/>
<path class=m d="M852.8,379.8l5.1-4.5"/>
<path fill=#f0ff5e d="M906.2,366.4l5.5-5.1l-6.1-2l-5.5,5z"/>
<path fill=#5dff8a d="M645.5,444.3l6-4.9l-5.4-2.3l-6,4.8z"/>
<path class=m d="M640.5,441.8l5.5-4.2"/>
<path fill=#5dff63 d="M704,428.4l5.9-4.9l-5.6-2.3l-5.9,4.9z"/>
<path fill=#a5ff5e d="M810.4,397.2l5.7-5.1l-5.9-2.1l-5.6,5z"/>
<path class=m d="M815.7,392.3l-5.4-1.8"/>
<path fill=#ffe65e d="M954.1,350.3l5.4-5.2l-6.2-1.9l-5.4,5.1z"/>
<path class=m d="M959,345.3l-5.7-1.6"/>
<path fill=#5dffaf d="M587,459.5l6.1-4.8l-5.3-2.4l-6.1,4.7z"/>
<path fill=#81ff5e d="M762.6,411.9l5.7-5l-5.7-2.2l-5.8,4.9z"/>
<path fill=#ffbe5f d="M1002,333.7l5.3-5.2l-6.3-1.8l-5.3,5.1z"/>
<path class=m d="M996.1,331.7l4.9-4.6"/>
<path fill=#5dff84 d="M656.1,442l6-4.8l-5.5-2.3l-6,4.7z"/>
<path fill=#d2ff5e d="M869,379.3l5.5-5.1l-6-2.1l-5.5,5.1z"/>
<path class=m d="M874.1,374.3l-5.5-1.7"/>
<path fill=#5dffa9 d="M597.6,457.3l6.1-4.8l-5.4-2.3l-6.1,4.7z"/>
<path fill=#5fff5e d="M714.6,426l5.9-4.9l-5.6-2.3l-5.9,4.9z"/>
<path class=m d="M709.5,423.6l5.4-4.3"/>
<path fill=#f8ff5f d="M916.9,363.6l5.4-5.2l-6.1-2l-5.4,5.1z"/>
<path fill=#acff5e d="M821.1,394.6l5.6-5.1l-5.8-2.1l-5.7,5z"/>
<path class=m d="M815.7,392.3l5.2-4.5"/>
<path fill=#ffde5f d="M964.8,347.4l5.4-5.2l-6.3-2l-5.3,5.2z"/>
<path class=m d="M959,345.3l5-4.6"/>
<path fill=#88ff5e d="M773.2,409.4l5.7-5.1l-5.7-2.2l-5.8,5z"/>
<path fill=#ffb55f d="M1012.8,330.7l5.2-5.3l-6.3-1.8l-5.3,5.1z"/>
<path class=m d="M1017.6,325.6l-5.9-1.6"/>
<path fill=#5eff7e d="M666.7,439.8l6-4.9l-5.5-2.3l-6,4.8z"/>
<path class=m d="M672.2,435l-5.1-2"/>
<path fill=#5dffa3 d="M608.1,455.2l6.1-4.8l-5.3-2.4l-6.1,4.7z"/>
<path class=m d="M603.2,452.6l5.6-4.2M613.8,450.5l-5-2.1"/>
<path fill=#66ff5e d="M725.3,423.7l5.8-5l-5.6-2.3l-5.9,4.9z"/>
<path class=m d="M730.7,418.8l-5.2-1.9"/>
<path fill=#d9ff5f d="M879.7,376.6l5.5-5.2l-6-2l-5.5,5z"/>
<path fill=#fffe5f d="M927.6,360.7l5.4-5.1l-6.1-2l-5.4,5.1z"/>
<path class=m d="M921.9,358.5l5.1-4.5M932.6,355.7l-5.6-1.7"/>
<path fill=#b4ff5f d="M831.8,391.9l5.6-5l-5.9-2.2l-5.6,5z"/>
<path fill=#ffd65f d="M975.6,344.4l5.3-5.2l-6.3-1.9l-5.3,5.1z"/>
<path fill=#8fff5e d="M783.8,406.8l5.8-5l-5.8-2.2l-5.7,4.9z"/>
<path class=m d="M778.5,404.4l5.3-4.4M789.1,401.9l-5.3-1.9"/>
<path fill=#5eff78 d="M677.3,437.5l6-4.9l-5.6-2.4l-5.9,4.9z"/>
<path class=m d="M672.2,435l5.5-4.3"/>
<path fill=#5dff9d d="M618.7,453l6.1-4.8l-5.4-2.4l-6.1,4.8z"/>
<path fill=#ffad5f d="M1023.5,327.6l5.3-5.3l-6.4-1.8l-5.2,5.2z"/>
<path class=m d="M1023.5,327.2l4.8-4.7"/>
<path fill=#6dff5e d="M735.9,421.2l5.8-5l-5.6-2.2l-5.9,4.9z"/>
<path fill=#5dffc2 d="M560.1,467.9l6.2-4.8l-5.2-2.4l-6.2,4.7z"/>
<path class=m d="M560.2,467.4l-4.9-2.1"/>
<path fill=#e1ff5f d="M890.4,373.8l5.5-5.1l-6.1-2.1l-5.5,5.1z"/>
<path class=m d="M884.8,371.6l5.1-4.6"/>
<path fill=#bbff5f d="M842.4,389.3l5.7-5.1l-6-2.2l-5.6,5.1z"/>
<path class=m d="M847.6,384.3l-5.5-1.8"/>
<path fill=#fff65f d="M938.3,357.9l5.5-5.2l-6.2-2l-5.4,5.1z"/>
<path fill=#97ff5f d="M794.5,404.3l5.7-5.1l-5.8-2.2l-5.7,5z"/>
<path fill=#5eff97 d="M629.3,450.8l6.1-4.8l-5.4-2.4l-6.1,4.8z"/>
<path fill=#ffce5f d="M986.3,341.4l5.3-5.2l-6.3-1.9l-5.3,5.1z"/>
<path class=m d="M991.2,336.3l-5.8-1.6"/>
<path fill=#5eff71 d="M688,435.2l5.9-5l-5.6-2.3l-5.9,4.9z"/>
<path fill=#5dffbc d="M570.7,465.8l6.2-4.8l-5.3-2.4l-6.2,4.7z"/>
<path class=m d="M565.9,463.2l5.6-4.2"/>
<path fill=#74ff5e d="M746.6,418.8l5.8-5l-5.7-2.3l-5.8,4.9z"/>
<path class=m d="M741.3,416.3l5.3-4.3"/>
<path fill=#e8ff5f d="M901.1,371.1l5.5-5.2l-6.1-2.1l-5.5,5.1z"/>
<path class=m d="M906.2,366l-5.7-1.8"/>
<path fill=#c3ff5f d="M853.1,386.6l5.6-5.1l-5.9-2.2l-5.6,5.1z"/>
<path class=m d="M847.6,384.3l5.2-4.5"/>
<path fill=#ffee5f d="M949.1,355l5.4-5.2l-6.2-2.1l-5.4,5.2z"/>
<path fill=#5eff91 d="M640,448.6l6-4.9l-5.5-2.4l-6,4.9z"/>
<path class=m d="M634.9,446.1l5.6-4.3M645.5,443.8l-5-2"/>
<path fill=#9eff5f d="M805.2,401.7l5.7-5.1l-5.9-2.2l-5.7,5z"/>
<path fill=#5eff6b d="M698.6,432.8l5.9-4.9l-5.6-2.4l-5.9,4.9z"/>
<path class=m d="M704,428l-5.1-2"/>
<path fill=#5dffb6 d="M581.3,463.8l6.2-4.9l-5.4-2.4l-6.1,4.7z"/>
<path class=m d="M587,459l-4.9-2.1"/>
<path fill=#ffc65f d="M997.1,338.5l5.3-5.3l-6.3-2l-5.3,5.2z"/>
<path class=m d="M991.2,336.3l4.9-4.6"/>
<path fill=#7bff5f d="M757.2,416.3l5.8-5l-5.7-2.3l-5.8,5z"/>
<path class=m d="M762.6,411.4l-5.3-1.9"/>
<path fill=#caff5f d="M863.8,383.9l5.6-5.1l-6-2.2l-5.5,5.1z"/>
<path fill=#f0ff5f d="M911.8,368.3l5.5-5.3l-6.1-2l-5.5,5.1z"/>
<path fill=#5eff8b d="M650.6,446.4l6-4.9l-5.5-2.4l-6,4.8z"/>
<path fill=#5fff65 d="M709.2,430.5l5.9-5l-5.6-2.3l-5.9,4.9z"/>
<path class=m d="M704,428l5.5-4.4"/>
<path fill=#a5ff5f d="M815.9,399.1l5.6-5.1l-5.9-2.2l-5.6,5z"/>
<path class=m d="M810.4,396.7l5.3-4.4M821.1,394.1l-5.4-1.8"/>
<path fill=#5effb0 d="M591.9,461.7l6.1-4.9l-5.3-2.5l-6.1,4.8z"/>
<path fill=#ffe760 d="M959.8,352.1l5.4-5.3l-6.2-2l-5.4,5.2z"/>
<path class=m d="M954,349.9l5-4.6M964.8,346.9l-5.8-1.6"/>
<path fill=#82ff5f d="M767.9,413.9l5.7-5.1l-5.7-2.3l-5.8,5z"/>
<path fill=#ffbe60 d="M1007.8,335.4l5.3-5.3l-6.3-1.9l-5.3,5.2z"/>
<path fill=#5eff85 d="M661.2,444.2l6-5l-5.5-2.4l-6,4.9z"/>
<path fill=#5effab d="M602.5,459.5l6.1-4.8l-5.3-2.5l-6.1,4.8z"/>
<path class=m d="M597.6,456.9l5.6-4.3"/>
<path fill=#d1ff60 d="M874.5,381.2l5.6-5.2l-6-2.1l-5.6,5.1z"/>
<path class=m d="M879.7,376.1l-5.6-1.8"/>
<path fill=#5fff5f d="M719.9,428.1l5.8-5l-5.6-2.3l-5.9,4.9z"/>
<path fill=#f8ff60 d="M922.5,365.4l5.5-5.2l-6.1-2.1l-5.5,5.2z"/>
<path class=m d="M916.9,363.1l5-4.6"/>
<path fill=#acff5f d="M826.5,396.5l5.7-5.1l-5.9-2.2l-5.7,5z"/>
<path fill=#ffdf60 d="M970.6,349.2l5.3-5.3l-6.2-2.1l-5.4,5.3z"/>
<path fill=#89ff5f d="M778.5,411.4l5.8-5.1l-5.8-2.3l-5.7,5z"/>
<path class=m d="M773.2,408.9l5.3-4.5"/>
<path fill=#ffb660 d="M1018.6,332.4l5.3-5.4l-6.4-1.9l-5.2,5.3z"/>
<path class=m d="M1018.6,331.9l4.9-4.7M1023.5,327.2l-5.9-1.6"/>
<path fill=#5fff7f d="M671.8,441.9l6-5l-5.5-2.4l-6,4.9z"/>
<path class=m d="M666.7,439.3l5.5-4.3M677.4,437l-5.2-2"/>
<path fill=#5effa5 d="M613.1,457.4l6.1-4.9l-5.4-2.5l-6.1,4.8z"/>
<path class=m d="M618.8,452.6l-5-2.1"/>
<path fill=#66ff5f d="M730.5,425.7l5.9-5l-5.7-2.4l-5.9,5z"/>
<path class=m d="M735.9,420.8l-5.2-2"/>
<path fill=#d9ff60 d="M885.3,378.5l5.5-5.2l-6.1-2.2l-5.5,5.2z"/>
<path class=m d="M879.7,376.1l5.1-4.5"/>
<path fill=#b4ff60 d="M837.2,393.9l5.7-5.2l-6-2.2l-5.6,5.1z"/>
<path fill=#fffe60 d="M933.3,362.6l5.4-5.3l-6.1-2.1l-5.5,5.2z"/>
<path class=m d="M938.3,357.4l-5.7-1.7"/>
<path fill=#90ff5f d="M789.2,408.9l5.7-5.2l-5.8-2.3l-5.7,5.1z"/>
<path class=m d="M794.5,403.8l-5.4-1.9"/>
<path fill=#ffd760 d="M981.3,346.2l5.4-5.3l-6.3-2l-5.3,5.2z"/>
<path fill=#5fff79 d="M682.5,439.6l5.9-5l-5.5-2.4l-6,4.9z"/>
<path fill=#5eff9f d="M623.8,455.2l6-4.9l-5.4-2.5l-6.1,4.9z"/>
<path fill=#6dff5f d="M741.2,423.3l5.8-5l-5.7-2.4l-5.8,5z"/>
<path class=m d="M735.9,420.8l5.4-4.5"/>
<path fill=#5effc3 d="M565,470.1l6.2-4.8l-5.3-2.5l-6.2,4.7z"/>
<path class=m d="M565.1,469.7l-4.9-2.3M560.2,467.4l5.7-4.2"/>
<path fill=#e1ff60 d="M896,375.7l5.5-5.2l-6.1-2.2l-5.5,5.2z"/>
<path fill=#bbff60 d="M847.9,391.3l5.7-5.2l-6-2.3l-5.6,5.2z"/>
<path class=m d="M842.4,388.8l5.2-4.5M853.1,386.2l-5.5-1.9"/>
<path fill=#fff760 d="M944,359.7l5.5-5.3l-6.2-2.1l-5.4,5.3z"/>
<path fill=#97ff60 d="M799.9,406.3l5.7-5.1l-5.8-2.3l-5.7,5z"/>
<path fill=#5fff99 d="M634.4,453.1l6-5l-5.4-2.5l-6.1,4.9z"/>
<path class=m d="M629.4,450.4l5.5-4.3"/>
<path fill=#5fff73 d="M693.1,437.3l5.9-5l-5.5-2.4l-6,4.9z"/>
<path fill=#ffcf60 d="M992.1,343.2l5.3-5.3l-6.3-2l-5.3,5.2z"/>
<path class=m d="M986.2,341l5-4.7M997,338l-5.8-1.7"/>
<path fill=#5effbd d="M575.6,468.1l6.2-4.9l-5.3-2.5l-6.2,4.8z"/>
<path fill=#74ff60 d="M751.9,420.9l5.8-5.1l-5.8-2.4l-5.8,5.1z"/>
<path fill=#e8ff60 d="M906.7,373l5.5-5.3l-6.1-2.2l-5.5,5.2z"/>
<path class=m d="M911.8,367.8l-5.6-1.8"/>
<path fill=#c2ff60 d="M858.7,388.6l5.5-5.2l-5.9-2.3l-5.6,5.2z"/>
<path fill=#5fff93 d="M645,450.9l6-5l-5.4-2.5l-6,4.9z"/>
<path class=m d="M650.6,446l-5.1-2.2"/>
<path fill=#ffef60 d="M954.8,356.8l5.4-5.3l-6.2-2.1l-5.4,5.3z"/>
<path class=m d="M949,354.5l5-4.6"/>
<path fill=#9eff60 d="M810.6,403.8l5.7-5.2l-5.9-2.3l-5.7,5.1z"/>
<path class=m d="M805.2,401.3l5.2-4.6"/>
<path fill=#5fff6d d="M703.8,435l5.9-5l-5.6-2.5l-5.9,5z"/>
<path class=m d="M698.6,432.4l5.4-4.4M709.2,430.1l-5.2-2.1"/>
<path fill=#5fffb7 d="M586.3,466l6.1-4.9l-5.3-2.5l-6.2,4.8z"/>
<path class=m d="M592,461.2l-5-2.2"/>
<path fill=#ffc760 d="M1002.9,340.2l5.3-5.3l-6.3-2.1l-5.3,5.3z"/>
<path fill=#7bff60 d="M762.5,418.5l5.8-5.2l-5.7-2.3l-5.8,5z"/>
<path class=m d="M767.9,413.4l-5.3-2"/>
<path fill=#5fff8d d="M655.7,448.6l6-5l-5.5-2.5l-6,5z"/>
<path fill=#caff60 d="M869.4,385.9l5.6-5.2l-6.1-2.3l-5.5,5.2z"/>
<path fill=#f0ff60 d="M917.5,370.2l5.4-5.3l-6.1-2.2l-5.5,5.2z"/>
<path class=m d="M911.8,367.8l5.1-4.7"/>
<path fill=#60ff67 d="M714.4,432.7l5.9-5.1l-5.6-2.5l-5.9,5z"/>
<path fill=#5fffb2 d="M596.9,463.9l6.1-4.9l-5.4-2.6l-6.1,4.9z"/>
<path class=m d="M592,461.2l5.6-4.3"/>
<path fill=#a5ff60 d="M821.3,401.2l5.7-5.2l-5.9-2.3l-5.7,5.1z"/>
<path class=m d="M826.5,396.1l-5.4-2"/>
<path fill=#ffe761 d="M965.6,353.9l5.4-5.3l-6.3-2.1l-5.4,5.3z"/>
<path class=m d="M970.5,348.7l-5.7-1.8"/>
<path fill=#82ff60 d="M773.2,416l5.8-5.2l-5.8-2.3l-5.8,5z"/>
<path class=m d="M767.9,413.4l5.3-4.5"/>
<path fill=#ffbf61 d="M1013.7,337.2l5.3-5.4l-6.4-2l-5.3,5.3z"/>
<path class=m d="M1013.6,336.8l5-4.9"/>
<path fill=#5fff87 d="M666.3,446.4l6-5l-5.5-2.5l-6,4.9z"/>
<path class=m d="M661.2,443.7l5.5-4.4"/>
<path fill=#5fffac d="M607.5,461.8l6.1-4.9l-5.4-2.6l-6.1,4.9z"/>
<path fill=#60ff60 d="M725.1,430.3l5.9-5.1l-5.7-2.4l-5.9,5z"/>
<path fill=#d1ff61 d="M880.1,383.2l5.6-5.3l-6.1-2.2l-5.5,5.2z"/>
<path class=m d="M874.5,380.8l5.2-4.7M885.2,378l-5.5-1.9"/>
<path fill=#f7ff61 d="M928.2,367.4l5.5-5.4l-6.2-2.1l-5.4,5.2z"/>
<path fill=#acff60 d="M832,398.6l5.7-5.2l-6-2.4l-5.6,5.2z"/>
<path fill=#ffdf61 d="M976.4,351l5.3-5.4l-6.3-2.1l-5.3,5.3z"/>
<path fill=#89ff60 d="M783.9,413.5l5.8-5.2l-5.9-2.4l-5.7,5.1z"/>
<path fill=#60ff81 d="M677,444.2l5.9-5.1l-5.5-2.5l-6,5z"/>
<path class=m d="M682.5,439.2l-5.1-2.2"/>
<path fill=#5fffa6 d="M618.2,459.7l6-5l-5.4-2.6l-6.1,4.9z"/>
<path class=m d="M623.8,454.8l-5-2.2"/>
<path fill=#66ff60 d="M735.8,427.9l5.8-5.1l-5.7-2.5l-5.8,5.1z"/>
<path class=m d="M730.5,425.3l5.4-4.5M741.2,422.9l-5.3-2.1"/>
<path fill=#d9ff61 d="M890.9,380.5l5.5-5.3l-6.1-2.3l-5.5,5.3z"/>
<path fill=#b4ff61 d="M842.7,396l5.7-5.3l-6-2.3l-5.6,5.2z"/>
<path class=m d="M837.2,393.5l5.2-4.7"/>
<path fill=#ffff61 d="M939,364.5l5.4-5.3l-6.2-2.2l-5.4,5.3z"/>
<path class=m d="M944,359.3l-5.7-1.9"/>
<path fill=#90ff60 d="M794.6,411l5.7-5.2l-5.8-2.4l-5.7,5.1z"/>
<path class=m d="M799.9,405.9l-5.4-2.1"/>
<path fill=#ffd761 d="M987.1,348.1l5.4-5.4l-6.3-2.1l-5.4,5.3z"/>
<path class=m d="M981.3,345.8l4.9-4.8"/>
<path fill=#60ff7b d="M687.6,441.9l6-5.1l-5.6-2.5l-5.9,5z"/>
<path fill=#60ffa0 d="M628.8,457.5l6.1-5l-5.5-2.5l-6,4.9z"/>
<path class=m d="M623.8,454.8l5.6-4.4"/>
<path fill=#6dff60 d="M746.5,425.5l5.8-5.1l-5.7-2.5l-5.8,5.1z"/>
<path fill=#5fffc4 d="M570,472.5l6.1-4.9l-5.3-2.7l-6.2,4.9z"/>
<path class=m d="M570,472l-4.9-2.3"/>
<path fill=#e0ff61 d="M901.6,377.7l5.5-5.3l-6.1-2.2l-5.5,5.2z"/>
<path fill=#bbff61 d="M853.5,393.3l5.6-5.2l-6-2.4l-5.6,5.2z"/>
<path class=m d="M858.6,388.2l-5.5-2"/>
<path fill=#fff761 d="M949.8,361.7l5.4-5.4l-6.2-2.2l-5.4,5.3z"/>
<path class=m d="M944,359.3l5-4.8"/>
<path fill=#97ff61 d="M805.3,408.5l5.7-5.3l-5.8-2.4l-5.7,5.2z"/>
<path class=m d="M799.9,405.9l5.3-4.6"/>
<path fill=#60ff9b d="M639.5,455.4l6-5.1l-5.5-2.6l-6,5z"/>
<path fill=#60ff75 d="M698.3,439.6l5.9-5.1l-5.6-2.6l-5.9,5.1z"/>
<path class=m d="M693.1,436.9l5.5-4.5"/>
<path fill=#ffd061 d="M997.9,345.1l5.4-5.4l-6.4-2.1l-5.3,5.3z"/>
<path class=m d="M1002.8,339.8l-5.8-1.8"/>
<path fill=#5fffbf d="M580.6,470.4l6.2-4.9l-5.4-2.6l-6.1,4.8z"/>
<path fill=#74ff61 d="M757.2,423.1l5.8-5.2l-5.8-2.5l-5.8,5.2z"/>
<path fill=#c2ff61 d="M864.2,390.7l5.6-5.3l-6-2.4l-5.6,5.3z"/>
<path fill=#e8ff61 d="M912.4,375l5.5-5.4l-6.2-2.2l-5.4,5.2z"/>
<path class=m d="M906.7,372.5l5.1-4.7M917.4,369.7l-5.6-1.9"/>
<path fill=#60ff95 d="M650.1,453.2l6-5.1l-5.5-2.6l-6,5z"/>
<path class=m d="M655.7,448.2l-5.1-2.2"/>
<path fill=#9eff61 d="M816,405.9l5.7-5.3l-5.9-2.4l-5.7,5.2z"/>
<path fill=#fff061 d="M960.5,358.8l5.5-5.4l-6.3-2.2l-5.4,5.3z"/>
<path fill=#60ff6f d="M709,437.3l5.9-5.2l-5.6-2.5l-5.9,5.1z"/>
<path class=m d="M714.5,432.2l-5.3-2.1"/>
<path fill=#60ffb9 d="M591.2,468.4l6.2-5l-5.4-2.6l-6.1,4.9z"/>
<path class=m d="M586.3,465.6l5.7-4.4M596.9,463.5l-4.9-2.3"/>
<path fill=#7bff61 d="M767.9,420.7l5.8-5.3l-5.8-2.4l-5.8,5.1z"/>
<path class=m d="M762.5,418l5.4-4.6M773.2,415.5l-5.3-2.1"/>
<path fill=#ffc861 d="M1008.8,342.1l5.3-5.4l-6.4-2.2l-5.3,5.4z"/>
<path class=m d="M1008.7,341.7l4.9-4.9"/>
<path fill=#60ff8f d="M660.8,451l6-5.1l-5.5-2.6l-6,5z"/>
<path class=m d="M655.7,448.2l5.5-4.5"/>
<path fill=#c9ff61 d="M875,388l5.5-5.3l-6-2.4l-5.6,5.3z"/>
<path class=m d="M869.4,385.5l5.1-4.7"/>
<path fill=#efff61 d="M923.1,372.2l5.5-5.4l-6.1-2.3l-5.5,5.3z"/>
<path fill=#61ff69 d="M719.7,434.9l5.9-5.1l-5.7-2.6l-5.9,5.1z"/>
<path fill=#60ffb3 d="M601.9,466.3l6.1-5l-5.4-2.7l-6.1,5z"/>
<path fill=#a5ff61 d="M826.8,403.3l5.6-5.3l-5.9-2.4l-5.6,5.3z"/>
<path class=m d="M832,398.1l-5.5-2"/>
<path fill=#ffe862 d="M971.3,355.9l5.4-5.4l-6.2-2.2l-5.4,5.3z"/>
<path class=m d="M976.3,350.6l-5.8-1.9"/>
<path fill=#82ff61 d="M778.6,418.2l5.7-5.3l-5.8-2.4l-5.7,5.1z"/>
<path fill=#61ff89 d="M671.5,448.7l5.9-5.1l-5.5-2.6l-6,5.1z"/>
<path fill=#60ffae d="M612.5,464.2l6.1-5.1l-5.4-2.6l-6.1,5z"/>
<path fill=#61ff62 d="M730.4,432.6l5.8-5.2l-5.7-2.6l-5.8,5.2z"/>
<path class=m d="M725.1,429.9l5.4-4.6"/>
<path fill=#d1ff62 d="M885.7,385.3l5.6-5.4l-6.1-2.3l-5.6,5.3z"/>
<path class=m d="M890.8,380l-5.6-2"/>
<path fill=#f7ff62 d="M933.9,369.4l5.5-5.4l-6.2-2.3l-5.5,5.3z"/>
<path fill=#acff61 d="M837.5,400.7l5.7-5.3l-6-2.4l-5.6,5.3z"/>
<path class=m d="M832,398.1l5.2-4.6"/>
<path fill=#ffe062 d="M982.2,353l5.3-5.5l-6.3-2.2l-5.3,5.4z"/>
<path class=m d="M976.3,350.6l5-4.8"/>
<path fill=#88ff61 d="M789.3,415.7l5.7-5.3l-5.8-2.4l-5.7,5.2z"/>
<path fill=#61ff83 d="M682.1,446.5l6-5.2l-5.6-2.6l-5.9,5.1z"/>
<path class=m d="M687.7,441.4l-5.2-2.2"/>
<path fill=#60ffa8 d="M623.2,462.1l6.1-5.1l-5.5-2.7l-6,5z"/>
<path class=m d="M618.2,459.2l5.6-4.4M628.8,457.1l-5-2.3"/>
<path fill=#66ff61 d="M741.1,430.2l5.8-5.2l-5.7-2.6l-5.8,5.2z"/>
<path class=m d="M746.5,425.1l-5.3-2.2"/>
<path fill=#d8ff62 d="M896.5,382.6l5.5-5.4l-6.1-2.4l-5.5,5.4z"/>
<path fill=#b3ff62 d="M848.3,398.1l5.6-5.3l-6-2.4l-5.6,5.2z"/>
<path fill=#feff62 d="M944.7,366.5l5.5-5.4l-6.3-2.3l-5.4,5.4z"/>
<path class=m d="M938.9,364.1l5.1-4.8M949.7,361.2l-5.7-1.9"/>
<path fill=#8fff62 d="M800,413.2l5.8-5.3l-5.9-2.5l-5.7,5.2z"/>
<path class=m d="M794.6,410.5l5.3-4.6M805.3,408l-5.4-2.1"/>
<path fill=#ffd862 d="M993,350l5.3-5.5l-6.3-2.2l-5.3,5.4z"/>
<path fill=#61ffa2 d="M633.9,459.9l6-5.1l-5.4-2.6l-6.1,5z"/>
<path fill=#61ff7d d="M692.8,444.2l6-5.2l-5.6-2.6l-6,5.1z"/>
<path class=m d="M687.7,441.4l5.4-4.5"/>
<path fill=#60ffc6 d="M574.9,474.9l6.2-5l-5.4-2.7l-6.1,4.9z"/>
<path class=m d="M574.9,474.5l-4.9-2.5"/>
<path fill=#6dff61 d="M751.8,427.8l5.8-5.3l-5.7-2.5l-5.9,5.2z"/>
<path fill=#e0ff62 d="M907.3,379.8l5.5-5.4l-6.1-2.3l-5.6,5.3z"/>
<path class=m d="M901.6,377.3l5.1-4.8"/>
<path fill=#baff62 d="M859,395.5l5.6-5.4l-6-2.4l-5.6,5.3z"/>
<path class=m d="M864.2,390.2l-5.6-2"/>
<path fill=#fff862 d="M955.5,363.7l5.4-5.5l-6.2-2.2l-5.4,5.3z"/>
<path fill=#96ff62 d="M810.8,410.7l5.7-5.3l-5.9-2.5l-5.7,5.2z"/>
<path fill=#61ff9c d="M644.6,457.8l6-5.2l-5.5-2.6l-6,5z"/>
<path fill=#61ff77 d="M703.5,441.9l6-5.2l-5.7-2.6l-5.9,5.1z"/>
<path fill=#60ffc0 d="M585.6,472.9l6.1-5.1l-5.3-2.7l-6.2,5z"/>
<path class=m d="M580.6,470l5.7-4.4"/>
<path fill=#ffd062 d="M1003.8,347.1l5.3-5.6l-6.3-2.2l-5.4,5.5z"/>
<path class=m d="M1003.7,346.6l5-4.9M1008.7,341.7l-5.9-1.9"/>
<path fill=#74ff62 d="M762.5,425.4l5.8-5.3l-5.8-2.5l-5.8,5.1z"/>
<path class=m d="M757.2,422.6l5.3-4.6"/>
<path fill=#c2ff62 d="M869.8,392.8l5.6-5.4l-6.1-2.4l-5.6,5.3z"/>
<path class=m d="M864.2,390.2l5.2-4.7"/>
<path fill=#e7ff62 d="M918,377.1l5.5-5.5l-6.1-2.3l-5.5,5.3z"/>
<path class=m d="M923.1,371.7l-5.7-2"/>
<path fill=#61ff97 d="M655.2,455.6l6.1-5.2l-5.6-2.6l-6,5z"/>
<path class=m d="M650.2,452.7l5.5-4.5M660.8,450.5l-5.1-2.3"/>
<path fill=#61ff71 d="M714.2,439.6l5.9-5.2l-5.6-2.6l-5.9,5.1z"/>
<path class=m d="M719.7,434.5l-5.2-2.3"/>
<path fill=#9dff62 d="M821.5,408.1l5.7-5.3l-5.9-2.5l-5.7,5.3z"/>
<path fill=#fff062 d="M966.3,360.8l5.4-5.5l-6.2-2.3l-5.4,5.5z"/>
<path fill=#61ffbb d="M596.2,470.8l6.2-5l-5.4-2.8l-6.2,5z"/>
<path class=m d="M601.9,465.8l-5-2.3"/>
<path fill=#7aff62 d="M773.2,422.9l5.8-5.3l-5.8-2.5l-5.8,5.2z"/>
<path class=m d="M778.6,417.7l-5.4-2.2"/>
<path fill=#61ff91 d="M665.9,453.4l6-5.2l-5.5-2.7l-6,5.1z"/>
<path fill=#c9ff62 d="M880.5,390.2l5.6-5.5l-6-2.4l-5.6,5.4z"/>
<path fill=#61ffb5 d="M606.9,468.8l6.1-5.1l-5.4-2.8l-6.1,5z"/>
<path fill=#62ff6b d="M724.9,437.3l5.9-5.3l-5.7-2.6l-5.8,5.2z"/>
<path class=m d="M719.7,434.5l5.4-4.6"/>
<path fill=#eeff62 d="M928.8,374.3l5.5-5.5l-6.2-2.3l-5.4,5.4z"/>
<path fill=#a4ff62 d="M832.3,405.6l5.6-5.4l-5.9-2.5l-5.7,5.3z"/>
<path class=m d="M826.8,402.9l5.2-4.8M837.5,400.3l-5.5-2.2"/>
<path fill=#ffe963 d="M977.1,357.9l5.4-5.5l-6.3-2.3l-5.3,5.5z"/>
<path class=m d="M971.3,355.4l5-4.8M982.1,352.5l-5.8-1.9"/>
<path fill=#81ff62 d="M784,420.5l5.7-5.3l-5.8-2.6l-5.8,5.2z"/>
<path fill=#62ff8b d="M676.6,451.1l6-5.2l-5.6-2.6l-6,5.1z"/>
<path fill=#61ffb0 d="M617.6,466.7l6.1-5.2l-5.5-2.7l-6.1,5z"/>
<path class=m d="M612.6,463.7l5.6-4.5"/>
<path fill=#62ff65 d="M735.7,434.9l5.8-5.3l-5.7-2.6l-5.9,5.2z"/>
<path fill=#d0ff63 d="M891.3,387.5l5.6-5.5l-6.1-2.4l-5.6,5.4z"/>
<path class=m d="M896.4,382.1l-5.6-2.1"/>
<path fill=#f6ff63 d="M939.6,371.5l5.5-5.5l-6.2-2.4l-5.5,5.4z"/>
<path class=m d="M933.9,368.9l5-4.8"/>
<path fill=#abff62 d="M843,403l5.7-5.4l-6-2.5l-5.6,5.3z"/>
<path fill=#ffe163 d="M988,355l5.3-5.5l-6.3-2.3l-5.3,5.4z"/>
<path fill=#88ff62 d="M794.7,418l5.8-5.3l-5.9-2.6l-5.7,5.3z"/>
<path class=m d="M789.3,415.3l5.3-4.8"/>
<path fill=#62ff85 d="M687.3,448.9l6-5.2l-5.6-2.7l-6,5.1z"/>
<path class=m d="M682.2,446l5.5-4.6M692.9,443.8l-5.2-2.4"/>
<path fill=#61ffaa d="M628.3,464.5l6.1-5.1l-5.5-2.8l-6.1,5.1z"/>
<path class=m d="M633.9,459.5l-5.1-2.4"/>
<path fill=#66ff62 d="M746.4,432.6l5.8-5.3l-5.7-2.7l-5.9,5.2z"/>
<path class=m d="M751.8,427.4l-5.3-2.3"/>
<path fill=#d7ff63 d="M902.1,384.8l5.6-5.5l-6.2-2.5l-5.5,5.4z"/>
<path class=m d="M896.4,382.1l5.2-4.8"/>
<path fill=#b3ff63 d="M853.8,400.4l5.6-5.5l-6-2.5l-5.6,5.4z"/>
<path fill=#fdff63 d="M950.5,368.7l5.4-5.6l-6.2-2.3l-5.5,5.4z"/>
<path class=m d="M955.5,363.2l-5.8-2"/>
<path fill=#8fff63 d="M805.5,415.5l5.7-5.4l-5.9-2.5l-5.7,5.3z"/>
<path class=m d="M810.8,410.2l-5.5-2.2"/>
<path fill=#62ffa4 d="M639,462.4l6-5.2l-5.5-2.7l-6,5.1z"/>
<path fill=#62ff7f d="M698,446.6l6-5.2l-5.6-2.7l-6,5.2z"/>
<path fill=#ffd963 d="M998.8,352.1l5.4-5.6l-6.4-2.3l-5.3,5.5z"/>
<path class=m d="M998.8,351.6l4.9-5"/>
<path fill=#61ffc8 d="M579.9,477.5l6.1-5.1l-5.3-2.8l-6.2,5z"/>
<path class=m d="M579.9,477l-5-2.5M574.9,474.5l5.7-4.5"/>
<path fill=#6dff62 d="M757.1,430.2l5.8-5.4l-5.7-2.6l-5.8,5.2z"/>
<path class=m d="M751.8,427.4l5.4-4.8"/>
<path fill=#dfff63 d="M912.9,382l5.5-5.5l-6.1-2.4l-5.5,5.4z"/>
<path fill=#baff63 d="M864.6,397.7l5.6-5.4l-6-2.5l-5.7,5.4z"/>
<path class=m d="M859,395.1l5.2-4.9M869.7,392.4l-5.5-2.2"/>
<path fill=#fff963 d="M961.3,365.8l5.4-5.5l-6.2-2.4l-5.5,5.5z"/>
<path fill=#96ff63 d="M816.2,413l5.7-5.4l-5.9-2.6l-5.7,5.3z"/>
<path fill=#62ff9e d="M649.7,460.2l6-5.2l-5.5-2.7l-6.1,5.1z"/>
<path class=m d="M644.6,457.3l5.6-4.6"/>
<path fill=#62ff79 d="M708.8,444.4l5.9-5.3l-5.7-2.7l-5.9,5.2z"/>
<path fill=#61ffc2 d="M590.6,475.4l6.1-5.1l-5.4-2.8l-6.1,5z"/>
<path fill=#73ff63 d="M767.9,427.8l5.8-5.4l-5.8-2.6l-5.8,5.2z"/>
<path fill=#c1ff63 d="M875.4,395.1l5.6-5.5l-6.1-2.5l-5.6,5.4z"/>
<path fill=#e6ff63 d="M923.7,379.3l5.5-5.6l-6.1-2.4l-5.5,5.4z"/>
<path class=m d="M928.8,373.8l-5.7-2.1"/>
<path fill=#62ff99 d="M660.4,458.1l6-5.3l-5.6-2.7l-6,5.1z"/>
<path class=m d="M666,452.9l-5.2-2.4"/>
<path fill=#62ff73 d="M719.5,442l5.9-5.3l-5.7-2.7l-5.9,5.3z"/>
<path class=m d="M714.2,439.2l5.5-4.7M725,436.8l-5.3-2.3"/>
<path fill=#9dff63 d="M827,410.5l5.7-5.5l-6-2.6l-5.6,5.4z"/>
<path class=m d="M821.5,407.7l5.3-4.8"/>
<path fill=#62ffbd d="M601.2,473.4l6.2-5.2l-5.4-2.8l-6.2,5.1z"/>
<path class=m d="M606.9,468.3l-5-2.5"/>
<path fill=#fff263 d="M972.1,362.9l5.4-5.5l-6.3-2.4l-5.4,5.5z"/>
<path class=m d="M966.3,360.4l5-5"/>
<path fill=#7aff63 d="M778.6,425.3l5.8-5.4l-5.8-2.6l-5.8,5.3z"/>
<path class=m d="M784,420l-5.4-2.3"/>
<path fill=#62ff93 d="M671.1,455.9l6-5.3l-5.6-2.8l-6,5.2z"/>
<path fill=#62ffb7 d="M611.9,471.3l6.2-5.2l-5.5-2.8l-6.1,5.1z"/>
<path class=m d="M606.9,468.3l5.7-4.6"/>
<path fill=#c8ff63 d="M886.2,392.4l5.5-5.5l-6-2.5l-5.6,5.4z"/>
<path fill=#63ff6d d="M730.2,439.7l5.9-5.3l-5.7-2.7l-5.9,5.2z"/>
<path fill=#edff63 d="M934.6,376.5l5.4-5.6l-6.2-2.4l-5.4,5.5z"/>
<path class=m d="M928.8,373.8l5.1-4.9"/>
<path fill=#a4ff63 d="M837.8,407.9l5.6-5.5l-5.9-2.6l-5.7,5.4z"/>
<path class=m d="M843,402.5l-5.5-2.2"/>
<path fill=#ffea64 d="M983,360.1l5.4-5.7l-6.4-2.3l-5.3,5.5z"/>
<path class=m d="M987.9,354.6l-5.8-2.1"/>
<path fill=#81ff63 d="M789.4,422.9l5.7-5.4l-5.8-2.7l-5.8,5.3z"/>
<path class=m d="M784,420l5.3-4.7"/>
<path fill=#63ff8d d="M681.8,453.6l6-5.2l-5.6-2.8l-6,5.2z"/>
<path class=m d="M676.7,450.7l5.5-4.7"/>
<path fill=#62ffb2 d="M622.7,469.2l6.1-5.2l-5.5-2.8l-6.1,5.1z"/>
<path fill=#63ff67 d="M741,437.4l5.8-5.4l-5.7-2.7l-5.9,5.3z"/>
<path fill=#cfff64 d="M897,389.7l5.5-5.5l-6.1-2.5l-5.5,5.4z"/>
<path class=m d="M891.3,387l5.1-4.9M902.1,384.3l-5.7-2.2"/>
<path fill=#abff63 d="M848.6,405.3l5.6-5.5l-6-2.6l-5.6,5.4z"/>
<path fill=#f5ff64 d="M945.4,373.7l5.4-5.6l-6.2-2.4l-5.4,5.5z"/>
<path fill=#87ff63 d="M800.1,420.4l5.8-5.4l-5.9-2.7l-5.7,5.4z"/>
<path fill=#ffe264 d="M993.8,357.1l5.4-5.6l-6.3-2.4l-5.4,5.6z"/>
<path class=m d="M993.8,356.7l5-5.1"/>
<path fill=#63ff87 d="M692.5,451.4l6-5.3l-5.6-2.8l-6,5.2z"/>
<path class=m d="M698.1,446.2l-5.2-2.4"/>
<path fill=#62ffac d="M633.4,467.1l6-5.2l-5.5-2.9l-6,5.2z"/>
<path class=m d="M639,462l-5.1-2.5"/>
<path fill=#65ff63 d="M751.7,435l5.9-5.4l-5.8-2.7l-5.8,5.3z"/>
<path class=m d="M746.4,432.1l5.4-4.7M757.1,429.7l-5.3-2.3"/>
<path fill=#d6ff64 d="M907.8,387l5.5-5.5l-6.1-2.6l-5.6,5.5z"/>
<path fill=#b2ff64 d="M859.4,402.7l5.6-5.5l-6-2.6l-5.7,5.4z"/>
<path class=m d="M853.8,399.9l5.2-4.8"/>
<path fill=#fcff64 d="M956.2,370.9l5.5-5.6l-6.3-2.5l-5.4,5.5z"/>
<path class=m d="M961.2,365.4l-5.7-2.2"/>
<path fill=#8eff63 d="M810.9,417.9l5.8-5.5l-6-2.6l-5.7,5.4z"/>
<path class=m d="M816.2,412.5l-5.4-2.3"/>
<path fill=#63ffa6 d="M644.1,465l6-5.3l-5.5-2.8l-6,5.1z"/>
<path class=m d="M639,462l5.6-4.7"/>
<path fill=#63ff81 d="M703.3,449.2l5.9-5.4l-5.6-2.8l-6,5.3z"/>
<path fill=#62ffca d="M584.9,480.1l6.1-5.2l-5.3-2.9l-6.2,5.1z"/>
<path class=m d="M584.9,479.6l-5-2.6"/>
<path fill=#6cff63 d="M762.5,432.6l5.8-5.4l-5.8-2.7l-5.8,5.3z"/>
<path fill=#deff64 d="M918.6,384.3l5.5-5.6l-6.1-2.5l-5.6,5.5z"/>
<path fill=#b9ff64 d="M870.2,400.1l5.6-5.6l-6.1-2.6l-5.6,5.5z"/>
<path class=m d="M875.3,394.7l-5.6-2.3"/>
<path fill=#63ffa1 d="M654.8,462.8l6-5.3l-5.5-2.8l-6,5.2z"/>
<path fill=#fffa64 d="M967.1,368l5.4-5.6l-6.3-2.5l-5.4,5.6z"/>
<path class=m d="M961.2,365.4l5.1-5"/>
<path fill=#95ff64 d="M821.7,415.4l5.7-5.5l-5.9-2.7l-5.7,5.4z"/>
<path class=m d="M816.2,412.5l5.3-4.8"/>
<path fill=#63ff7b d="M714,446.9l5.9-5.4l-5.6-2.8l-6,5.3z"/>
<path class=m d="M708.8,443.9l5.4-4.7"/>
<path fill=#62ffc4 d="M595.6,478.1l6.1-5.3l-5.4-2.9l-6.1,5.2z"/>
<path fill=#73ff64 d="M773.3,430.2l5.8-5.4l-5.9-2.8l-5.8,5.4z"/>
<path fill=#63ff9b d="M665.5,460.6l6.1-5.3l-5.6-2.8l-6,5.2z"/>
<path class=m d="M671.1,455.4l-5.1-2.5"/>
<path fill=#c0ff64 d="M881,397.4l5.6-5.5l-6.1-2.6l-5.6,5.5z"/>
<path fill=#e5ff64 d="M929.4,381.5l5.5-5.6l-6.1-2.5l-5.5,5.5z"/>
<path class=m d="M923.7,378.8l5.1-5M934.5,376l-5.7-2.2"/>
<path fill=#63ff76 d="M724.8,444.6l5.9-5.4l-5.7-2.8l-5.9,5.3z"/>
<path class=m d="M730.2,439.3l-5.2-2.5"/>
<path fill=#9cff64 d="M832.5,412.9l5.7-5.6l-6-2.6l-5.7,5.4z"/>
<path fill=#63ffbf d="M606.3,476l6.1-5.2l-5.4-2.9l-6.2,5.1z"/>
<path class=m d="M601.3,472.9l5.6-4.6M612,470.9l-5.1-2.6"/>
<path fill=#fff364 d="M977.9,365.2l5.4-5.7l-6.3-2.5l-5.4,5.6z"/>
<path fill=#79ff64 d="M784,427.8l5.8-5.5l-5.8-2.7l-5.8,5.4z"/>
<path class=m d="M778.6,424.9l5.4-4.9M789.4,422.4l-5.4-2.4"/>
<path fill=#63ff95 d="M676.3,458.5l6-5.4l-5.6-2.9l-6,5.3z"/>
<path class=m d="M671.1,455.4l5.6-4.7"/>
<path fill=#63ffb9 d="M617,473.9l6.1-5.2l-5.4-2.9l-6.2,5.1z"/>
<path fill=#64ff70 d="M735.5,442.3l5.9-5.5l-5.7-2.8l-5.9,5.4z"/>
<path fill=#c7ff64 d="M891.8,394.8l5.6-5.6l-6.1-2.6l-5.6,5.5z"/>
<path class=m d="M886.1,392l5.2-5"/>
<path fill=#ecff64 d="M940.3,378.8l5.5-5.7l-6.2-2.5l-5.5,5.6z"/>
<path fill=#a3ff64 d="M843.3,410.3l5.7-5.5l-6-2.7l-5.7,5.4z"/>
<path class=m d="M848.5,404.9l-5.5-2.4"/>
<path fill=#ffeb64 d="M988.8,362.3l5.4-5.7l-6.3-2.5l-5.4,5.6z"/>
<path class=m d="M988.8,361.8l5-5.1M993.8,356.7l-5.9-2.1"/>
<path fill=#80ff64 d="M794.8,425.4l5.8-5.5l-5.9-2.8l-5.8,5.4z"/>
<path fill=#64ff90 d="M687,456.2l6-5.3l-5.6-2.9l-6,5.3z"/>
<path fill=#63ffb4 d="M627.7,471.9l6.1-5.3l-5.5-3l-6.1,5.3z"/>
<path fill=#64ff6a d="M746.3,439.9l5.9-5.4l-5.8-2.8l-5.9,5.3z"/>
<path class=m d="M741,436.9l5.4-4.8"/>
<path fill=#ceff64 d="M902.6,392.1l5.6-5.6l-6.1-2.6l-5.6,5.5z"/>
<path class=m d="M907.7,386.6l-5.6-2.3"/>
<path fill=#aaff64 d="M854.1,407.7l5.7-5.5l-6-2.7l-5.7,5.5z"/>
<path class=m d="M848.5,404.9l5.3-5"/>
<path fill=#f4ff65 d="M951.1,376l5.5-5.7l-6.2-2.5l-5.5,5.6z"/>
<path fill=#87ff64 d="M805.6,422.9l5.8-5.5l-6-2.8l-5.7,5.5z"/>
<path fill=#64ff8a d="M697.8,454l5.9-5.4l-5.6-2.9l-6,5.4z"/>
<path class=m d="M703.3,448.7l-5.2-2.5"/>
<path fill=#63ffae d="M638.5,469.8l6.1-5.4l-5.6-2.9l-6,5.2z"/>
<path class=m d="M633.4,466.7l5.6-4.7M644.1,464.5l-5.1-2.5"/>
<path fill=#65ff64 d="M757.1,437.6l5.8-5.5l-5.8-2.8l-5.8,5.4z"/>
<path class=m d="M762.5,432.2l-5.4-2.5"/>
<path fill=#d5ff65 d="M913.5,389.4l5.5-5.7l-6.1-2.6l-5.6,5.6z"/>
<path fill=#b1ff65 d="M864.9,405.1l5.7-5.6l-6.1-2.6l-5.6,5.5z"/>
<path fill=#fbff65 d="M962,373.2l5.5-5.7l-6.3-2.6l-5.5,5.6z"/>
<path class=m d="M956.2,370.4l5-5M967,367.6l-5.8-2.2"/>
<path fill=#8dff64 d="M816.4,420.4l5.7-5.6l-5.9-2.7l-5.7,5.5z"/>
<path class=m d="M810.9,417.5l5.3-5M821.7,414.9l-5.5-2.4"/>
<path fill=#64ffa9 d="M649.2,467.6l6.1-5.3l-5.6-3l-6,5.3z"/>
<path fill=#64ff84 d="M708.5,451.8l6-5.5l-5.7-2.8l-5.9,5.3z"/>
<path class=m d="M703.3,448.7l5.5-4.8"/>
<path fill=#63ffcc d="M589.9,482.8l6.2-5.3l-5.5-3l-6.1,5.2z"/>
<path class=m d="M589.9,482.4l-5-2.8"/>
<path fill=#6bff64 d="M767.9,435.2l5.8-5.5l-5.8-2.8l-5.8,5.4z"/>
<path fill=#b8ff65 d="M875.8,402.5l5.6-5.6l-6.1-2.7l-5.6,5.5z"/>
<path class=m d="M880.9,397l-5.6-2.3"/>
<path fill=#dcff65 d="M924.3,386.7l5.5-5.7l-6.1-2.6l-5.6,5.6z"/>
<path class=m d="M918.6,383.9l5.1-5.1"/>
<path fill=#64ffa3 d="M660,465.5l6-5.4l-5.6-2.9l-6,5.3z"/>
<path fill=#94ff65 d="M827.2,417.9l5.7-5.6l-5.9-2.7l-5.7,5.4z"/>
<path fill=#64ff7e d="M719.3,449.5l5.9-5.5l-5.7-2.9l-5.9,5.4z"/>
<path fill=#fffc65 d="M972.9,370.3l5.4-5.7l-6.3-2.5l-5.4,5.6z"/>
<path fill=#63ffc7 d="M600.6,480.8l6.2-5.3l-5.5-3l-6.1,5.2z"/>
<path class=m d="M595.6,477.6l5.7-4.7"/>
<path fill=#72ff65 d="M778.7,432.8l5.8-5.6l-5.9-2.8l-5.8,5.5z"/>
<path class=m d="M773.3,429.8l5.3-4.9"/>
<path fill=#64ff9e d="M670.7,463.3l6-5.4l-5.6-2.9l-6,5.3z"/>
<path class=m d="M665.6,460.2l5.5-4.8M676.3,458l-5.2-2.6"/>
<path fill=#bfff65 d="M886.6,399.9l5.6-5.7l-6.1-2.7l-5.6,5.6z"/>
<path class=m d="M880.9,397l5.2-5"/>
<path fill=#e4ff65 d="M935.2,383.9l5.5-5.7l-6.2-2.6l-5.5,5.6z"/>
<path class=m d="M940.2,378.3l-5.7-2.3"/>
<path fill=#64ff78 d="M730.1,447.2l5.9-5.5l-5.7-2.9l-5.9,5.4z"/>
<path class=m d="M735.6,441.8l-5.4-2.5"/>
<path fill=#64ffc1 d="M611.4,478.7l6.1-5.3l-5.5-3l-6.1,5.3z"/>
<path class=m d="M617,473.5l-5-2.6"/>
<path fill=#9bff65 d="M838,415.4l5.7-5.6l-6-2.8l-5.6,5.5z"/>
<path fill=#fff465 d="M983.8,367.5l5.4-5.8l-6.3-2.5l-5.5,5.6z"/>
<path class=m d="M983.7,367l5.1-5.2"/>
<path fill=#78ff65 d="M789.5,430.4l5.7-5.6l-5.8-2.8l-5.8,5.4z"/>
<path class=m d="M794.8,424.9l-5.4-2.5"/>
<path fill=#64ff98 d="M681.5,461.1l6-5.4l-5.6-3l-6,5.4z"/>
<path fill=#64ffbc d="M622.1,476.7l6.1-5.4l-5.5-3l-6.1,5.3z"/>
<path fill=#65ff72 d="M740.9,444.9l5.9-5.5l-5.8-2.9l-5.9,5.4z"/>
<path class=m d="M735.6,441.8l5.4-4.9"/>
<path fill=#c6ff65 d="M897.5,397.2l5.5-5.7l-6.1-2.7l-5.6,5.6z"/>
<path fill=#ebff65 d="M946,381.2l5.5-5.8l-6.2-2.6l-5.5,5.6z"/>
<path fill=#a2ff65 d="M848.9,412.8l5.6-5.6l-6-2.8l-5.7,5.6z"/>
<path class=m d="M843.3,409.9l5.2-5M854.1,407.3l-5.6-2.4"/>
<path fill=#7fff65 d="M800.3,427.9l5.7-5.6l-5.9-2.8l-5.7,5.5z"/>
<path fill=#65ff92 d="M692.3,458.9l5.9-5.4l-5.6-3l-6,5.4z"/>
<path fill=#64ffb6 d="M632.9,474.6l6-5.4l-5.5-3l-6.1,5.3z"/>
<path class=m d="M627.8,471.4l5.6-4.7"/>
<path fill=#65ff6c d="M751.7,442.6l5.8-5.6l-5.8-2.9l-5.8,5.5z"/>
<path fill=#cdff65 d="M908.3,394.6l5.6-5.8l-6.2-2.7l-5.5,5.7z"/>
<path class=m d="M913.4,388.9l-5.7-2.3"/>
<path fill=#a9ff65 d="M859.7,410.2l5.7-5.6l-6.1-2.8l-5.6,5.6z"/>
<path fill=#f2ff66 d="M956.9,378.4l5.5-5.8l-6.3-2.6l-5.4,5.6z"/>
<path class=m d="M951.1,375.5l5.1-5.1"/>
<path fill=#86ff65 d="M811.1,425.5l5.7-5.7l-5.9-2.8l-5.7,5.5z"/>
<path class=m d="M805.6,422.4l5.3-4.9"/>
<path fill=#65ff8c d="M703,456.7l6-5.5l-5.7-2.9l-5.9,5.4z"/>
<path class=m d="M697.8,453.6l5.5-4.9M708.6,451.3l-5.3-2.6"/>
<path fill=#64ffb1 d="M643.6,472.5l6.1-5.4l-5.6-3l-6,5.3z"/>
<path class=m d="M649.2,467.2l-5.1-2.7"/>
<path fill=#65ff66 d="M762.5,440.2l5.8-5.6l-5.8-2.9l-5.8,5.5z"/>
<path class=m d="M767.9,434.7l-5.4-2.5"/>
<path fill=#d4ff66 d="M919.2,391.9l5.5-5.8l-6.2-2.7l-5.5,5.7z"/>
<path class=m d="M913.4,388.9l5.2-5"/>
<path fill=#afff66 d="M870.5,407.7l5.7-5.7l-6.1-2.8l-5.6,5.6z"/>
<path fill=#f9ff66 d="M967.8,375.6l5.5-5.8l-6.3-2.7l-5.5,5.7z"/>
<path class=m d="M972.8,369.9l-5.8-2.3"/>
<path fill=#8cff65 d="M821.9,423l5.7-5.7l-5.9-2.8l-5.7,5.6z"/>
<path class=m d="M827.2,417.4l-5.5-2.5"/>
<path fill=#65ffab d="M654.4,470.4l6-5.5l-5.5-3l-6.1,5.4z"/>
<path fill=#65ff87 d="M713.8,454.5l6-5.6l-5.7-2.9l-6,5.4z"/>
<path fill=#64ffce d="M594.9,485.6l6.2-5.3l-5.4-3.1l-6.2,5.2z"/>
<path class=m d="M595,485.2l-5.1-2.8M589.9,482.4l5.7-4.8"/>
<path fill=#6aff65 d="M773.3,437.8l5.8-5.6l-5.8-2.9l-5.9,5.5z"/>
<path class=m d="M767.9,434.7l5.4-4.9"/>
<path fill=#b6ff66 d="M881.4,405.1l5.6-5.8l-6.1-2.8l-5.6,5.7z"/>
<path class=m d="M875.7,402.1l5.2-5.1M886.6,399.4l-5.7-2.4"/>
<path fill=#dbff66 d="M930,389.1l5.6-5.7l-6.2-2.7l-5.6,5.6z"/>
<path fill=#65ffa6 d="M665.2,468.2l6-5.4l-5.6-3.1l-6,5.4z"/>
<path class=m d="M660,465l5.6-4.8"/>
<path fill=#65ff81 d="M724.6,452.2l5.9-5.5l-5.7-3l-5.9,5.4z"/>
<path fill=#93ff66 d="M832.7,420.5l5.8-5.7l-6-2.8l-5.7,5.5z"/>
<path fill=#fffd66 d="M978.7,372.7l5.5-5.8l-6.4-2.6l-5.4,5.7z"/>
<path class=m d="M978.7,372.3l5-5.3"/>
<path fill=#64ffc9 d="M605.7,483.6l6.1-5.4l-5.4-3.1l-6.2,5.3z"/>
<path fill=#71ff66 d="M784.1,435.4l5.8-5.6l-5.9-2.9l-5.8,5.5z"/>
<path fill=#65ffa0 d="M675.9,466.1l6.1-5.5l-5.7-3l-6,5.4z"/>
<path class=m d="M681.5,460.7l-5.2-2.7"/>
<path fill=#bdff66 d="M892.3,402.4l5.6-5.7l-6.2-2.8l-5.6,5.6z"/>
<path fill=#65ff7b d="M735.4,449.9l5.9-5.6l-5.7-2.9l-5.9,5.4z"/>
<path class=m d="M730.1,446.7l5.5-4.9M740.9,444.4l-5.3-2.6"/>
<path fill=#65ffc4 d="M616.4,481.6l6.2-5.4l-5.5-3.1l-6.2,5.3z"/>
<path class=m d="M622.1,476.2l-5.1-2.7"/>
<path fill=#e2ff66 d="M940.9,386.4l5.5-5.8l-6.2-2.7l-5.5,5.7z"/>
<path class=m d="M946,380.7l-5.8-2.4"/>
<path fill=#9aff66 d="M843.6,418l5.7-5.7l-6-2.9l-5.7,5.6z"/>
<path class=m d="M838,414.9l5.3-5"/>
<path fill=#77ff66 d="M794.9,433l5.8-5.6l-5.9-2.9l-5.8,5.5z"/>
<path class=m d="M800.3,427.5l-5.5-2.6"/>
<path fill=#65ff9b d="M686.7,463.9l6-5.5l-5.6-3.1l-6,5.5z"/>
<path fill=#65ffbe d="M627.2,479.5l6.1-5.4l-5.5-3.1l-6.1,5.3z"/>
<path class=m d="M622.1,476.2l5.7-4.8"/>
<path fill=#66ff75 d="M746.2,447.6l5.9-5.6l-5.8-3l-5.9,5.5z"/>
<path fill=#c4ff66 d="M903.1,399.8l5.6-5.8l-6.1-2.8l-5.6,5.7z"/>
<path fill=#a0ff66 d="M854.4,415.4l5.7-5.7l-6-2.9l-5.7,5.7z"/>
<path class=m d="M859.7,409.8l-5.6-2.5"/>
<path fill=#e9ff66 d="M951.8,383.6l5.5-5.8l-6.2-2.7l-5.5,5.7z"/>
<path class=m d="M946,380.7l5.1-5.2"/>
<path fill=#7eff66 d="M805.7,430.6l5.8-5.7l-5.9-2.9l-5.8,5.6z"/>
<path class=m d="M800.3,427.5l5.3-5.1"/>
<path fill=#65ff95 d="M697.5,461.7l6-5.5l-5.7-3.1l-6,5.5z"/>
<path class=m d="M692.3,458.5l5.5-4.9"/>
<path fill=#65ffb9 d="M638,477.4l6.1-5.4l-5.6-3.1l-6.1,5.3z"/>
<path fill=#66ff6f d="M757,445.3l5.9-5.6l-5.8-3l-5.9,5.5z"/>
<path fill=#cbff66 d="M914,397.1l5.6-5.8l-6.2-2.8l-5.6,5.7z"/>
<path class=m d="M908.3,394.1l5.1-5.2M919.1,391.4l-5.7-2.5"/>
<path fill=#a7ff66 d="M865.3,412.9l5.7-5.8l-6.1-2.9l-5.7,5.7z"/>
<path fill=#f0ff66 d="M962.7,380.8l5.5-5.8l-6.3-2.7l-5.4,5.7z"/>
<path fill=#84ff66 d="M816.6,428.1l5.7-5.7l-5.9-2.9l-5.8,5.6z"/>
<path fill=#66ff8f d="M708.3,459.5l6-5.6l-5.7-3l-6,5.4z"/>
<path class=m d="M713.8,454l-5.2-2.7"/>
<path fill=#65ffb3 d="M648.8,475.3l6-5.4l-5.5-3.2l-6.1,5.4z"/>
<path class=m d="M654.4,469.9l-5.2-2.7"/>
<path fill=#66ff69 d="M767.9,442.9l5.8-5.6l-5.8-3l-5.9,5.5z"/>
<path class=m d="M762.5,439.8l5.4-5.1M773.3,437.4l-5.4-2.7"/>
<path fill=#d2ff67 d="M924.9,394.4l5.5-5.8l-6.2-2.8l-5.5,5.7z"/>
<path fill=#aeff66 d="M876.2,410.3l5.6-5.8l-6.1-2.9l-5.6,5.7z"/>
<path class=m d="M870.5,407.2l5.2-5.1"/>
<path fill=#f8ff67 d="M973.7,378l5.4-5.8l-6.3-2.8l-5.5,5.8z"/>
<path class=m d="M973.6,377.6l5.1-5.3M978.7,372.3l-5.9-2.4"/>
<path fill=#8bff66 d="M827.4,425.7l5.8-5.8l-6-2.9l-5.7,5.6z"/>
<path class=m d="M832.7,420l-5.5-2.6"/>
<path fill=#66ffae d="M659.6,473.2l6-5.5l-5.6-3.1l-6,5.4z"/>
<path class=m d="M654.4,469.9l5.6-4.9"/>
<path fill=#66ff8a d="M719.1,457.3l6-5.6l-5.8-3.1l-5.9,5.5z"/>
<path fill=#65ffd1 d="M600,488.5l6.2-5.4l-5.5-3.2l-6.2,5.3z"/>
<path class=m d="M600,488.1l-5-2.9"/>
<path fill=#69ff66 d="M778.7,440.6l5.8-5.7l-5.8-3l-5.9,5.6z"/>
<path fill=#b5ff67 d="M887,407.7l5.7-5.8l-6.1-2.9l-5.7,5.7z"/>
<path class=m d="M892.2,402l-5.6-2.6"/>
<path fill=#d9ff67 d="M935.8,391.7l5.5-5.9l-6.2-2.8l-5.5,5.8z"/>
<path fill=#66ffa9 d="M670.4,471.1l6-5.5l-5.6-3.2l-6.1,5.5z"/>
<path fill=#66ff84 d="M729.9,455l6-5.6l-5.8-3.1l-5.9,5.5z"/>
<path class=m d="M724.6,451.7l5.5-5"/>
<path fill=#92ff67 d="M838.3,423.2l5.7-5.8l-6-2.9l-5.7,5.6z"/>
<path class=m d="M832.7,420l5.3-5.1"/>
<path fill=#65ffcc d="M610.8,486.5l6.1-5.5l-5.5-3.2l-6.1,5.4z"/>
<path fill=#6fff66 d="M789.5,438.2l5.8-5.7l-5.8-3l-5.9,5.6z"/>
<path fill=#66ffa3 d="M681.2,469l6-5.6l-5.7-3.2l-6,5.5z"/>
<path class=m d="M686.7,463.5l-5.2-2.8"/>
<path fill=#bcff67 d="M897.9,405l5.6-5.8l-6.1-2.9l-5.6,5.8z"/>
<path fill=#66ff7e d="M740.8,452.7l5.9-5.6l-5.8-3.1l-5.9,5.6z"/>
<path class=m d="M746.2,447.2l-5.3-2.8"/>
<path fill=#66ffc6 d="M621.5,484.5l6.2-5.5l-5.5-3.2l-6.2,5.4z"/>
<path class=m d="M616.5,481.1l5.6-4.9M627.2,479.1l-5.1-2.9"/>
<path fill=#e0ff67 d="M946.7,389l5.5-5.9l-6.2-2.8l-5.5,5.8z"/>
<path class=m d="M940.9,385.9l5.1-5.2M951.8,383.2l-5.8-2.5"/>
<path fill=#98ff67 d="M849.2,420.7l5.7-5.8l-6.1-3l-5.7,5.7z"/>
<path fill=#76ff67 d="M800.4,435.8l5.8-5.8l-5.9-3l-5.8,5.7z"/>
<path class=m d="M794.9,432.6l5.4-5.1M805.7,430.1l-5.4-2.6"/>
<path fill=#66ff9d d="M692,466.8l6-5.6l-5.7-3.2l-6,5.6z"/>
<path class=m d="M686.7,463.5l5.6-5"/>
<path fill=#66ffc1 d="M632.3,482.4l6.2-5.5l-5.6-3.2l-6.1,5.4z"/>
<path fill=#67ff78 d="M751.6,450.4l5.9-5.7l-5.8-3l-5.9,5.6z"/>
<path fill=#c3ff67 d="M908.8,402.4l5.6-5.9l-6.2-2.8l-5.5,5.7z"/>
<path class=m d="M903.1,399.3l5.2-5.2"/>
<path fill=#9fff67 d="M860,418.1l5.7-5.8l-6-2.9l-5.7,5.7z"/>
<path class=m d="M865.3,412.4l-5.6-2.6"/>
<path fill=#e7ff67 d="M957.6,386.2l5.5-5.9l-6.3-2.8l-5.4,5.8z"/>
<path fill=#7cff67 d="M811.2,433.3l5.8-5.7l-5.9-3l-5.8,5.6z"/>
<path fill=#66ff98 d="M702.8,464.6l6-5.6l-5.7-3.2l-6,5.6z"/>
<path fill=#66ffbc d="M643.1,480.4l6.1-5.6l-5.5-3.2l-6.1,5.5z"/>
<path fill=#67ff72 d="M762.4,448.1l5.9-5.7l-5.8-3.1l-5.9,5.6z"/>
<path class=m d="M757,444.8l5.5-5"/>
<path fill=#c9ff67 d="M919.7,399.7l5.6-5.9l-6.2-2.8l-5.6,5.8z"/>
<path class=m d="M924.9,394l-5.8-2.6"/>
<path fill=#a6ff67 d="M870.9,415.6l5.7-5.9l-6.1-2.9l-5.7,5.7z"/>
<path class=m d="M865.3,412.4l5.2-5.2"/>
<path fill=#efff67 d="M968.6,383.4l5.4-5.9l-6.3-2.8l-5.4,5.8z"/>
<path class=m d="M968.5,383l5.1-5.4"/>
<path fill=#83ff67 d="M822.1,430.9l5.8-5.8l-6-3l-5.8,5.7z"/>
<path fill=#66ffb6 d="M654,478.3l6-5.6l-5.6-3.2l-6,5.5z"/>
<path class=m d="M648.8,474.9l5.6-5M659.6,472.8l-5.2-2.9"/>
<path fill=#67ff92 d="M713.6,462.4l6-5.7l-5.7-3.1l-6,5.5z"/>
<path class=m d="M719.1,456.8l-5.3-2.8"/>
<path fill=#67ff6c d="M773.3,445.8l5.8-5.8l-5.8-3.1l-5.9,5.7z"/>
<path class=m d="M778.7,440.1l-5.4-2.7"/>
<path fill=#acff67 d="M881.8,413l5.7-5.9l-6.2-2.9l-5.6,5.7z"/>
<path fill=#d0ff67 d="M930.7,397l5.5-5.9l-6.2-2.9l-5.6,5.9z"/>
<path fill=#66ffb1 d="M664.8,476.2l6-5.6l-5.6-3.2l-6.1,5.5z"/>
<path fill=#89ff67 d="M833,428.4l5.7-5.8l-6-3l-5.7,5.7z"/>
<path class=m d="M827.4,425.2l5.3-5.2M838.3,422.7l-5.6-2.7"/>
<path fill=#67ff8d d="M724.5,460.1l5.9-5.6l-5.8-3.2l-5.9,5.6z"/>
<path class=m d="M719.1,456.8l5.5-5.1"/>
<path fill=#66ffd4 d="M605.1,491.5l6.1-5.5l-5.5-3.3l-6.1,5.4z"/>
<path class=m d="M605.1,491.1l-5.1-3"/>
<path fill=#68ff67 d="M784.2,443.4l5.8-5.8l-5.9-3.1l-5.8,5.7z"/>
<path fill=#b3ff68 d="M892.7,410.4l5.6-5.9l-6.1-3l-5.6,5.8z"/>
<path class=m d="M897.9,404.6l-5.7-2.6"/>
<path fill=#67ffab d="M675.6,474.1l6-5.7l-5.6-3.2l-6.1,5.5z"/>
<path fill=#d7ff68 d="M941.6,394.3l5.5-5.9l-6.2-2.9l-5.6,5.8z"/>
<path class=m d="M935.8,391.2l5.1-5.3"/>
<path fill=#67ff87 d="M735.3,457.9l5.9-5.7l-5.8-3.2l-5.9,5.6z"/>
<path fill=#90ff67 d="M843.9,425.9l5.7-5.8l-6-3l-5.8,5.7z"/>
<path fill=#66ffce d="M615.9,489.5l6.1-5.6l-5.5-3.2l-6.2,5.4z"/>
<path class=m d="M610.8,486.1l5.7-5"/>
<path fill=#6eff67 d="M795,441l5.8-5.8l-5.9-3.1l-5.8,5.7z"/>
<path class=m d="M789.5,437.7l5.4-5.1"/>
<path fill=#67ffa6 d="M686.4,471.9l6-5.7l-5.6-3.2l-6.1,5.6z"/>
<path class=m d="M681.2,468.5l5.5-5M692,466.3l-5.3-2.8"/>
<path fill=#67ffc9 d="M626.7,487.5l6.1-5.6l-5.5-3.3l-6.2,5.5z"/>
<path class=m d="M632.4,482l-5.2-2.9"/>
<path fill=#67ff81 d="M746.1,455.6l6-5.7l-5.9-3.2l-5.9,5.7z"/>
<path class=m d="M751.6,450l-5.4-2.8"/>
<path fill=#baff68 d="M903.6,407.8l5.6-6l-6.1-2.9l-5.6,5.8z"/>
<path class=m d="M897.9,404.6l5.2-5.3"/>
<path fill=#deff68 d="M952.5,391.6l5.5-6l-6.2-2.9l-5.6,5.9z"/>
<path class=m d="M957.6,385.7l-5.8-2.5"/>
<path fill=#97ff68 d="M854.8,423.4l5.7-5.8l-6.1-3.1l-5.7,5.8z"/>
<path fill=#74ff68 d="M805.9,438.6l5.8-5.8l-6-3.1l-5.8,5.7z"/>
<path class=m d="M811.2,432.9l-5.5-2.8"/>
<path fill=#67ffa1 d="M697.3,469.7l6-5.7l-5.8-3.2l-5.9,5.6z"/>
<path fill=#67ffc4 d="M637.5,485.5l6.1-5.7l-5.6-3.3l-6.1,5.6z"/>
<path fill=#67ff7b d="M757,453.3l5.9-5.7l-5.8-3.2l-5.9,5.7z"/>
<path class=m d="M751.6,450l5.4-5.2"/>
<path fill=#c1ff68 d="M914.6,405.1l5.5-5.9l-6.2-3l-5.5,5.9z"/>
<path fill=#9dff68 d="M865.7,420.9l5.6-5.9l-6-3l-5.7,5.8z"/>
<path class=m d="M860,417.7l5.3-5.3M870.9,415.1l-5.6-2.7"/>
<path fill=#e5ff68 d="M963.5,388.9l5.5-6l-6.3-3l-5.5,6z"/>
<path class=m d="M963.4,388.4l5.1-5.4"/>
<path fill=#7bff68 d="M816.8,436.2l5.7-5.8l-5.9-3.2l-5.8,5.8z"/>
<path fill=#67ff9b d="M708.1,467.6l6-5.8l-5.8-3.2l-5.9,5.6z"/>
<path fill=#67ffbf d="M648.3,483.4l6.1-5.7l-5.6-3.2l-6.1,5.5z"/>
<path class=m d="M643.2,479.9l5.6-5"/>
<path fill=#68ff76 d="M767.9,451l5.8-5.8l-5.8-3.2l-5.9,5.7z"/>
<path fill=#c8ff68 d="M925.5,402.5l5.6-6l-6.3-3l-5.5,5.9z"/>
<path class=m d="M930.6,396.6l-5.7-2.6"/>
<path fill=#a4ff68 d="M876.6,418.4l5.6-6l-6.1-3l-5.6,5.8z"/>
<path fill=#81ff68 d="M827.7,433.8l5.7-5.9l-6-3.1l-5.7,5.7z"/>
<path class=m d="M822.1,430.5l5.3-5.3"/>
<path fill=#67ffb9 d="M659.2,481.3l6-5.7l-5.6-3.3l-6.1,5.6z"/>
<path class=m d="M664.8,475.7l-5.2-2.9"/>
<path fill=#68ff95 d="M718.9,465.4l6-5.8l-5.7-3.2l-6,5.6z"/>
<path class=m d="M713.6,461.9l5.5-5.1M724.5,459.7l-5.4-2.9"/>
<path fill=#68ff70 d="M778.7,448.7l5.9-5.8l-5.9-3.2l-5.8,5.7z"/>
<path class=m d="M784.1,443l-5.4-2.9"/>
<path fill=#abff68 d="M887.5,415.8l5.6-6l-6.1-3l-5.6,5.8z"/>
<path fill=#ceff68 d="M936.4,399.8l5.6-6l-6.3-3l-5.5,5.9z"/>
<path class=m d="M930.6,396.6l5.2-5.4"/>
<path fill=#67ffb4 d="M670,479.2l6-5.7l-5.6-3.3l-6.1,5.6z"/>
<path fill=#88ff68 d="M838.6,431.3l5.7-5.9l-6-3.1l-5.8,5.8z"/>
<path class=m d="M843.9,425.5l-5.6-2.8"/>
<path fill=#68ff90 d="M729.8,463.1l5.9-5.7l-5.7-3.3l-6,5.7z"/>
<path fill=#67ffd6 d="M610.2,494.6l6.1-5.6l-5.5-3.4l-6.1,5.5z"/>
<path class=m d="M610.2,494.1l-5.1-3M605.1,491.1l5.7-5"/>
<path fill=#68ff6a d="M789.6,446.3l5.9-5.8l-6-3.2l-5.8,5.7z"/>
<path class=m d="M784.1,443l5.4-5.3"/>
<path fill=#68ffaf d="M680.8,477.1l6.1-5.7l-5.7-3.3l-6,5.6z"/>
<path class=m d="M675.6,473.6l5.6-5.1"/>
<path fill=#b1ff68 d="M898.4,413.2l5.6-6l-6.1-3.1l-5.6,5.9z"/>
<path class=m d="M892.7,409.9l5.2-5.3M903.6,407.3l-5.7-2.7"/>
<path fill=#d5ff69 d="M947.4,397.1l5.5-6.1l-6.3-2.9l-5.5,5.9z"/>
<path fill=#68ff8a d="M740.7,460.9l5.9-5.8l-5.8-3.3l-5.9,5.7z"/>
<path fill=#67ffd1 d="M621,492.6l6.1-5.6l-5.5-3.4l-6.1,5.5z"/>
<path fill=#8eff68 d="M849.5,428.8l5.7-5.9l-6.1-3.1l-5.7,5.8z"/>
<path fill=#6cff68 d="M800.5,444l5.8-5.9l-5.9-3.2l-5.8,5.8z"/>
<path fill=#68ffa9 d="M691.7,475l6-5.8l-5.7-3.3l-6,5.6z"/>
<path class=m d="M697.3,469.3l-5.3-3"/>
<path fill=#67ffcc d="M631.8,490.6l6.2-5.7l-5.6-3.4l-6.1,5.6z"/>
<path class=m d="M637.5,485l-5.1-3"/>
<path fill=#68ff84 d="M751.5,458.6l5.9-5.8l-5.8-3.3l-5.9,5.8z"/>
<path class=m d="M746.2,455.2l5.4-5.2M757,452.9l-5.4-2.9"/>
<path fill=#b8ff69 d="M909.4,410.6l5.6-6l-6.2-3.1l-5.6,5.9z"/>
<path fill=#95ff69 d="M860.4,426.3l5.7-5.9l-6.1-3.2l-5.7,5.9z"/>
<path class=m d="M854.7,423l5.3-5.3"/>
<path fill=#dcff69 d="M958.3,394.4l5.6-6.1l-6.3-3l-5.6,6z"/>
<path class=m d="M958.3,393.9l5.1-5.5M963.4,388.4l-5.8-2.7"/>
<path fill=#73ff68 d="M811.4,441.6l5.8-5.9l-6-3.3l-5.8,5.9z"/>
<path class=m d="M816.8,435.8l-5.6-2.9"/>
<path fill=#68ffa4 d="M702.6,472.8l6-5.8l-5.8-3.3l-6,5.7z"/>
<path fill=#68ffc7 d="M642.7,488.6l6.1-5.7l-5.6-3.4l-6.1,5.6z"/>
<path class=m d="M637.5,485l5.7-5.1"/>
<path fill=#68ff7f d="M762.4,456.3l5.9-5.8l-5.8-3.3l-5.9,5.8z"/>
<path fill=#bfff69 d="M920.3,407.9l5.6-6l-6.2-3.1l-5.6,6z"/>
<path fill=#9bff69 d="M871.3,423.8l5.7-6l-6.1-3.1l-5.7,5.9z"/>
<path class=m d="M876.6,417.9l-5.7-2.8"/>
<path fill=#79ff69 d="M822.3,439.1l5.8-5.9l-6-3.2l-5.8,5.8z"/>
<path class=m d="M816.8,435.8l5.3-5.3"/>
<path fill=#68ff9e d="M713.4,470.6l6-5.8l-5.8-3.3l-5.9,5.7z"/>
<path class=m d="M708.1,467.1l5.5-5.2"/>
<path fill=#68ffc2 d="M653.5,486.5l6.1-5.7l-5.6-3.4l-6.1,5.6z"/>
<path fill=#69ff79 d="M773.3,454l5.9-5.9l-5.9-3.2l-5.9,5.8z"/>
<path fill=#c6ff69 d="M931.3,405.3l5.5-6.1l-6.2-3.1l-5.6,6z"/>
<path class=m d="M925.5,402l5.1-5.4M936.4,399.3l-5.8-2.7"/>
<path fill=#a2ff69 d="M882.2,421.2l5.7-6l-6.1-3.1l-5.7,5.9z"/>
<path fill=#7fff69 d="M833.2,436.7l5.8-6l-6-3.2l-5.8,5.9z"/>
<path fill=#68ffbd d="M664.4,484.4l6.1-5.7l-5.7-3.4l-6.1,5.6z"/>
<path class=m d="M670,478.8l-5.2-3.1"/>
<path fill=#68ff99 d="M724.3,468.4l6-5.8l-5.8-3.4l-6,5.8z"/>
<path class=m d="M729.8,462.7l-5.3-3"/>
<path fill=#69ff73 d="M784.2,451.7l5.9-5.9l-6-3.3l-5.8,5.8z"/>
<path class=m d="M778.7,448.2l5.4-5.2M789.6,445.9l-5.5-2.9"/>
<path fill=#a8ff69 d="M893.2,418.7l5.6-6.1l-6.1-3.1l-5.7,5.9z"/>
<path class=m d="M887.5,415.3l5.2-5.4"/>
<path fill=#ccff69 d="M942.2,402.6l5.6-6.1l-6.3-3.1l-5.5,6z"/>
<path fill=#68ffb7 d="M675.2,482.3l6.1-5.7l-5.7-3.4l-6,5.7z"/>
<path class=m d="M670,478.8l5.6-5.2"/>
<path fill=#86ff69 d="M844.2,434.3l5.7-6l-6.1-3.3l-5.7,5.9z"/>
<path class=m d="M849.5,428.4l-5.6-2.9"/>
<path fill=#69ff93 d="M735.2,466.2l5.9-5.9l-5.8-3.3l-5.9,5.8z"/>
<path fill=#68ffda d="M615.3,497.8l6.2-5.7l-5.6-3.5l-6.1,5.6z"/>
<path class=m d="M615.3,497.3l-5.1-3.2"/>
<path fill=#69ff6d d="M795.1,449.4l5.8-6l-5.9-3.3l-5.8,5.9z"/>
<path fill=#68ffb2 d="M686.1,480.2l6.1-5.8l-5.7-3.4l-6.1,5.7z"/>
<path fill=#afff69 d="M904.1,416.1l5.7-6.1l-6.2-3.1l-5.6,5.9z"/>
<path class=m d="M909.3,410.1l-5.7-2.8"/>
<path fill=#69ff8e d="M746.1,464l5.9-5.9l-5.8-3.4l-6,5.8z"/>
<path class=m d="M740.7,460.4l5.5-5.2"/>
<path fill=#d3ff69 d="M953.2,399.9l5.5-6.1l-6.3-3.1l-5.5,6z"/>
<path class=m d="M953.2,399.5l5.1-5.6"/>
<path fill=#68ffd5 d="M626.1,495.8l6.2-5.7l-5.6-3.5l-6.1,5.6z"/>
<path fill=#8cff69 d="M855.1,431.8l5.7-6l-6.1-3.3l-5.7,6z"/>
<path class=m d="M849.5,428.4l5.2-5.4"/>
<path fill=#6bff69 d="M806,447l5.8-6l-5.9-3.3l-5.8,5.9z"/>
<path fill=#69ffad d="M697,478.1l6-5.8l-5.7-3.5l-6,5.8z"/>
<path class=m d="M702.6,472.4l-5.3-3.1"/>
<path fill=#68ffcf d="M637,493.8l6.1-5.8l-5.5-3.4l-6.2,5.6z"/>
<path class=m d="M631.9,490.1l5.6-5.1M642.7,488.1l-5.2-3.1"/>
<path fill=#69ff88 d="M757,461.7l5.9-5.9l-5.9-3.4l-5.9,5.9z"/>
<path class=m d="M762.4,455.9l-5.4-3"/>
<path fill=#b6ff69 d="M915.1,413.5l5.6-6.1l-6.2-3.2l-5.6,6z"/>
<path fill=#93ff69 d="M866,429.3l5.7-6.1l-6.1-3.2l-5.7,6z"/>
<path fill=#71ff69 d="M817,444.6l5.7-6l-5.9-3.3l-5.8,5.9z"/>
<path class=m d="M811.4,441.1l5.4-5.3M822.3,438.7l-5.5-2.9"/>
<path fill=#69ffa7 d="M707.9,476l6-5.9l-5.8-3.4l-6,5.7z"/>
<path class=m d="M702.6,472.4l5.5-5.3"/>
<path fill=#69ffca d="M647.9,491.8l6.1-5.8l-5.6-3.5l-6.1,5.7z"/>
<path fill=#69ff82 d="M767.9,459.4l5.9-5.9l-5.9-3.4l-5.9,5.9z"/>
<path fill=#bcff6a d="M926.1,410.9l5.6-6.2l-6.3-3.1l-5.6,6z"/>
<path class=m d="M920.3,407.5l5.2-5.5"/>
<path fill=#99ff6a d="M877,426.8l5.7-6.1l-6.2-3.2l-5.7,5.9z"/>
<path class=m d="M882.2,420.8l-5.6-2.9"/>
<path fill=#77ff69 d="M827.9,442.2l5.8-6l-6.1-3.3l-5.7,5.9z"/>
<path fill=#69ffa2 d="M718.8,473.8l5.9-5.9l-5.7-3.4l-6,5.8z"/>
<path fill=#69ffc5 d="M658.7,489.7l6.1-5.8l-5.6-3.5l-6.1,5.7z"/>
<path fill=#69ff7d d="M778.8,457.1l5.9-5.9l-6-3.4l-5.8,5.9z"/>
<path class=m d="M773.3,453.6l5.4-5.4"/>
<path fill=#a0ff6a d="M887.9,424.2l5.7-6.1l-6.2-3.2l-5.6,6z"/>
<path class=m d="M882.2,420.8l5.3-5.5"/>
<path fill=#c3ff6a d="M937,408.2l5.6-6.1l-6.2-3.2l-5.6,6z"/>
<path class=m d="M942.2,402.2l-5.8-2.9"/>
<path fill=#7dff6a d="M838.8,439.8l5.8-6.1l-6.1-3.3l-5.7,6z"/>
<path fill=#69ffc0 d="M669.6,487.7l6.1-5.9l-5.7-3.5l-6,5.8z"/>
<path class=m d="M664.4,484l5.6-5.2M675.3,481.9l-5.3-3.1"/>
<path fill=#69ff9c d="M729.7,471.6l5.9-5.9l-5.8-3.5l-5.9,5.9z"/>
<path class=m d="M735.2,465.8l-5.4-3.1"/>
<path fill=#6aff77 d="M789.7,454.8l5.9-6l-6-3.4l-5.8,5.9z"/>
<path class=m d="M795.1,448.9l-5.5-3"/>
<path fill=#a6ff6a d="M898.9,421.7l5.6-6.2l-6.1-3.2l-5.7,6z"/>
<path fill=#caff6a d="M948,405.5l5.6-6.1l-6.3-3.2l-5.6,6.1z"/>
<path class=m d="M948,405.1l5.2-5.6"/>
<path fill=#69ffbb d="M680.5,485.6l6.1-5.9l-5.7-3.5l-6.1,5.8z"/>
<path fill=#69ff97 d="M740.6,469.4l5.9-6l-5.8-3.4l-6,5.8z"/>
<path class=m d="M735.2,465.8l5.5-5.4"/>
<path fill=#84ff6a d="M849.8,437.3l5.7-6.1l-6.1-3.3l-5.7,6z"/>
<path class=m d="M844.1,433.8l5.4-5.4M855.1,431.3l-5.6-2.9"/>
<path fill=#69ffdd d="M620.4,501.1l6.2-5.8l-5.5-3.6l-6.2,5.7z"/>
<path class=m d="M620.5,500.6l-5.2-3.3"/>
<path fill=#6aff71 d="M800.6,452.5l5.9-6.1l-6-3.3l-5.8,5.9z"/>
<path fill=#69ffb5 d="M691.4,483.5l6-5.9l-5.7-3.5l-6,5.8z"/>
<path fill=#adff6a d="M909.9,419.1l5.6-6.2l-6.2-3.2l-5.6,6z"/>
<path class=m d="M915.1,413l-5.8-2.9"/>
<path fill=#6aff91 d="M751.5,467.1l5.9-5.9l-5.8-3.5l-6,5.9z"/>
<path fill=#69ffd8 d="M631.3,499.1l6.2-5.8l-5.6-3.6l-6.2,5.7z"/>
<path class=m d="M626.2,495.3l5.7-5.2"/>
<path fill=#8aff6a d="M860.7,434.8l5.7-6.1l-6.1-3.3l-5.7,6z"/>
<path fill=#6aff6b d="M811.6,450.1l5.8-6.1l-6-3.3l-5.8,5.9z"/>
<path class=m d="M806,446.5l5.4-5.4"/>
<path fill=#6affb0 d="M702.3,481.3l6-5.9l-5.7-3.5l-6,5.8z"/>
<path class=m d="M697,477.7l5.6-5.3M707.9,475.5l-5.3-3.1"/>
<path fill=#69ffd3 d="M642.2,497.1l6.1-5.9l-5.6-3.5l-6.1,5.7z"/>
<path class=m d="M647.9,491.3l-5.2-3.2"/>
<path fill=#6aff8c d="M762.4,464.9l5.9-6l-5.9-3.5l-5.9,5.9z"/>
<path class=m d="M767.9,459l-5.5-3.1"/>
<path fill=#b3ff6a d="M920.9,416.5l5.6-6.2l-6.3-3.3l-5.6,6.1z"/>
<path class=m d="M915.1,413l5.2-5.5"/>
<path fill=#90ff6a d="M871.7,432.4l5.7-6.2l-6.1-3.3l-5.7,6z"/>
<path fill=#6fff6a d="M822.5,447.7l5.8-6.1l-6-3.4l-5.8,6z"/>
<path class=m d="M827.9,441.7l-5.6-3"/>
<path fill=#6affab d="M713.2,479.2l6-6l-5.8-3.5l-6,5.9z"/>
<path fill=#69ffce d="M653.1,495.1l6.1-5.9l-5.6-3.6l-6.1,5.8z"/>
<path fill=#6aff86 d="M773.3,462.6l5.9-6l-5.9-3.5l-5.9,6z"/>
<path class=m d="M767.9,459l5.4-5.4"/>
<path fill=#baff6a d="M931.9,413.9l5.6-6.2l-6.3-3.3l-5.6,6.1z"/>
<path fill=#97ff6a d="M882.7,429.8l5.6-6.1l-6.1-3.4l-5.7,6.1z"/>
<path class=m d="M877,426.3l5.2-5.5M887.9,423.8l-5.7-3"/>
<path fill=#75ff6a d="M833.5,445.3l5.7-6.1l-6-3.4l-5.8,6z"/>
<path fill=#6affa5 d="M724.1,477l6-6l-5.8-3.5l-6,5.9z"/>
<path fill=#6affc9 d="M664,493l6.1-5.9l-5.7-3.6l-6.1,5.9z"/>
<path class=m d="M658.8,489.3l5.6-5.3"/>
<path fill=#6aff80 d="M784.3,460.3l5.8-6l-5.9-3.5l-5.9,6z"/>
<path fill=#9dff6b d="M893.6,427.3l5.7-6.2l-6.2-3.3l-5.6,6.1z"/>
<path fill=#c1ff6b d="M942.9,411.2l5.5-6.2l-6.2-3.3l-5.6,6.2z"/>
<path class=m d="M942.8,410.8l5.2-5.7M948,405.1l-5.8-2.9"/>
<path fill=#7bff6b d="M844.4,442.9l5.8-6.1l-6.1-3.4l-5.7,6z"/>
<path class=m d="M838.8,439.3l5.3-5.5"/>
<path fill=#6affc3 d="M674.9,491l6.1-6l-5.7-3.6l-6.1,5.9z"/>
<path class=m d="M680.5,485.1l-5.2-3.2"/>
<path fill=#6affa0 d="M735.1,474.9l5.9-6.1l-5.8-3.5l-6,5.9z"/>
<path class=m d="M729.7,471.1l5.5-5.3M740.6,468.9l-5.4-3.1"/>
<path fill=#6aff7b d="M795.2,458l5.9-6.1l-6-3.4l-5.8,6z"/>
<path class=m d="M800.6,452l-5.5-3.1"/>
<path fill=#a4ff6b d="M904.6,424.8l5.7-6.3l-6.2-3.3l-5.7,6.1z"/>
<path fill=#6affbe d="M685.8,488.9l6.1-6l-5.8-3.6l-6,5.9z"/>
<path fill=#6aff9a d="M746,472.6l5.9-6l-5.8-3.5l-6,5.9z"/>
<path fill=#81ff6b d="M855.4,440.5l5.7-6.2l-6-3.4l-5.8,6.1z"/>
<path class=m d="M860.7,434.4l-5.6-3.1"/>
<path fill=#6affe0 d="M625.6,504.4l6.2-5.8l-5.6-3.7l-6.2,5.8z"/>
<path class=m d="M625.6,504l-5.1-3.4M620.5,500.6l5.7-5.3"/>
<path fill=#6bff75 d="M806.2,455.7l5.8-6.1l-6-3.5l-5.8,6z"/>
<path class=m d="M800.6,452l5.4-5.5"/>
<path fill=#6affb9 d="M696.7,486.8l6.1-6l-5.8-3.6l-6,5.9z"/>
<path class=m d="M691.4,483l5.6-5.3"/>
<path fill=#6bff95 d="M756.9,470.4l5.9-6l-5.8-3.6l-6,6z"/>
<path fill=#6affdb d="M636.5,502.5l6.2-5.9l-5.6-3.7l-6.2,5.8z"/>
<path fill=#aaff6b d="M915.6,422.2l5.7-6.3l-6.3-3.3l-5.6,6.1z"/>
<path class=m d="M909.8,418.6l5.3-5.6M920.8,416l-5.7-3"/>
<path fill=#88ff6b d="M866.4,438l5.7-6.2l-6.1-3.4l-5.7,6.1z"/>
<path fill=#6bff6f d="M817.1,453.3l5.8-6.1l-6-3.5l-5.8,6.1z"/>
<path fill=#6affb4 d="M707.7,484.7l6-6l-5.8-3.6l-6,5.9z"/>
<path class=m d="M713.2,478.8l-5.3-3.3"/>
<path fill=#6affd6 d="M647.4,500.5l6.2-6l-5.7-3.6l-6.1,5.8z"/>
<path class=m d="M653.1,494.6l-5.2-3.3"/>
<path fill=#6bff8f d="M767.9,468.2l5.9-6.1l-5.9-3.6l-5.9,6z"/>
<path class=m d="M762.4,464.4l5.5-5.4M773.3,462.2l-5.4-3.2"/>
<path fill=#b1ff6b d="M926.6,419.6l5.7-6.3l-6.3-3.3l-5.6,6.1z"/>
<path fill=#8eff6b d="M877.4,435.5l5.7-6.2l-6.2-3.4l-5.7,6.1z"/>
<path class=m d="M871.7,431.9l5.3-5.6"/>
<path fill=#6cff6b d="M828.1,451l5.8-6.2l-6-3.5l-5.8,6.1z"/>
<path class=m d="M833.5,444.9l-5.6-3.2"/>
<path fill=#6bffae d="M718.6,482.5l6-6l-5.8-3.6l-6,5.9z"/>
<path fill=#6affd1 d="M658.3,498.5l6.2-6l-5.7-3.7l-6.1,5.9z"/>
<path class=m d="M653.1,494.6l5.7-5.3"/>
<path fill=#6bff8a d="M778.8,465.9l5.9-6.1l-5.9-3.6l-5.9,6.1z"/>
<path fill=#b8ff6b d="M937.7,417l5.6-6.3l-6.3-3.4l-5.6,6.2z"/>
<path class=m d="M937.6,416.5l5.2-5.7"/>
<path fill=#94ff6b d="M888.4,433l5.7-6.2l-6.2-3.5l-5.7,6.2z"/>
<path class=m d="M893.6,426.9l-5.7-3.1"/>
<path fill=#73ff6b d="M839.1,448.6l5.8-6.2l-6.1-3.5l-5.8,6.1z"/>
<path class=m d="M833.5,444.9l5.3-5.6"/>
<path fill=#6bffa9 d="M729.5,480.4l6-6.1l-5.8-3.6l-6,6z"/>
<path class=m d="M724.1,476.6l5.6-5.5"/>
<path fill=#6affcc d="M669.3,496.4l6.1-6l-5.7-3.6l-6.1,5.9z"/>
<path fill=#6bff84 d="M789.8,463.6l5.9-6.1l-6-3.6l-5.9,6.1z"/>
<path fill=#9bff6b d="M899.4,430.5l5.6-6.3l-6.2-3.4l-5.6,6.2z"/>
<path fill=#6bffc7 d="M680.2,494.4l6.1-6l-5.8-3.7l-6,5.9z"/>
<path class=m d="M685.8,488.4l-5.3-3.3"/>
<path fill=#79ff6b d="M850.1,446.1l5.7-6.2l-6.1-3.5l-5.7,6.2z"/>
<path fill=#6bffa4 d="M740.5,478.2l5.9-6.1l-5.8-3.6l-6,6z"/>
<path class=m d="M746,472.2l-5.4-3.3"/>
<path fill=#6bff7f d="M800.8,461.3l5.8-6.2l-6-3.5l-5.8,6.1z"/>
<path class=m d="M795.2,457.6l5.4-5.6M806.2,455.2l-5.6-3.2"/>
<path fill=#6bffc2 d="M691.1,492.3l6.1-6l-5.8-3.7l-6,5.9z"/>
<path class=m d="M685.8,488.4l5.6-5.4"/>
<path fill=#a1ff6c d="M910.4,427.9l5.6-6.3l-6.2-3.4l-5.6,6.2z"/>
<path class=m d="M904.6,424.3l5.2-5.7"/>
<path fill=#6bff9e d="M751.4,476l6-6.1l-5.9-3.7l-5.9,6.1z"/>
<path fill=#7fff6c d="M861.1,443.7l5.7-6.3l-6.1-3.5l-5.8,6.2z"/>
<path class=m d="M866.4,437.5l-5.7-3.1"/>
<path fill=#6bffe4 d="M630.8,507.9l6.2-6l-5.6-3.7l-6.2,5.9z"/>
<path class=m d="M630.8,507.5l-5.2-3.5"/>
<path fill=#6bff79 d="M811.7,459l5.9-6.2l-6-3.6l-5.9,6.1z"/>
<path fill=#6bffbd d="M702.1,490.2l6-6.1l-5.8-3.7l-6,6z"/>
<path fill=#6bffdf d="M641.7,505.9l6.2-6l-5.6-3.7l-6.2,5.9z"/>
<path fill=#6bff99 d="M762.4,473.8l5.9-6.2l-5.9-3.6l-5.9,6.1z"/>
<path class=m d="M756.9,470l5.5-5.6"/>
<path fill=#a8ff6c d="M921.4,425.4l5.7-6.4l-6.3-3.4l-5.6,6.2z"/>
<path class=m d="M926.6,419.1l-5.8-3.1"/>
<path fill=#85ff6c d="M872.1,441.3l5.7-6.3l-6.2-3.5l-5.7,6.1z"/>
<path class=m d="M866.4,437.5l5.3-5.6"/>
<path fill=#6cff73 d="M822.7,456.6l5.8-6.2l-6-3.6l-5.8,6.2z"/>
<path fill=#6bffb8 d="M713,488.1l6-6.1l-5.8-3.7l-6,6z"/>
<path class=m d="M718.6,482.1l-5.4-3.3"/>
<path fill=#6bffda d="M652.7,504l6.1-6.1l-5.7-3.7l-6.1,5.9z"/>
<path class=m d="M647.5,500l5.6-5.4M658.4,498l-5.3-3.4"/>
<path fill=#6cff93 d="M773.4,471.6l5.9-6.2l-6-3.7l-5.9,6.1z"/>
<path class=m d="M778.8,465.5l-5.5-3.3"/>
<path fill=#aeff6c d="M932.5,422.8l5.6-6.4l-6.3-3.4l-5.6,6.2z"/>
<path class=m d="M932.4,422.3l5.2-5.8"/>
<path fill=#8bff6c d="M883.1,438.8l5.7-6.3l-6.2-3.6l-5.7,6.3z"/>
<path fill=#6cff6e d="M833.7,454.3l5.8-6.3l-6.1-3.6l-5.7,6.2z"/>
<path class=m d="M828.1,450.5l5.4-5.6M839.1,448.1l-5.6-3.2"/>
<path fill=#6bffb2 d="M724,486l6-6.2l-5.8-3.7l-6,6.1z"/>
<path class=m d="M718.6,482.1l5.5-5.5"/>
<path fill=#6bffd5 d="M663.6,502l6.1-6.1l-5.7-3.8l-6.1,6z"/>
<path fill=#6cff8e d="M784.3,469.3l5.9-6.2l-5.9-3.7l-5.9,6.2z"/>
<path fill=#92ff6c d="M894.1,436.3l5.7-6.4l-6.2-3.5l-5.7,6.3z"/>
<path class=m d="M899.4,430l-5.8-3.1"/>
<path fill=#70ff6c d="M844.7,451.9l5.8-6.3l-6.1-3.6l-5.8,6.2z"/>
<path fill=#6bffd0 d="M674.6,499.9l6.1-6.1l-5.8-3.7l-6.1,6z"/>
<path fill=#6cffad d="M734.9,483.8l6-6.1l-5.8-3.7l-6,6z"/>
<path fill=#6cff88 d="M795.3,467l5.9-6.2l-6-3.7l-5.9,6.2z"/>
<path class=m d="M789.8,463.2l5.4-5.6"/>
<path fill=#98ff6c d="M905.1,433.8l5.7-6.4l-6.2-3.5l-5.7,6.2z"/>
<path class=m d="M899.4,430l5.2-5.7"/>
<path fill=#6bffcb d="M685.5,497.9l6.1-6.1l-5.8-3.8l-6,6z"/>
<path class=m d="M680.2,493.9l5.6-5.5M691.1,491.9l-5.3-3.5"/>
<path fill=#76ff6c d="M855.7,449.5l5.8-6.3l-6.1-3.6l-5.8,6.2z"/>
<path fill=#6cffa8 d="M745.9,481.7l6-6.2l-5.9-3.8l-6,6.1z"/>
<path class=m d="M751.4,475.6l-5.4-3.4"/>
<path fill=#6cff83 d="M806.3,464.7l5.9-6.3l-6-3.6l-5.9,6.2z"/>
<path class=m d="M811.7,458.5l-5.5-3.3"/>
<path fill=#6cffc6 d="M696.5,495.8l6-6.1l-5.7-3.8l-6.1,6z"/>
<path fill=#9fff6c d="M916.2,431.2l5.6-6.4l-6.2-3.5l-5.7,6.3z"/>
<path fill=#6cffa2 d="M756.9,479.5l5.9-6.2l-5.9-3.8l-5.9,6.1z"/>
<path class=m d="M751.4,475.6l5.5-5.6"/>
<path fill=#6bffe8 d="M636,511.5l6.2-6.1l-5.6-3.8l-6.2,5.9z"/>
<path class=m d="M636.1,511l-5.3-3.5"/>
<path fill=#7cff6c d="M866.7,447.1l5.8-6.4l-6.2-3.6l-5.7,6.3z"/>
<path class=m d="M861,443.3l5.4-5.8M872,440.8l-5.6-3.3"/>
<path fill=#6cff7d d="M817.3,462.4l5.8-6.3l-6-3.7l-5.8,6.2z"/>
<path fill=#6cffc1 d="M707.4,493.7l6.1-6.1l-5.8-3.8l-6.1,6.1z"/>
<path fill=#6cffe3 d="M647,509.5l6.1-6.1l-5.6-3.8l-6.2,6z"/>
<path class=m d="M641.8,505.5l5.7-5.5"/>
<path fill=#6cff9d d="M767.9,477.3l5.9-6.3l-5.9-3.7l-6,6.1z"/>
<path fill=#a5ff6d d="M927.2,428.7l5.7-6.5l-6.3-3.5l-5.6,6.3z"/>
<path class=m d="M927.2,428.2l5.2-5.9M932.4,422.3l-5.8-3.2"/>
<path fill=#82ff6c d="M877.8,444.6l5.7-6.4l-6.2-3.6l-5.7,6.3z"/>
<path fill=#6cff78 d="M828.3,460.1l5.8-6.4l-6-3.6l-5.8,6.2z"/>
<path class=m d="M822.7,456.2l5.4-5.7"/>
<path fill=#6cffbb d="M718.4,491.6l6-6.2l-5.8-3.8l-6,6.1z"/>
<path class=m d="M713,487.7l5.6-5.6M724,485.5l-5.4-3.4"/>
<path fill=#6cffde d="M657.9,507.5l6.2-6.1l-5.7-3.8l-6.1,6z"/>
<path class=m d="M663.6,501.5l-5.2-3.5"/>
<path fill=#6cff98 d="M778.9,475l5.9-6.2l-6-3.8l-5.9,6.2z"/>
<path class=m d="M784.3,468.8l-5.5-3.3"/>
<path fill=#89ff6d d="M888.8,442.1l5.7-6.4l-6.2-3.6l-5.7,6.3z"/>
<path fill=#6dff72 d="M839.3,457.7l5.8-6.4l-6-3.6l-5.8,6.2z"/>
<path class=m d="M844.7,451.4l-5.6-3.3"/>
<path fill=#6cffb6 d="M729.4,489.5l6-6.2l-5.9-3.8l-6,6.1z"/>
<path fill=#6cffd9 d="M668.9,505.5l6.1-6.1l-5.7-3.9l-6.1,6.1z"/>
<path fill=#6cff92 d="M789.9,472.8l5.9-6.3l-6-3.8l-5.9,6.2z"/>
<path class=m d="M784.3,468.8l5.5-5.6"/>
<path fill=#8fff6d d="M899.9,439.6l5.6-6.4l-6.2-3.6l-5.7,6.3z"/>
<path class=m d="M894.1,435.8l5.3-5.8M905.1,433.3l-5.7-3.3"/>
<path fill=#6dff6d d="M850.4,455.3l5.7-6.4l-6.1-3.7l-5.7,6.3z"/>
<path fill=#6cffd4 d="M679.9,503.5l6.1-6.1l-5.8-3.9l-6.1,6.1z"/>
<path class=m d="M674.6,499.5l5.6-5.6"/>
<path fill=#6cffb1 d="M740.4,487.4l6-6.3l-5.9-3.8l-6,6.2z"/>
<path fill=#6dff8d d="M800.9,470.5l5.8-6.3l-6-3.8l-5.8,6.3z"/>
<path fill=#95ff6d d="M910.9,437.1l5.7-6.4l-6.3-3.7l-5.6,6.4z"/>
<path fill=#6cffcf d="M690.8,501.5l6.1-6.2l-5.7-3.9l-6.1,6.1z"/>
<path class=m d="M696.5,495.4l-5.4-3.5"/>
<path fill=#6dffac d="M751.4,485.2l5.9-6.3l-5.9-3.8l-5.9,6.2z"/>
<path class=m d="M745.9,481.2l5.5-5.6M756.9,479l-5.5-3.4"/>
<path fill=#73ff6d d="M861.4,452.9l5.8-6.4l-6.2-3.7l-5.7,6.3z"/>
<path class=m d="M855.7,449l5.3-5.7"/>
<path fill=#6dff87 d="M811.9,468.2l5.8-6.3l-6-3.8l-5.8,6.3z"/>
<path class=m d="M817.3,461.9l-5.6-3.4"/>
<path fill=#6cffca d="M701.8,499.4l6.1-6.2l-5.8-3.9l-6.1,6.2z"/>
<path fill=#6dffa6 d="M762.4,483l5.9-6.3l-5.9-3.8l-6,6.2z"/>
<path fill=#9cff6d d="M922,434.6l5.6-6.5l-6.2-3.6l-5.7,6.4z"/>
<path class=m d="M921.9,434.1l5.3-5.9"/>
<path fill=#6cffec d="M641.3,515.1l6.2-6.1l-5.7-4l-6.2,6.1z"/>
<path class=m d="M641.3,514.7l-5.2-3.7M636.1,511l5.7-5.5"/>
<path fill=#79ff6d d="M872.4,450.5l5.8-6.4l-6.2-3.7l-5.7,6.3z"/>
<path class=m d="M877.8,444.2l-5.8-3.4"/>
<path fill=#6dff82 d="M822.9,465.9l5.9-6.4l-6.1-3.8l-5.8,6.3z"/>
<path class=m d="M817.3,461.9l5.4-5.7"/>
<path fill=#6dffc5 d="M712.8,497.4l6.1-6.3l-5.9-3.9l-6,6.2z"/>
<path class=m d="M707.4,493.3l5.6-5.6"/>
<path fill=#6cffe7 d="M652.3,513.2l6.1-6.2l-5.7-3.9l-6.1,6z"/>
<path fill=#6dffa1 d="M773.4,480.8l5.9-6.3l-5.9-3.8l-6,6.2z"/>
<path fill=#80ff6d d="M883.5,448l5.7-6.4l-6.2-3.7l-5.7,6.3z"/>
<path fill=#6dff7c d="M834,463.6l5.8-6.4l-6.1-3.8l-5.8,6.3z"/>
<path fill=#6dffc0 d="M723.8,495.3l6-6.3l-5.8-3.9l-6,6.2z"/>
<path class=m d="M729.4,489.1l-5.4-3.6"/>
<path fill=#6dffe2 d="M663.2,511.2l6.2-6.2l-5.7-3.9l-6.2,6.1z"/>
<path class=m d="M668.9,505.1l-5.3-3.6"/>
<path fill=#6dff9c d="M784.4,478.6l5.9-6.4l-6-3.8l-5.9,6.3z"/>
<path class=m d="M778.9,474.6l5.4-5.8M789.9,472.3l-5.6-3.5"/>
<path fill=#86ff6d d="M894.6,445.6l5.7-6.5l-6.2-3.7l-5.8,6.4z"/>
<path class=m d="M888.8,441.7l5.3-5.9"/>
<path fill=#6dff76 d="M845,461.2l5.8-6.4l-6.1-3.8l-5.8,6.3z"/>
<path class=m d="M850.4,454.9l-5.7-3.5"/>
<path fill=#6dffba d="M734.8,493.2l6-6.4l-5.9-3.9l-6,6.3z"/>
<path fill=#6dffdd d="M674.2,509.2l6.1-6.2l-5.7-4l-6.1,6.2z"/>
<path class=m d="M668.9,505.1l5.7-5.6"/>
<path fill=#6dff96 d="M795.4,476.4l5.9-6.4l-6-3.9l-5.9,6.3z"/>
<path fill=#8cff6e d="M905.6,443.1l5.7-6.5l-6.2-3.7l-5.7,6.4z"/>
<path class=m d="M910.9,436.7l-5.8-3.4"/>
<path fill=#6eff71 d="M856,458.8l5.8-6.4l-6.1-3.8l-5.8,6.4z"/>
<path class=m d="M850.4,454.9l5.3-5.9"/>
<path fill=#6dffd8 d="M685.2,507.2l6.1-6.2l-5.8-4l-6.1,6.2z"/>
<path fill=#6dffb5 d="M745.8,491l6-6.3l-5.9-3.9l-6,6.2z"/>
<path class=m d="M740.4,486.9l5.5-5.7"/>
<path fill=#6dff91 d="M806.5,474.1l5.8-6.4l-6-3.9l-5.9,6.3z"/>
<path fill=#92ff6e d="M916.7,440.6l5.7-6.6l-6.3-3.7l-5.7,6.5z"/>
<path class=m d="M916.7,440.1l5.2-6"/>
<path fill=#6dffd3 d="M696.2,505.2l6.1-6.3l-5.8-4l-6.1,6.2z"/>
<path class=m d="M701.8,499l-5.3-3.6"/>
<path fill=#6dffb0 d="M756.8,488.9l6-6.4l-5.9-3.9l-6,6.2z"/>
<path class=m d="M762.4,482.6l-5.5-3.6"/>
<path fill=#70ff6e d="M867.1,456.4l5.8-6.5l-6.2-3.7l-5.8,6.4z"/>
<path fill=#6eff8b d="M817.5,471.8l5.8-6.4l-6-3.9l-5.9,6.4z"/>
<path class=m d="M811.9,467.8l5.4-5.9M822.9,465.4l-5.6-3.5"/>
<path fill=#6dffce d="M707.2,503.1l6.1-6.3l-5.8-4l-6.1,6.3z"/>
<path class=m d="M701.8,499l5.6-5.7"/>
<path fill=#6effab d="M767.9,486.7l5.9-6.4l-5.9-3.9l-6,6.3z"/>
<path fill=#6dfff0 d="M646.5,518.9l6.2-6.2l-5.7-4.1l-6.1,6.2z"/>
<path class=m d="M646.6,518.4l-5.3-3.7"/>
<path fill=#76ff6e d="M878.2,454l5.7-6.5l-6.2-3.8l-5.7,6.4z"/>
<path class=m d="M883.5,447.6l-5.7-3.4"/>
<path fill=#6eff86 d="M828.5,469.5l5.9-6.5l-6.1-3.8l-5.8,6.3z"/>
<path fill=#6dffc9 d="M718.2,501.1l6.1-6.4l-5.9-4l-6,6.3z"/>
<path fill=#6dffeb d="M657.5,517l6.2-6.3l-5.7-4.1l-6.2,6.2z"/>
<path fill=#6effa6 d="M778.9,484.5l5.9-6.4l-5.9-4l-6,6.4z"/>
<path class=m d="M773.4,480.4l5.5-5.8"/>
<path fill=#7cff6e d="M889.2,451.6l5.8-6.6l-6.2-3.8l-5.8,6.5z"/>
<path class=m d="M883.5,447.6l5.3-5.9"/>
<path fill=#6eff80 d="M839.6,467.2l5.8-6.5l-6.1-3.9l-5.8,6.4z"/>
<path fill=#6effc4 d="M729.2,499l6.1-6.4l-5.9-4l-6,6.3z"/>
<path class=m d="M734.8,492.7l-5.4-3.6"/>
<path fill=#6dffe6 d="M668.5,515l6.2-6.3l-5.8-4.1l-6.1,6.2z"/>
<path class=m d="M663.3,510.8l5.6-5.7M674.2,508.8l-5.3-3.7"/>
<path fill=#6effa0 d="M789.9,482.3l6-6.5l-6-3.9l-6,6.3z"/>
<path class=m d="M795.4,475.9l-5.5-3.6"/>
<path fill=#83ff6e d="M900.3,449.1l5.7-6.6l-6.2-3.8l-5.7,6.5z"/>
<path fill=#6eff7b d="M850.7,464.8l5.8-6.5l-6.2-3.9l-5.8,6.5z"/>
<path class=m d="M845,460.8l5.4-5.9M856,458.4l-5.6-3.5"/>
<path fill=#6effbf d="M740.3,496.9l6-6.4l-5.9-4l-6,6.3z"/>
<path class=m d="M734.8,492.7l5.6-5.8"/>
<path fill=#6effe1 d="M679.6,513l6.1-6.3l-5.8-4.1l-6.1,6.3z"/>
<path fill=#6eff9b d="M801,480l5.9-6.5l-6-3.9l-5.9,6.4z"/>
<path fill=#89ff6e d="M911.4,446.7l5.7-6.7l-6.2-3.8l-5.7,6.5z"/>
<path class=m d="M911.4,446.2l5.3-6.1M916.7,440.1l-5.8-3.4"/>
<path fill=#6eff75 d="M861.7,462.5l5.8-6.6l-6.1-3.9l-5.8,6.5z"/>
<path fill=#6effdc d="M690.6,511l6.1-6.3l-5.8-4.1l-6.1,6.3z"/>
<path fill=#6effba d="M751.3,494.8l6-6.5l-5.9-4l-6,6.3z"/>
<path fill=#6eff95 d="M812.1,477.8l5.8-6.5l-6-4l-5.9,6.4z"/>
<path class=m d="M806.4,473.6l5.5-5.8"/>
<path fill=#6effd7 d="M701.6,509l6.1-6.4l-5.8-4.1l-6.1,6.3z"/>
<path class=m d="M696.2,504.7l5.6-5.7M707.2,502.7l-5.4-3.7"/>
<path fill=#6effb5 d="M762.3,492.6l6-6.5l-5.9-4l-6,6.4z"/>
<path class=m d="M767.9,486.2l-5.5-3.6"/>
<path fill=#6eff70 d="M872.8,460.1l5.8-6.6l-6.2-3.9l-5.8,6.5z"/>
<path fill=#6eff90 d="M823.1,475.5l5.9-6.5l-6.1-4l-5.9,6.4z"/>
<path class=m d="M828.5,469l-5.6-3.6"/>
<path fill=#6effd2 d="M712.6,507l6.1-6.5l-5.9-4l-6,6.3z"/>
<path fill=#6effaf d="M773.4,490.4l5.9-6.5l-5.9-4l-6,6.4z"/>
<path class=m d="M767.9,486.2l5.5-5.8"/>
<path fill=#6efff4 d="M651.8,522.8l6.2-6.4l-5.7-4.1l-6.2,6.2z"/>
<path class=m d="M651.9,522.3l-5.3-3.9"/>
<path fill=#73ff6f d="M883.9,457.7l5.8-6.7l-6.2-3.9l-5.8,6.6z"/>
<path class=m d="M878.1,453.6l5.4-6M889.2,451.1l-5.7-3.5"/>
<path fill=#6fff8b d="M834.2,473.2l5.8-6.6l-6.1-3.9l-5.8,6.4z"/>
<path fill=#6effcd d="M723.7,504.9l6-6.4l-5.9-4.1l-6,6.3z"/>
<path fill=#6effef d="M662.9,520.8l6.1-6.3l-5.7-4.2l-6.2,6.3z"/>
<path class=m d="M657.6,516.5l5.7-5.7"/>
<path fill=#6effaa d="M784.5,488.2l5.9-6.5l-6-4l-5.9,6.4z"/>
<path fill=#79ff6f d="M895,455.2l5.7-6.6l-6.2-3.9l-5.7,6.5z"/>
<path fill=#6fff85 d="M845.3,470.9l5.8-6.6l-6.1-4l-5.9,6.5z"/>
<path class=m d="M839.6,466.7l5.4-5.9"/>
<path fill=#6effc8 d="M734.7,502.8l6-6.5l-5.9-4l-6,6.3z"/>
<path class=m d="M729.3,498.5l5.5-5.8M740.3,496.4l-5.5-3.7"/>
<path fill=#6effea d="M673.9,518.9l6.1-6.4l-5.8-4.2l-6.1,6.3z"/>
<path class=m d="M679.6,512.6l-5.4-3.8"/>
<path fill=#6fffa5 d="M795.5,486l5.9-6.5l-6-4l-5.9,6.4z"/>
<path class=m d="M801,479.6l-5.6-3.7"/>
<path fill=#7fff6f d="M906.1,452.8l5.7-6.7l-6.2-3.9l-5.7,6.6z"/>
<path class=m d="M906.1,452.3l5.3-6.1"/>
<path fill=#6fff80 d="M856.4,468.5l5.8-6.6l-6.2-4l-5.8,6.6z"/>
<path class=m d="M861.7,462l-5.7-3.6"/>
<path fill=#6fffc3 d="M745.7,500.7l6.1-6.5l-6-4.1l-6,6.4z"/>
<path fill=#6effe6 d="M684.9,516.9l6.1-6.4l-5.8-4.2l-6.1,6.3z"/>
<path fill=#6fff9f d="M806.6,483.8l5.9-6.6l-6.1-4l-5.9,6.5z"/>
<path class=m d="M801,479.6l5.4-6"/>
<path fill=#6effe1 d="M695.9,514.9l6.1-6.4l-5.8-4.2l-6.1,6.3z"/>
<path class=m d="M690.6,510.6l5.6-5.9"/>
<path fill=#6fff7a d="M867.5,466.2l5.7-6.7l-6.1-4l-5.8,6.6z"/>
<path fill=#6fffbe d="M756.8,498.6l6-6.5l-6-4.1l-5.9,6.4z"/>
<path fill=#6fff9a d="M817.7,481.6l5.8-6.6l-6-4.1l-5.9,6.5z"/>
<path fill=#6fffdc d="M707,512.9l6.1-6.5l-5.9-4.2l-6,6.4z"/>
<path class=m d="M712.6,506.5l-5.4-3.8"/>
<path fill=#6fffb9 d="M767.9,496.4l5.9-6.5l-5.9-4.1l-6,6.4z"/>
<path class=m d="M762.3,492.2l5.6-6M773.4,490l-5.5-3.8"/>
<path fill=#6fff74 d="M878.6,463.8l5.7-6.7l-6.2-4l-5.7,6.6z"/>
<path class=m d="M872.8,459.6l5.3-6"/>
<path fill=#6fff95 d="M828.8,479.3l5.8-6.6l-6.1-4.1l-5.8,6.5z"/>
<path class=m d="M834.2,472.7l-5.7-3.7"/>
<path fill=#6fffd7 d="M718,510.9l6.1-6.5l-5.9-4.2l-6,6.4z"/>
<path fill=#6fffb4 d="M778.9,494.3l6-6.6l-6-4.1l-5.9,6.5z"/>
<path fill=#6ffff8 d="M657.1,526.7l6.2-6.4l-5.7-4.2l-6.2,6.3z"/>
<path class=m d="M657.2,526.3l-5.3-4M651.9,522.3l5.7-5.8"/>
<path fill=#70ff6f d="M889.7,461.4l5.7-6.7l-6.2-4l-5.7,6.6z"/>
<path class=m d="M895,454.8l-5.8-3.7"/>
<path fill=#6fff8f d="M839.9,477l5.8-6.7l-6.1-4l-5.9,6.5z"/>
<path class=m d="M834.2,472.7l5.4-6"/>
<path fill=#6fffd2 d="M729.1,508.8l6-6.5l-5.8-4.2l-6.1,6.4z"/>
<path class=m d="M723.7,504.4l5.6-5.9"/>
<path fill=#6ffff4 d="M668.2,524.8l6.1-6.5l-5.7-4.2l-6.2,6.4z"/>
<path fill=#6fffaf d="M790,492.1l6-6.6l-6.1-4.1l-5.9,6.5z"/>
<path fill=#76ff6f d="M900.8,459l5.7-6.8l-6.2-4l-5.7,6.7z"/>
<path class=m d="M900.8,458.5l5.3-6.2"/>
<path fill=#6fff8a d="M851,474.7l5.8-6.7l-6.2-4.1l-5.8,6.6z"/>
<path fill=#6fffcd d="M740.2,506.7l6-6.5l-5.9-4.2l-6,6.4z"/>
<path class=m d="M745.8,500.3l-5.5-3.9"/>
<path fill=#6fffef d="M679.2,522.8l6.2-6.4l-5.8-4.3l-6.1,6.4z"/>
<path class=m d="M684.9,516.4l-5.3-3.8"/>
<path fill=#6fffa9 d="M801.1,489.9l5.9-6.6l-6-4.2l-5.9,6.6z"/>
<path class=m d="M795.5,485.6l5.5-6M806.6,483.4l-5.6-3.8"/>
<path fill=#70ff84 d="M862.1,472.3l5.8-6.7l-6.2-4l-5.8,6.6z"/>
<path class=m d="M867.4,465.7l-5.7-3.7"/>
<path fill=#6fffc8 d="M751.2,504.6l6-6.5l-5.9-4.2l-6,6.4z"/>
<path fill=#6fffea d="M690.3,520.9l6.1-6.5l-5.8-4.3l-6.1,6.4z"/>
<path class=m d="M684.9,516.4l5.7-5.8"/>
<path fill=#6fffa4 d="M812.2,487.7l5.9-6.7l-6.1-4.1l-5.9,6.5z"/>
<path fill=#6fffe5 d="M701.4,518.9l6-6.5l-5.8-4.3l-6.1,6.4z"/>
<path fill=#6fffc3 d="M762.3,502.5l6-6.6l-6-4.2l-5.9,6.5z"/>
<path class=m d="M756.8,498.1l5.5-5.9"/>
<path fill=#70ff7f d="M873.2,470l5.8-6.7l-6.2-4.1l-5.8,6.6z"/>
<path class=m d="M867.4,465.7l5.4-6.1"/>
<path fill=#70ff9f d="M823.3,485.4l5.9-6.7l-6.1-4.1l-5.9,6.6z"/>
<path fill=#6fffe0 d="M712.4,516.9l6.1-6.6l-5.9-4.2l-6,6.4z"/>
<path class=m d="M718.1,510.4l-5.5-3.9"/>
<path fill=#70ffbe d="M773.4,500.4l6-6.7l-6-4.2l-6,6.6z"/>
<path class=m d="M778.9,493.8l-5.5-3.8"/>
<path fill=#70ff79 d="M884.3,467.6l5.8-6.8l-6.2-4l-5.8,6.6z"/>
<path fill=#70ff9a d="M834.4,483.2l5.9-6.7l-6.1-4.2l-5.9,6.6z"/>
<path class=m d="M828.7,478.8l5.5-6.1M839.8,476.5l-5.6-3.8"/>
<path fill=#6fffdc d="M723.5,514.9l6.1-6.6l-5.9-4.3l-6.1,6.5z"/>
<path class=m d="M718.1,510.4l5.6-6"/>
<path fill=#6ffffd d="M662.5,530.8l6.1-6.5l-5.7-4.4l-6.2,6.4z"/>
<path class=m d="M662.5,530.3l-5.3-4"/>
<path fill=#70ffb9 d="M784.5,498.2l6-6.6l-6.1-4.3l-5.9,6.6z"/>
<path fill=#70ff74 d="M895.5,465.2l5.7-6.8l-6.2-4.1l-5.8,6.7z"/>
<path class=m d="M895.4,464.8l5.4-6.3M900.8,458.5l-5.8-3.7"/>
<path fill=#70ff94 d="M845.5,480.9l5.9-6.8l-6.2-4.1l-5.8,6.6z"/>
<path fill=#70ffd7 d="M734.6,512.8l6-6.6l-5.9-4.3l-6,6.5z"/>
<path fill=#6ffff8 d="M673.5,528.9l6.2-6.6l-5.8-4.3l-6.1,6.4z"/>
<path fill=#70ffb4 d="M795.6,496.1l5.9-6.7l-6-4.3l-5.9,6.6z"/>
<path class=m d="M790,491.7l5.5-6.1"/>
<path fill=#70ff8f d="M856.7,478.6l5.8-6.8l-6.2-4.2l-5.8,6.7z"/>
<path fill=#70ffd2 d="M745.7,510.7l6-6.6l-5.9-4.3l-6.1,6.6z"/>
<path class=m d="M751.2,504.2l-5.4-3.9"/>
<path fill=#70fff3 d="M684.6,526.9l6.1-6.6l-5.8-4.3l-6.1,6.5z"/>
<path class=m d="M679.2,522.4l5.7-6M690.3,520.4l-5.4-4"/>
<path fill=#70ffae d="M806.7,493.9l5.9-6.8l-6-4.2l-5.9,6.6z"/>
<path class=m d="M812.2,487.2l-5.6-3.8"/>
<path fill=#70ff89 d="M867.8,476.3l5.8-6.8l-6.2-4.2l-5.8,6.7z"/>
<path class=m d="M862.1,471.9l5.3-6.2M873.2,469.5l-5.8-3.8"/>
<path fill=#70ffef d="M695.7,525l6.1-6.6l-5.8-4.4l-6.1,6.5z"/>
<path fill=#70ffcd d="M756.8,508.7l6-6.7l-6-4.3l-6,6.6z"/>
<path class=m d="M751.2,504.2l5.6-6.1"/>
<path fill=#70ffa9 d="M817.8,491.7l5.9-6.8l-6-4.2l-5.9,6.6z"/>
<path fill=#70ffea d="M706.8,523l6.1-6.6l-5.9-4.4l-6.1,6.5z"/>
<path fill=#70ffc8 d="M767.9,506.6l6-6.7l-6-4.4l-6,6.7z"/>
<path fill=#70ff84 d="M879,473.9l5.7-6.8l-6.2-4.2l-5.8,6.7z"/>
<path fill=#70ffa4 d="M829,489.4l5.9-6.8l-6.2-4.2l-5.8,6.7z"/>
<path class=m d="M823.3,485l5.4-6.2"/>
<path fill=#70ffe5 d="M717.9,521l6-6.7l-5.8-4.3l-6.1,6.5z"/>
<path class=m d="M712.4,516.4l5.7-6M723.5,514.4l-5.4-4"/>
<path fill=#70ffc3 d="M779,504.4l6-6.7l-6.1-4.3l-5.9,6.6z"/>
<path class=m d="M784.5,497.8l-5.6-4"/>
<path fill=#71ff7e d="M890.1,471.5l5.8-6.8l-6.3-4.2l-5.7,6.8z"/>
<path class=m d="M890.1,471.1l5.3-6.3"/>
<path fill=#70ff9f d="M840.1,487.2l5.9-6.9l-6.2-4.2l-5.8,6.7z"/>
<path class=m d="M845.5,480.4l-5.7-3.9"/>
<path fill=#70ffe0 d="M729,519l6-6.7l-5.9-4.4l-6,6.6z"/>
<path fill=#70fcff d="M667.8,534.9l6.2-6.6l-5.8-4.4l-6.2,6.5z"/>
<path class=m d="M667.8,534.5l-5.3-4.2"/>
<path fill=#70ffbe d="M790.1,502.3l6-6.8l-6.1-4.3l-5.9,6.7z"/>
<path class=m d="M784.5,497.8l5.5-6.1"/>
<path fill=#71ff99 d="M851.3,484.9l5.8-6.9l-6.2-4.2l-5.8,6.7z"/>
<path fill=#70ffdc d="M740.1,516.9l6-6.7l-5.9-4.4l-6.1,6.6z"/>
<path fill=#70fffd d="M678.9,533l6.2-6.6l-5.8-4.5l-6.2,6.6z"/>
<path class=m d="M673.6,528.4l5.6-6"/>
<path fill=#71ffb8 d="M801.2,500.1l6-6.8l-6.1-4.3l-5.9,6.7z"/>
<path fill=#71ff94 d="M862.4,482.6l5.8-6.9l-6.2-4.3l-5.8,6.8z"/>
<path class=m d="M856.7,478.1l5.4-6.2"/>
<path fill=#71ffd7 d="M751.2,514.9l6-6.8l-5.9-4.4l-6.1,6.7z"/>
<path class=m d="M745.7,510.3l5.5-6.1M756.8,508.2l-5.6-4"/>
<path fill=#70fff8 d="M690,531.1l6.1-6.7l-5.8-4.4l-6.1,6.5z"/>
<path class=m d="M695.7,524.5l-5.4-4.1"/>
<path fill=#71ffb3 d="M812.4,497.9l5.9-6.8l-6.1-4.3l-5.9,6.7z"/>
<path class=m d="M817.8,491.2l-5.6-4"/>
<path fill=#71ff8e d="M873.6,480.3l5.8-6.9l-6.2-4.3l-5.8,6.8z"/>
<path class=m d="M878.9,473.5l-5.7-4"/>
<path fill=#70fff4 d="M701.1,529.1l6.1-6.7l-5.8-4.4l-6.1,6.6z"/>
<path fill=#71ffd2 d="M762.3,512.8l6-6.8l-6-4.4l-6,6.7z"/>
<path fill=#71ffae d="M823.5,495.7l5.9-6.8l-6.1-4.4l-5.9,6.8z"/>
<path class=m d="M817.8,491.2l5.5-6.2"/>
<path fill=#71ffef d="M712.2,527.2l6.1-6.8l-5.9-4.4l-6.1,6.6z"/>
<path class=m d="M706.8,522.5l5.6-6.1"/>
<path fill=#71ffcd d="M773.4,510.7l6-6.8l-6-4.4l-6,6.7z"/>
<path fill=#71ff89 d="M884.7,477.9l5.8-6.9l-6.2-4.3l-5.8,6.9z"/>
<path class=m d="M884.7,477.5l5.4-6.4"/>
<path fill=#71ffa9 d="M834.7,493.5l5.8-6.9l-6.1-4.3l-5.9,6.8z"/>
<path fill=#71ffea d="M723.3,525.2l6.1-6.8l-5.9-4.4l-6.1,6.6z"/>
<path class=m d="M729,518.5l-5.5-4.1"/>
<path fill=#71ffc8 d="M784.6,508.6l5.9-6.9l-6-4.4l-6,6.8z"/>
<path class=m d="M779,504l5.5-6.2M790.1,501.8l-5.6-4"/>
<path fill=#71ffa4 d="M845.8,491.2l5.9-6.9l-6.2-4.3l-5.8,6.8z"/>
<path class=m d="M851.2,484.4l-5.7-4"/>
<path fill=#71ffe5 d="M734.5,523.2l6-6.8l-5.9-4.5l-6.1,6.7z"/>
<path fill=#71f8ff d="M673.2,539.2l6.2-6.7l-5.8-4.5l-6.2,6.5z"/>
<path class=m d="M673.2,538.7l-5.4-4.2M667.8,534.5l5.8-6.1"/>
<path fill=#71ffc3 d="M795.7,506.4l6-6.8l-6.1-4.4l-5.9,6.7z"/>
<path fill=#71ff9e d="M857,489l5.8-7l-6.2-4.3l-5.8,6.8z"/>
<path class=m d="M851.2,484.4l5.5-6.3"/>
<path fill=#71ffe0 d="M745.6,521.1l6-6.8l-5.9-4.5l-6.1,6.8z"/>
<path class=m d="M740.1,516.5l5.6-6.2"/>
<path fill=#71fcff d="M684.3,537.3l6.2-6.7l-5.9-4.6l-6.1,6.6z"/>
<path fill=#71ffbe d="M806.9,504.3l5.9-6.9l-6.1-4.4l-5.9,6.8z"/>
<path fill=#71ff99 d="M868.2,486.7l5.8-7l-6.2-4.3l-5.8,6.8z"/>
<path fill=#71ffdc d="M756.7,519.1l6.1-6.8l-6-4.5l-6.1,6.7z"/>
<path class=m d="M762.3,512.3l-5.5-4.1"/>
<path fill=#71fffd d="M695.4,535.4l6.2-6.8l-5.9-4.5l-6.1,6.6z"/>
<path class=m d="M701.1,528.7l-5.4-4.2"/>
<path fill=#71ffb8 d="M818,502.1l5.9-6.9l-6.1-4.4l-5.9,6.8z"/>
<path class=m d="M812.4,497.5l5.4-6.3M823.5,495.3l-5.7-4.1"/>
<path fill=#71fff9 d="M706.6,533.4l6.1-6.8l-5.9-4.5l-6.1,6.7z"/>
<path class=m d="M701.1,528.7l5.7-6.2"/>
<path fill=#72ff94 d="M879.3,484.4l5.9-7l-6.3-4.4l-5.8,6.9z"/>
<path class=m d="M879.3,483.9l5.4-6.4M884.7,477.5l-5.8-4"/>
<path fill=#71ffd7 d="M767.9,517l6-6.8l-6-4.5l-6,6.7z"/>
<path fill=#72ffb3 d="M829.2,499.9l5.9-6.9l-6.1-4.5l-5.9,6.9z"/>
<path fill=#71fff4 d="M717.7,531.4l6.1-6.8l-5.9-4.5l-6.1,6.7z"/>
<path fill=#71ffd2 d="M779,514.9l6-6.9l-6-4.5l-6,6.8z"/>
<path class=m d="M773.4,510.2l5.6-6.2"/>
<path fill=#72ffae d="M840.4,497.7l5.8-7l-6.1-4.4l-5.9,6.8z"/>
<path fill=#71ffef d="M728.8,529.5l6.1-6.9l-5.9-4.5l-6.1,6.7z"/>
<path class=m d="M734.5,522.7l-5.5-4.2"/>
<path fill=#72ffcd d="M790.2,512.8l6-6.9l-6.1-4.5l-6,6.8z"/>
<path class=m d="M795.7,506l-5.6-4.2"/>
<path fill=#72ffa9 d="M851.5,495.4l5.9-7l-6.2-4.4l-5.8,6.9z"/>
<path class=m d="M845.8,490.8l5.4-6.4M857,488.5l-5.8-4.1"/>
<path fill=#72ffea d="M740,527.5l6-6.9l-5.9-4.6l-6.1,6.8z"/>
<path class=m d="M734.5,522.7l5.6-6.2"/>
<path fill=#71f3ff d="M678.6,543.5l6.2-6.8l-5.9-4.6l-6.1,6.7z"/>
<path class=m d="M678.6,543.1l-5.4-4.4"/>
<path fill=#72ffc8 d="M801.3,510.7l6-7l-6.1-4.5l-5.9,6.9z"/>
<path fill=#72ffa4 d="M862.7,493.2l5.9-7.1l-6.2-4.4l-5.9,6.9z"/>
<path fill=#72ffe6 d="M751.1,525.4l6.1-6.8l-6-4.6l-6,6.8z"/>
<path fill=#71f7ff d="M689.7,541.6l6.2-6.8l-5.9-4.6l-6.1,6.7z"/>
<path fill=#72ffc3 d="M812.5,508.5l6-6.9l-6.1-4.6l-6,6.9z"/>
<path class=m d="M806.9,503.8l5.5-6.3"/>
<path fill=#72ff9e d="M873.9,490.9l5.9-7.1l-6.3-4.4l-5.8,6.9z"/>
<path class=m d="M873.9,490.4l5.4-6.5"/>
<path fill=#72ffe1 d="M762.3,523.4l6-6.9l-6-4.6l-6,6.8z"/>
<path class=m d="M767.9,516.6l-5.6-4.3"/>
<path fill=#72fcff d="M700.9,539.7l6.1-6.8l-5.9-4.7l-6.1,6.8z"/>
<path class=m d="M695.4,534.9l5.7-6.2M706.6,533l-5.5-4.3"/>
<path fill=#72ffbe d="M823.7,506.4l5.9-7l-6.1-4.6l-5.9,6.9z"/>
<path class=m d="M829.2,499.4l-5.7-4.1"/>
<path fill=#72fffe d="M712,537.8l6.1-6.9l-5.9-4.6l-6.1,6.7z"/>
<path fill=#72ffdc d="M773.5,521.3l6-6.9l-6.1-4.6l-6,6.8z"/>
<path class=m d="M767.9,516.6l5.5-6.4"/>
<path fill=#72ffb9 d="M834.9,504.2l5.9-7.1l-6.2-4.5l-5.9,6.9z"/>
<path fill=#72fff9 d="M723.2,535.8l6.1-6.9l-5.9-4.6l-6.1,6.8z"/>
<path fill=#72ffd7 d="M784.6,519.3l6-7l-6-4.6l-6,6.9z"/>
<path fill=#72ffb4 d="M846.1,502l5.9-7.1l-6.2-4.6l-5.9,7z"/>
<path class=m d="M840.4,497.2l5.4-6.4"/>
<path fill=#72fff4 d="M734.3,533.9l6.1-7l-5.9-4.6l-6.1,6.8z"/>
<path class=m d="M728.8,529l5.7-6.3M740,527l-5.5-4.3"/>
<path fill=#72ffd2 d="M795.8,517.2l6-7.1l-6.1-4.6l-6,6.9z"/>
<path class=m d="M801.3,510.2l-5.6-4.2"/>
<path fill=#72ffae d="M857.3,499.7l5.9-7.1l-6.2-4.5l-5.9,7z"/>
<path class=m d="M862.7,492.7l-5.7-4.2"/>
<path fill=#72fff0 d="M745.5,531.9l6.1-7l-6-4.7l-6.1,6.9z"/>
<path fill=#72edff d="M684,548l6.2-6.9l-5.9-4.7l-6.1,6.8z"/>
<path class=m d="M684,547.5l-5.4-4.4"/>
<path fill=#72ffcd d="M807,515l6-7l-6.1-4.6l-6,6.9z"/>
<path class=m d="M801.3,510.2l5.6-6.4"/>
<path fill=#73ffa9 d="M868.5,497.5l5.9-7.2l-6.3-4.5l-5.8,7z"/>
<path class=m d="M868.5,497l5.4-6.6"/>
<path fill=#72ffeb d="M756.7,529.9l6-7l-6-4.7l-6,6.9z"/>
<path fill=#72f2ff d="M695.2,546.1l6.1-6.9l-5.8-4.7l-6.2,6.8z"/>
<path class=m d="M689.7,541.2l5.7-6.3"/>
<path fill=#73ffc8 d="M818.2,512.9l5.9-7.1l-6.1-4.6l-5.9,7z"/>
<path fill=#72ffe6 d="M767.9,527.8l6-7l-6-4.7l-6.1,6.9z"/>
<path class=m d="M762.3,523l5.6-6.4M773.5,520.9l-5.6-4.3"/>
<path fill=#72f6ff d="M706.3,544.2l6.2-6.9l-5.9-4.8l-6.2,6.8z"/>
<path class=m d="M712,537.3l-5.4-4.3"/>
<path fill=#73ffc3 d="M829.4,510.7l5.9-7.1l-6.1-4.6l-5.9,7z"/>
<path class=m d="M834.9,503.7l-5.7-4.3"/>
<path fill=#72fbff d="M717.5,542.3l6.1-7l-5.9-4.7l-6.1,6.8z"/>
<path fill=#73ffe1 d="M779.1,525.8l6-7.1l-6.1-4.7l-6,7z"/>
<path fill=#73ffbe d="M840.6,508.5l5.9-7.1l-6.2-4.6l-5.9,7z"/>
<path class=m d="M834.9,503.7l5.5-6.5"/>
<path fill=#73fffe d="M728.7,540.3l6.1-7l-6-4.7l-6.1,6.9z"/>
<path class=m d="M723.2,535.4l5.6-6.4"/>
<path fill=#73ffdd d="M790.3,523.7l6-7.1l-6.1-4.7l-6,7z"/>
<path fill=#73ffb9 d="M851.8,506.3l5.9-7.1l-6.2-4.7l-5.9,7.1z"/>
<path fill=#73fffa d="M739.9,538.4l6.1-7.1l-6-4.7l-6.1,6.9z"/>
<path class=m d="M745.5,531.4l-5.5-4.4"/>
<path fill=#73ffd8 d="M801.5,521.6l5.9-7.1l-6.1-4.7l-5.9,7z"/>
<path class=m d="M795.8,516.7l5.5-6.5M807,514.6l-5.7-4.4"/>
<path fill=#73ffb4 d="M863.1,504.1l5.8-7.2l-6.2-4.6l-5.9,7.1z"/>
<path class=m d="M863.1,503.7l5.4-6.7M868.5,497l-5.8-4.3"/>
<path fill=#73fff5 d="M751.1,536.4l6-7.1l-6-4.8l-6,7z"/>
<path fill=#73e8ff d="M689.5,552.5l6.1-6.9l-5.8-4.9l-6.2,6.9z"/>
<path class=m d="M689.5,552.1l-5.5-4.6M684,547.5l5.7-6.3"/>
<path fill=#73ffd3 d="M812.7,519.5l5.9-7.2l-6.1-4.7l-5.9,7.1z"/>
<path fill=#73fff0 d="M762.3,534.4l6-7.1l-6-4.8l-6.1,7z"/>
<path class=m d="M756.7,529.4l5.6-6.4"/>
<path fill=#73edff d="M700.6,550.7l6.2-7l-5.9-4.9l-6.2,6.9z"/>
<path fill=#73ffce d="M823.9,517.3l5.9-7.1l-6.1-4.7l-6,7z"/>
<path fill=#73f1ff d="M711.8,548.8l6.2-7.1l-6-4.8l-6.1,6.9z"/>
<path class=m d="M717.5,541.8l-5.5-4.5"/>
<path fill=#73ffec d="M773.5,532.3l6-7.1l-6-4.8l-6.1,7z"/>
<path class=m d="M779.1,525.3l-5.6-4.4"/>
<path fill=#73ffc9 d="M835.1,515.2l5.9-7.2l-6.1-4.7l-5.9,7.1z"/>
<path class=m d="M829.4,510.3l5.5-6.6M840.6,508.1l-5.7-4.4"/>
<path fill=#73f6ff d="M723,546.8l6.1-7l-5.9-4.9l-6.1,7z"/>
<path class=m d="M717.5,541.8l5.7-6.4"/>
<path fill=#73ffe7 d="M784.7,530.3l6-7.1l-6.1-4.8l-6,7z"/>
<path fill=#73ffc4 d="M846.4,513l5.9-7.2l-6.2-4.7l-5.9,7.1z"/>
<path fill=#73faff d="M734.2,544.9l6.1-7.1l-5.9-4.8l-6.1,6.9z"/>
<path fill=#73ffe2 d="M795.9,528.2l6-7.1l-6.1-4.8l-6,7z"/>
<path class=m d="M790.3,523.2l5.5-6.5"/>
<path fill=#74ffbf d="M857.6,510.8l5.9-7.2l-6.2-4.8l-5.9,7.2z"/>
<path class=m d="M857.6,510.4l5.5-6.7"/>
<path fill=#73ffff d="M745.4,543l6.1-7.2l-6-4.8l-6.1,7z"/>
<path class=m d="M751.1,535.9l-5.6-4.5"/>
<path fill=#74ffdd d="M807.1,526.1l6-7.2l-6.1-4.8l-6,7.1z"/>
<path class=m d="M812.7,519l-5.7-4.4"/>
<path fill=#73fffb d="M756.6,541l6.1-7.2l-6-4.8l-6.1,7z"/>
<path class=m d="M751.1,535.9l5.6-6.5"/>
<path fill=#73e3ff d="M694.9,557.2l6.2-7.1l-5.9-4.9l-6.2,7z"/>
<path class=m d="M694.9,556.7l-5.4-4.6"/>
<path fill=#74ffd8 d="M818.4,524l5.9-7.2l-6.1-4.8l-6,7.1z"/>
<path fill=#74fff6 d="M767.9,539l6-7.2l-6-4.9l-6.1,7.1z"/>
<path fill=#73e7ff d="M706.1,555.3l6.2-7.1l-5.9-4.9l-6.2,7z"/>
<path fill=#74ffd3 d="M829.6,521.9l6-7.3l-6.2-4.8l-6,7.2z"/>
<path class=m d="M823.9,516.9l5.5-6.6"/>
<path fill=#74ecff d="M717.3,553.4l6.2-7.1l-6-4.9l-6.1,7z"/>
<path class=m d="M711.8,548.3l5.7-6.5M723,546.4l-5.5-4.6"/>
<path fill=#74fff1 d="M779.1,537l6-7.2l-6-4.9l-6.1,7.1z"/>
<path class=m d="M784.7,529.8l-5.6-4.5"/>
<path fill=#74ffcf d="M840.9,519.8l5.9-7.3l-6.2-4.9l-5.9,7.2z"/>
<path class=m d="M846.4,512.6l-5.8-4.5"/>
<path fill=#74f0ff d="M728.6,551.5l6.1-7.1l-6-5l-6.1,7.1z"/>
<path fill=#74ffed d="M790.3,534.9l6-7.2l-6-4.9l-6.1,7.1z"/>
<path class=m d="M784.7,529.8l5.6-6.6"/>
<path fill=#74ffca d="M852.1,517.6l5.9-7.3l-6.2-4.9l-5.9,7.2z"/>
<path class=m d="M852.1,517.1l5.5-6.7"/>
<path fill=#74f5ff d="M739.8,549.6l6.1-7.2l-6-4.9l-6.1,7z"/>
<path fill=#74ffe8 d="M801.6,532.9l6-7.3l-6.1-4.9l-6,7.2z"/>
<path fill=#74f9ff d="M751,547.6l6.1-7.2l-6-4.9l-6.1,7.1z"/>
<path class=m d="M745.4,542.5l5.7-6.6M756.7,540.5l-5.6-4.6"/>
<path fill=#74ffe3 d="M812.8,530.8l6-7.3l-6.1-4.9l-6,7.2z"/>
<path class=m d="M818.4,523.6l-5.7-4.6"/>
<path fill=#74feff d="M762.2,545.7l6.1-7.3l-6-4.9l-6.1,7.1z"/>
<path fill=#74ddff d="M700.4,562l6.2-7.2l-5.9-5l-6.2,7z"/>
<path class=m d="M700.4,561.5l-5.5-4.8"/>
<path fill=#74ffde d="M824.1,528.7l6-7.3l-6.2-5l-6,7.3z"/>
<path class=m d="M818.4,523.6l5.5-6.7"/>
<path fill=#74fffc d="M773.5,543.7l6-7.3l-6-5l-6.1,7.2z"/>
<path fill=#74e1ff d="M711.6,560.1l6.2-7.2l-6-5l-6.1,7.1z"/>
<path class=m d="M706.1,554.9l5.7-6.6"/>
<path fill=#74ffd9 d="M835.4,526.6l5.9-7.4l-6.2-4.9l-5.9,7.2z"/>
<path fill=#74e6ff d="M722.9,558.2l6.1-7.2l-6-5.1l-6.1,7.2z"/>
<path class=m d="M728.6,551.1l-5.6-4.7"/>
<path fill=#74fff7 d="M784.7,541.7l6.1-7.3l-6.1-5l-6,7.2z"/>
<path class=m d="M779.1,536.5l5.6-6.7M790.3,534.5l-5.6-4.7"/>
<path fill=#74ffd4 d="M846.6,524.4l6-7.4l-6.3-4.9l-5.9,7.3z"/>
<path class=m d="M846.6,524l5.5-6.9M852.1,517.1l-5.7-4.5"/>
<path fill=#74eaff d="M734.1,556.3l6.1-7.2l-6-5.1l-6.1,7.2z"/>
<path fill=#74fff2 d="M796,539.6l6-7.3l-6.1-5l-6,7.2z"/>
<path fill=#74efff d="M745.4,554.4l6.1-7.3l-6.1-5l-6.1,7.1z"/>
<path class=m d="M739.8,549.1l5.6-6.6"/>
<path fill=#75ffee d="M807.3,537.6l6-7.4l-6.2-5l-6,7.3z"/>
<path fill=#75f3ff d="M756.6,552.4l6.1-7.3l-6-5l-6.1,7.2z"/>
<path class=m d="M762.3,545.2l-5.6-4.7"/>
<path fill=#75ffe9 d="M818.5,535.5l6-7.4l-6.1-5l-6,7.3z"/>
<path class=m d="M812.8,530.3l5.6-6.7M824.1,528.2l-5.7-4.6"/>
<path fill=#75f8ff d="M767.9,550.5l6-7.3l-6-5.1l-6.1,7.2z"/>
<path fill=#74d7ff d="M705.9,566.8l6.2-7.2l-6-5.2l-6.1,7.2z"/>
<path class=m d="M705.9,566.4l-5.5-4.9M700.4,561.5l5.7-6.6"/>
<path fill=#75ffe4 d="M829.8,533.4l6-7.4l-6.2-5l-6,7.3z"/>
<path fill=#75fcff d="M779.1,548.5l6.1-7.4l-6.1-5l-6,7.2z"/>
<path class=m d="M773.5,543.2l5.6-6.7"/>
<path fill=#75dcff d="M717.2,565l6.1-7.3l-5.9-5.2l-6.2,7.2z"/>
<path fill=#75ffdf d="M841.1,531.3l6-7.4l-6.3-5l-5.9,7.3z"/>
<path class=m d="M841.1,530.9l5.5-6.9"/>
<path fill=#75e0ff d="M728.4,563.1l6.2-7.3l-6-5.2l-6.2,7.2z"/>
<path class=m d="M734.1,555.9l-5.5-4.8"/>
<path fill=#75fffd d="M790.4,546.5l6-7.4l-6.1-5.1l-6,7.3z"/>
<path class=m d="M796,539.2l-5.7-4.7"/>
<path fill=#75e4ff d="M739.7,561.2l6.1-7.3l-6-5.2l-6.1,7.2z"/>
<path class=m d="M734.1,555.9l5.7-6.8"/>
<path fill=#75fff8 d="M801.7,544.5l6-7.4l-6.1-5.1l-6,7.3z"/>
<path fill=#75e9ff d="M751,559.3l6.1-7.4l-6.1-5.2l-6.1,7.3z"/>
<path fill=#75fff4 d="M813,542.4l6-7.4l-6.2-5.1l-6,7.3z"/>
<path class=m d="M807.3,537.1l5.5-6.8"/>
<path fill=#75edff d="M762.2,557.3l6.1-7.3l-6-5.2l-6.1,7.3z"/>
<path class=m d="M767.9,550l-5.6-4.8"/>
<path fill=#75ffef d="M824.3,540.4l6-7.5l-6.2-5.1l-6,7.4z"/>
<path class=m d="M829.8,533l-5.7-4.8"/>
<path fill=#75f2ff d="M773.5,555.4l6.1-7.4l-6.1-5.2l-6.1,7.3z"/>
<path class=m d="M767.9,550l5.6-6.8"/>
<path fill=#75d1ff d="M711.4,571.8l6.2-7.4l-5.9-5.2l-6.2,7.2z"/>
<path class=m d="M711.5,571.3l-5.6-4.9"/>
<path fill=#75ffea d="M835.6,538.3l6-7.5l-6.3-5.1l-5.9,7.4z"/>
<path class=m d="M835.6,537.8l5.5-6.9"/>
<path fill=#75f6ff d="M784.8,553.4l6.1-7.4l-6.2-5.2l-6,7.3z"/>
<path fill=#75d6ff d="M722.7,569.9l6.2-7.3l-6-5.3l-6.2,7.3z"/>
<path fill=#75daff d="M734,568.1l6.1-7.4l-6-5.3l-6.1,7.3z"/>
<path class=m d="M728.4,562.6l5.7-6.7M739.7,560.7l-5.6-4.8"/>
<path fill=#75fbff d="M796.1,551.4l6-7.5l-6.1-5.2l-6,7.4z"/>
<path class=m d="M801.7,544l-5.7-4.8"/>
<path fill=#75deff d="M745.3,566.2l6.1-7.4l-6-5.3l-6.2,7.3z"/>
<path fill=#76fffe d="M807.4,549.4l6-7.5l-6.1-5.2l-6.1,7.4z"/>
<path class=m d="M801.7,544l5.6-6.9"/>
<path fill=#76e3ff d="M756.6,564.3l6.1-7.5l-6.1-5.3l-6.1,7.4z"/>
<path fill=#76fffa d="M818.7,547.4l6-7.6l-6.2-5.2l-6,7.5z"/>
<path fill=#76e7ff d="M767.9,562.4l6.1-7.5l-6.1-5.3l-6.1,7.4z"/>
<path class=m d="M762.2,556.9l5.7-6.9M773.5,554.9l-5.6-4.9"/>
<path fill=#76fff5 d="M830,545.3l6-7.5l-6.2-5.3l-6,7.5z"/>
<path class=m d="M830,544.9l5.6-7.1M835.6,537.8l-5.8-4.8"/>
<path fill=#76ecff d="M779.2,560.4l6-7.5l-6.1-5.3l-6,7.4z"/>
<path fill=#76cbff d="M717,576.8l6.2-7.4l-6-5.3l-6.2,7.3z"/>
<path class=m d="M717,576.4l-5.5-5.1"/>
<path fill=#76f0ff d="M790.5,558.4l6-7.5l-6.1-5.3l-6,7.4z"/>
<path fill=#76d0ff d="M728.3,575l6.1-7.5l-6-5.3l-6.1,7.4z"/>
<path class=m d="M722.7,569.5l5.7-6.9"/>
<path fill=#76d4ff d="M739.6,573.1l6.1-7.4l-6-5.4l-6.1,7.4z"/>
<path class=m d="M745.3,565.7l-5.6-5"/>
<path fill=#76f5ff d="M801.8,556.5l6-7.6l-6.1-5.3l-6,7.5z"/>
<path class=m d="M796.1,551l5.6-7M807.4,549l-5.7-5"/>
<path fill=#76d8ff d="M750.9,571.3l6.1-7.6l-6-5.3l-6.2,7.4z"/>
<path fill=#76f9ff d="M813.1,554.4l6.1-7.6l-6.2-5.3l-6,7.5z"/>
<path fill=#76ddff d="M762.2,569.4l6.1-7.6l-6.1-5.4l-6.1,7.5z"/>
<path class=m d="M756.6,563.8l5.6-6.9"/>
<path fill=#76feff d="M824.5,552.4l6-7.6l-6.2-5.3l-6,7.5z"/>
<path class=m d="M824.5,552l5.5-7.1"/>
<path fill=#76e1ff d="M773.5,567.5l6.1-7.6l-6.1-5.4l-6.1,7.5z"/>
<path class=m d="M779.2,560l-5.7-5.1"/>
<path fill=#76e6ff d="M784.9,565.5l6-7.6l-6.1-5.4l-6.1,7.5z"/>
<path fill=#76c5ff d="M722.6,582l6.1-7.5l-6-5.5l-6.1,7.5z"/>
<path class=m d="M722.6,581.6l-5.6-5.2M717,576.4l5.7-6.9"/>
<path fill=#76c9ff d="M733.9,580.2l6.1-7.6l-6-5.4l-6.2,7.4z"/>
<path fill=#76eaff d="M796.2,563.6l6-7.7l-6.1-5.4l-6.1,7.6z"/>
<path class=m d="M790.5,558l5.6-7"/>
<path fill=#76ceff d="M745.2,578.3l6.1-7.6l-6-5.4l-6.2,7.5z"/>
<path class=m d="M750.9,570.8l-5.6-5.1"/>
<path fill=#77efff d="M807.5,561.6l6.1-7.7l-6.2-5.4l-6,7.6z"/>
<path class=m d="M813.1,554l-5.7-5"/>
<path fill=#77d2ff d="M756.5,576.5l6.2-7.7l-6.1-5.4l-6.1,7.5z"/>
<path class=m d="M750.9,570.8l5.7-7"/>
<path fill=#77f3ff d="M818.9,559.6l6-7.7l-6.2-5.4l-6,7.6z"/>
<path class=m d="M818.9,559.1l5.6-7.1"/>
<path fill=#77d6ff d="M767.9,574.6l6.1-7.7l-6.1-5.4l-6.1,7.5z"/>
<path fill=#77dbff d="M779.2,572.7l6.1-7.7l-6.1-5.5l-6.1,7.6z"/>
<path class=m d="M784.9,565.1l-5.7-5.1"/>
<path fill=#77dfff d="M790.6,570.7l6-7.7l-6.1-5.5l-6.1,7.6z"/>
<path class=m d="M784.9,565.1l5.6-7.1"/>
<path fill=#77bfff d="M728.2,587.3l6.1-7.6l-6-5.6l-6.2,7.5z"/>
<path class=m d="M728.2,586.8l-5.6-5.2"/>
<path fill=#77c3ff d="M739.5,585.5l6.2-7.7l-6.1-5.6l-6.2,7.6z"/>
<path fill=#77e4ff d="M801.9,568.8l6.1-7.7l-6.2-5.5l-6,7.6z"/>
<path fill=#77c7ff d="M750.8,583.6l6.2-7.7l-6.1-5.5l-6.1,7.6z"/>
<path class=m d="M745.2,577.9l5.7-7.1M756.5,576l-5.6-5.2"/>
<path fill=#77e8ff d="M813.3,566.8l6-7.7l-6.2-5.6l-6,7.7z"/>
<path class=m d="M813.3,566.4l5.6-7.3M818.9,559.1l-5.8-5.1"/>
<path fill=#77ccff d="M762.2,581.8l6.1-7.8l-6.1-5.5l-6.1,7.6z"/>
<path fill=#77d0ff d="M773.6,579.9l6.1-7.8l-6.2-5.5l-6.1,7.6z"/>
<path fill=#77d4ff d="M784.9,578l6.1-7.8l-6.1-5.6l-6.1,7.7z"/>
<path class=m d="M779.2,572.2l5.7-7.1M790.6,570.3l-5.7-5.2"/>
<path fill=#77d9ff d="M796.3,576.1l6.1-7.8l-6.2-5.6l-6.1,7.7z"/>
<path fill=#77b8ff d="M733.8,592.6l6.1-7.7l-6-5.6l-6.2,7.6z"/>
<path class=m d="M733.8,592.2l-5.6-5.4"/>
<path fill=#77bdff d="M745.1,590.8l6.2-7.7l-6.1-5.7l-6.1,7.7z"/>
<path class=m d="M739.5,585l5.7-7.1"/>
<path fill=#77ddff d="M807.7,574.1l6-7.8l-6.2-5.6l-6,7.7z"/>
<path class=m d="M807.7,573.7l5.6-7.3"/>
<path fill=#77c1ff d="M756.5,589l6.1-7.8l-6.1-5.6l-6.1,7.6z"/>
<path class=m d="M762.2,581.3l-5.7-5.3"/>
<path fill=#78c5ff d="M767.9,587.2l6.1-7.8l-6.1-5.7l-6.2,7.7z"/>
<path fill=#78c9ff d="M779.3,585.3l6.1-7.8l-6.2-5.7l-6.1,7.7z"/>
<path class=m d="M773.6,579.4l5.6-7.2"/>
<path fill=#78ceff d="M790.6,583.4l6.1-7.9l-6.1-5.7l-6.1,7.8z"/>
<path class=m d="M796.3,575.6l-5.7-5.3"/>
<path fill=#78d2ff d="M802,581.5l6.1-7.9l-6.2-5.7l-6.1,7.8z"/>
<path class=m d="M802,581l5.7-7.3"/>
<path fill=#78b2ff d="M739.4,598.1l6.2-7.8l-6.1-5.7l-6.2,7.7z"/>
<path class=m d="M739.4,597.7l-5.6-5.5M733.8,592.2l5.7-7.2"/>
<path fill=#78b6ff d="M750.8,596.3l6.1-7.8l-6.1-5.8l-6.1,7.8z"/>
<path fill=#78baff d="M762.2,594.5l6.1-7.9l-6.1-5.7l-6.1,7.7z"/>
<path class=m d="M767.9,586.7l-5.7-5.4"/>
<path fill=#78beff d="M773.6,592.7l6.1-7.9l-6.1-5.8l-6.2,7.8z"/>
<path class=m d="M767.9,586.7l5.7-7.3"/>
<path fill=#78c2ff d="M785,590.8l6.1-7.9l-6.2-5.8l-6.1,7.8z"/>
<path fill=#78c7ff d="M796.4,588.9l6.1-7.9l-6.2-5.8l-6.1,7.8z"/>
<path class=m d="M796.4,588.5l5.6-7.5M802,581l-5.7-5.4"/>
<path fill=#78abff d="M745.1,603.7l6.1-7.9l-6.1-5.9l-6.1,7.8z"/>
<path class=m d="M745.1,603.3l-5.7-5.6"/>
<path fill=#78afff d="M756.5,601.9l6.1-7.9l-6.1-5.9l-6.2,7.8z"/>
<path fill=#78b3ff d="M767.9,600.1l6.1-8l-6.1-5.8l-6.2,7.8z"/>
<path class=m d="M762.2,594.1l5.7-7.4M773.6,592.2l-5.7-5.5"/>
<path fill=#79b7ff d="M779.3,598.3l6.1-8l-6.1-5.9l-6.2,7.9z"/>
<path fill=#79bcff d="M790.7,596.4l6.1-8l-6.2-5.9l-6.1,7.9z"/>
<path class=m d="M790.7,596l5.7-7.5"/>
<path fill=#79a4ff d="M750.7,609.4l6.2-8l-6.1-6l-6.2,7.9z"/>
<path class=m d="M750.7,608.9l-5.6-5.6"/>
<path fill=#79a8ff d="M762.2,607.6l6.1-8l-6.1-6l-6.2,7.9z"/>
<path class=m d="M756.5,601.5l5.7-7.4"/>
<path fill=#79acff d="M773.6,605.8l6.1-8.1l-6.1-5.9l-6.2,7.9z"/>
<path class=m d="M779.3,597.8l-5.7-5.6"/>
<path fill=#79b0ff d="M785,604l6.2-8.1l-6.2-6l-6.2,8z"/>
<path class=m d="M785,603.5l5.7-7.5"/>
<path fill=#799dff d="M756.4,615.2l6.2-8.1l-6.1-6.1l-6.2,8z"/>
<path class=m d="M756.4,614.7l-5.7-5.8M750.7,608.9l5.8-7.4"/>
<path fill=#79a1ff d="M767.9,613.4l6.1-8.1l-6.1-6.1l-6.2,8z"/>
<path fill=#79a5ff d="M779.3,611.6l6.2-8.1l-6.2-6.1l-6.2,8z"/>
<path class=m d="M779.3,611.2l5.7-7.7M785,603.5l-5.7-5.7"/>
<path fill=#7a96ff d="M762.1,621.1l6.2-8.2l-6.1-6.2l-6.2,8.1z"/>
<path class=m d="M762.1,620.6l-5.7-5.9"/>
<path fill=#7a9aff d="M773.6,619.3l6.2-8.2l-6.2-6.2l-6.2,8.1z"/>
<path class=m d="M773.6,618.9l5.7-7.7"/>
<path fill=#7a8eff d="M767.9,627.1l6.2-8.3l-6.2-6.3l-6.2,8.2z"/>
<path class=m d="M767.9,626.6l5.7-7.7M767.9,626.6l-5.8-6"/>
</g>
<polyline points="570.4,398.5 582.4,394.8 590.5,392.4 598.4,390.2 602.4,389.1 606.4,387.9 610.5,386.8 614.5,385.6 618.5,384.5 622.5,383.3 626.4,382.2 630.4,381 634.5,379.9 638.5,378.7 642.5,377.6 646.5,376.4 650.4,375.2 654.5,374 658.5,372.8 662.5,371.7 666.5,370.5 670.4,369.3 674.5,368.1 678.5,366.9 682.5,365.7 686.5,364.5 690.5,363.3 694.5,362.1 698.5,360.9 702.3,359.6 706.4,358.4 710.5,357.2 714.5,355.9 718.5,354.6 722.5,353.4 726.5,352.3 730.2,351 734.2,349.8 738.3,348.5 742.3,347.2 746.4,345.9 750.5,344.6 754.5,343.4 758,342.2 762.1,340.9 766.1,339.6 770.2,338.3 774.3,337 778.3,335.7 782.4,334.4 786.4,333 790.5,331.7 794.5,330.5 798.5,329.2 802.1,327.9 806.2,326.6 810.3,325.2 814.3,323.9 818.4,322.5 822.5,321.2 826.5,319.8 830.5,318.5 834.5,317.1 838.5,315.8 842.5,314.5 846.5,313.1 850.4,311.8 854.4,310.4 858.5,309 862.5,307.6 866.5,306.2 870.5,304.8 874.5,303.4 878.5,302.1 882.5,300.7 886.5,299.3 890.4,297.9 898.5,295.1 902.2,293.8" fill="none" stroke="#000" stroke-width="1.1" stroke-opacity="0.85"/>
<circle cx="462.6" cy="436.9" r="6.3" fill="#b40000" stroke="#200" stroke-width="0.9"/>
<clipPath id="cl"><path d="M700,300 L840,300 L840,355.4 L700,386.2 Z"/></clipPath>
<circle cx="767.9" cy="366.6" r="6.3" fill="#b40000" stroke="#200" stroke-width="0.9" clip-path="url(#cl)"/>
<circle cx="767.9" cy="360.9" r="6.3" fill="#b40000" stroke="#200" stroke-width="0.9"/>
<g fill="#000"><circle cx="452.3" cy="222" r="3.1"/><circle cx="454.8" cy="273.6" r="3.1"/><circle cx="457.3" cy="325.3" r="3.1"/><circle cx="459.8" cy="376.9" r="3.1"/><circle cx="462.2" cy="428.6" r="3.1"/><circle cx="464.7" cy="480.2" r="3.1"/><circle cx="467.2" cy="531.9" r="3.1"/><circle cx="471.8" cy="628.7" r="3.1"/><circle cx="545.8" cy="664.2" r="3.1"/><circle cx="619.8" cy="699.7" r="3.1"/><circle cx="693.8" cy="735.1" r="3.1"/><circle cx="767.8" cy="770.6" r="3.1"/><circle cx="841.8" cy="735.1" r="3.1"/><circle cx="915.9" cy="699.7" r="3.1"/><circle cx="990" cy="664.2" r="3.1"/><circle cx="1064" cy="628.7" r="3.1"/></g>
<g font-family="Liberation Sans, sans-serif">
<text x="445.7" y="217.6" text-anchor="end" font-size="14.2" fill="#000" font-weight="normal" textLength="14.6" lengthAdjust="spacingAndGlyphs">18</text>
<text x="448.2" y="269.2" text-anchor="end" font-size="14.2" fill="#000" font-weight="normal" textLength="14.6" lengthAdjust="spacingAndGlyphs">17</text>
<text x="450.7" y="320.9" text-anchor="end" font-size="14.2" fill="#000" font-weight="normal" textLength="14.6" lengthAdjust="spacingAndGlyphs">16</text>
<text x="453.2" y="372.5" text-anchor="end" font-size="14.2" fill="#000" font-weight="normal" textLength="14.6" lengthAdjust="spacingAndGlyphs">15</text>
<text x="455.6" y="424.2" text-anchor="end" font-size="14.2" fill="#000" font-weight="normal" textLength="14.6" lengthAdjust="spacingAndGlyphs">14</text>
<text x="458.1" y="475.8" text-anchor="end" font-size="14.2" fill="#000" font-weight="normal" textLength="14.6" lengthAdjust="spacingAndGlyphs">13</text>
<text x="460.6" y="527.5" text-anchor="end" font-size="14.2" fill="#000" font-weight="normal" textLength="14.6" lengthAdjust="spacingAndGlyphs">12</text>
<text x="464.2" y="642.3" text-anchor="end" font-size="14.2" fill="#000" font-weight="normal" textLength="22.4" lengthAdjust="spacingAndGlyphs">300</text>
<text x="538.2" y="677.8" text-anchor="end" font-size="14.2" fill="#000" font-weight="normal" textLength="22.4" lengthAdjust="spacingAndGlyphs">250</text>
<text x="612.2" y="713.3" text-anchor="end" font-size="14.2" fill="#000" font-weight="normal" textLength="22.4" lengthAdjust="spacingAndGlyphs">200</text>
<text x="686.2" y="748.7" text-anchor="end" font-size="14.2" fill="#000" font-weight="normal" textLength="22.4" lengthAdjust="spacingAndGlyphs">150</text>
<text x="760.2" y="784.2" text-anchor="end" font-size="14.2" fill="#000" font-weight="normal" textLength="22.4" lengthAdjust="spacingAndGlyphs">100</text>
<text x="775.8" y="783.9" text-anchor="start" font-size="14.2" fill="#000" font-weight="normal" textLength="22.4" lengthAdjust="spacingAndGlyphs">300</text>
<text x="849.8" y="748.4" text-anchor="start" font-size="14.2" fill="#000" font-weight="normal" textLength="22.4" lengthAdjust="spacingAndGlyphs">350</text>
<text x="923.9" y="713" text-anchor="start" font-size="14.2" fill="#000" font-weight="normal" textLength="22.4" lengthAdjust="spacingAndGlyphs">400</text>
<text x="998" y="677.5" text-anchor="start" font-size="14.2" fill="#000" font-weight="normal" textLength="22.4" lengthAdjust="spacingAndGlyphs">450</text>
<text x="1072" y="642" text-anchor="start" font-size="14.2" fill="#000" font-weight="normal" textLength="22.4" lengthAdjust="spacingAndGlyphs">500</text>
<text x="392.5" y="754.5" text-anchor="start" font-size="16.5" fill="#000" font-weight="normal" textLength="227" lengthAdjust="spacingAndGlyphs">B: Plasticizer concentration (mg)</text>
<text x="923.2" y="754.5" text-anchor="start" font-size="16.5" fill="#000" font-weight="normal" textLength="215.5" lengthAdjust="spacingAndGlyphs">A: Polymer concentration (mg)</text>
<text x="0" y="0" text-anchor="start" font-size="16.5" fill="#000" font-weight="normal" textLength="109.5" lengthAdjust="spacingAndGlyphs" transform="translate(357.2,486) rotate(-90)">tensile strength</text>
<text x="757" y="39.6" text-anchor="start" font-size="26" fill="#000" font-weight="normal" textLength="124" lengthAdjust="spacingAndGlyphs">3D Surface</text>
<text x="4.6" y="22" text-anchor="start" font-size="16.5" fill="#000" font-weight="normal" textLength="161.5" lengthAdjust="spacingAndGlyphs">Factor Coding: Actual</text>
<text x="5.2" y="76.2" text-anchor="start" font-size="16.5" fill="#000" font-weight="bold" textLength="125.5" lengthAdjust="spacingAndGlyphs">tensile strength</text>
<text x="4.4" y="104.8" text-anchor="start" font-size="16.5" fill="#000" font-weight="normal" textLength="107" lengthAdjust="spacingAndGlyphs">Design Points:</text>
<text x="41" y="131.5" text-anchor="start" font-size="16.5" fill="#b00000" font-weight="normal" textLength="108.5" lengthAdjust="spacingAndGlyphs">Above Surface</text>
<text x="40.4" y="159.4" text-anchor="start" font-size="16.5" fill="#b00000" font-weight="normal" textLength="106" lengthAdjust="spacingAndGlyphs">Below Surface</text>
<text x="5" y="186.9" text-anchor="start" font-size="16.5" fill="#0000ff" font-weight="normal" textLength="40.8" lengthAdjust="spacingAndGlyphs">12.56</text>
<text x="119.8" y="186.9" text-anchor="start" font-size="16.5" fill="#ff0000" font-weight="normal" textLength="41.2" lengthAdjust="spacingAndGlyphs">16.94</text>
<text x="5.4" y="242.3" text-anchor="start" font-size="16.5" fill="#000" font-weight="normal" textLength="51.5" lengthAdjust="spacingAndGlyphs">X1 = A</text>
<text x="5.4" y="270.1" text-anchor="start" font-size="16.5" fill="#000" font-weight="normal" textLength="50.6" lengthAdjust="spacingAndGlyphs">X2 = B</text>
</g>
<circle cx="22.5" cy="125.2" r="9.2" fill="#b40000" stroke="#300" stroke-width="0.8"/>
<circle cx="22.5" cy="153.4" r="9.2" fill="#ffc8c8" stroke="#300" stroke-width="0.8"/>
<defs><linearGradient id="lg" x1="0" x2="1" y1="0" y2="0"><stop offset="0" stop-color="#0000ff"/><stop offset="0.5" stop-color="#00ff00"/><stop offset="1" stop-color="#ff0000"/></linearGradient></defs>
<rect x="51.5" y="169.5" width="61" height="24" fill="url(#lg)" stroke="#000" stroke-width="1"/>
</svg>
</body></html>
